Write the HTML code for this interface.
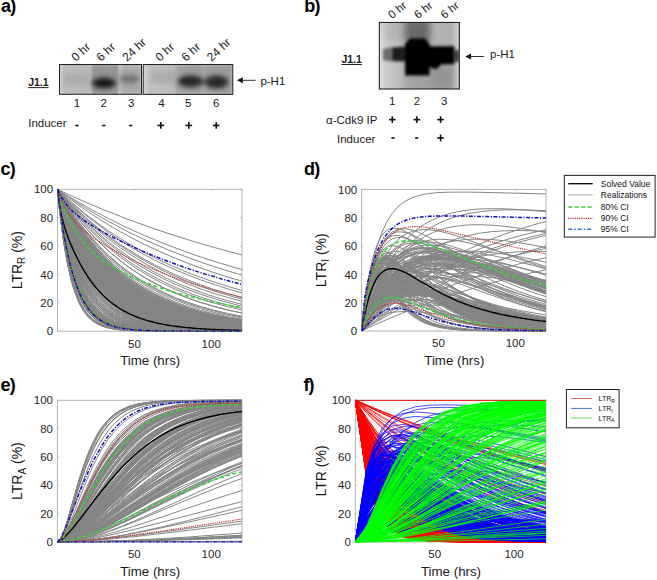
<!DOCTYPE html>
<html><head><meta charset="utf-8"><style>*{margin:0;padding:0}
html,body{width:657px;height:580px;overflow:hidden;background:#fff}
svg{display:block;font-family:"Liberation Sans",sans-serif}
.pl{font-size:18px;font-weight:bold;fill:#000;letter-spacing:-.8px}
.cal{font-size:11.5px;fill:#1a1a1a}
.rot{font-size:12px;fill:#1a1a1a}
.j11{font-size:10.5px;font-weight:bold;fill:#1a1a1a}
.tk{font-size:11.5px;fill:#262626}
.al{font-size:13.3px;fill:#1a1a1a}
.yl{font-size:14px;fill:#1a1a1a}
.lg{font-size:8.5px;fill:#111}
.lg2{font-size:7px;fill:#111}
.fr{stroke:#f00}
.fb{stroke:#00f}
.fg{stroke:#0f0}
.gr{fill:none;stroke:#858585;stroke-width:1}
.bk{fill:none;stroke:#000;stroke-width:1.4}
.cg{fill:none;stroke:#33d633;stroke-width:1.6;stroke-dasharray:4 2.5}
.cr{fill:none;stroke:#c02828;stroke-width:1.1;stroke-dasharray:1.2 1}
.cb{fill:none;stroke:#1010c0;stroke-width:1.5;stroke-dasharray:4 1.5 1.2 1.5}
</style></head><body>
<svg width="657" height="580" viewBox="0 0 657 580">
<defs>
<linearGradient id="ga1" x1="0" x2="1" y1="0" y2="0">
<stop offset="0" stop-color="#cfcfcf"/><stop offset=".06" stop-color="#bdbdbd"/><stop offset=".34" stop-color="#b8b8b8"/><stop offset=".38" stop-color="#c8c8c8"/><stop offset=".42" stop-color="#a5a5a5"/><stop offset=".7" stop-color="#a8a8a8"/><stop offset=".73" stop-color="#cdcdcd"/><stop offset=".78" stop-color="#b3b3b3"/><stop offset=".97" stop-color="#b0b0b0"/><stop offset="1" stop-color="#c8c8c8"/>
</linearGradient>
<linearGradient id="ga2" x1="0" x2="1" y1="0" y2="0">
<stop offset="0" stop-color="#d4d4d4"/><stop offset=".08" stop-color="#c0c0c0"/><stop offset=".35" stop-color="#b9b9b9"/><stop offset=".62" stop-color="#a9a9a9"/><stop offset=".66" stop-color="#b8b8b8"/><stop offset=".97" stop-color="#a8a8a8"/><stop offset="1" stop-color="#c6c6c6"/>
</linearGradient>
<linearGradient id="gb1" x1="0" x2="1" y1="0" y2="0">
<stop offset="0" stop-color="#dedede"/><stop offset=".1" stop-color="#cacaca"/><stop offset=".3" stop-color="#b8b8b8"/><stop offset=".5" stop-color="#a6a6a6"/><stop offset=".7" stop-color="#b4b4b4"/><stop offset=".9" stop-color="#b0b0b0"/><stop offset=".95" stop-color="#c4c4c4"/><stop offset="1" stop-color="#cfcfcf"/>
</linearGradient>
<filter id="bl2" x="-20%" y="-20%" width="140%" height="140%"><feGaussianBlur stdDeviation="2"/></filter>
<filter id="bl3" x="-20%" y="-20%" width="140%" height="140%"><feGaussianBlur stdDeviation="3.5"/></filter>
<filter id="bl15" x="-20%" y="-20%" width="140%" height="140%"><feGaussianBlur stdDeviation="1.6"/></filter>
<clipPath id="cb1"><rect x="59.5" y="64.5" width="82" height="29.8"/></clipPath>
<clipPath id="cb2"><rect x="143.2" y="64.5" width="89.6" height="29.9"/></clipPath>
<clipPath id="cb3"><rect x="379.3" y="22.4" width="80" height="66.6"/></clipPath>
<clipPath id="clipc"><rect x="57.5" y="188.3" width="185.1" height="143.5"/></clipPath>
<clipPath id="clipd"><rect x="361.6" y="188.4" width="185.0" height="143.2"/></clipPath>
<clipPath id="clipe"><rect x="57.4" y="399.3" width="185.2" height="143.3"/></clipPath>
<clipPath id="clipf"><rect x="355.3" y="399.2" width="191.1" height="143.3"/></clipPath>
</defs>
<text x="1" y="12.3" class="pl">a)</text>
<text x="304.2" y="12.3" class="pl">b)</text>
<text x="0.6" y="175.2" class="pl">c)</text>
<text x="304" y="175.2" class="pl">d)</text>
<text x="0.6" y="391.4" class="pl">e)</text>
<text x="303.4" y="391.4" class="pl">f)</text>
<g>
<rect x="59.5" y="64.5" width="82" height="29.8" fill="url(#ga1)"/>
<g clip-path="url(#cb1)" filter="url(#bl2)">
<rect x="64" y="74" width="24" height="11" fill="#9a9a9a" opacity=".45"/>
<rect x="91" y="66" width="27" height="27" fill="#8a8a8a" opacity=".7"/>
<ellipse cx="104" cy="83.2" rx="10.5" ry="4.4" fill="#000"/>
<ellipse cx="104" cy="83" rx="13" ry="7" fill="#222" opacity=".6"/>
<rect x="119" y="70" width="21" height="20" fill="#999" opacity=".5"/>
<ellipse cx="129.5" cy="79" rx="10" ry="4.5" fill="#6a6a6a" opacity=".8"/>
</g>
<rect x="59.5" y="64.5" width="82" height="29.8" fill="none" stroke="#222" stroke-width="1"/>
<rect x="143.2" y="64.5" width="89.6" height="29.9" fill="url(#ga2)"/>
<g clip-path="url(#cb2)" filter="url(#bl2)">
<rect x="151" y="72" width="24" height="11" fill="#999" opacity=".45"/>
<rect x="176" y="66" width="29" height="27" fill="#909090" opacity=".55"/>
<ellipse cx="190.5" cy="81" rx="11.5" ry="5" fill="#111"/>
<ellipse cx="190.5" cy="81.5" rx="14" ry="7.5" fill="#333" opacity=".6"/>
<rect x="205" y="66" width="26" height="27" fill="#8c8c8c" opacity=".55"/>
<ellipse cx="216.5" cy="82" rx="10.5" ry="5.5" fill="#1a1a1a"/>
<ellipse cx="216.5" cy="82" rx="13" ry="8" fill="#333" opacity=".6"/>
</g>
<rect x="143.2" y="64.5" width="89.6" height="29.9" fill="none" stroke="#222" stroke-width="1"/>
</g>
<rect x="379.3" y="22.4" width="80" height="66.6" fill="url(#gb1)"/>
<g clip-path="url(#cb3)">
<g filter="url(#bl3)">
<rect x="404" y="20" width="26" height="22" fill="#5e5e5e" opacity=".85"/>
<rect x="430" y="66" width="24" height="24" fill="#7a7a7a" opacity=".55"/>
<rect x="404" y="74" width="26" height="16" fill="#9a9a9a" opacity=".5"/>
<rect x="384" y="20" width="20" height="20" fill="#a8a8a8" opacity=".5"/>
</g>
<g filter="url(#bl15)">
<path d="M383 49L391 47.5L393 47L405 47V61L393 61.5L383 60Z" fill="#6a6a6a"/>
<path d="M392 47.5L405 46.5V61.5L392 61Z" fill="#1e1e1e"/>
<path d="M410 38.2H425L429.6 44V75.6H405V44Z" fill="#000"/>
<path d="M429 46.2H454.4V64.2L441 64.5L437 69L432 68.5L429 66Z" fill="#040404"/>
<rect x="455" y="50" width="4" height="12" fill="#333"/>
</g>
</g>
<rect x="379.3" y="22.4" width="80" height="66.6" fill="none" stroke="#111" stroke-width="1"/>
<text x="76" y="62" transform="rotate(-43 76 62)" class="rot" style="font-size:12px">0 hr</text>
<text x="101" y="62" transform="rotate(-43 101 62)" class="rot" style="font-size:12px">6 hr</text>
<text x="127" y="62" transform="rotate(-43 127 62)" class="rot" style="font-size:12px">24 hr</text>
<text x="160" y="62" transform="rotate(-43 160 62)" class="rot" style="font-size:12px">0 hr</text>
<text x="186" y="62" transform="rotate(-43 186 62)" class="rot" style="font-size:12px">6 hr</text>
<text x="211.5" y="62" transform="rotate(-43 211.5 62)" class="rot" style="font-size:12px">24 hr</text>
<text x="392" y="19.3" transform="rotate(-39 392 19.3)" class="rot" style="font-size:11.5px">0 hr</text>
<text x="418" y="19.3" transform="rotate(-39 418 19.3)" class="rot" style="font-size:11.5px">6 hr</text>
<text x="444.5" y="19.3" transform="rotate(-39 444.5 19.3)" class="rot" style="font-size:11.5px">6 hr</text>
<text x="28.2" y="85.7" class="j11">J1.1</text><rect x="28.2" y="87.1" width="20.4" height="1" fill="#222"/>
<text x="341.4" y="63.1" class="j11">J1.1</text><rect x="341.4" y="64" width="20.5" height="1" fill="#222"/>
<text x="77" y="107.1" class="cal" text-anchor="middle">1</text>
<text x="103.8" y="107.1" class="cal" text-anchor="middle">2</text>
<text x="131.2" y="107.1" class="cal" text-anchor="middle">3</text>
<text x="161.4" y="107.1" class="cal" text-anchor="middle">4</text>
<text x="188.2" y="107.1" class="cal" text-anchor="middle">5</text>
<text x="216.2" y="107.1" class="cal" text-anchor="middle">6</text>
<text x="392.3" y="104.5" class="cal" text-anchor="middle">1</text>
<text x="416.9" y="104.5" class="cal" text-anchor="middle">2</text>
<text x="444.2" y="104.5" class="cal" text-anchor="middle">3</text>
<text x="28.2" y="127.1" class="cal">Inducer</text>
<text x="337" y="142.8" class="cal">Inducer</text>
<text x="326" y="124" class="cal">α-Cdk9 IP</text>
<rect x="75.4" y="124.7" width="3.2" height="1.6" fill="#111"/>
<rect x="102.2" y="124.7" width="3.2" height="1.6" fill="#111"/>
<rect x="129.1" y="124.7" width="3.2" height="1.6" fill="#111"/>
<rect x="157.5" y="124.65" width="6.6" height="1.6" fill="#111"/><rect x="160.0" y="122.10000000000001" width="1.6" height="6.6" fill="#111"/>
<rect x="185.5" y="124.65" width="6.6" height="1.6" fill="#111"/><rect x="188.0" y="122.10000000000001" width="1.6" height="6.6" fill="#111"/>
<rect x="212.89999999999998" y="124.65" width="6.6" height="1.6" fill="#111"/><rect x="215.39999999999998" y="122.10000000000001" width="1.6" height="6.6" fill="#111"/>
<rect x="389.0" y="118.85" width="6.6" height="1.6" fill="#111"/><rect x="391.5" y="116.3" width="1.6" height="6.6" fill="#111"/>
<rect x="413.59999999999997" y="118.85" width="6.6" height="1.6" fill="#111"/><rect x="416.09999999999997" y="116.3" width="1.6" height="6.6" fill="#111"/>
<rect x="437.3" y="118.85" width="6.6" height="1.6" fill="#111"/><rect x="439.8" y="116.3" width="1.6" height="6.6" fill="#111"/>
<rect x="391.4" y="137.20000000000002" width="3.2" height="1.6" fill="#111"/>
<rect x="415.09999999999997" y="137.20000000000002" width="3.2" height="1.6" fill="#111"/>
<rect x="437.3" y="137.15" width="6.6" height="1.6" fill="#111"/><rect x="439.8" y="134.6" width="1.6" height="6.6" fill="#111"/>
<path d="M236.9 80.3l6 -3v6z" fill="#111"/><rect x="241.9" y="79.8" width="13.699999999999989" height="1" fill="#333"/>
<path d="M465.1 56.5l6 -3v6z" fill="#111"/><rect x="470.1" y="56.0" width="13.699999999999989" height="1" fill="#333"/>
<text x="260.4" y="84.7" class="cal">p-H1</text>
<text x="490" y="57.9" class="cal">p-H1</text>
<rect x="57.5" y="189.3" width="184.5" height="141.9" fill="none" stroke="#b4b4b4" stroke-width="1"/>
<path d="M57.5 331.2h1.8M242.0 331.2h-1.8M57.5 302.8h1.8M242.0 302.8h-1.8M57.5 274.4h1.8M242.0 274.4h-1.8M57.5 246.1h1.8M242.0 246.1h-1.8M57.5 217.7h1.8M242.0 217.7h-1.8M57.5 189.3h1.8M242.0 189.3h-1.8M134.4 331.2v-1.8M134.4 189.3v1.8M211.2 331.2v-1.8M211.2 189.3v1.8" stroke="#b4b4b4" stroke-width=".8" fill="none"/>
<text x="53.1" y="335.3" class="tk" text-anchor="end">0</text>
<text x="53.1" y="306.9" class="tk" text-anchor="end">20</text>
<text x="53.1" y="278.5" class="tk" text-anchor="end">40</text>
<text x="53.1" y="250.2" class="tk" text-anchor="end">60</text>
<text x="53.1" y="221.8" class="tk" text-anchor="end">80</text>
<text x="53.1" y="193.4" class="tk" text-anchor="end">100</text>
<text x="134.4" y="347.6" class="tk" text-anchor="middle">50</text>
<text x="211.2" y="347.6" class="tk" text-anchor="middle">100</text>
<text x="150.2" y="365.2" class="al" text-anchor="middle">Time (hrs)</text>
<text transform="translate(21.8 260.2) rotate(-90)" class="yl" text-anchor="middle">LTR<tspan font-size="10" dy="3.5">R</tspan><tspan dy="-3.5"> (%)</tspan></text>
<g clip-path="url(#clipc)">
<path d="M57.5 189.3l1.5 4.4 1.6 4.2 1.5 4.1 1.5 4 1.6 3.9 1.5 3.7 1.6 3.7 1.5 3.5 1.5 3.4 1.6 3.3 3.1 6.3 3 5.9 3.1 5.6 3.1 5.2 3 4.9 4.7 6.8 4.6 6.2 4.6 5.6 6.1 6.8 6.2 5.9 6.1 5.2 7.7 5.7 7.7 4.9 9.2 4.9 9.3 4.1 10.7 3.9 10.8 3.1 12.3 2.8 12.3 2.2 13.8 1.9 13.9 1.4 13.8 1.1M57.5 189.3l1.5 4 1.6 4 1.5 3.8 1.5 3.7 1.6 3.6 1.5 3.5 1.6 3.4 1.5 3.3 1.5 3.2 1.6 3.1 3.1 6 3 5.6 3.1 5.4 3.1 5 3 4.7 4.7 6.6 4.6 6.1 4.6 5.6 6.1 6.7 6.2 5.9 6.1 5.3 7.7 5.9 7.7 5 9.2 5.2 9.3 4.4 10.7 4.2 10.8 3.4 12.3 3.2 12.3 2.5 13.8 2.2 13.9 1.7 13.8 1.3M57.5 189.3l1.5 3.8 1.6 3.7 1.5 3.6 1.5 3.5 1.6 3.4 1.5 3.3 1.6 3.2 1.5 3.2 1.5 3 1.6 3 3.1 5.7 3 5.4 3.1 5.2 3.1 4.8 3 4.6 4.7 6.5 4.6 5.9 4.6 5.5 6.1 6.6 6.2 6 6.1 5.3 7.7 6 7.7 5.1 9.2 5.4 9.3 4.5 10.7 4.5 10.8 3.6 12.3 3.5 12.3 2.7 13.8 2.5 13.9 1.9 13.8 1.5M57.5 189.3l1.5 6.4 1.6 6 1.5 5.8 1.5 5.6 1.6 5.3 1.5 5 1.6 4.9 1.5 4.6 1.5 4.4 1.6 4.2 3.1 7.9 3 7.1 3.1 6.6 3.1 5.9 3 5.5 4.7 7.3 4.6 6.3 4.6 5.6 6.1 6.3 6.2 5.2 6.1 4.3 7.7 4.5 7.7 3.5 9.2 3.3 9.3 2.5 10.7 2.2 10.8 1.5 12.3 1.3 12.3.9 13.8.7 13.9.4 13.8.3M57.5 189.3l1.5 5.2 1.6 5.1 1.5 4.8 1.5 4.7 1.6 4.5 1.5 4.3 1.6 4.2 1.5 4 1.5 3.9 1.6 3.7 3.1 7.1 3 6.5 3.1 6.1 3.1 5.6 3 5.2 4.7 7.2 4.6 6.3 4.6 5.7 6.1 6.7 6.2 5.7 6.1 5 7.7 5.2 7.7 4.3 9.2 4.2 9.3 3.4 10.7 3.1 10.8 2.3 12.3 2.1 12.3 1.5 13.8 1.2 13.9.9 13.8.6M57.5 189.3l1.5 10.3 1.6 9.5 1.5 8.9 1.5 8.2 1.6 7.6 1.5 7.1 1.6 6.5 1.5 6.1 1.5 5.7 1.6 5.2 3.1 9.3 3 8.1 3.1 6.9 3.1 5.9 3 5.1 4.7 6.4 4.6 5.1 4.6 4 6.1 4.2 6.2 3.1 6.1 2.2 7.7 2.1 7.7 1.4 9.2 1.1 9.3.7 10.7.5 10.8.3 12.3.2 12.3.1 13.8 0 13.9.1 13.8 0M57.5 189.3l1.5 4.1 1.6 3.9 1.5 3.9 1.5 3.7 1.6 3.6 1.5 3.5 1.6 3.5 1.5 3.3 1.5 3.2 1.6 3.1 3.1 6 3 5.7 3.1 5.3 3.1 5.1 3 4.7 4.7 6.7 4.6 6 4.6 5.6 6.1 6.7 6.2 6 6.1 5.3 7.7 5.8 7.7 5 9.2 5.2 9.3 4.3 10.7 4.2 10.8 3.4 12.3 3.2 12.3 2.4 13.8 2.2 13.9 1.7 13.8 1.3M57.5 189.3l1.5 4.1 1.6 4 1.5 3.9 1.5 3.7 1.6 3.7 1.5 3.5 1.6 3.5 1.5 3.3 1.5 3.3 1.6 3.1 3.1 6.1 3 5.7 3.1 5.3 3.1 5.1 3 4.8 4.7 6.6 4.6 6.1 4.6 5.6 6.1 6.7 6.2 6 6.1 5.3 7.7 5.8 7.7 5 9.2 5.1 9.3 4.3 10.7 4.2 10.8 3.3 12.3 3.1 12.3 2.5 13.8 2.1 13.9 1.7 13.8 1.2M57.5 189.3l1.5 9.9 1.6 9.1 1.5 8.6 1.5 7.9 1.6 7.4 1.5 6.9 1.6 6.4 1.5 5.9 1.5 5.6 1.6 5.1 3.1 9.3 3 8 3.1 6.9 3.1 6 3 5.3 4.7 6.5 4.6 5.3 4.6 4.2 6.1 4.4 6.2 3.3 6.1 2.5 7.7 2.2 7.7 1.6 9.2 1.3 9.3.8 10.7.6 10.8.3 12.3.3 12.3.1 13.8.1 13.9.1 13.8 0M57.5 189.3l1.5 3.1 1.6 3 1.5 2.9 1.5 2.9 1.6 2.8 1.5 2.7 1.6 2.7 1.5 2.7 1.5 2.5 1.6 2.5 3.1 4.9 3 4.7 3.1 4.5 3.1 4.2 3 4.1 4.7 5.8 4.6 5.5 4.6 5.1 6.1 6.3 6.2 5.8 6.1 5.3 7.7 6 7.7 5.3 9.2 5.8 9.3 5 10.7 5.1 10.8 4.3 12.3 4.2 12.3 3.6 13.8 3.3 13.9 2.7 13.8 2.3M57.5 189.3l1.5 4.1 1.6 4 1.5 3.8 1.5 3.8 1.6 3.6 1.5 3.5 1.6 3.5 1.5 3.3 1.5 3.2 1.6 3.2 3.1 6 3 5.7 3.1 5.3 3.1 5.1 3 4.7 4.7 6.7 4.6 6.1 4.6 5.5 6.1 6.7 6.2 6 6.1 5.3 7.7 5.8 7.7 5.1 9.2 5.1 9.3 4.3 10.7 4.2 10.8 3.4 12.3 3.1 12.3 2.5 13.8 2.1 13.9 1.7 13.8 1.3M57.5 189.3l1.5 3.9 1.6 3.7 1.5 3.7 1.5 3.6 1.6 3.4 1.5 3.4 1.6 3.3 1.5 3.2 1.5 3.1 1.6 3 3.1 5.8 3 5.5 3.1 5.2 3.1 4.9 3 4.6 4.7 6.5 4.6 6 4.6 5.5 6.1 6.7 6.2 5.9 6.1 5.4 7.7 5.9 7.7 5.1 9.2 5.3 9.3 4.5 10.7 4.3 10.8 3.6 12.3 3.4 12.3 2.7 13.8 2.4 13.9 1.8 13.8 1.5M57.5 189.3l1.5 11.8 1.6 10.8 1.5 9.9 1.5 9.1 1.6 8.4 1.5 7.6 1.6 7 1.5 6.4 1.5 5.9 1.6 5.4 3.1 9.5 3 8 3.1 6.7 3.1 5.7 3 4.7 4.7 5.7 4.6 4.4 4.6 3.5 6.1 3.3 6.2 2.4 6.1 1.7 7.7 1.4 7.7.9 9.2.7 9.3.4 10.7.3 10.8.1 12.3.1 12.3.1 13.8 0 13.9 0 13.8 0M57.5 189.3l1.5 11.9 1.6 10.9 1.5 10 1.5 9.1 1.6 8.4 1.5 7.7 1.6 7 1.5 6.4 1.5 5.9 1.6 5.4 3.1 9.5 3 8 3.1 6.7 3.1 5.6 3 4.7 4.7 5.7 4.6 4.4 4.6 3.4 6.1 3.3 6.2 2.3 6.1 1.7 7.7 1.4 7.7.9 9.2.6 9.3.4 10.7.3 10.8.1 12.3.1 12.3.1 13.8 0 13.9 0 13.8 0M57.5 189.3l1.5 3.3 1.6 3.3 1.5 3.1 1.5 3.1 1.6 3 1.5 3 1.6 2.8 1.5 2.9 1.5 2.7 1.6 2.7 3.1 5.2 3 4.9 3.1 4.7 3.1 4.5 3 4.3 4.7 6 4.6 5.7 4.6 5.2 6.1 6.5 6.2 5.8 6.1 5.4 7.7 6 7.7 5.3 9.2 5.6 9.3 4.9 10.7 4.9 10.8 4.1 12.3 4 12.3 3.3 13.8 3 13.9 2.4 13.8 2M57.5 189.3l1.5 10 1.6 9.2 1.5 8.6 1.5 8 1.6 7.4 1.5 7 1.6 6.4 1.5 6 1.5 5.5 1.6 5.2 3.1 9.3 3 8 3.1 7 3.1 6 3 5.2 4.7 6.4 4.6 5.3 4.6 4.2 6.1 4.3 6.2 3.3 6.1 2.4 7.7 2.2 7.7 1.5 9.2 1.3 9.3.7 10.7.6 10.8.4 12.3.2 12.3.1 13.8.1 13.9.1 13.8 0M57.5 189.3l1.5 4.1 1.6 4 1.5 3.9 1.5 3.8 1.6 3.7 1.5 3.6 1.6 3.4 1.5 3.4 1.5 3.3 1.6 3.1 3.1 6.1 3 5.7 3.1 5.4 3.1 5.1 3 4.8 4.7 6.6 4.6 6.1 4.6 5.6 6.1 6.7 6.2 6 6.1 5.3 7.7 5.8 7.7 5 9.2 5.1 9.3 4.3 10.7 4.1 10.8 3.3 12.3 3.1 12.3 2.4 13.8 2.1 13.9 1.7 13.8 1.2M57.5 189.3l1.5 8.8 1.6 8.3 1.5 7.8 1.5 7.3 1.6 6.8 1.5 6.5 1.6 6 1.5 5.6 1.5 5.3 1.6 4.9 3.1 9 3 8 3.1 6.9 3.1 6.1 3 5.4 4.7 6.9 4.6 5.7 4.6 4.6 6.1 5 6.2 3.9 6.1 3 7.7 2.7 7.7 2.1 9.2 1.7 9.3 1.1 10.7.9 10.8.6 12.3.4 12.3.2 13.8.2 13.9.1 13.8 0M57.5 189.3l1.5 12.2 1.6 11.1 1.5 10.2 1.5 9.3 1.6 8.5 1.5 7.8 1.6 7.1 1.5 6.5 1.5 5.9 1.6 5.5 3.1 9.5 3 7.9 3.1 6.6 3.1 5.6 3 4.6 4.7 5.6 4.6 4.2 4.6 3.3 6.1 3.2 6.2 2.2 6.1 1.5 7.7 1.3 7.7.8 9.2.6 9.3.4 10.7.2 10.8.2 12.3 0 12.3.1 13.8 0 13.9 0 13.8 0M57.5 189.3l1.5 3 1.6 2.9 1.5 2.8 1.5 2.8 1.6 2.8 1.5 2.6 1.6 2.7 1.5 2.5 1.5 2.5 1.6 2.5 3.1 4.8 3 4.5 3.1 4.4 3.1 4.2 3 4 4.7 5.7 4.6 5.4 4.6 5 6.1 6.3 6.2 5.7 6.1 5.3 7.7 5.9 7.7 5.4 9.2 5.8 9.3 5 10.7 5.2 10.8 4.4 12.3 4.4 12.3 3.6 13.8 3.4 13.9 2.9 13.8 2.3M57.5 189.3l1.5 4.3 1.6 4.3 1.5 4.1 1.5 3.9 1.6 3.9 1.5 3.7 1.6 3.6 1.5 3.5 1.5 3.4 1.6 3.3 3.1 6.2 3 5.9 3.1 5.6 3.1 5.2 3 4.9 4.7 6.8 4.6 6.1 4.6 5.7 6.1 6.7 6.2 6 6.1 5.2 7.7 5.7 7.7 4.9 9.2 4.9 9.3 4.1 10.7 3.9 10.8 3.2 12.3 2.8 12.3 2.3 13.8 1.9 13.9 1.4 13.8 1.1M57.5 189.3l1.5 11.2 1.6 10.3 1.5 9.5 1.5 8.8 1.6 8 1.5 7.4 1.6 6.9 1.5 6.3 1.5 5.8 1.6 5.3 3.1 9.5 3 8 3.1 6.8 3.1 5.8 3 4.9 4.7 6 4.6 4.6 4.6 3.7 6.1 3.7 6.2 2.6 6.1 1.9 7.7 1.7 7.7 1.1 9.2.8 9.3.5 10.7.3 10.8.2 12.3.2 12.3 0 13.8.1 13.9 0 13.8 0M57.5 189.3l1.5 3.1 1.6 3.1 1.5 2.9 1.5 3 1.6 2.8 1.5 2.8 1.6 2.7 1.5 2.7 1.5 2.6 1.6 2.6 3.1 4.9 3 4.7 3.1 4.5 3.1 4.3 3 4.2 4.7 5.8 4.6 5.5 4.6 5.2 6.1 6.3 6.2 5.8 6.1 5.3 7.7 6 7.7 5.4 9.2 5.7 9.3 5 10.7 5 10.8 4.3 12.3 4.2 12.3 3.5 13.8 3.3 13.9 2.6 13.8 2.2M57.5 189.3l1.5 5.1 1.6 4.9 1.5 4.8 1.5 4.5 1.6 4.5 1.5 4.2 1.6 4.1 1.5 4 1.5 3.8 1.6 3.6 3.1 7 3 6.5 3.1 6 3.1 5.5 3 5.2 4.7 7.1 4.6 6.4 4.6 5.7 6.1 6.7 6.2 5.7 6.1 5 7.7 5.3 7.7 4.4 9.2 4.3 9.3 3.5 10.7 3.2 10.8 2.5 12.3 2.1 12.3 1.6 13.8 1.3 13.9 1 13.8.7M57.5 189.3l1.5 11.6 1.6 10.7 1.5 9.7 1.5 9 1.6 8.3 1.5 7.5 1.6 7 1.5 6.4 1.5 5.9 1.6 5.3 3.1 9.5 3 8 3.1 6.8 3.1 5.6 3 4.8 4.7 5.9 4.6 4.5 4.6 3.4 6.1 3.5 6.2 2.5 6.1 1.7 7.7 1.5 7.7 1 9.2.7 9.3.4 10.7.3 10.8.2 12.3.1 12.3 0 13.8.1 13.9 0 13.8 0M57.5 189.3l1.5 4.6 1.6 4.5 1.5 4.4 1.5 4.1 1.6 4.1 1.5 3.9 1.6 3.8 1.5 3.7 1.5 3.6 1.6 3.4 3.1 6.5 3 6.2 3.1 5.7 3.1 5.3 3 5.1 4.7 6.9 4.6 6.3 4.6 5.6 6.1 6.8 6.2 5.9 6.1 5.1 7.7 5.6 7.7 4.7 9.2 4.7 9.3 3.9 10.7 3.6 10.8 2.9 12.3 2.6 12.3 1.9 13.8 1.7 13.9 1.2 13.8 1M57.5 189.3l1.5 3 1.6 3 1.5 2.9 1.5 2.9 1.6 2.8 1.5 2.7 1.6 2.7 1.5 2.6 1.5 2.6 1.6 2.5 3.1 4.8 3 4.7 3.1 4.4 3.1 4.3 3 4.1 4.7 5.8 4.6 5.4 4.6 5.1 6.1 6.3 6.2 5.7 6.1 5.3 7.7 6 7.7 5.4 9.2 5.7 9.3 5.1 10.7 5.1 10.8 4.3 12.3 4.3 12.3 3.6 13.8 3.3 13.9 2.7 13.8 2.3M57.5 189.3l1.5 7 1.6 6.7 1.5 6.3 1.5 6.1 1.6 5.7 1.5 5.5 1.6 5.1 1.5 5 1.5 4.6 1.6 4.5 3.1 8.2 3 7.5 3.1 6.7 3.1 6.1 3 5.5 4.7 7.2 4.6 6.3 4.6 5.3 6.1 6 6.2 4.9 6.1 4 7.7 4 7.7 3 9.2 2.8 9.3 2.1 10.7 1.7 10.8 1.3 12.3.9 12.3.6 13.8.5 13.9.3 13.8.2M57.5 189.3l1.5 7.3 1.6 6.9 1.5 6.5 1.5 6.2 1.6 5.9 1.5 5.6 1.6 5.3 1.5 5 1.5 4.8 1.6 4.5 3.1 8.4 3 7.5 3.1 6.8 3.1 6.1 3 5.5 4.7 7.2 4.6 6.2 4.6 5.3 6.1 5.9 6.2 4.7 6.1 3.9 7.7 3.8 7.7 2.9 9.2 2.6 9.3 1.9 10.7 1.6 10.8 1.1 12.3.9 12.3.5 13.8.4 13.9.3 13.8.1M57.5 189.3l1.5 5.7 1.6 5.4 1.5 5.2 1.5 5 1.6 4.9 1.5 4.6 1.6 4.4 1.5 4.3 1.5 4.1 1.6 3.9 3.1 7.4 3 6.8 3.1 6.3 3.1 5.8 3 5.3 4.7 7.2 4.6 6.4 4.6 5.7 6.1 6.5 6.2 5.6 6.1 4.7 7.7 4.9 7.7 4.1 9.2 3.8 9.3 3 10.7 2.7 10.8 2 12.3 1.8 12.3 1.2 13.8 1 13.9.7 13.8.4M57.5 189.3l1.5 9.7 1.6 9 1.5 8.4 1.5 7.8 1.6 7.3 1.5 6.8 1.6 6.3 1.5 5.9 1.5 5.5 1.6 5.1 3.1 9.2 3 8 3.1 7 3.1 6 3 5.3 4.7 6.6 4.6 5.3 4.6 4.3 6.1 4.6 6.2 3.4 6.1 2.5 7.7 2.4 7.7 1.6 9.2 1.4 9.3.8 10.7.7 10.8.4 12.3.2 12.3.2 13.8.1 13.9 0 13.8.1M57.5 189.3l1.5 5.2 1.6 5 1.5 4.8 1.5 4.7 1.6 4.5 1.5 4.3 1.6 4.2 1.5 4 1.5 3.8 1.6 3.7 3.1 7.1 3 6.5 3.1 6.1 3.1 5.6 3 5.2 4.7 7.1 4.6 6.4 4.6 5.7 6.1 6.7 6.2 5.7 6.1 4.9 7.7 5.3 7.7 4.3 9.2 4.2 9.3 3.4 10.7 3.1 10.8 2.4 12.3 2.1 12.3 1.5 13.8 1.3 13.9.9 13.8.6M57.5 189.3l1.5 3.6 1.6 3.5 1.5 3.4 1.5 3.4 1.6 3.2 1.5 3.2 1.6 3.1 1.5 3 1.5 2.9 1.6 2.9 3.1 5.5 3 5.2 3.1 5 3.1 4.7 3 4.5 4.7 6.3 4.6 5.8 4.6 5.4 6.1 6.6 6.2 5.9 6.1 5.4 7.7 5.9 7.7 5.3 9.2 5.4 9.3 4.7 10.7 4.7 10.8 3.8 12.3 3.7 12.3 2.9 13.8 2.7 13.9 2.1 13.8 1.7M57.5 189.3l1.5 11.3 1.6 10.5 1.5 9.6 1.5 8.8 1.6 8.1 1.5 7.5 1.6 6.9 1.5 6.3 1.5 5.8 1.6 5.4 3.1 9.5 3 8 3.1 6.8 3.1 5.7 3 4.9 4.7 5.9 4.6 4.6 4.6 3.6 6.1 3.6 6.2 2.6 6.1 1.8 7.7 1.6 7.7 1.1 9.2.8 9.3.5 10.7.3 10.8.2 12.3.1 12.3 0 13.8.1 13.9 0 13.8 0M57.5 189.3l1.5 7.3 1.6 7 1.5 6.6 1.5 6.3 1.6 5.9 1.5 5.6 1.6 5.4 1.5 5 1.5 4.8 1.6 4.6 3.1 8.4 3 7.5 3.1 6.8 3.1 6.1 3 5.5 4.7 7.3 4.6 6.1 4.6 5.3 6.1 5.8 6.2 4.7 6.1 3.8 7.7 3.8 7.7 2.8 9.2 2.6 9.3 1.9 10.7 1.6 10.8 1 12.3.8 12.3.6 13.8.4 13.9.2 13.8.2M57.5 189.3l1.5 4.2 1.6 4.1 1.5 4 1.5 3.9 1.6 3.7 1.5 3.7 1.6 3.5 1.5 3.4 1.5 3.4 1.6 3.2 3.1 6.1 3 5.8 3.1 5.5 3.1 5.1 3 4.9 4.7 6.7 4.6 6.1 4.6 5.7 6.1 6.7 6.2 5.9 6.1 5.3 7.7 5.8 7.7 4.9 9.2 5.1 9.3 4.2 10.7 4 10.8 3.2 12.3 3 12.3 2.3 13.8 2 13.9 1.6 13.8 1.2M57.5 189.3l1.5 6.1 1.6 5.8 1.5 5.6 1.5 5.3 1.6 5.1 1.5 4.9 1.6 4.6 1.5 4.5 1.5 4.3 1.6 4.1 3.1 7.7 3 7 3.1 6.4 3.1 5.9 3 5.5 4.7 7.2 4.6 6.4 4.6 5.6 6.1 6.4 6.2 5.4 6.1 4.5 7.7 4.6 7.7 3.8 9.2 3.5 9.3 2.7 10.7 2.4 10.8 1.7 12.3 1.5 12.3 1 13.8.8 13.9.5 13.8.4M57.5 189.3l1.5 3.3 1.6 3.2 1.5 3.1 1.5 3.1 1.6 2.9 1.5 2.9 1.6 2.9 1.5 2.8 1.5 2.7 1.6 2.6 3.1 5.2 3 4.9 3.1 4.6 3.1 4.5 3 4.2 4.7 6.1 4.6 5.6 4.6 5.2 6.1 6.4 6.2 5.9 6.1 5.3 7.7 6 7.7 5.4 9.2 5.6 9.3 4.9 10.7 4.9 10.8 4.2 12.3 4 12.3 3.3 13.8 3.1 13.9 2.5 13.8 2M57.5 189.3l1.5 12.6 1.6 11.6 1.5 10.4 1.5 9.6 1.6 8.7 1.5 7.9 1.6 7.2 1.5 6.6 1.5 6 1.6 5.5 3.1 9.5 3 7.9 3.1 6.5 3.1 5.4 3 4.5 4.7 5.4 4.6 4.1 4.6 3 6.1 3 6.2 2 6.1 1.4 7.7 1.2 7.7.7 9.2.5 9.3.3 10.7.2 10.8.1 12.3 0 12.3.1 13.8 0 13.9 0 13.8 0M57.5 189.3l1.5 1.8 1.6 1.8 1.5 1.8 1.5 1.8 1.6 1.7 1.5 1.7 1.6 1.7 1.5 1.7 1.5 1.7 1.6 1.6 3.1 3.2 3 3.1 3.1 3 3.1 3 3 2.9 4.7 4.1 4.6 4.1 4.6 3.8 6.1 5 6.2 4.6 6.1 4.5 7.7 5.2 7.7 4.9 9.2 5.5 9.3 5.1 10.7 5.4 10.8 5 12.3 5.1 12.3 4.7 13.8 4.7 13.9 4.1 13.8 3.7M57.5 189.3l1.5 1 1.6 1 1.5.9 1.5 1 1.6 1 1.5.9 1.6.9 1.5 1 1.5.9 1.6.9 3.1 1.9 3 1.8 3.1 1.7 3.1 1.8 3 1.7 4.7 2.6 4.6 2.5 4.6 2.4 6.1 3.2 6.2 3.1 6.1 3 7.7 3.7 7.7 3.5 9.2 4 9.3 3.9 10.7 4.4 10.8 4.1 12.3 4.5 12.3 4.3 13.8 4.5 13.9 4.2 13.8 4M57.5 189.3l1.5 3.5 1.6 3.4 1.5 3.4 1.5 3.2 1.6 3.2 1.5 3.1 1.6 3 1.5 2.9 1.5 2.9 1.6 2.8 3.1 5.4 3 5.1 3.1 4.9 3.1 4.6 3 4.4 4.7 6.3 4.6 5.7 4.6 5.4 6.1 6.5 6.2 5.9 6.1 5.4 7.7 6 7.7 5.3 9.2 5.5 9.3 4.7 10.7 4.8 10.8 3.9 12.3 3.8 12.3 3 13.8 2.8 13.9 2.3 13.8 1.7M57.5 189.3l1.5 4.8 1.6 4.7 1.5 4.5 1.5 4.4 1.6 4.2 1.5 4.1 1.6 3.9 1.5 3.8 1.5 3.7 1.6 3.5 3.1 6.7 3 6.3 3.1 5.9 3.1 5.4 3 5.1 4.7 7 4.6 6.3 4.6 5.7 6.1 6.7 6.2 5.9 6.1 5.1 7.7 5.4 7.7 4.6 9.2 4.6 9.3 3.7 10.7 3.4 10.8 2.7 12.3 2.4 12.3 1.8 13.8 1.5 13.9 1.1 13.8.8M57.5 189.3l1.5 6.5 1.6 6.1 1.5 5.9 1.5 5.6 1.6 5.4 1.5 5.1 1.6 4.9 1.5 4.7 1.5 4.4 1.6 4.3 3.1 7.9 3 7.2 3.1 6.6 3.1 6 3 5.4 4.7 7.3 4.6 6.4 4.6 5.5 6.1 6.2 6.2 5.2 6.1 4.3 7.7 4.4 7.7 3.4 9.2 3.2 9.3 2.5 10.7 2.1 10.8 1.5 12.3 1.2 12.3.8 13.8.7 13.9.4 13.8.3M57.5 189.3l1.5 5.2 1.6 5 1.5 4.8 1.5 4.6 1.6 4.5 1.5 4.3 1.6 4.1 1.5 4 1.5 3.8 1.6 3.7 3.1 7 3 6.6 3.1 6 3.1 5.6 3 5.2 4.7 7.1 4.6 6.4 4.6 5.7 6.1 6.7 6.2 5.7 6.1 5 7.7 5.2 7.7 4.4 9.2 4.2 9.3 3.4 10.7 3.2 10.8 2.4 12.3 2.1 12.3 1.5 13.8 1.3 13.9.9 13.8.7M57.5 189.3l1.5 4.3 1.6 4.2 1.5 4.1 1.5 3.9 1.6 3.9 1.5 3.7 1.6 3.6 1.5 3.4 1.5 3.4 1.6 3.3 3.1 6.3 3 5.8 3.1 5.6 3.1 5.2 3 4.8 4.7 6.8 4.6 6.2 4.6 5.6 6.1 6.8 6.2 5.9 6.1 5.3 7.7 5.7 7.7 4.9 9.2 4.9 9.3 4.1 10.7 4 10.8 3.1 12.3 2.9 12.3 2.2 13.8 2 13.9 1.4 13.8 1.2M57.5 189.3l1.5 3.6 1.6 3.5 1.5 3.3 1.5 3.4 1.6 3.2 1.5 3.1 1.6 3.1 1.5 3 1.5 2.9 1.6 2.8 3.1 5.5 3 5.2 3.1 4.9 3.1 4.7 3 4.5 4.7 6.3 4.6 5.8 4.6 5.4 6.1 6.5 6.2 6 6.1 5.3 7.7 6 7.7 5.2 9.2 5.5 9.3 4.7 10.7 4.7 10.8 3.9 12.3 3.7 12.3 2.9 13.8 2.8 13.9 2.1 13.8 1.7M57.5 189.3l1.5 5.9 1.6 5.6 1.5 5.4 1.5 5.2 1.6 4.9 1.5 4.8 1.6 4.5 1.5 4.4 1.5 4.2 1.6 4 3.1 7.5 3 6.9 3.1 6.4 3.1 5.8 3 5.4 4.7 7.3 4.6 6.4 4.6 5.6 6.1 6.5 6.2 5.4 6.1 4.7 7.7 4.8 7.7 3.8 9.2 3.7 9.3 2.9 10.7 2.5 10.8 1.9 12.3 1.6 12.3 1.1 13.8.9 13.9.6 13.8.4M57.5 189.3l1.5 3.6 1.6 3.6 1.5 3.4 1.5 3.4 1.6 3.3 1.5 3.1 1.6 3.2 1.5 3 1.5 2.9 1.6 2.9 3.1 5.5 3 5.3 3.1 5 3.1 4.7 3 4.5 4.7 6.3 4.6 5.9 4.6 5.4 6.1 6.6 6.2 5.9 6.1 5.4 7.7 5.9 7.7 5.3 9.2 5.4 9.3 4.7 10.7 4.6 10.8 3.8 12.3 3.6 12.3 3 13.8 2.6 13.9 2.1 13.8 1.7M57.5 189.3l1.5 8.1 1.6 7.6 1.5 7.1 1.5 6.8 1.6 6.4 1.5 6 1.6 5.6 1.5 5.4 1.5 5 1.6 4.8 3.1 8.7 3 7.8 3.1 6.9 3.1 6.1 3 5.5 4.7 7.1 4.6 6 4.6 4.9 6.1 5.5 6.2 4.3 6.1 3.4 7.7 3.3 7.7 2.4 9.2 2.1 9.3 1.5 10.7 1.2 10.8.8 12.3.6 12.3.4 13.8.2 13.9.2 13.8.1M57.5 189.3l1.5 3.8 1.6 3.8 1.5 3.6 1.5 3.5 1.6 3.5 1.5 3.3 1.6 3.3 1.5 3.1 1.5 3.1 1.6 3 3.1 5.7 3 5.5 3.1 5.1 3.1 4.9 3 4.6 4.7 6.5 4.6 6 4.6 5.5 6.1 6.6 6.2 6 6.1 5.3 7.7 5.9 7.7 5.2 9.2 5.3 9.3 4.5 10.7 4.4 10.8 3.7 12.3 3.4 12.3 2.7 13.8 2.4 13.9 1.9 13.8 1.5M57.5 189.3l1.5 5.5 1.6 5.2 1.5 5.1 1.5 4.8 1.6 4.7 1.5 4.5 1.6 4.3 1.5 4.1 1.5 4 1.6 3.9 3.1 7.2 3 6.7 3.1 6.2 3.1 5.7 3 5.3 4.7 7.2 4.6 6.3 4.6 5.7 6.1 6.6 6.2 5.7 6.1 4.8 7.7 5.1 7.7 4.1 9.2 4 9.3 3.2 10.7 2.9 10.8 2.2 12.3 1.8 12.3 1.4 13.8 1.1 13.9.8 13.8.5M57.5 189.3l1.5 5.3 1.6 5 1.5 4.9 1.5 4.7 1.6 4.5 1.5 4.4 1.6 4.2 1.5 4 1.5 3.9 1.6 3.8 3.1 7 3 6.6 3.1 6.1 3.1 5.6 3 5.3 4.7 7.1 4.6 6.4 4.6 5.7 6.1 6.6 6.2 5.8 6.1 4.9 7.7 5.2 7.7 4.3 9.2 4.1 9.3 3.4 10.7 3 10.8 2.4 12.3 2 12.3 1.5 13.8 1.2 13.9.9 13.8.6M57.5 189.3l1.5 4.7 1.6 4.6 1.5 4.4 1.5 4.3 1.6 4.1 1.5 4 1.6 3.8 1.5 3.7 1.5 3.6 1.6 3.5 3.1 6.6 3 6.2 3.1 5.8 3.1 5.4 3 5.1 4.7 6.9 4.6 6.3 4.6 5.7 6.1 6.7 6.2 5.9 6.1 5.1 7.7 5.6 7.7 4.6 9.2 4.7 9.3 3.8 10.7 3.5 10.8 2.8 12.3 2.5 12.3 1.9 13.8 1.6 13.9 1.2 13.8.9M57.5 189.3l1.5 4.8 1.6 4.6 1.5 4.5 1.5 4.3 1.6 4.2 1.5 4.1 1.6 3.9 1.5 3.7 1.5 3.7 1.6 3.5 3.1 6.7 3 6.2 3.1 5.8 3.1 5.5 3 5.1 4.7 7 4.6 6.3 4.6 5.6 6.1 6.8 6.2 5.8 6.1 5.1 7.7 5.5 7.7 4.6 9.2 4.6 9.3 3.7 10.7 3.5 10.8 2.7 12.3 2.5 12.3 1.8 13.8 1.5 13.9 1.2 13.8.8M57.5 189.3l1.5 3.5 1.6 3.3 1.5 3.3 1.5 3.2 1.6 3.1 1.5 3.1 1.6 3 1.5 2.9 1.5 2.8 1.6 2.8 3.1 5.3 3 5.1 3.1 4.8 3.1 4.6 3 4.4 4.7 6.2 4.6 5.7 4.6 5.3 6.1 6.6 6.2 5.9 6.1 5.3 7.7 6 7.7 5.3 9.2 5.5 9.3 4.8 10.7 4.8 10.8 4 12.3 3.8 12.3 3.1 13.8 2.9 13.9 2.3 13.8 1.8M57.5 189.3l1.5 5.5 1.6 5.2 1.5 5.1 1.5 4.9 1.6 4.7 1.5 4.5 1.6 4.3 1.5 4.1 1.5 4 1.6 3.9 3.1 7.2 3 6.7 3.1 6.2 3.1 5.7 3 5.3 4.7 7.2 4.6 6.4 4.6 5.7 6.1 6.6 6.2 5.6 6.1 4.9 7.7 5 7.7 4.1 9.2 4.1 9.3 3.1 10.7 2.9 10.8 2.2 12.3 1.8 12.3 1.4 13.8 1 13.9.8 13.8.5M57.5 189.3l1.5 2 1.6 1.9 1.5 1.9 1.5 1.9 1.6 1.8 1.5 1.8 1.6 1.8 1.5 1.8 1.5 1.8 1.6 1.7 3.1 3.4 3 3.3 3.1 3.2 3.1 3.1 3 3 4.7 4.4 4.6 4.2 4.6 4 6.1 5.2 6.2 4.8 6.1 4.6 7.7 5.4 7.7 5 9.2 5.6 9.3 5.1 10.7 5.5 10.8 5 12.3 5.1 12.3 4.6 13.8 4.6 13.9 4 13.8 3.6M57.5 189.3l1.5 3.7 1.6 3.6 1.5 3.6 1.5 3.4 1.6 3.3 1.5 3.3 1.6 3.2 1.5 3 1.5 3.1 1.6 2.9 3.1 5.6 3 5.3 3.1 5.1 3.1 4.8 3 4.5 4.7 6.4 4.6 5.9 4.6 5.5 6.1 6.6 6.2 5.9 6.1 5.4 7.7 5.9 7.7 5.2 9.2 5.4 9.3 4.6 10.7 4.6 10.8 3.7 12.3 3.5 12.3 2.9 13.8 2.5 13.9 2 13.8 1.6M57.5 189.3l1.5 3.3 1.6 3.2 1.5 3.1 1.5 3.1 1.6 3 1.5 2.9 1.6 2.9 1.5 2.7 1.5 2.8 1.6 2.6 3.1 5.2 3 4.9 3.1 4.7 3.1 4.4 3 4.3 4.7 6 4.6 5.6 4.6 5.3 6.1 6.4 6.2 5.9 6.1 5.3 7.7 6 7.7 5.3 9.2 5.7 9.3 4.9 10.7 4.9 10.8 4.1 12.3 4 12.3 3.3 13.8 3.1 13.9 2.5 13.8 2M57.5 189.3l1.5 12.1 1.6 11.1 1.5 10.1 1.5 9.3 1.6 8.5 1.5 7.7 1.6 7.1 1.5 6.5 1.5 5.9 1.6 5.5 3.1 9.5 3 7.9 3.1 6.7 3.1 5.5 3 4.7 4.7 5.6 4.6 4.2 4.6 3.3 6.1 3.2 6.2 2.3 6.1 1.5 7.7 1.4 7.7.8 9.2.6 9.3.4 10.7.2 10.8.2 12.3 0 12.3.1 13.8 0 13.9 0 13.8 0M57.5 189.3l1.5 3.7 1.6 3.5 1.5 3.5 1.5 3.4 1.6 3.3 1.5 3.2 1.6 3.1 1.5 3 1.5 3 1.6 2.9 3.1 5.6 3 5.2 3.1 5 3.1 4.8 3 4.5 4.7 6.3 4.6 5.9 4.6 5.4 6.1 6.6 6.2 6 6.1 5.3 7.7 6 7.7 5.2 9.2 5.4 9.3 4.7 10.7 4.6 10.8 3.8 12.3 3.6 12.3 2.9 13.8 2.6 13.9 2.1 13.8 1.6M57.5 189.3l1.5 5.1 1.6 4.9 1.5 4.7 1.5 4.6 1.6 4.3 1.5 4.3 1.6 4.1 1.5 3.9 1.5 3.8 1.6 3.7 3.1 6.9 3 6.4 3.1 6 3.1 5.6 3 5.2 4.7 7 4.6 6.4 4.6 5.7 6.1 6.7 6.2 5.8 6.1 5 7.7 5.3 7.7 4.4 9.2 4.3 9.3 3.5 10.7 3.2 10.8 2.5 12.3 2.2 12.3 1.6 13.8 1.4 13.9.9 13.8.7M57.5 189.3l1.5 4.3 1.6 4.2 1.5 4 1.5 3.9 1.6 3.8 1.5 3.7 1.6 3.6 1.5 3.5 1.5 3.3 1.6 3.3 3.1 6.2 3 5.9 3.1 5.5 3.1 5.2 3 4.8 4.7 6.8 4.6 6.2 4.6 5.6 6.1 6.7 6.2 6 6.1 5.2 7.7 5.8 7.7 4.9 9.2 4.9 9.3 4.2 10.7 3.9 10.8 3.2 12.3 2.9 12.3 2.3 13.8 2 13.9 1.4 13.8 1.2M57.5 189.3l1.5 5 1.6 4.8 1.5 4.6 1.5 4.5 1.6 4.4 1.5 4.1 1.6 4 1.5 3.9 1.5 3.8 1.6 3.6 3.1 6.8 3 6.4 3.1 6 3.1 5.5 3 5.1 4.7 7.1 4.6 6.3 4.6 5.7 6.1 6.7 6.2 5.9 6.1 5 7.7 5.4 7.7 4.4 9.2 4.5 9.3 3.5 10.7 3.3 10.8 2.6 12.3 2.2 12.3 1.7 13.8 1.4 13.9 1 13.8.8M57.5 189.3l1.5 3.4 1.6 3.3 1.5 3.2 1.5 3.2 1.6 3 1.5 3 1.6 3 1.5 2.8 1.5 2.8 1.6 2.7 3.1 5.3 3 5 3.1 4.8 3.1 4.5 3 4.3 4.7 6.2 4.6 5.6 4.6 5.3 6.1 6.5 6.2 5.9 6.1 5.4 7.7 5.9 7.7 5.4 9.2 5.5 9.3 4.9 10.7 4.8 10.8 4.1 12.3 3.9 12.3 3.2 13.8 2.9 13.9 2.4 13.8 1.9M57.5 189.3l1.5 3.2 1.6 3.2 1.5 3.1 1.5 3 1.6 3 1.5 2.8 1.6 2.9 1.5 2.7 1.5 2.7 1.6 2.6 3.1 5.1 3 4.9 3.1 4.6 3.1 4.4 3 4.3 4.7 5.9 4.6 5.6 4.6 5.2 6.1 6.4 6.2 5.9 6.1 5.3 7.7 6 7.7 5.4 9.2 5.6 9.3 4.9 10.7 5 10.8 4.2 12.3 4 12.3 3.4 13.8 3.1 13.9 2.5 13.8 2.1M57.5 189.3l1.5 4.9 1.6 4.7 1.5 4.5 1.5 4.4 1.6 4.3 1.5 4.1 1.6 3.9 1.5 3.9 1.5 3.7 1.6 3.5 3.1 6.8 3 6.3 3.1 5.9 3.1 5.4 3 5.2 4.7 7 4.6 6.3 4.6 5.7 6.1 6.7 6.2 5.9 6.1 5 7.7 5.5 7.7 4.5 9.2 4.5 9.3 3.7 10.7 3.4 10.8 2.6 12.3 2.4 12.3 1.7 13.8 1.5 13.9 1.1 13.8.8M57.5 189.3l1.5 4 1.6 3.9 1.5 3.8 1.5 3.7 1.6 3.6 1.5 3.5 1.6 3.4 1.5 3.3 1.5 3.2 1.6 3.1 3.1 6 3 5.6 3.1 5.3 3.1 5 3 4.7 4.7 6.6 4.6 6.1 4.6 5.5 6.1 6.7 6.2 6 6.1 5.3 7.7 5.9 7.7 5 9.2 5.2 9.3 4.4 10.7 4.2 10.8 3.4 12.3 3.2 12.3 2.5 13.8 2.3 13.9 1.7 13.8 1.3M57.5 189.3l1.5 3.8 1.6 3.8 1.5 3.6 1.5 3.6 1.6 3.4 1.5 3.4 1.6 3.3 1.5 3.1 1.5 3.1 1.6 3 3.1 5.8 3 5.5 3.1 5.1 3.1 4.9 3 4.6 4.7 6.5 4.6 6 4.6 5.5 6.1 6.6 6.2 6 6.1 5.4 7.7 5.9 7.7 5.1 9.2 5.3 9.3 4.5 10.7 4.4 10.8 3.6 12.3 3.4 12.3 2.7 13.8 2.4 13.9 1.9 13.8 1.5M57.5 189.3l1.5 5.9 1.6 5.7 1.5 5.4 1.5 5.2 1.6 5 1.5 4.7 1.6 4.6 1.5 4.4 1.5 4.2 1.6 4 3.1 7.6 3 6.9 3.1 6.4 3.1 5.9 3 5.3 4.7 7.3 4.6 6.4 4.6 5.6 6.1 6.5 6.2 5.4 6.1 4.6 7.7 4.8 7.7 3.8 9.2 3.7 9.3 2.8 10.7 2.5 10.8 1.9 12.3 1.6 12.3 1.1 13.8.8 13.9.6 13.8.4M57.5 189.3l1.5 12 1.6 11 1.5 10.1 1.5 9.2 1.6 8.4 1.5 7.7 1.6 7.1 1.5 6.5 1.5 5.9 1.6 5.4 3.1 9.5 3 8 3.1 6.6 3.1 5.6 3 4.7 4.7 5.6 4.6 4.4 4.6 3.3 6.1 3.2 6.2 2.3 6.1 1.6 7.7 1.4 7.7.8 9.2.7 9.3.4 10.7.2 10.8.1 12.3.1 12.3.1 13.8 0 13.9 0 13.8 0M57.5 189.3l1.5 3.9 1.6 3.9 1.5 3.7 1.5 3.6 1.6 3.6 1.5 3.4 1.6 3.3 1.5 3.3 1.5 3.1 1.6 3.1 3.1 5.8 3 5.6 3.1 5.2 3.1 5 3 4.7 4.7 6.5 4.6 6.1 4.6 5.5 6.1 6.7 6.2 5.9 6.1 5.4 7.7 5.8 7.7 5.1 9.2 5.3 9.3 4.4 10.7 4.3 10.8 3.5 12.3 3.3 12.3 2.6 13.8 2.3 13.9 1.8 13.8 1.4M57.5 189.3l1.5 11.5 1.6 10.6 1.5 9.7 1.5 9 1.6 8.2 1.5 7.5 1.6 7 1.5 6.4 1.5 5.8 1.6 5.4 3.1 9.5 3 8 3.1 6.7 3.1 5.7 3 4.8 4.7 5.9 4.6 4.5 4.6 3.5 6.1 3.5 6.2 2.5 6.1 1.8 7.7 1.5 7.7 1 9.2.8 9.3.4 10.7.3 10.8.2 12.3.1 12.3 0 13.8.1 13.9 0 13.8 0M57.5 189.3l1.5 5.1 1.6 5 1.5 4.8 1.5 4.6 1.6 4.4 1.5 4.3 1.6 4.1 1.5 4 1.5 3.8 1.6 3.7 3.1 7 3 6.5 3.1 6 3.1 5.6 3 5.2 4.7 7.1 4.6 6.4 4.6 5.7 6.1 6.6 6.2 5.8 6.1 5 7.7 5.2 7.7 4.4 9.2 4.3 9.3 3.4 10.7 3.2 10.8 2.4 12.3 2.1 12.3 1.6 13.8 1.3 13.9.9 13.8.7M57.5 189.3l1.5 10.9 1.6 10.1 1.5 9.3 1.5 8.5 1.6 8 1.5 7.3 1.6 6.7 1.5 6.2 1.5 5.8 1.6 5.3 3.1 9.4 3 8.1 3.1 6.8 3.1 5.8 3 5 4.7 6.1 4.6 4.8 4.6 3.8 6.1 3.9 6.2 2.7 6.1 2 7.7 1.8 7.7 1.2 9.2.9 9.3.6 10.7.4 10.8.2 12.3.1 12.3.1 13.8.1 13.9 0 13.8 0M57.5 189.3l1.5 5.7 1.6 5.5 1.5 5.2 1.5 5.1 1.6 4.8 1.5 4.7 1.6 4.4 1.5 4.3 1.5 4.1 1.6 4 3.1 7.4 3 6.8 3.1 6.3 3.1 5.8 3 5.3 4.7 7.3 4.6 6.4 4.6 5.6 6.1 6.6 6.2 5.5 6.1 4.7 7.7 4.9 7.7 4 9.2 3.8 9.3 3 10.7 2.7 10.8 2 12.3 1.7 12.3 1.2 13.8.9 13.9.7 13.8.5M57.5 189.3l1.5 4.7 1.6 4.5 1.5 4.4 1.5 4.3 1.6 4.1 1.5 4 1.6 3.8 1.5 3.7 1.5 3.6 1.6 3.5 3.1 6.6 3 6.1 3.1 5.8 3.1 5.4 3 5 4.7 7 4.6 6.3 4.6 5.7 6.1 6.7 6.2 5.9 6.1 5.1 7.7 5.5 7.7 4.7 9.2 4.7 9.3 3.8 10.7 3.6 10.8 2.8 12.3 2.5 12.3 1.9 13.8 1.6 13.9 1.2 13.8.9M57.5 189.3l1.5 7.8 1.6 7.4 1.5 7 1.5 6.6 1.6 6.3 1.5 5.9 1.6 5.6 1.5 5.2 1.5 5 1.6 4.7 3.1 8.6 3 7.7 3.1 6.9 3.1 6.2 3 5.4 4.7 7.2 4.6 6 4.6 5.1 6.1 5.5 6.2 4.5 6.1 3.5 7.7 3.4 7.7 2.6 9.2 2.2 9.3 1.6 10.7 1.3 10.8.9 12.3.7 12.3.4 13.8.3 13.9.1 13.8.1M57.5 189.3l1.5 4.9 1.6 4.8 1.5 4.6 1.5 4.5 1.6 4.3 1.5 4.1 1.6 4 1.5 3.9 1.5 3.7 1.6 3.6 3.1 6.8 3 6.4 3.1 5.9 3.1 5.5 3 5.1 4.7 7.1 4.6 6.3 4.6 5.7 6.1 6.7 6.2 5.8 6.1 5.1 7.7 5.4 7.7 4.5 9.2 4.4 9.3 3.6 10.7 3.4 10.8 2.6 12.3 2.3 12.3 1.7 13.8 1.4 13.9 1 13.8.8M57.5 189.3l1.5 10.7 1.6 9.9 1.5 9.2 1.5 8.5 1.6 7.8 1.5 7.3 1.6 6.7 1.5 6.1 1.5 5.8 1.6 5.2 3.1 9.5 3 8 3.1 6.9 3.1 5.8 3 5 4.7 6.2 4.6 4.9 4.6 3.9 6.1 3.9 6.2 2.9 6.1 2 7.7 1.9 7.7 1.2 9.2 1 9.3.6 10.7.4 10.8.3 12.3.1 12.3.1 13.8.1 13.9 0 13.8 0M57.5 189.3l1.5 6.2 1.6 5.9 1.5 5.7 1.5 5.4 1.6 5.2 1.5 4.9 1.6 4.8 1.5 4.5 1.5 4.4 1.6 4.1 3.1 7.8 3 7 3.1 6.5 3.1 6 3 5.4 4.7 7.3 4.6 6.3 4.6 5.6 6.1 6.4 6.2 5.3 6.1 4.4 7.7 4.6 7.7 3.6 9.2 3.5 9.3 2.6 10.7 2.3 10.8 1.6 12.3 1.4 12.3 1 13.8.7 13.9.5 13.8.3M57.5 189.3l1.5 6 1.6 5.7 1.5 5.4 1.5 5.3 1.6 5 1.5 4.8 1.6 4.6 1.5 4.4 1.5 4.2 1.6 4.1 3.1 7.6 3 7 3.1 6.4 3.1 5.8 3 5.4 4.7 7.3 4.6 6.4 4.6 5.6 6.1 6.4 6.2 5.5 6.1 4.5 7.7 4.8 7.7 3.8 9.2 3.6 9.3 2.8 10.7 2.4 10.8 1.9 12.3 1.5 12.3 1.1 13.8.8 13.9.6 13.8.4M57.5 189.3l1.5 5 1.6 4.8 1.5 4.6 1.5 4.5 1.6 4.3 1.5 4.2 1.6 4 1.5 3.9 1.5 3.7 1.6 3.6 3.1 6.9 3 6.4 3.1 5.9 3.1 5.5 3 5.2 4.7 7 4.6 6.4 4.6 5.7 6.1 6.7 6.2 5.8 6.1 5 7.7 5.4 7.7 4.5 9.2 4.4 9.3 3.6 10.7 3.3 10.8 2.5 12.3 2.3 12.3 1.7 13.8 1.4 13.9 1 13.8.8M57.5 189.3l1.5 2.6 1.6 2.6 1.5 2.6 1.5 2.5 1.6 2.4 1.5 2.4 1.6 2.4 1.5 2.3 1.5 2.3 1.6 2.2 3.1 4.3 3 4.2 3.1 4 3.1 3.9 3 3.7 4.7 5.4 4.6 5 4.6 4.8 6.1 5.9 6.2 5.6 6.1 5.1 7.7 5.9 7.7 5.3 9.2 5.8 9.3 5.2 10.7 5.4 10.8 4.7 12.3 4.6 12.3 4 13.8 3.9 13.9 3.2 13.8 2.8M57.5 189.3l1.5 4.7 1.6 4.5 1.5 4.4 1.5 4.2 1.6 4.1 1.5 3.9 1.6 3.8 1.5 3.7 1.5 3.6 1.6 3.5 3.1 6.5 3 6.2 3.1 5.7 3.1 5.4 3 5 4.7 7 4.6 6.3 4.6 5.6 6.1 6.8 6.2 5.9 6.1 5.1 7.7 5.6 7.7 4.7 9.2 4.6 9.3 3.9 10.7 3.6 10.8 2.8 12.3 2.6 12.3 1.9 13.8 1.6 13.9 1.2 13.8.9M57.5 189.3l1.5 6.1 1.6 5.9 1.5 5.6 1.5 5.3 1.6 5.1 1.5 4.9 1.6 4.7 1.5 4.5 1.5 4.3 1.6 4.1 3.1 7.7 3 7.1 3.1 6.4 3.1 6 3 5.4 4.7 7.2 4.6 6.4 4.6 5.6 6.1 6.4 6.2 5.4 6.1 4.5 7.7 4.6 7.7 3.7 9.2 3.5 9.3 2.6 10.7 2.4 10.8 1.7 12.3 1.4 12.3 1 13.8.8 13.9.5 13.8.4M57.5 189.3l1.5 4 1.6 3.9 1.5 3.7 1.5 3.7 1.6 3.5 1.5 3.5 1.6 3.4 1.5 3.2 1.5 3.2 1.6 3.1 3.1 5.9 3 5.6 3.1 5.2 3.1 5 3 4.7 4.7 6.6 4.6 6 4.6 5.6 6.1 6.7 6.2 5.9 6.1 5.4 7.7 5.8 7.7 5.1 9.2 5.2 9.3 4.4 10.7 4.3 10.8 3.5 12.3 3.2 12.3 2.6 13.8 2.2 13.9 1.8 13.8 1.4M57.5 189.3l1.5 9.3 1.6 8.7 1.5 8.1 1.5 7.6 1.6 7.1 1.5 6.6 1.6 6.2 1.5 5.8 1.5 5.4 1.6 5.1 3.1 9.1 3 8 3.1 6.9 3.1 6.1 3 5.3 4.7 6.8 4.6 5.5 4.6 4.4 6.1 4.8 6.2 3.6 6.1 2.7 7.7 2.5 7.7 1.8 9.2 1.5 9.3 1 10.7.8 10.8.4 12.3.4 12.3.1 13.8.2 13.9 0 13.8.1M57.5 189.3l1.5 4.2 1.6 4.1 1.5 3.9 1.5 3.9 1.6 3.7 1.5 3.6 1.6 3.5 1.5 3.4 1.5 3.3 1.6 3.2 3.1 6.2 3 5.8 3.1 5.4 3.1 5.1 3 4.8 4.7 6.7 4.6 6.2 4.6 5.6 6.1 6.7 6.2 6 6.1 5.2 7.7 5.8 7.7 5 9.2 5 9.3 4.3 10.7 4 10.8 3.3 12.3 3 12.3 2.3 13.8 2.1 13.9 1.6 13.8 1.2M57.5 189.3l1.5 3.5 1.6 3.5 1.5 3.3 1.5 3.3 1.6 3.2 1.5 3.1 1.6 3 1.5 3 1.5 2.9 1.6 2.8 3.1 5.4 3 5.2 3.1 4.9 3.1 4.6 3 4.4 4.7 6.3 4.6 5.8 4.6 5.3 6.1 6.6 6.2 5.9 6.1 5.4 7.7 5.9 7.7 5.3 9.2 5.5 9.3 4.8 10.7 4.7 10.8 3.9 12.3 3.7 12.3 3.1 13.8 2.7 13.9 2.2 13.8 1.8M57.5 189.3l1.5 3.3 1.6 3.3 1.5 3.1 1.5 3.1 1.6 3.1 1.5 2.9 1.6 2.9 1.5 2.8 1.5 2.8 1.6 2.6 3.1 5.2 3 5 3.1 4.7 3.1 4.5 3 4.3 4.7 6 4.6 5.7 4.6 5.2 6.1 6.5 6.2 5.9 6.1 5.3 7.7 6 7.7 5.3 9.2 5.7 9.3 4.8 10.7 4.9 10.8 4.1 12.3 4 12.3 3.3 13.8 3 13.9 2.4 13.8 1.9M57.5 189.3l1.5 3.4 1.6 3.4 1.5 3.2 1.5 3.2 1.6 3.1 1.5 3 1.6 3 1.5 2.9 1.5 2.8 1.6 2.7 3.1 5.3 3 5 3.1 4.8 3.1 4.6 3 4.4 4.7 6.1 4.6 5.7 4.6 5.3 6.1 6.5 6.2 5.9 6.1 5.4 7.7 6 7.7 5.3 9.2 5.6 9.3 4.8 10.7 4.8 10.8 4 12.3 3.8 12.3 3.2 13.8 2.9 13.9 2.3 13.8 1.9M57.5 189.3l1.5 1.1 1.6 1.1 1.5 1.1 1.5 1 1.6 1.1 1.5 1 1.6 1.1 1.5 1 1.5 1 1.6 1.1 3.1 2 3 2 3.1 1.9 3.1 1.9 3 1.9 4.7 2.8 4.6 2.7 4.6 2.7 6.1 3.4 6.2 3.4 6.1 3.2 7.7 4 7.7 3.7 9.2 4.4 9.3 4.1 10.7 4.6 10.8 4.3 12.3 4.7 12.3 4.5 13.8 4.6 13.9 4.3 13.8 4.1M57.5 189.3l1.5 13.5 1.6 12.2 1.5 11.1 1.5 10 1.6 9 1.5 8.2 1.6 7.4 1.5 6.7 1.5 6.1 1.6 5.5 3.1 9.4 3 7.8 3.1 6.3 3.1 5.2 3 4.3 4.7 5 4.6 3.6 4.6 2.8 6.1 2.6 6.2 1.7 6.1 1.1 7.7 1 7.7.5 9.2.4 9.3.2 10.7.2 10.8 0 12.3.1 12.3 0 13.8 0 13.9 0 13.8 0M57.5 189.3l1.5 4.9 1.6 4.7 1.5 4.6 1.5 4.4 1.6 4.3 1.5 4.1 1.6 4 1.5 3.8 1.5 3.7 1.6 3.6 3.1 6.8 3 6.3 3.1 5.9 3.1 5.5 3 5.1 4.7 7.1 4.6 6.3 4.6 5.7 6.1 6.7 6.2 5.8 6.1 5.1 7.7 5.4 7.7 4.5 9.2 4.5 9.3 3.7 10.7 3.3 10.8 2.7 12.3 2.3 12.3 1.7 13.8 1.5 13.9 1.1 13.8.7M57.5 189.3l1.5 6 1.6 5.7 1.5 5.5 1.5 5.3 1.6 5 1.5 4.8 1.6 4.6 1.5 4.5 1.5 4.2 1.6 4 3.1 7.7 3 6.9 3.1 6.5 3.1 5.8 3 5.4 4.7 7.3 4.6 6.4 4.6 5.6 6.1 6.4 6.2 5.5 6.1 4.5 7.7 4.7 7.7 3.8 9.2 3.6 9.3 2.8 10.7 2.4 10.8 1.8 12.3 1.5 12.3 1.1 13.8.8 13.9.6 13.8.4M57.5 189.3l1.5 3.3 1.6 3.3 1.5 3.2 1.5 3.1 1.6 3.1 1.5 2.9 1.6 2.9 1.5 2.9 1.5 2.7 1.6 2.7 3.1 5.3 3 4.9 3.1 4.8 3.1 4.5 3 4.3 4.7 6.1 4.6 5.6 4.6 5.3 6.1 6.5 6.2 5.8 6.1 5.4 7.7 6 7.7 5.3 9.2 5.6 9.3 4.9 10.7 4.8 10.8 4.1 12.3 4 12.3 3.2 13.8 3 13.9 2.4 13.8 1.9M57.5 189.3l1.5 2.9 1.6 2.8 1.5 2.8 1.5 2.7 1.6 2.7 1.5 2.6 1.6 2.6 1.5 2.5 1.5 2.4 1.6 2.4 3.1 4.7 3 4.5 3.1 4.2 3.1 4.2 3 3.9 4.7 5.6 4.6 5.3 4.6 5 6.1 6.2 6.2 5.7 6.1 5.2 7.7 6 7.7 5.4 9.2 5.7 9.3 5.1 10.7 5.2 10.8 4.6 12.3 4.4 12.3 3.7 13.8 3.5 13.9 3 13.8 2.4M57.5 189.3l1.5 5.3 1.6 5.1 1.5 4.9 1.5 4.8 1.6 4.5 1.5 4.4 1.6 4.3 1.5 4 1.5 3.9 1.6 3.8 3.1 7.1 3 6.6 3.1 6.1 3.1 5.7 3 5.2 4.7 7.2 4.6 6.4 4.6 5.7 6.1 6.6 6.2 5.7 6.1 4.9 7.7 5.2 7.7 4.2 9.2 4.2 9.3 3.3 10.7 3 10.8 2.3 12.3 2 12.3 1.4 13.8 1.2 13.9.8 13.8.6M57.5 189.3l1.5 2.4 1.6 2.4 1.5 2.3 1.5 2.3 1.6 2.3 1.5 2.2 1.6 2.2 1.5 2.1 1.5 2.1 1.6 2.1 3.1 4 3 3.9 3.1 3.8 3.1 3.6 3 3.6 4.7 5 4.6 4.8 4.6 4.6 6.1 5.7 6.2 5.3 6.1 5 7.7 5.8 7.7 5.3 9.2 5.8 9.3 5.2 10.7 5.5 10.8 4.8 12.3 4.8 12.3 4.3 13.8 4.1 13.9 3.5 13.8 3M57.5 189.3l1.5 4.5 1.6 4.3 1.5 4.2 1.5 4 1.6 4 1.5 3.8 1.6 3.6 1.5 3.6 1.5 3.5 1.6 3.3 3.1 6.4 3 6 3.1 5.6 3.1 5.3 3 4.9 4.7 6.9 4.6 6.2 4.6 5.6 6.1 6.8 6.2 5.9 6.1 5.2 7.7 5.7 7.7 4.8 9.2 4.8 9.3 4.1 10.7 3.8 10.8 3 12.3 2.7 12.3 2.1 13.8 1.9 13.9 1.3 13.8 1M57.5 189.3l1.5 11.2 1.6 10.3 1.5 9.4 1.5 8.8 1.6 8 1.5 7.4 1.6 6.9 1.5 6.3 1.5 5.8 1.6 5.3 3.1 9.5 3 8 3.1 6.8 3.1 5.8 3 4.9 4.7 6 4.6 4.7 4.6 3.6 6.1 3.7 6.2 2.7 6.1 1.9 7.7 1.6 7.7 1.1 9.2.9 9.3.5 10.7.3 10.8.2 12.3.2 12.3 0 13.8.1 13.9 0 13.8 0M57.5 189.3l1.5 6.9 1.6 6.5 1.5 6.2 1.5 5.9 1.6 5.7 1.5 5.3 1.6 5.1 1.5 4.9 1.5 4.6 1.6 4.4 3.1 8.2 3 7.4 3.1 6.7 3.1 6 3 5.5 4.7 7.3 4.6 6.3 4.6 5.4 6.1 6 6.2 5 6.1 4.1 7.7 4 7.7 3.2 9.2 2.9 9.3 2.2 10.7 1.8 10.8 1.3 12.3 1 12.3.7 13.8.5 13.9.3 13.8.2M57.5 189.3l1.5 2 1.6 2 1.5 2 1.5 2 1.6 1.9 1.5 1.9 1.6 1.9 1.5 1.8 1.5 1.8 1.6 1.8 3.1 3.5 3 3.4 3.1 3.3 3.1 3.2 3 3.1 4.7 4.5 4.6 4.3 4.6 4.2 6.1 5.2 6.2 5 6.1 4.6 7.7 5.5 7.7 5.1 9.2 5.6 9.3 5.2 10.7 5.5 10.8 5 12.3 5.1 12.3 4.5 13.8 4.5 13.9 4 13.8 3.5M57.5 189.3l1.5 10.2 1.6 9.5 1.5 8.8 1.5 8.2 1.6 7.6 1.5 7 1.6 6.6 1.5 6 1.5 5.6 1.6 5.3 3.1 9.3 3 8 3.1 6.9 3.1 6 3 5.1 4.7 6.4 4.6 5.1 4.6 4.1 6.1 4.2 6.2 3.1 6.1 2.3 7.7 2.1 7.7 1.4 9.2 1.1 9.3.7 10.7.5 10.8.4 12.3.2 12.3.1 13.8 0 13.9.1 13.8 0M57.5 189.3l1.5 3.5 1.6 3.4 1.5 3.3 1.5 3.2 1.6 3.2 1.5 3.1 1.6 3 1.5 2.9 1.5 2.8 1.6 2.8 3.1 5.4 3 5.1 3.1 4.9 3.1 4.6 3 4.4 4.7 6.2 4.6 5.7 4.6 5.4 6.1 6.5 6.2 5.9 6.1 5.4 7.7 6 7.7 5.3 9.2 5.5 9.3 4.8 10.7 4.7 10.8 4 12.3 3.7 12.3 3.1 13.8 2.9 13.9 2.2 13.8 1.8M57.5 189.3l1.5 4.5 1.6 4.3 1.5 4.2 1.5 4.1 1.6 4 1.5 3.8 1.6 3.7 1.5 3.6 1.5 3.4 1.6 3.4 3.1 6.4 3 6 3.1 5.6 3.1 5.3 3 5 4.7 6.8 4.6 6.2 4.6 5.7 6.1 6.7 6.2 6 6.1 5.2 7.7 5.6 7.7 4.8 9.2 4.9 9.3 3.9 10.7 3.8 10.8 3 12.3 2.7 12.3 2.1 13.8 1.8 13.9 1.4 13.8 1M57.5 189.3l1.5 2.7 1.6 2.6 1.5 2.6 1.5 2.6 1.6 2.5 1.5 2.4 1.6 2.4 1.5 2.4 1.5 2.3 1.6 2.3 3.1 4.4 3 4.2 3.1 4.1 3.1 3.9 3 3.8 4.7 5.4 4.6 5.1 4.6 4.8 6.1 6 6.2 5.6 6.1 5.2 7.7 5.9 7.7 5.3 9.2 5.8 9.3 5.2 10.7 5.3 10.8 4.7 12.3 4.6 12.3 3.9 13.8 3.8 13.9 3.2 13.8 2.7M57.5 189.3l1.5 4 1.6 3.9 1.5 3.8 1.5 3.7 1.6 3.6 1.5 3.5 1.6 3.4 1.5 3.2 1.5 3.2 1.6 3.1 3.1 6 3 5.6 3.1 5.3 3.1 5 3 4.7 4.7 6.6 4.6 6.1 4.6 5.5 6.1 6.7 6.2 6 6.1 5.3 7.7 5.9 7.7 5 9.2 5.2 9.3 4.4 10.7 4.2 10.8 3.5 12.3 3.2 12.3 2.5 13.8 2.2 13.9 1.8 13.8 1.3M57.5 189.3l1.5 4.4 1.6 4.2 1.5 4.2 1.5 4 1.6 3.8 1.5 3.8 1.6 3.6 1.5 3.6 1.5 3.4 1.6 3.3 3.1 6.3 3 5.9 3.1 5.6 3.1 5.2 3 4.9 4.7 6.8 4.6 6.2 4.6 5.7 6.1 6.7 6.2 6 6.1 5.2 7.7 5.7 7.7 4.9 9.2 4.9 9.3 4 10.7 3.9 10.8 3.1 12.3 2.8 12.3 2.2 13.8 1.9 13.9 1.4 13.8 1M57.5 189.3l1.5 11.7 1.6 10.8 1.5 9.9 1.5 9.1 1.6 8.3 1.5 7.6 1.6 7 1.5 6.4 1.5 5.9 1.6 5.4 3.1 9.5 3 8 3.1 6.7 3.1 5.6 3 4.8 4.7 5.7 4.6 4.5 4.6 3.4 6.1 3.4 6.2 2.4 6.1 1.7 7.7 1.4 7.7 1 9.2.7 9.3.4 10.7.3 10.8.1 12.3.1 12.3.1 13.8 0 13.9 0 13.8 0M57.5 189.3l1.5 10.5 1.6 9.8 1.5 9 1.5 8.4 1.6 7.7 1.5 7.2 1.6 6.6 1.5 6.2 1.5 5.6 1.6 5.3 3.1 9.4 3 8 3.1 6.9 3.1 5.9 3 5.1 4.7 6.2 4.6 5 4.6 4 6.1 4 6.2 2.9 6.1 2.2 7.7 1.9 7.7 1.3 9.2 1.1 9.3.6 10.7.5 10.8.2 12.3.2 12.3.1 13.8 0 13.9.1 13.8 0M57.5 189.3l1.5 3.1 1.6 3.1 1.5 3 1.5 3 1.6 2.8 1.5 2.8 1.6 2.8 1.5 2.7 1.5 2.6 1.6 2.6 3.1 4.9 3 4.8 3.1 4.5 3.1 4.4 3 4.1 4.7 5.9 4.6 5.5 4.6 5.2 6.1 6.3 6.2 5.8 6.1 5.3 7.7 6 7.7 5.4 9.2 5.7 9.3 5 10.7 5 10.8 4.3 12.3 4.1 12.3 3.5 13.8 3.2 13.9 2.7 13.8 2.1M57.5 189.3l1.5 5.4 1.6 5.2 1.5 5 1.5 4.8 1.6 4.6 1.5 4.5 1.6 4.2 1.5 4.1 1.5 4 1.6 3.8 3.1 7.2 3 6.6 3.1 6.2 3.1 5.7 3 5.3 4.7 7.1 4.6 6.4 4.6 5.7 6.1 6.6 6.2 5.7 6.1 4.9 7.7 5.1 7.7 4.2 9.2 4 9.3 3.3 10.7 2.9 10.8 2.2 12.3 1.9 12.3 1.4 13.8 1.2 13.9.8 13.8.5M57.5 189.3l1.5 12.3 1.6 11.3 1.5 10.3 1.5 9.4 1.6 8.6 1.5 7.8 1.6 7.1 1.5 6.6 1.5 5.9 1.6 5.5 3.1 9.5 3 7.9 3.1 6.6 3.1 5.5 3 4.6 4.7 5.5 4.6 4.2 4.6 3.2 6.1 3 6.2 2.2 6.1 1.5 7.7 1.2 7.7.8 9.2.6 9.3.3 10.7.3 10.8.1 12.3 0 12.3.1 13.8 0 13.9 0 13.8 0M57.5 189.3l1.5 4.4 1.6 4.3 1.5 4.2 1.5 4 1.6 3.9 1.5 3.8 1.6 3.7 1.5 3.5 1.5 3.5 1.6 3.3 3.1 6.4 3 5.9 3.1 5.6 3.1 5.3 3 4.9 4.7 6.9 4.6 6.2 4.6 5.6 6.1 6.7 6.2 6 6.1 5.2 7.7 5.7 7.7 4.8 9.2 4.9 9.3 4 10.7 3.8 10.8 3.1 12.3 2.8 12.3 2.1 13.8 1.8 13.9 1.4 13.8 1.1M57.5 189.3l1.5 3 1.6 2.9 1.5 2.9 1.5 2.8 1.6 2.7 1.5 2.7 1.6 2.6 1.5 2.6 1.5 2.5 1.6 2.5 3.1 4.8 3 4.6 3.1 4.4 3.1 4.2 3 4 4.7 5.7 4.6 5.4 4.6 5.1 6.1 6.2 6.2 5.8 6.1 5.2 7.7 6 7.7 5.4 9.2 5.7 9.3 5.1 10.7 5.1 10.8 4.5 12.3 4.3 12.3 3.6 13.8 3.4 13.9 2.8 13.8 2.4M57.5 189.3l1.5 4.2 1.6 4 1.5 3.9 1.5 3.8 1.6 3.7 1.5 3.6 1.6 3.5 1.5 3.3 1.5 3.3 1.6 3.2 3.1 6.1 3 5.7 3.1 5.4 3.1 5.1 3 4.8 4.7 6.7 4.6 6.1 4.6 5.6 6.1 6.7 6.2 6 6.1 5.3 7.7 5.8 7.7 5 9.2 5.1 9.3 4.2 10.7 4.1 10.8 3.3 12.3 3.1 12.3 2.4 13.8 2.1 13.9 1.6 13.8 1.2M57.5 189.3l1.5 5.6 1.6 5.4 1.5 5.1 1.5 5 1.6 4.8 1.5 4.5 1.6 4.4 1.5 4.3 1.5 4 1.6 3.9 3.1 7.3 3 6.8 3.1 6.3 3.1 5.7 3 5.3 4.7 7.3 4.6 6.4 4.6 5.6 6.1 6.6 6.2 5.6 6.1 4.7 7.7 5 7.7 4.1 9.2 3.9 9.3 3.1 10.7 2.7 10.8 2.1 12.3 1.8 12.3 1.2 13.8 1.1 13.9.7 13.8.5M57.5 189.3l1.5 3.7 1.6 3.6 1.5 3.5 1.5 3.4 1.6 3.3 1.5 3.2 1.6 3.2 1.5 3.1 1.5 3 1.6 2.9 3.1 5.6 3 5.3 3.1 5 3.1 4.8 3 4.5 4.7 6.4 4.6 5.9 4.6 5.4 6.1 6.6 6.2 6 6.1 5.3 7.7 6 7.7 5.2 9.2 5.4 9.3 4.6 10.7 4.6 10.8 3.7 12.3 3.6 12.3 2.9 13.8 2.5 13.9 2.1 13.8 1.6M57.5 189.3l1.5 1.7 1.6 1.8 1.5 1.7 1.5 1.7 1.6 1.6 1.5 1.7 1.6 1.6 1.5 1.6 1.5 1.6 1.6 1.5 3.1 3.1 3 3 3.1 2.9 3.1 2.8 3 2.8 4.7 4.1 4.6 3.9 4.6 3.7 6.1 4.8 6.2 4.6 6.1 4.3 7.7 5.1 7.7 4.8 9.2 5.4 9.3 5.1 10.7 5.4 10.8 4.9 12.3 5.2 12.3 4.6 13.8 4.8 13.9 4.2 13.8 3.8M57.5 189.3l1.5 3.7 1.6 3.6 1.5 3.5 1.5 3.4 1.6 3.3 1.5 3.2 1.6 3.1 1.5 3.1 1.5 3 1.6 2.9 3.1 5.6 3 5.3 3.1 5 3.1 4.8 3 4.5 4.7 6.4 4.6 5.8 4.6 5.5 6.1 6.6 6.2 5.9 6.1 5.4 7.7 5.9 7.7 5.3 9.2 5.4 9.3 4.6 10.7 4.6 10.8 3.7 12.3 3.6 12.3 2.9 13.8 2.6 13.9 2 13.8 1.6M57.5 189.3l1.5 1.7 1.6 1.7 1.5 1.6 1.5 1.7 1.6 1.6 1.5 1.6 1.6 1.6 1.5 1.5 1.5 1.5 1.6 1.6 3.1 3 3 2.9 3.1 2.8 3.1 2.8 3 2.7 4.7 4 4.6 3.8 4.6 3.7 6.1 4.7 6.2 4.4 6.1 4.3 7.7 5.1 7.7 4.7 9.2 5.4 9.3 5 10.7 5.3 10.8 5 12.3 5.1 12.3 4.7 13.8 4.8 13.9 4.2 13.8 3.9M57.5 189.3l1.5 8.2 1.6 7.7 1.5 7.2 1.5 6.9 1.6 6.4 1.5 6.1 1.6 5.7 1.5 5.4 1.5 5.1 1.6 4.8 3.1 8.8 3 7.7 3.1 7 3.1 6.1 3 5.5 4.7 7 4.6 5.9 4.6 5 6.1 5.4 6.2 4.2 6.1 3.3 7.7 3.2 7.7 2.4 9.2 2.1 9.3 1.4 10.7 1.2 10.8.7 12.3.6 12.3.3 13.8.3 13.9.1 13.8.1M57.5 189.3l1.5 3.2 1.6 3.1 1.5 3 1.5 3 1.6 2.9 1.5 2.8 1.6 2.8 1.5 2.7 1.5 2.6 1.6 2.6 3.1 5 3 4.8 3.1 4.6 3.1 4.3 3 4.2 4.7 5.9 4.6 5.5 4.6 5.2 6.1 6.4 6.2 5.8 6.1 5.3 7.7 6 7.7 5.4 9.2 5.7 9.3 4.9 10.7 5 10.8 4.3 12.3 4.1 12.3 3.5 13.8 3.1 13.9 2.6 13.8 2.2M57.5 189.3l1.5 3.7 1.6 3.7 1.5 3.5 1.5 3.5 1.6 3.3 1.5 3.3 1.6 3.2 1.5 3.1 1.5 3 1.6 2.9 3.1 5.7 3 5.3 3.1 5.1 3.1 4.8 3 4.6 4.7 6.4 4.6 5.9 4.6 5.5 6.1 6.6 6.2 5.9 6.1 5.4 7.7 5.9 7.7 5.2 9.2 5.4 9.3 4.6 10.7 4.5 10.8 3.7 12.3 3.5 12.3 2.8 13.8 2.6 13.9 2 13.8 1.5M57.5 189.3l1.5 12.2 1.6 11.2 1.5 10.3 1.5 9.3 1.6 8.5 1.5 7.8 1.6 7.2 1.5 6.5 1.5 5.9 1.6 5.4 3.1 9.6 3 7.9 3.1 6.6 3.1 5.5 3 4.7 4.7 5.5 4.6 4.2 4.6 3.2 6.1 3.2 6.2 2.2 6.1 1.5 7.7 1.3 7.7.8 9.2.6 9.3.3 10.7.2 10.8.2 12.3 0 12.3.1 13.8 0 13.9 0 13.8 0M57.5 189.3l1.5 11.8 1.6 10.9 1.5 9.9 1.5 9.2 1.6 8.3 1.5 7.7 1.6 7 1.5 6.4 1.5 5.9 1.6 5.4 3.1 9.5 3 8 3.1 6.7 3.1 5.6 3 4.8 4.7 5.7 4.6 4.4 4.6 3.4 6.1 3.3 6.2 2.3 6.1 1.7 7.7 1.4 7.7.9 9.2.7 9.3.4 10.7.3 10.8.1 12.3.1 12.3.1 13.8 0 13.9 0 13.8 0M57.5 189.3l1.5 12.4 1.6 11.3 1.5 10.3 1.5 9.4 1.6 8.6 1.5 7.9 1.6 7.2 1.5 6.5 1.5 6 1.6 5.4 3.1 9.5 3 7.9 3.1 6.6 3.1 5.5 3 4.6 4.7 5.5 4.6 4.1 4.6 3.2 6.1 3 6.2 2.2 6.1 1.5 7.7 1.2 7.7.8 9.2.5 9.3.4 10.7.2 10.8.1 12.3 0 12.3.1 13.8 0 13.9 0 13.8 0M57.5 189.3l1.5 12 1.6 10.9 1.5 10.1 1.5 9.2 1.6 8.4 1.5 7.7 1.6 7 1.5 6.5 1.5 5.9 1.6 5.4 3.1 9.5 3 8 3.1 6.7 3.1 5.6 3 4.7 4.7 5.6 4.6 4.4 4.6 3.3 6.1 3.3 6.2 2.3 6.1 1.6 7.7 1.3 7.7.9 9.2.7 9.3.4 10.7.2 10.8.1 12.3.1 12.3.1 13.8 0 13.9 0 13.8 0M57.5 189.3l1.5 3.2 1.6 3.1 1.5 3 1.5 3 1.6 2.9 1.5 2.9 1.6 2.8 1.5 2.7 1.5 2.6 1.6 2.6 3.1 5.1 3 4.8 3.1 4.5 3.1 4.4 3 4.2 4.7 5.9 4.6 5.6 4.6 5.2 6.1 6.3 6.2 5.9 6.1 5.3 7.7 6 7.7 5.3 9.2 5.7 9.3 5 10.7 5 10.8 4.2 12.3 4.1 12.3 3.4 13.8 3.2 13.9 2.6 13.8 2.1M57.5 189.3l1.5 3.5 1.6 3.4 1.5 3.4 1.5 3.2 1.6 3.2 1.5 3.1 1.6 3 1.5 2.9 1.5 2.9 1.6 2.8 3.1 5.4 3 5.1 3.1 4.9 3.1 4.7 3 4.4 4.7 6.2 4.6 5.8 4.6 5.3 6.1 6.6 6.2 5.9 6.1 5.3 7.7 6 7.7 5.3 9.2 5.5 9.3 4.8 10.7 4.7 10.8 3.9 12.3 3.8 12.3 3.1 13.8 2.7 13.9 2.3 13.8 1.8M57.5 189.3l1.5 7.1 1.6 6.7 1.5 6.4 1.5 6.1 1.6 5.7 1.5 5.5 1.6 5.2 1.5 5 1.5 4.7 1.6 4.4 3.1 8.3 3 7.5 3.1 6.7 3.1 6.1 3 5.5 4.7 7.3 4.6 6.2 4.6 5.3 6.1 6 6.2 4.8 6.1 4 7.7 3.9 7.7 3.1 9.2 2.7 9.3 2.1 10.7 1.7 10.8 1.1 12.3 1 12.3.6 13.8.4 13.9.3 13.8.2M57.5 189.3l1.5 13.1 1.6 11.9 1.5 10.8 1.5 9.8 1.6 8.9 1.5 8 1.6 7.4 1.5 6.6 1.5 6 1.6 5.5 3.1 9.5 3 7.8 3.1 6.5 3.1 5.3 3 4.3 4.7 5.2 4.6 3.9 4.6 2.8 6.1 2.8 6.2 1.9 6.1 1.2 7.7 1 7.7.7 9.2.4 9.3.3 10.7.1 10.8.1 12.3.1 12.3 0 13.8 0 13.9 0 13.8 0M57.5 189.3l1.5.7 1.6.8 1.5.7 1.5.7 1.6.7 1.5.7 1.6.7 1.5.8 1.5.7 1.6.7 3.1 1.3 3 1.4 3.1 1.4 3.1 1.3 3 1.4 4.7 1.9 4.6 2 4.6 1.9 6.1 2.5 6.2 2.4 6.1 2.4 7.7 3 7.7 2.8 9.2 3.3 9.3 3.3 10.7 3.6 10.8 3.5 12.3 3.9 12.3 3.7 13.8 4 13.9 3.8 13.8 3.6M57.5 189.3l1.5 3.6 1.6 3.5 1.5 3.4 1.5 3.3 1.6 3.2 1.5 3.2 1.6 3 1.5 3 1.5 3 1.6 2.8 3.1 5.5 3 5.2 3.1 4.9 3.1 4.7 3 4.5 4.7 6.3 4.6 5.8 4.6 5.4 6.1 6.6 6.2 5.9 6.1 5.3 7.7 6 7.7 5.3 9.2 5.4 9.3 4.7 10.7 4.7 10.8 3.9 12.3 3.6 12.3 3 13.8 2.7 13.9 2.2 13.8 1.7M57.5 189.3l1.5 4.3 1.6 4.1 1.5 4 1.5 3.9 1.6 3.8 1.5 3.6 1.6 3.6 1.5 3.4 1.5 3.4 1.6 3.2 3.1 6.2 3 5.8 3.1 5.5 3.1 5.2 3 4.8 4.7 6.7 4.6 6.2 4.6 5.6 6.1 6.7 6.2 6 6.1 5.3 7.7 5.7 7.7 4.9 9.2 5.1 9.3 4.1 10.7 4 10.8 3.2 12.3 3 12.3 2.3 13.8 2 13.9 1.5 13.8 1.1M57.5 189.3l1.5 11.4 1.6 10.6 1.5 9.6 1.5 8.9 1.6 8.2 1.5 7.5 1.6 6.9 1.5 6.4 1.5 5.8 1.6 5.4 3.1 9.5 3 8 3.1 6.7 3.1 5.8 3 4.8 4.7 5.9 4.6 4.6 4.6 3.5 6.1 3.5 6.2 2.6 6.1 1.8 7.7 1.5 7.7 1.1 9.2.7 9.3.5 10.7.3 10.8.2 12.3.1 12.3 0 13.8.1 13.9 0 13.8 0M57.5 189.3l1.5 3.4 1.6 3.4 1.5 3.2 1.5 3.2 1.6 3.2 1.5 3 1.6 3 1.5 2.8 1.5 2.9 1.6 2.7 3.1 5.3 3 5.1 3.1 4.8 3.1 4.6 3 4.3 4.7 6.2 4.6 5.7 4.6 5.3 6.1 6.5 6.2 6 6.1 5.3 7.7 6 7.7 5.3 9.2 5.6 9.3 4.8 10.7 4.7 10.8 4.1 12.3 3.8 12.3 3.1 13.8 2.9 13.9 2.3 13.8 1.9M57.5 189.3l1.5 5.4 1.6 5.2 1.5 5.1 1.5 4.8 1.6 4.6 1.5 4.5 1.6 4.3 1.5 4.1 1.5 4 1.6 3.8 3.1 7.2 3 6.7 3.1 6.1 3.1 5.7 3 5.3 4.7 7.2 4.6 6.4 4.6 5.7 6.1 6.6 6.2 5.6 6.1 4.9 7.7 5.1 7.7 4.2 9.2 4 9.3 3.2 10.7 2.9 10.8 2.2 12.3 1.9 12.3 1.4 13.8 1.1 13.9.8 13.8.6M57.5 189.3l1.5 4.6 1.6 4.4 1.5 4.3 1.5 4.2 1.6 4 1.5 3.9 1.6 3.8 1.5 3.6 1.5 3.6 1.6 3.4 3.1 6.5 3 6.1 3.1 5.7 3.1 5.3 3 5 4.7 6.9 4.6 6.3 4.6 5.7 6.1 6.7 6.2 5.9 6.1 5.2 7.7 5.6 7.7 4.7 9.2 4.8 9.3 3.9 10.7 3.6 10.8 2.9 12.3 2.6 12.3 2.1 13.8 1.7 13.9 1.2 13.8 1M57.5 189.3l1.5 4 1.6 3.8 1.5 3.7 1.5 3.7 1.6 3.5 1.5 3.4 1.6 3.4 1.5 3.2 1.5 3.2 1.6 3 3.1 5.9 3 5.6 3.1 5.2 3.1 5 3 4.7 4.7 6.5 4.6 6.1 4.6 5.5 6.1 6.7 6.2 5.9 6.1 5.4 7.7 5.8 7.7 5.1 9.2 5.3 9.3 4.4 10.7 4.3 10.8 3.5 12.3 3.3 12.3 2.6 13.8 2.3 13.9 1.7 13.8 1.4M57.5 189.3l1.5 4.6 1.6 4.4 1.5 4.2 1.5 4.2 1.6 4 1.5 3.9 1.6 3.7 1.5 3.6 1.5 3.6 1.6 3.4 3.1 6.4 3 6.1 3.1 5.7 3.1 5.3 3 5 4.7 6.9 4.6 6.2 4.6 5.7 6.1 6.7 6.2 5.9 6.1 5.2 7.7 5.6 7.7 4.8 9.2 4.8 9.3 3.9 10.7 3.7 10.8 2.9 12.3 2.7 12.3 2 13.8 1.7 13.9 1.3 13.8 1M57.5 189.3l1.5 4.2 1.6 4 1.5 4 1.5 3.8 1.6 3.7 1.5 3.6 1.6 3.5 1.5 3.4 1.5 3.3 1.6 3.2 3.1 6.1 3 5.8 3.1 5.4 3.1 5.1 3 4.8 4.7 6.7 4.6 6.1 4.6 5.6 6.1 6.8 6.2 5.9 6.1 5.3 7.7 5.8 7.7 5 9.2 5 9.3 4.3 10.7 4 10.8 3.3 12.3 3.1 12.3 2.3 13.8 2.1 13.9 1.6 13.8 1.2M57.5 189.3l1.5 4.5 1.6 4.4 1.5 4.3 1.5 4.1 1.6 4 1.5 3.8 1.6 3.8 1.5 3.6 1.5 3.5 1.6 3.4 3.1 6.4 3 6.1 3.1 5.6 3.1 5.4 3 4.9 4.7 6.9 4.6 6.3 4.6 5.6 6.1 6.8 6.2 5.9 6.1 5.2 7.7 5.6 7.7 4.8 9.2 4.8 9.3 3.9 10.7 3.7 10.8 3 12.3 2.6 12.3 2.1 13.8 1.7 13.9 1.4 13.8.9M57.5 189.3l1.5 1.5 1.6 1.4 1.5 1.5 1.5 1.4 1.6 1.4 1.5 1.4 1.6 1.4 1.5 1.3 1.5 1.4 1.6 1.3 3.1 2.7 3 2.5 3.1 2.6 3.1 2.5 3 2.4 4.7 3.5 4.6 3.5 4.6 3.3 6.1 4.3 6.2 4.1 6.1 3.9 7.7 4.7 7.7 4.5 9.2 5 9.3 4.8 10.7 5.1 10.8 4.8 12.3 5.1 12.3 4.7 13.8 4.8 13.9 4.4 13.8 4M57.5 189.3l1.5 11 1.6 10.2 1.5 9.4 1.5 8.6 1.6 8 1.5 7.3 1.6 6.8 1.5 6.3 1.5 5.7 1.6 5.4 3.1 9.4 3 8 3.1 6.9 3.1 5.8 3 4.9 4.7 6.1 4.6 4.7 4.6 3.8 6.1 3.7 6.2 2.8 6.1 1.9 7.7 1.8 7.7 1.1 9.2.9 9.3.5 10.7.4 10.8.2 12.3.2 12.3 0 13.8.1 13.9 0 13.8 0M57.5 189.3l1.5 6.3 1.6 5.9 1.5 5.8 1.5 5.4 1.6 5.2 1.5 5 1.6 4.8 1.5 4.6 1.5 4.3 1.6 4.2 3.1 7.8 3 7.1 3.1 6.5 3.1 6 3 5.4 4.7 7.3 4.6 6.4 4.6 5.5 6.1 6.3 6.2 5.3 6.1 4.5 7.7 4.5 7.7 3.6 9.2 3.3 9.3 2.6 10.7 2.3 10.8 1.6 12.3 1.3 12.3 1 13.8.7 13.9.4 13.8.4M57.5 189.3l1.5 3.2 1.6 3.2 1.5 3 1.5 3 1.6 3 1.5 2.9 1.6 2.8 1.5 2.7 1.5 2.7 1.6 2.6 3.1 5.1 3 4.8 3.1 4.6 3.1 4.4 3 4.2 4.7 6 4.6 5.6 4.6 5.2 6.1 6.4 6.2 5.8 6.1 5.3 7.7 6 7.7 5.4 9.2 5.6 9.3 5 10.7 4.9 10.8 4.3 12.3 4 12.3 3.4 13.8 3.1 13.9 2.6 13.8 2.1M57.5 189.3l1.5 5.3 1.6 5.2 1.5 4.9 1.5 4.8 1.6 4.6 1.5 4.4 1.6 4.3 1.5 4 1.5 4 1.6 3.8 3.1 7.1 3 6.6 3.1 6.2 3.1 5.6 3 5.3 4.7 7.2 4.6 6.3 4.6 5.7 6.1 6.7 6.2 5.6 6.1 4.9 7.7 5.2 7.7 4.2 9.2 4.1 9.3 3.3 10.7 3 10.8 2.2 12.3 2 12.3 1.4 13.8 1.2 13.9.8 13.8.6M57.5 189.3l1.5 5.8 1.6 5.6 1.5 5.3 1.5 5.1 1.6 4.9 1.5 4.7 1.6 4.5 1.5 4.3 1.5 4.2 1.6 4 3.1 7.5 3 6.8 3.1 6.4 3.1 5.8 3 5.4 4.7 7.2 4.6 6.4 4.6 5.6 6.1 6.6 6.2 5.5 6.1 4.6 7.7 4.9 7.7 3.9 9.2 3.7 9.3 2.9 10.7 2.6 10.8 2 12.3 1.6 12.3 1.2 13.8.9 13.9.6 13.8.4M57.5 189.3l1.5 9 1.6 8.4 1.5 7.8 1.5 7.4 1.6 6.9 1.5 6.5 1.6 6.1 1.5 5.6 1.5 5.4 1.6 5 3.1 9 3 7.9 3.1 7 3.1 6.1 3 5.4 4.7 6.8 4.6 5.6 4.6 4.6 6.1 5 6.2 3.7 6.1 2.9 7.7 2.8 7.7 1.9 9.2 1.7 9.3 1.1 10.7.8 10.8.6 12.3.3 12.3.3 13.8.1 13.9.1 13.8 0M57.5 189.3l1.5 4.8 1.6 4.6 1.5 4.4 1.5 4.3 1.6 4.2 1.5 4 1.6 3.9 1.5 3.7 1.5 3.6 1.6 3.5 3.1 6.7 3 6.2 3.1 5.8 3.1 5.5 3 5 4.7 7 4.6 6.3 4.6 5.7 6.1 6.7 6.2 5.9 6.1 5.1 7.7 5.5 7.7 4.6 9.2 4.6 9.3 3.8 10.7 3.5 10.8 2.8 12.3 2.4 12.3 1.9 13.8 1.5 13.9 1.2 13.8.8M57.5 189.3l1.5 7.7 1.6 7.4 1.5 6.9 1.5 6.5 1.6 6.2 1.5 5.9 1.6 5.5 1.5 5.2 1.5 4.9 1.6 4.7 3.1 8.6 3 7.7 3.1 6.9 3.1 6.1 3 5.5 4.7 7.1 4.6 6.1 4.6 5.1 6.1 5.6 6.2 4.5 6.1 3.6 7.7 3.4 7.7 2.7 9.2 2.3 9.3 1.7 10.7 1.3 10.8.9 12.3.7 12.3.4 13.8.3 13.9.2 13.8.1M57.5 189.3l1.5 3.9 1.6 3.8 1.5 3.7 1.5 3.6 1.6 3.4 1.5 3.4 1.6 3.3 1.5 3.2 1.5 3.2 1.6 3 3.1 5.8 3 5.5 3.1 5.2 3.1 4.9 3 4.7 4.7 6.5 4.6 6 4.6 5.5 6.1 6.7 6.2 6 6.1 5.3 7.7 5.9 7.7 5.1 9.2 5.3 9.3 4.4 10.7 4.4 10.8 3.6 12.3 3.3 12.3 2.7 13.8 2.3 13.9 1.8 13.8 1.5M57.5 189.3l1.5 5 1.6 4.9 1.5 4.7 1.5 4.5 1.6 4.3 1.5 4.2 1.6 4.1 1.5 3.9 1.5 3.7 1.6 3.7 3.1 6.9 3 6.4 3.1 5.9 3.1 5.6 3 5.1 4.7 7.1 4.6 6.3 4.6 5.7 6.1 6.7 6.2 5.8 6.1 5.1 7.7 5.3 7.7 4.5 9.2 4.3 9.3 3.6 10.7 3.2 10.8 2.6 12.3 2.2 12.3 1.6 13.8 1.4 13.9 1 13.8.7M57.5 189.3l1.5 3.5 1.6 3.5 1.5 3.4 1.5 3.2 1.6 3.2 1.5 3.2 1.6 3 1.5 3 1.5 2.8 1.6 2.9 3.1 5.4 3 5.2 3.1 4.9 3.1 4.6 3 4.5 4.7 6.2 4.6 5.8 4.6 5.4 6.1 6.5 6.2 6 6.1 5.3 7.7 6 7.7 5.3 9.2 5.5 9.3 4.7 10.7 4.7 10.8 3.9 12.3 3.7 12.3 3 13.8 2.8 13.9 2.2 13.8 1.7M57.5 189.3l1.5 3.4 1.6 3.3 1.5 3.2 1.5 3.1 1.6 3.1 1.5 3 1.6 2.9 1.5 2.8 1.5 2.8 1.6 2.7 3.1 5.2 3 5 3.1 4.8 3.1 4.5 3 4.3 4.7 6.1 4.6 5.7 4.6 5.3 6.1 6.5 6.2 5.9 6.1 5.3 7.7 6 7.7 5.3 9.2 5.6 9.3 4.9 10.7 4.8 10.8 4.1 12.3 3.9 12.3 3.2 13.8 3 13.9 2.3 13.8 2M57.5 189.3l1.5 6.8 1.6 6.5 1.5 6.2 1.5 5.9 1.6 5.6 1.5 5.3 1.6 5.1 1.5 4.8 1.5 4.6 1.6 4.4 3.1 8.1 3 7.4 3.1 6.6 3.1 6.1 3 5.5 4.7 7.3 4.6 6.2 4.6 5.4 6.1 6.1 6.2 5 6.1 4.1 7.7 4.2 7.7 3.2 9.2 2.9 9.3 2.2 10.7 1.9 10.8 1.3 12.3 1 12.3.7 13.8.6 13.9.3 13.8.2M57.5 189.3l1.5 3.8 1.6 3.6 1.5 3.6 1.5 3.5 1.6 3.4 1.5 3.3 1.6 3.2 1.5 3.1 1.5 3.1 1.6 2.9 3.1 5.7 3 5.4 3.1 5.1 3.1 4.9 3 4.5 4.7 6.5 4.6 5.9 4.6 5.5 6.1 6.6 6.2 6 6.1 5.3 7.7 5.9 7.7 5.2 9.2 5.4 9.3 4.5 10.7 4.5 10.8 3.7 12.3 3.4 12.3 2.8 13.8 2.5 13.9 2 13.8 1.5M57.5 189.3l1.5 11.9 1.6 10.9 1.5 10 1.5 9.1 1.6 8.4 1.5 7.7 1.6 7 1.5 6.5 1.5 5.9 1.6 5.4 3.1 9.5 3 8 3.1 6.6 3.1 5.7 3 4.7 4.7 5.7 4.6 4.3 4.6 3.4 6.1 3.3 6.2 2.3 6.1 1.7 7.7 1.4 7.7.9 9.2.6 9.3.4 10.7.3 10.8.1 12.3.1 12.3.1 13.8 0 13.9 0 13.8 0M57.5 189.3l1.5 5.5 1.6 5.4 1.5 5.1 1.5 4.9 1.6 4.7 1.5 4.6 1.6 4.4 1.5 4.1 1.5 4.1 1.6 3.9 3.1 7.3 3 6.7 3.1 6.2 3.1 5.8 3 5.3 4.7 7.2 4.6 6.4 4.6 5.6 6.1 6.6 6.2 5.6 6.1 4.8 7.7 5 7.7 4.1 9.2 4 9.3 3.1 10.7 2.8 10.8 2.1 12.3 1.8 12.3 1.3 13.8 1.1 13.9.7 13.8.5M57.5 189.3l1.5 15.5 1.6 13.8 1.5 12.2 1.5 11 1.6 9.7 1.5 8.7 1.6 7.7 1.5 6.9 1.5 6.2 1.6 5.5 3.1 9.2 3 7.3 3.1 5.8 3.1 4.6 3 3.7 4.7 4.1 4.6 2.9 4.6 2.1 6.1 1.9 6.2 1.1 6.1.8 7.7.5 7.7.3 9.2.2 9.3.1 10.7.1 10.8 0 12.3 0 12.3 0 13.8 0 13.9 0 13.8 0M57.5 189.3l1.5 3.5 1.6 3.5 1.5 3.4 1.5 3.3 1.6 3.2 1.5 3.1 1.6 3 1.5 3 1.5 2.9 1.6 2.8 3.1 5.5 3 5.2 3.1 4.9 3.1 4.6 3 4.5 4.7 6.2 4.6 5.8 4.6 5.4 6.1 6.6 6.2 5.9 6.1 5.4 7.7 5.9 7.7 5.3 9.2 5.5 9.3 4.7 10.7 4.7 10.8 3.9 12.3 3.7 12.3 3 13.8 2.8 13.9 2.2 13.8 1.7M57.5 189.3l1.5 4.5 1.6 4.4 1.5 4.2 1.5 4.1 1.6 3.9 1.5 3.9 1.6 3.7 1.5 3.6 1.5 3.5 1.6 3.3 3.1 6.5 3 6 3.1 5.6 3.1 5.3 3 5 4.7 6.8 4.6 6.3 4.6 5.6 6.1 6.8 6.2 5.9 6.1 5.2 7.7 5.6 7.7 4.8 9.2 4.8 9.3 4 10.7 3.8 10.8 3 12.3 2.7 12.3 2 13.8 1.8 13.9 1.3 13.8 1M57.5 189.3l1.5 6.6 1.6 6.2 1.5 6 1.5 5.7 1.6 5.4 1.5 5.2 1.6 4.9 1.5 4.7 1.5 4.5 1.6 4.3 3.1 8 3 7.2 3.1 6.6 3.1 6.1 3 5.4 4.7 7.3 4.6 6.3 4.6 5.5 6.1 6.2 6.2 5.2 6.1 4.2 7.7 4.3 7.7 3.4 9.2 3.1 9.3 2.4 10.7 2 10.8 1.5 12.3 1.2 12.3.8 13.8.6 13.9.4 13.8.2M57.5 189.3l1.5 6.4 1.6 6.1 1.5 5.8 1.5 5.6 1.6 5.3 1.5 5.1 1.6 4.8 1.5 4.7 1.5 4.4 1.6 4.2 3.1 7.9 3 7.2 3.1 6.5 3.1 6 3 5.4 4.7 7.3 4.6 6.4 4.6 5.5 6.1 6.3 6.2 5.2 6.1 4.4 7.7 4.4 7.7 3.5 9.2 3.2 9.3 2.5 10.7 2.2 10.8 1.5 12.3 1.3 12.3.8 13.8.7 13.9.4 13.8.3M57.5 189.3l1.5 6.3 1.6 6 1.5 5.8 1.5 5.5 1.6 5.3 1.5 5 1.6 4.8 1.5 4.6 1.5 4.4 1.6 4.2 3.1 7.8 3 7.2 3.1 6.5 3.1 5.9 3 5.5 4.7 7.3 4.6 6.3 4.6 5.6 6.1 6.3 6.2 5.2 6.1 4.4 7.7 4.5 7.7 3.6 9.2 3.3 9.3 2.5 10.7 2.2 10.8 1.6 12.3 1.3 12.3.9 13.8.7 13.9.5 13.8.3M57.5 189.3l1.5 1.5 1.6 1.6 1.5 1.5 1.5 1.5 1.6 1.4 1.5 1.5 1.6 1.4 1.5 1.5 1.5 1.4 1.6 1.4 3.1 2.7 3 2.7 3.1 2.7 3.1 2.5 3 2.5 4.7 3.7 4.6 3.6 4.6 3.4 6.1 4.4 6.2 4.3 6.1 4 7.7 4.8 7.7 4.6 9.2 5.2 9.3 4.8 10.7 5.2 10.8 4.9 12.3 5.1 12.3 4.7 13.8 4.8 13.9 4.4 13.8 3.9M57.5 189.3l1.5 2.4 1.6 2.4 1.5 2.3 1.5 2.3 1.6 2.2 1.5 2.2 1.6 2.2 1.5 2.1 1.5 2.1 1.6 2.1 3.1 4 3 3.9 3.1 3.8 3.1 3.6 3 3.5 4.7 5.1 4.6 4.7 4.6 4.6 6.1 5.7 6.2 5.3 6.1 5 7.7 5.8 7.7 5.3 9.2 5.8 9.3 5.2 10.7 5.5 10.8 4.8 12.3 4.9 12.3 4.2 13.8 4.1 13.9 3.6 13.8 3M57.5 189.3l1.5 2.2 1.6 2.2 1.5 2.2 1.5 2.1 1.6 2.1 1.5 2.1 1.6 2 1.5 2 1.5 2 1.6 1.9 3.1 3.8 3 3.7 3.1 3.6 3.1 3.4 3 3.3 4.7 4.8 4.6 4.6 4.6 4.4 6.1 5.5 6.2 5.2 6.1 4.8 7.7 5.7 7.7 5.2 9.2 5.7 9.3 5.3 10.7 5.4 10.8 5 12.3 4.9 12.3 4.4 13.8 4.3 13.9 3.8 13.8 3.2M57.5 189.3l1.5 12.2 1.6 11.2 1.5 10.2 1.5 9.3 1.6 8.5 1.5 7.8 1.6 7.1 1.5 6.5 1.5 6 1.6 5.4 3.1 9.5 3 7.9 3.1 6.7 3.1 5.5 3 4.6 4.7 5.6 4.6 4.2 4.6 3.3 6.1 3.1 6.2 2.2 6.1 1.6 7.7 1.2 7.7.9 9.2.6 9.3.3 10.7.2 10.8.2 12.3 0 12.3.1 13.8 0 13.9 0 13.8 0M57.5 189.3l1.5 12.1 1.6 11 1.5 10.1 1.5 9.2 1.6 8.5 1.5 7.7 1.6 7.1 1.5 6.5 1.5 5.9 1.6 5.4 3.1 9.5 3 8 3.1 6.6 3.1 5.6 3 4.7 4.7 5.6 4.6 4.3 4.6 3.3 6.1 3.2 6.2 2.3 6.1 1.6 7.7 1.3 7.7.9 9.2.6 9.3.4 10.7.2 10.8.1 12.3.1 12.3.1 13.8 0 13.9 0 13.8 0M57.5 189.3l1.5 8.3 1.6 7.9 1.5 7.4 1.5 6.9 1.6 6.5 1.5 6.2 1.6 5.8 1.5 5.5 1.5 5.1 1.6 4.8 3.1 8.9 3 7.8 3.1 6.9 3.1 6.2 3 5.4 4.7 7 4.6 5.9 4.6 4.9 6.1 5.2 6.2 4.2 6.1 3.2 7.7 3.1 7.7 2.3 9.2 2 9.3 1.4 10.7 1 10.8.8 12.3.5 12.3.3 13.8.2 13.9.1 13.8.1M57.5 189.3l1.5 8.5 1.6 8 1.5 7.5 1.5 7 1.6 6.7 1.5 6.2 1.6 5.9 1.5 5.5 1.5 5.2 1.6 4.8 3.1 8.9 3 7.9 3.1 6.9 3.1 6.2 3 5.4 4.7 7 4.6 5.8 4.6 4.8 6.1 5.2 6.2 4 6.1 3.2 7.7 3 7.7 2.2 9.2 1.9 9.3 1.3 10.7 1 10.8.7 12.3.5 12.3.2 13.8.2 13.9.1 13.8.1M57.5 189.3l1.5 2.2 1.6 2.1 1.5 2.1 1.5 2 1.6 2 1.5 2 1.6 2 1.5 1.9 1.5 1.9 1.6 1.9 3.1 3.7 3 3.5 3.1 3.5 3.1 3.3 3 3.3 4.7 4.7 4.6 4.4 4.6 4.3 6.1 5.4 6.2 5.1 6.1 4.8 7.7 5.6 7.7 5.1 9.2 5.7 9.3 5.2 10.7 5.5 10.8 5 12.3 5 12.3 4.5 13.8 4.4 13.9 3.8 13.8 3.3M57.5 189.3l1.5 11.8 1.6 10.7 1.5 9.9 1.5 9.1 1.6 8.3 1.5 7.6 1.6 7 1.5 6.4 1.5 5.9 1.6 5.4 3.1 9.5 3 8 3.1 6.7 3.1 5.7 3 4.7 4.7 5.8 4.6 4.4 4.6 3.4 6.1 3.4 6.2 2.4 6.1 1.7 7.7 1.4 7.7 1 9.2.7 9.3.4 10.7.3 10.8.1 12.3.1 12.3.1 13.8 0 13.9 0 13.8 0M57.5 189.3l1.5 10.6 1.6 9.7 1.5 9.1 1.5 8.4 1.6 7.7 1.5 7.2 1.6 6.6 1.5 6.2 1.5 5.7 1.6 5.2 3.1 9.4 3 8.1 3.1 6.9 3.1 5.9 3 5 4.7 6.3 4.6 4.9 4.6 4 6.1 4 6.2 2.9 6.1 2.2 7.7 1.9 7.7 1.3 9.2 1 9.3.6 10.7.5 10.8.2 12.3.2 12.3.1 13.8 0 13.9.1 13.8 0M57.5 189.3l1.5 6.6 1.6 6.4 1.5 6 1.5 5.7 1.6 5.5 1.5 5.2 1.6 5 1.5 4.7 1.5 4.6 1.6 4.3 3.1 8 3 7.3 3.1 6.6 3.1 6 3 5.5 4.7 7.3 4.6 6.3 4.6 5.5 6.1 6.2 6.2 5.1 6.1 4.2 7.7 4.2 7.7 3.3 9.2 3.1 9.3 2.3 10.7 2 10.8 1.4 12.3 1.2 12.3.7 13.8.6 13.9.4 13.8.2M57.5 189.3l1.5 1.2 1.6 1.2 1.5 1.2 1.5 1.2 1.6 1.2 1.5 1.2 1.6 1.2 1.5 1.1 1.5 1.2 1.6 1.1 3.1 2.2 3 2.2 3.1 2.2 3.1 2.1 3 2.1 4.7 3.1 4.6 3 4.6 2.9 6.1 3.7 6.2 3.7 6.1 3.5 7.7 4.2 7.7 4.1 9.2 4.6 9.3 4.4 10.7 4.8 10.8 4.6 12.3 4.9 12.3 4.5 13.8 4.8 13.9 4.4 13.8 4M57.5 189.3l1.5 4.6 1.6 4.5 1.5 4.3 1.5 4.2 1.6 4 1.5 3.9 1.6 3.8 1.5 3.7 1.5 3.5 1.6 3.4 3.1 6.5 3 6.2 3.1 5.7 3.1 5.3 3 5 4.7 6.9 4.6 6.3 4.6 5.7 6.1 6.7 6.2 5.9 6.1 5.2 7.7 5.6 7.7 4.7 9.2 4.7 9.3 3.9 10.7 3.7 10.8 2.9 12.3 2.5 12.3 2 13.8 1.7 13.9 1.3 13.8.9M57.5 189.3l1.5 4.3 1.6 4.1 1.5 4 1.5 3.9 1.6 3.8 1.5 3.7 1.6 3.5 1.5 3.5 1.5 3.3 1.6 3.2 3.1 6.2 3 5.9 3.1 5.4 3.1 5.2 3 4.8 4.7 6.8 4.6 6.1 4.6 5.7 6.1 6.7 6.2 5.9 6.1 5.3 7.7 5.8 7.7 4.9 9.2 5 9.3 4.2 10.7 4 10.8 3.2 12.3 2.9 12.3 2.3 13.8 2 13.9 1.5 13.8 1.2M57.5 189.3l1.5 3.8 1.6 3.7 1.5 3.7 1.5 3.5 1.6 3.4 1.5 3.4 1.6 3.2 1.5 3.2 1.5 3 1.6 3 3.1 5.8 3 5.4 3.1 5.1 3.1 4.9 3 4.6 4.7 6.5 4.6 6 4.6 5.4 6.1 6.7 6.2 6 6.1 5.3 7.7 5.9 7.7 5.2 9.2 5.3 9.3 4.5 10.7 4.4 10.8 3.7 12.3 3.4 12.3 2.7 13.8 2.5 13.9 1.9 13.8 1.4M57.5 189.3l1.5 7.5 1.6 7.1 1.5 6.7 1.5 6.4 1.6 6.1 1.5 5.7 1.6 5.4 1.5 5.1 1.5 4.9 1.6 4.6 3.1 8.5 3 7.6 3.1 6.8 3.1 6.1 3 5.5 4.7 7.2 4.6 6.2 4.6 5.2 6.1 5.7 6.2 4.6 6.1 3.7 7.7 3.6 7.7 2.8 9.2 2.5 9.3 1.8 10.7 1.4 10.8 1 12.3.8 12.3.5 13.8.3 13.9.3 13.8.1M57.5 189.3l1.5 3.6 1.6 3.5 1.5 3.5 1.5 3.3 1.6 3.3 1.5 3.2 1.6 3.1 1.5 3 1.5 2.9 1.6 2.9 3.1 5.5 3 5.2 3.1 5 3.1 4.7 3 4.5 4.7 6.3 4.6 5.9 4.6 5.4 6.1 6.6 6.2 5.9 6.1 5.3 7.7 6 7.7 5.2 9.2 5.5 9.3 4.7 10.7 4.6 10.8 3.8 12.3 3.7 12.3 2.9 13.8 2.7 13.9 2.1 13.8 1.7M57.5 189.3l1.5 14.6 1.6 13 1.5 11.8 1.5 10.5 1.6 9.5 1.5 8.4 1.6 7.6 1.5 6.9 1.5 6.1 1.6 5.5 3.1 9.3 3 7.6 3.1 6 3.1 4.9 3 4 4.7 4.5 4.6 3.2 4.6 2.4 6.1 2.1 6.2 1.4 6.1.9 7.7.7 7.7.4 9.2.3 9.3.1 10.7.1 10.8.1 12.3 0 12.3 0 13.8 0 13.9 0 13.8 0M57.5 189.3l1.5 2.8 1.6 2.7 1.5 2.7 1.5 2.6 1.6 2.6 1.5 2.5 1.6 2.5 1.5 2.4 1.5 2.4 1.6 2.3 3.1 4.5 3 4.3 3.1 4.2 3.1 4 3 3.9 4.7 5.5 4.6 5.2 4.6 4.9 6.1 6.1 6.2 5.6 6.1 5.2 7.7 5.9 7.7 5.4 9.2 5.8 9.3 5.1 10.7 5.3 10.8 4.6 12.3 4.5 12.3 3.9 13.8 3.7 13.9 3 13.8 2.6M57.5 189.3l1.5 5.8 1.6 5.5 1.5 5.3 1.5 5.1 1.6 4.9 1.5 4.7 1.6 4.5 1.5 4.4 1.5 4.1 1.6 4 3.1 7.5 3 6.8 3.1 6.4 3.1 5.8 3 5.3 4.7 7.3 4.6 6.4 4.6 5.6 6.1 6.5 6.2 5.5 6.1 4.7 7.7 4.9 7.7 3.9 9.2 3.7 9.3 3 10.7 2.6 10.8 1.9 12.3 1.7 12.3 1.1 13.8 1 13.9.6 13.8.4M57.5 189.3l1.5 3.6 1.6 3.6 1.5 3.4 1.5 3.4 1.6 3.3 1.5 3.2 1.6 3.1 1.5 3.1 1.5 2.9 1.6 2.9 3.1 5.5 3 5.3 3.1 5 3.1 4.7 3 4.5 4.7 6.4 4.6 5.8 4.6 5.5 6.1 6.5 6.2 6 6.1 5.3 7.7 6 7.7 5.2 9.2 5.5 9.3 4.6 10.7 4.6 10.8 3.8 12.3 3.6 12.3 3 13.8 2.6 13.9 2.1 13.8 1.6M57.5 189.3l1.5 3.7 1.6 3.7 1.5 3.5 1.5 3.5 1.6 3.4 1.5 3.2 1.6 3.2 1.5 3.1 1.5 3.1 1.6 2.9 3.1 5.7 3 5.3 3.1 5.1 3.1 4.8 3 4.6 4.7 6.4 4.6 5.9 4.6 5.5 6.1 6.6 6.2 6 6.1 5.3 7.7 5.9 7.7 5.2 9.2 5.4 9.3 4.6 10.7 4.5 10.8 3.7 12.3 3.5 12.3 2.8 13.8 2.5 13.9 2 13.8 1.6M57.5 189.3l1.5 3.9 1.6 3.8 1.5 3.7 1.5 3.6 1.6 3.5 1.5 3.4 1.6 3.3 1.5 3.2 1.5 3.2 1.6 3 3.1 5.8 3 5.6 3.1 5.2 3.1 4.9 3 4.7 4.7 6.5 4.6 6 4.6 5.5 6.1 6.7 6.2 6 6.1 5.3 7.7 5.9 7.7 5.1 9.2 5.3 9.3 4.4 10.7 4.3 10.8 3.6 12.3 3.3 12.3 2.7 13.8 2.3 13.9 1.8 13.8 1.4M57.5 189.3l1.5 9.2 1.6 8.7 1.5 8 1.5 7.6 1.6 7 1.5 6.6 1.6 6.2 1.5 5.8 1.5 5.4 1.6 5 3.1 9.1 3 8 3.1 7 3.1 6 3 5.4 4.7 6.7 4.6 5.5 4.6 4.5 6.1 4.8 6.2 3.6 6.1 2.8 7.7 2.6 7.7 1.8 9.2 1.5 9.3 1.1 10.7.7 10.8.5 12.3.3 12.3.2 13.8.2 13.9 0 13.8.1M57.5 189.3l1.5 3.5 1.6 3.4 1.5 3.3 1.5 3.2 1.6 3.1 1.5 3.1 1.6 3 1.5 2.9 1.5 2.8 1.6 2.8 3.1 5.4 3 5.1 3.1 4.8 3.1 4.6 3 4.4 4.7 6.2 4.6 5.7 4.6 5.4 6.1 6.5 6.2 5.9 6.1 5.4 7.7 6 7.7 5.2 9.2 5.6 9.3 4.8 10.7 4.7 10.8 4 12.3 3.8 12.3 3.1 13.8 2.8 13.9 2.3 13.8 1.8M57.5 189.3l1.5 4.8 1.6 4.7 1.5 4.5 1.5 4.3 1.6 4.2 1.5 4 1.6 3.9 1.5 3.8 1.5 3.7 1.6 3.5 3.1 6.7 3 6.3 3.1 5.8 3.1 5.4 3 5.1 4.7 7 4.6 6.3 4.6 5.7 6.1 6.8 6.2 5.8 6.1 5.1 7.7 5.5 7.7 4.6 9.2 4.5 9.3 3.8 10.7 3.4 10.8 2.7 12.3 2.4 12.3 1.9 13.8 1.5 13.9 1.1 13.8.8M57.5 189.3l1.5 5.6 1.6 5.4 1.5 5.2 1.5 5 1.6 4.8 1.5 4.6 1.6 4.4 1.5 4.3 1.5 4 1.6 3.9 3.1 7.4 3 6.8 3.1 6.2 3.1 5.8 3 5.3 4.7 7.3 4.6 6.4 4.6 5.6 6.1 6.6 6.2 5.6 6.1 4.7 7.7 5 7.7 4 9.2 3.9 9.3 3 10.7 2.8 10.8 2 12.3 1.8 12.3 1.2 13.8 1 13.9.7 13.8.5M57.5 189.3l1.5 11.9 1.6 11 1.5 10 1.5 9.1 1.6 8.4 1.5 7.7 1.6 7.1 1.5 6.4 1.5 5.9 1.6 5.4 3.1 9.5 3 8 3.1 6.7 3.1 5.6 3 4.7 4.7 5.7 4.6 4.3 4.6 3.4 6.1 3.3 6.2 2.3 6.1 1.6 7.7 1.4 7.7.9 9.2.6 9.3.4 10.7.3 10.8.1 12.3.1 12.3.1 13.8 0 13.9 0 13.8 0M57.5 189.3l1.5 8.6 1.6 8.2 1.5 7.6 1.5 7.2 1.6 6.7 1.5 6.3 1.6 5.9 1.5 5.6 1.5 5.2 1.6 4.9 3.1 9 3 7.9 3.1 6.9 3.1 6.1 3 5.4 4.7 7 4.6 5.7 4.6 4.8 6.1 5.1 6.2 3.9 6.1 3.1 7.7 2.9 7.7 2.2 9.2 1.8 9.3 1.2 10.7 1 10.8.6 12.3.4 12.3.3 13.8.2 13.9.1 13.8 0M57.5 189.3l1.5 11.7 1.6 10.7 1.5 9.8 1.5 9 1.6 8.3 1.5 7.6 1.6 6.9 1.5 6.4 1.5 5.9 1.6 5.4 3.1 9.5 3 8 3.1 6.7 3.1 5.7 3 4.8 4.7 5.7 4.6 4.5 4.6 3.5 6.1 3.4 6.2 2.5 6.1 1.7 7.7 1.5 7.7.9 9.2.7 9.3.5 10.7.2 10.8.2 12.3.1 12.3.1 13.8 0 13.9 0 13.8 0M57.5 189.3l1.5 3.4 1.6 3.3 1.5 3.3 1.5 3.1 1.6 3.1 1.5 3 1.6 3 1.5 2.8 1.5 2.8 1.6 2.8 3.1 5.3 3 5 3.1 4.8 3.1 4.5 3 4.4 4.7 6.1 4.6 5.7 4.6 5.3 6.1 6.5 6.2 5.9 6.1 5.3 7.7 6 7.7 5.4 9.2 5.5 9.3 4.9 10.7 4.8 10.8 4 12.3 3.9 12.3 3.2 13.8 2.9 13.9 2.3 13.8 1.9M57.5 189.3l1.5 14.5 1.6 13 1.5 11.6 1.5 10.5 1.6 9.4 1.5 8.5 1.6 7.5 1.5 6.9 1.5 6.1 1.6 5.5 3.1 9.3 3 7.6 3.1 6.1 3.1 4.9 3 4 4.7 4.5 4.6 3.3 4.6 2.4 6.1 2.2 6.2 1.4 6.1 1 7.7.7 7.7.4 9.2.3 9.3.1 10.7.1 10.8.1 12.3 0 12.3 0 13.8 0 13.9 0 13.8 0M57.5 189.3l1.5 15.2 1.6 13.5 1.5 12.1 1.5 10.8 1.6 9.6 1.5 8.6 1.6 7.7 1.5 6.9 1.5 6.2 1.6 5.4 3.1 9.3 3 7.4 3.1 5.9 3.1 4.7 3 3.8 4.7 4.2 4.6 3.1 4.6 2.1 6.1 2 6.2 1.2 6.1.8 7.7.6 7.7.4 9.2.2 9.3.1 10.7 0 10.8.1 12.3 0 12.3 0 13.8 0 13.9 0 13.8 0M57.5 189.3l1.5 14.8 1.6 13.3 1.5 11.9 1.5 10.7 1.6 9.5 1.5 8.6 1.6 7.6 1.5 6.9 1.5 6.1 1.6 5.5 3.1 9.3 3 7.5 3.1 6 3.1 4.8 3 3.8 4.7 4.4 4.6 3.2 4.6 2.2 6.1 2.1 6.2 1.3 6.1.9 7.7.6 7.7.4 9.2.2 9.3.2 10.7 0 10.8.1 12.3 0 12.3 0 13.8 0 13.9 0 13.8 0M57.5 189.3l1.5 13.4 1.6 12.2 1.5 11 1.5 10 1.6 9 1.5 8.2 1.6 7.4 1.5 6.7 1.5 6 1.6 5.5 3.1 9.5 3 7.8 3.1 6.3 3.1 5.2 3 4.3 4.7 5 4.6 3.7 4.6 2.8 6.1 2.6 6.2 1.7 6.1 1.2 7.7.9 7.7.6 9.2.4 9.3.2 10.7.2 10.8 0 12.3.1 12.3 0 13.8 0 13.9 0 13.8 0M57.5 189.3l1.5 13.6 1.6 12.4 1.5 11.1 1.5 10.1 1.6 9.1 1.5 8.2 1.6 7.4 1.5 6.7 1.5 6.1 1.6 5.5 3.1 9.5 3 7.7 3.1 6.3 3.1 5.2 3 4.2 4.7 4.9 4.6 3.6 4.6 2.7 6.1 2.5 6.2 1.7 6.1 1.1 7.7.9 7.7.6 9.2.4 9.3.2 10.7.1 10.8 0 12.3.1 12.3 0 13.8 0 13.9 0 13.8 0M57.5 189.3l1.5 15.1 1.6 13.5 1.5 12 1.5 10.8 1.6 9.6 1.5 8.6 1.6 7.7 1.5 6.9 1.5 6.1 1.6 5.5 3.1 9.3 3 7.4 3.1 5.9 3.1 4.8 3 3.7 4.7 4.3 4.6 3.1 4.6 2.2 6.1 1.9 6.2 1.3 6.1.8 7.7.6 7.7.3 9.2.3 9.3.1 10.7 0 10.8.1 12.3 0 12.3 0 13.8 0 13.9 0 13.8 0M57.5 189.3l1.5 12.9 1.6 11.7 1.5 10.6 1.5 9.7 1.6 8.8 1.5 8 1.6 7.3 1.5 6.6 1.5 6 1.6 5.5 3.1 9.5 3 7.8 3.1 6.5 3.1 5.4 3 4.4 4.7 5.3 4.6 3.9 4.6 3 6.1 2.8 6.2 2 6.1 1.3 7.7 1.1 7.7.7 9.2.5 9.3.2 10.7.2 10.8.1 12.3.1 12.3 0 13.8 0 13.9 0 13.8 0M57.5 189.3l1.5 15 1.6 13.3 1.5 12 1.5 10.7 1.6 9.6 1.5 8.6 1.6 7.7 1.5 6.8 1.5 6.1 1.6 5.5 3.1 9.3 3 7.5 3.1 5.9 3.1 4.8 3 3.8 4.7 4.4 4.6 3.1 4.6 2.2 6.1 2 6.2 1.3 6.1.8 7.7.7 7.7.3 9.2.3 9.3.1 10.7 0 10.8.1 12.3 0 12.3 0 13.8 0 13.9 0 13.8 0" class="gr"/>
<path d="M57.5 189.3l2.3 17.7 2.3 11.2 2.3 8.3 2.3 7 2.3 6.2 2.3 5.7 2.3 5.3 2.4 4.9 2.3 4.7 2.3 4.3 2.3 4.1 2.3 3.8 2.3 3.6 2.3 3.4 2.3 3.2 2.3 3 2.3 2.7 2.3 2.7 2.3 2.4 2.3 2.3 2.3 2.2 2.3 2 2.3 2 2.3 1.7 2.4 1.7 2.3 1.6 2.3 1.5 2.3 1.4 2.3 1.3 2.3 1.2 2.3 1.2 2.3 1.1 2.3 1 2.3.9 2.3.9 2.3.9 2.3.7 2.3.8 2.3.7 2.4.6 2.3.6 2.3.6 2.3.5 2.3.6 2.3.4 2.3.5 2.3.4 2.3.4 2.3.4 2.3.3 2.3.3 2.3.3 2.3.3 2.3.3 2.3.2 2.3.3 2.4.2 2.3.2 2.3.2 2.3.2 2.3.2 2.3.1 2.3.2 2.3.1 2.3.1 2.3.2 2.3.1 2.3.1 2.3.1 2.3.1 2.3.1 2.4.1 2.3.1 2.3 0 2.3.1 2.3.1 2.3 0 2.3.1 2.3.1 2.3 0" class="bk"/>
<path d="M57.5 189.3l3.1 9.5 3 8.3 3.1 7.3 3.1 6.5 3.1 5.8 3.1 5.2 3 4.6 3.1 4.2 3.1 3.7 3 3.5 3.1 3.1 3.1 2.9 3.1 2.6 3.1 2.5 3 2.3 3.1 2.1 3.1 2 3 1.9 3.1 1.8 3.1 1.7 3.1 1.6 3.1 1.5 3 1.5 3.1 1.4 3.1 1.4 3 1.3 3.1 1.2 3.1 1.2 3.1 1.2 3.1 1.2 3 1.1 3.1 1 3.1 1.1 3 1 3.1 1 3.1 1 3.1.9 3.1.9 3 .9 3.1.9 3.1.8 3 .8 3.1.8 3.1.8 3.1.8 3.1.7 3 .8 3.1.7 3.1.7 3 .7 3.1.6 3.1.7 3.1.6 3.1.6 3 .6 3.1.6 3.1.6 3 .6 3.1.5 3.1.6" class="cg"/>
<path d="M57.5 189.3l3.1 22.9 3 19.2 3.1 16.1 3.1 13.5 3.1 11.3 3.1 9.5 3 8 3.1 6.7 3.1 5.6 3 4.7 3.1 3.9 3.1 3.3 3.1 2.8 3.1 2.3 3 2 3.1 1.6 3.1 1.4 3 1.1 3.1 1 3.1.8 3.1.7 3.1.5 3 .5 3.1.4 3.1.4 3 .2 3.1.3 3.1.2 3.1.1 3.1.2 3 .1 3.1.1 3.1.1 3 0 3.1.1 3.1 0 3.1.1 3.1 0 3 .1 3.1 0 3.1 0 3 0 3.1 0 3.1 0 3.1 0 3.1.1 3 0 3.1 0 3.1 0 3 0 3.1 0 3.1 0 3.1 0 3.1 0 3 0 3.1 0 3.1 0 3 0 3.1 0 3.1 0" class="cg"/>
<path d="M57.5 189.3l3.1 8.8 3 7 3.1 5.7 3.1 4.8 3.1 4 3.1 3.5 3 3.1 3.1 2.8 3.1 2.6 3 2.4 3.1 2.3 3.1 2.1 3.1 2 3.1 2 3 1.9 3.1 1.8 3.1 1.8 3 1.8 3.1 1.7 3.1 1.6 3.1 1.6 3.1 1.6 3 1.6 3.1 1.5 3.1 1.5 3 1.4 3.1 1.4 3.1 1.4 3.1 1.4 3.1 1.3 3 1.3 3.1 1.3 3.1 1.3 3 1.2 3.1 1.2 3.1 1.2 3.1 1.1 3.1 1.2 3 1.1 3.1 1 3.1 1.1 3 1 3.1 1.1 3.1 1 3.1.9 3.1 1 3 .9 3.1.9 3.1.9 3 .9 3.1.9 3.1.8 3.1.9 3.1.8 3 .8 3.1.7 3.1.8 3 .7 3.1.8 3.1.7" class="cr"/>
<path d="M57.5 189.3l3.1 23.4 3 19.5 3.1 16.3 3.1 13.6 3.1 11.4 3.1 9.5 3 7.9 3.1 6.7 3.1 5.5 3 4.6 3.1 3.9 3.1 3.2 3.1 2.7 3.1 2.3 3 1.9 3.1 1.5 3.1 1.3 3 1.1 3.1 1 3.1.7 3.1.7 3.1.5 3 .4 3.1.4 3.1.3 3 .3 3.1.2 3.1.2 3.1.1 3.1.2 3 .1 3.1.1 3.1 0 3 .1 3.1 0 3.1.1 3.1 0 3.1 0 3 .1 3.1 0 3.1 0 3 0 3.1 0 3.1 0 3.1.1 3.1 0 3 0 3.1 0 3.1 0 3 0 3.1 0 3.1 0 3.1 0 3.1 0 3 0 3.1 0 3.1 0 3 0 3.1 0 3.1 0" class="cr"/>
<path d="M57.5 189.3l3.1 6.2 3 5.1 3.1 4.2 3.1 3.6 3.1 3.1 3.1 2.7 3 2.5 3.1 2.3 3.1 2.2 3 2 3.1 1.9 3.1 1.9 3.1 1.8 3.1 1.8 3 1.7 3.1 1.6 3.1 1.6 3 1.6 3.1 1.6 3.1 1.5 3.1 1.5 3.1 1.5 3 1.5 3.1 1.4 3.1 1.4 3 1.4 3.1 1.3 3.1 1.4 3.1 1.3 3.1 1.3 3 1.2 3.1 1.3 3.1 1.2 3 1.2 3.1 1.2 3.1 1.2 3.1 1.1 3.1 1.1 3 1.2 3.1 1 3.1 1.1 3 1.1 3.1 1 3.1 1 3.1 1 3.1 1 3 1 3.1 1 3.1.9 3 .9 3.1.9 3.1.9 3.1.9 3.1.9 3 .8 3.1.9 3.1.8 3 .8 3.1.8 3.1.8" class="cb"/>
<path d="M57.5 189.3l3.1 23.8 3 19.9 3.1 16.5 3.1 13.7 3.1 11.5 3.1 9.5 3 7.9 3.1 6.5 3.1 5.5 3 4.6 3.1 3.8 3.1 3.1 3.1 2.6 3.1 2.2 3 1.8 3.1 1.5 3.1 1.3 3 1 3.1.9 3.1.7 3.1.6 3.1.5 3 .4 3.1.4 3.1.3 3 .2 3.1.2 3.1.2 3.1.1 3.1.1 3 .1 3.1.1 3.1.1 3 0 3.1.1 3.1 0 3.1 0 3.1.1 3 0 3.1 0 3.1 0 3 0 3.1 0 3.1.1 3.1 0 3.1 0 3 0 3.1 0 3.1 0 3 0 3.1 0 3.1 0 3.1 0 3.1 0 3 0 3.1 0 3.1 0 3 0 3.1 0 3.1 0" class="cb"/>
</g>
<rect x="361.6" y="189.4" width="184.4" height="141.6" fill="none" stroke="#b4b4b4" stroke-width="1"/>
<path d="M361.6 331.0h1.8M546.0 331.0h-1.8M361.6 302.7h1.8M546.0 302.7h-1.8M361.6 274.4h1.8M546.0 274.4h-1.8M361.6 246.0h1.8M546.0 246.0h-1.8M361.6 217.7h1.8M546.0 217.7h-1.8M361.6 189.4h1.8M546.0 189.4h-1.8M438.4 331.0v-1.8M438.4 189.4v1.8M515.3 331.0v-1.8M515.3 189.4v1.8" stroke="#b4b4b4" stroke-width=".8" fill="none"/>
<text x="357.2" y="335.1" class="tk" text-anchor="end">0</text>
<text x="357.2" y="306.8" class="tk" text-anchor="end">20</text>
<text x="357.2" y="278.5" class="tk" text-anchor="end">40</text>
<text x="357.2" y="250.1" class="tk" text-anchor="end">60</text>
<text x="357.2" y="221.8" class="tk" text-anchor="end">80</text>
<text x="357.2" y="193.5" class="tk" text-anchor="end">100</text>
<text x="438.4" y="347.4" class="tk" text-anchor="middle">50</text>
<text x="515.3" y="347.4" class="tk" text-anchor="middle">100</text>
<text x="454.3" y="365.0" class="al" text-anchor="middle">Time (hrs)</text>
<text transform="translate(325.7 260.2) rotate(-90)" class="yl" text-anchor="middle">LTR<tspan font-size="10" dy="3.5">I</tspan><tspan dy="-3.5"> (%)</tspan></text>
<g clip-path="url(#clipd)">
<path d="M361.6 331l1.5-4.3 1.6-4.2 1.5-4 1.5-3.7 1.6-3.7 1.5-3.4 1.6-3.3 1.5-3.2 1.5-2.9 1.6-2.9 3-5.3 3.1-4.8 3.1-4.3 3.1-3.8 3-3.4 4.6-4.5 4.7-3.7 4.6-3 6.1-3 6.2-2.2 6.1-1.3 7.7-.8 7.7.1 9.2 1 9.2 1.7 10.8 2.7 10.7 3.2 12.3 4 12.3 4.2 13.8 4.7 13.9 4.7 13.8 4.5M361.6 331l1.5-4 1.6-3.8 1.5-3.5 1.5-3.4 1.6-3.2 1.5-3 1.6-2.9 1.5-2.6 1.5-2.5 1.6-2.4 3-4.3 3.1-3.8 3.1-3.2 3.1-2.9 3-2.4 4.6-2.9 4.7-2.2 4.6-1.5 6.1-1.2 6.2-.4 6.1.3 7.7 1 7.7 1.7 9.2 2.5 9.2 3 10.8 3.8 10.7 3.8 12.3 4.4 12.3 4.1 13.8 4.4 13.9 3.9 13.8 3.5M361.6 331l1.5-3.7 1.6-3.5 1.5-3.2 1.5-3 1.6-2.8 1.5-2.6 1.6-2.3 1.5-2.3 1.5-2 1.6-1.9 3-3.2 3.1-2.8 3.1-2.2 3.1-1.8 3-1.4 4.6-1.5 4.7-.9 4.6-.3 6.1.3 6.2.8 6.1 1.3 7.7 2 7.7 2.3 9.2 3 9.2 3 10.8 3.4 10.7 3.3 12.3 3.3 12.3 3 13.8 2.9 13.9 2.4 13.8 2M361.6 331l1.5-6.2 1.6-5.7 1.5-5.2 1.5-4.7 1.6-4.3 1.5-3.9 1.6-3.5 1.5-3.1 1.5-2.8 1.6-2.5 3-4.2 3.1-3.2 3.1-2.3 3.1-1.6 3-1 4.6-.5 4.7.5 4.6 1.1 6.1 2.4 6.2 3 6.1 3.3 7.7 4.3 7.7 4.4 9.2 5 9.2 4.5 10.8 4.8 10.7 4 12.3 3.9 12.3 3.1 13.8 2.7 13.9 2 13.8 1.5M361.6 331l1.5-5.1 1.6-4.8 1.5-4.4 1.5-4.1 1.6-3.7 1.5-3.5 1.6-3.2 1.5-2.9 1.5-2.7 1.6-2.5 3-4.2 3.1-3.5 3.1-2.8 3.1-2.1 3-1.7 4.6-1.5 4.7-.7 4.6 0 6.1.9 6.2 1.7 6.1 2.1 7.7 3.2 7.7 3.5 9.2 4.3 9.2 4.3 10.8 4.6 10.7 4.3 12.3 4.3 12.3 3.7 13.8 3.5 13.9 2.8 13.8 2.3M361.6 331l1.5-10.1 1.6-8.9 1.5-7.9 1.5-6.9 1.6-6.1 1.5-5.2 1.6-4.6 1.5-3.9 1.5-3.3 1.6-2.8 3-4.2 3.1-2.6 3.1-1.3 3.1-.3 3 .5 4.6 2 4.7 2.9 4.6 3.6 6.1 5.2 6.2 5.5 6.1 5.3 7.7 6.3 7.7 5.6 9.2 5.9 9.2 5 10.8 4.7 10.7 3.7 12.3 3.2 12.3 2.4 13.8 1.9 13.9 1.3 13.8 1M361.6 331l1.5-4 1.6-3.9 1.5-3.7 1.5-3.6 1.6-3.4 1.5-3.2 1.6-3.1 1.5-3 1.5-2.8 1.6-2.7 3-5.1 3.1-4.6 3.1-4.1 3.1-3.8 3-3.4 4.6-4.4 4.7-3.7 4.6-3.1 6.1-3.2 6.2-2.3 6.1-1.6 7.7-1 7.7-.3 9.2.6 9.2 1.4 10.8 2.2 10.7 2.8 12.3 3.7 12.3 3.8 13.8 4.5 13.9 4.5 13.8 4.3M361.6 331l1.5-4.1 1.6-3.9 1.5-3.7 1.5-3.6 1.6-3.4 1.5-3.2 1.6-3.2 1.5-2.9 1.5-2.9 1.6-2.7 3-5 3.1-4.6 3.1-4.1 3.1-3.7 3-3.3 4.6-4.3 4.7-3.5 4.6-3 6.1-3 6.2-2.1 6.1-1.4 7.7-.8 7.7 0 9.2.9 9.2 1.5 10.8 2.6 10.7 3 12.3 3.8 12.3 4 13.8 4.6 13.9 4.6 13.8 4.3M361.6 331l1.5-9.6 1.6-8.6 1.5-7.6 1.5-6.7 1.6-5.9 1.5-5.2 1.6-4.5 1.5-3.8 1.5-3.3 1.6-2.8 3-4.3 3.1-2.7 3.1-1.5 3.1-.5 3 .4 4.6 1.6 4.7 2.7 4.6 3.3 6.1 5 6.2 5.2 6.1 5.2 7.7 6.1 7.7 5.6 9.2 5.9 9.2 5 10.8 4.8 10.7 3.7 12.3 3.3 12.3 2.5 13.8 2 13.9 1.4 13.8 1M361.6 331l1.5-3 1.6-2.8 1.5-2.6 1.5-2.5 1.6-2.3 1.5-2.1 1.6-2 1.5-1.9 1.5-1.7 1.6-1.6 3-2.9 3.1-2.4 3.1-2 3.1-1.7 3-1.4 4.6-1.6 4.7-1 4.6-.6 6.1-.2 6.2.3 6.1.7 7.7 1.3 7.7 1.6 9.2 2.2 9.2 2.3 10.8 2.7 10.7 2.7 12.3 2.8 12.3 2.6 13.8 2.7 13.9 2.2 13.8 2M361.6 331l1.5-4 1.6-3.7 1.5-3.5 1.5-3.2 1.6-3 1.5-2.7 1.6-2.6 1.5-2.3 1.5-2.2 1.6-2 3-3.4 3.1-2.9 3.1-2.3 3.1-1.9 3-1.4 4.6-1.5 4.7-.7 4.6-.2 6.1.4 6.2 1.1 6.1 1.5 7.7 2.2 7.7 2.6 9.2 3.3 9.2 3.3 10.8 3.7 10.7 3.4 12.3 3.5 12.3 3.1 13.8 3 13.9 2.4 13.8 2.1M361.6 331l1.5-3.8 1.6-3.5 1.5-3.3 1.5-3.1 1.6-2.8 1.5-2.6 1.6-2.4 1.5-2.3 1.5-2.1 1.6-1.9 3-3.3 3.1-2.8 3.1-2.2 3.1-1.9 3-1.4 4.6-1.5 4.7-.8 4.6-.3 6.1.3 6.2.9 6.1 1.3 7.7 2.1 7.7 2.4 9.2 3 9.2 3.1 10.8 3.5 10.7 3.3 12.3 3.4 12.3 3 13.8 2.9 13.9 2.5 13.8 2M361.6 331l1.5-11.4 1.6-9.6 1.5-8.2 1.5-6.7 1.6-5.7 1.5-4.5 1.6-3.7 1.5-2.8 1.5-2.1 1.6-1.5 3-1.5 3.1.1 3.1 1.3 3.1 2.1 3 2.6 4.6 4.6 4.7 5 4.6 4.9 6.1 6.1 6.2 5.5 6.1 4.8 7.7 4.9 7.7 3.9 9.2 3.5 9.2 2.6 10.8 2 10.7 1.4 12.3.9 12.3.6 13.8.4 13.9.2 13.8.2M361.6 331l1.5-11.6 1.6-10.2 1.5-8.8 1.5-7.7 1.6-6.6 1.5-5.7 1.6-4.8 1.5-4 1.5-3.4 1.6-2.7 3-3.8 3.1-2.1 3.1-.6 3.1.4 3 1.2 4.6 3 4.7 3.8 4.6 4.4 6.1 6.1 6.2 6 6.1 5.8 7.7 6.5 7.7 5.8 9.2 5.8 9.2 4.8 10.8 4.5 10.7 3.4 12.3 2.9 12.3 2.1 13.8 1.7 13.9 1.2 13.8.8M361.6 331l1.5-3.2 1.6-3.1 1.5-2.8 1.5-2.7 1.6-2.4 1.5-2.3 1.6-2.2 1.5-2 1.5-1.8 1.6-1.7 3-3 3.1-2.6 3.1-2.1 3.1-1.8 3-1.4 4.6-1.6 4.7-1 4.6-.5 6.1-.1 6.2.5 6.1.8 7.7 1.5 7.7 1.9 9.2 2.4 9.2 2.6 10.8 3 10.7 2.9 12.3 3 12.3 2.8 13.8 2.8 13.9 2.4 13.8 2M361.6 331l1.5-9.8 1.6-8.9 1.5-8 1.5-7.2 1.6-6.4 1.5-5.8 1.6-5.1 1.5-4.6 1.5-4.1 1.6-3.5 3-5.8 3.1-4.3 3.1-3 3.1-2 3-1.1 4.6-.2 4.7 1 4.6 1.8 6.1 3.5 6.2 4.2 6.1 4.6 7.7 5.8 7.7 5.8 9.2 6.5 9.2 6 10.8 6.2 10.7 5.4 12.3 5.3 12.3 4.3 13.8 4 13.9 3.2 13.8 2.5M361.6 331l1.5-4.1 1.6-3.9 1.5-3.8 1.5-3.6 1.6-3.4 1.5-3.3 1.6-3.1 1.5-3 1.5-2.9 1.6-2.7 3-5.1 3.1-4.5 3.1-4.2 3.1-3.7 3-3.4 4.6-4.3 4.7-3.6 4.6-3 6.1-3.1 6.2-2.1 6.1-1.4 7.7-.9 7.7-.1 9.2.9 9.2 1.5 10.8 2.5 10.7 3 12.3 3.8 12.3 4 13.8 4.6 13.9 4.5 13.8 4.4M361.6 331l1.5-8.7 1.6-7.8 1.5-7.1 1.5-6.4 1.6-5.7 1.5-5 1.6-4.6 1.5-4 1.5-3.5 1.6-3.1 3-5 3.1-3.6 3.1-2.5 3.1-1.4 3-.7 4.6.2 4.7 1.4 4.6 2.1 6.1 3.7 6.2 4.3 6.1 4.6 7.7 5.7 7.7 5.6 9.2 6.1 9.2 5.5 10.8 5.6 10.7 4.7 12.3 4.3 12.3 3.5 13.8 3 13.9 2.2 13.8 1.7M361.6 331l1.5-12 1.6-10.9 1.5-9.6 1.5-8.7 1.6-7.7 1.5-6.8 1.6-6.1 1.5-5.4 1.5-4.7 1.6-4.2 3-6.7 3.1-5 3.1-3.5 3.1-2.3 3-1.4 4.6-.6 4.7.7 4.6 1.6 6.1 3.2 6.2 3.9 6.1 4.3 7.7 5.5 7.7 5.5 9.2 6.4 9.2 6 10.8 6.5 10.7 5.8 12.3 5.9 12.3 5.2 13.8 5 13.9 4.3 13.8 3.7M361.6 331l1.5-2.9 1.6-2.7 1.5-2.6 1.5-2.4 1.6-2.2 1.5-2.1 1.6-2 1.5-1.8 1.5-1.7 1.6-1.6 3-2.8 3.1-2.4 3.1-2 3.1-1.7 3-1.3 4.6-1.6 4.7-1.1 4.6-.6 6.1-.3 6.2.2 6.1.7 7.7 1.1 7.7 1.5 9.2 2.1 9.2 2.2 10.8 2.6 10.7 2.6 12.3 2.8 12.3 2.6 13.8 2.6 13.9 2.3 13.8 1.9M361.6 331l1.5-4.3 1.6-3.9 1.5-3.7 1.5-3.3 1.6-3.2 1.5-2.9 1.6-2.6 1.5-2.5 1.5-2.2 1.6-2.1 3-3.5 3.1-2.9 3.1-2.4 3.1-1.8 3-1.4 4.6-1.3 4.7-.7 4.6 0 6.1.7 6.2 1.3 6.1 1.7 7.7 2.6 7.7 2.8 9.2 3.5 9.2 3.5 10.8 3.9 10.7 3.5 12.3 3.6 12.3 3.1 13.8 3 13.9 2.4 13.8 1.9M361.6 331l1.5-10.9 1.6-9.4 1.5-8.2 1.5-7 1.6-5.9 1.5-5.1 1.6-4.2 1.5-3.4 1.5-2.8 1.6-2.2 3-2.9 3.1-1.3 3.1.1 3.1 1 3 1.7 4.6 3.5 4.7 4.2 4.6 4.5 6.1 6.1 6.2 5.8 6.1 5.4 7.7 5.9 7.7 5 9.2 4.8 9.2 3.8 10.8 3.3 10.7 2.4 12.3 2 12.3 1.3 13.8.9 13.9.6 13.8.4M361.6 331l1.5-3 1.6-2.9 1.5-2.7 1.5-2.5 1.6-2.3 1.5-2.2 1.6-2.1 1.5-1.9 1.5-1.8 1.6-1.6 3-2.9 3.1-2.5 3.1-2.2 3.1-1.7 3-1.5 4.6-1.6 4.7-1.1 4.6-.6 6.1-.3 6.2.3 6.1.6 7.7 1.3 7.7 1.6 9.2 2.2 9.2 2.4 10.8 2.8 10.7 2.7 12.3 3 12.3 2.7 13.8 2.7 13.9 2.4 13.8 2.1M361.6 331l1.5-5.1 1.6-4.8 1.5-4.5 1.5-4.4 1.6-4.1 1.5-3.9 1.6-3.7 1.5-3.5 1.5-3.4 1.6-3.1 3-5.8 3.1-5.1 3.1-4.6 3.1-4 3-3.6 4.6-4.4 4.7-3.6 4.6-2.7 6.1-2.7 6.2-1.6 6.1-.8 7.7.1 7.7.8 9.2 1.9 9.2 2.6 10.8 3.5 10.7 3.9 12.3 4.7 12.3 4.8 13.8 5.2 13.9 5 13.8 4.6M361.6 331l1.5-11.3 1.6-10 1.5-8.7 1.5-7.6 1.6-6.5 1.5-5.6 1.6-4.8 1.5-4 1.5-3.4 1.6-2.7 3-4 3.1-2.2 3.1-.8 3.1.2 3 1.1 4.6 2.8 4.7 3.6 4.6 4.2 6.1 6 6.2 5.9 6.1 5.7 7.7 6.5 7.7 5.8 9.2 5.9 9.2 4.9 10.8 4.5 10.7 3.5 12.3 3 12.3 2.2 13.8 1.8 13.9 1.2 13.8.9M361.6 331l1.5-4.5 1.6-4.2 1.5-3.9 1.5-3.6 1.6-3.3 1.5-3 1.6-2.8 1.5-2.5 1.5-2.3 1.6-2.1 3-3.6 3.1-3 3.1-2.3 3.1-1.8 3-1.3 4.6-1.2 4.7-.4 4.6.2 6.1.9 6.2 1.6 6.1 2 7.7 2.9 7.7 3.1 9.2 3.8 9.2 3.6 10.8 4 10.7 3.6 12.3 3.7 12.3 3.1 13.8 2.8 13.9 2.3 13.8 1.9M361.6 331l1.5-3 1.6-3 1.5-2.9 1.5-2.8 1.6-2.7 1.5-2.7 1.6-2.6 1.5-2.6 1.5-2.4 1.6-2.5 3-4.6 3.1-4.4 3.1-4.2 3.1-3.9 3-3.8 4.6-5.3 4.7-4.8 4.6-4.5 6.1-5.4 6.2-4.8 6.1-4.2 7.7-4.7 7.7-3.9 9.2-4 9.2-3.1 10.8-2.9 10.7-2.1 12.3-1.6 12.3-.8 13.8-.3 13.9.3 13.8.8M361.6 331l1.5-6.9 1.6-6.2 1.5-5.7 1.5-5.1 1.6-4.7 1.5-4.1 1.6-3.8 1.5-3.3 1.5-3 1.6-2.6 3-4.3 3.1-3.2 3.1-2.2 3.1-1.5 3-.8 4.6-.1 4.7.8 4.6 1.6 6.1 2.9 6.2 3.5 6.1 3.7 7.7 4.8 7.7 4.8 9.2 5.3 9.2 4.8 10.8 4.8 10.7 4.1 12.3 3.8 12.3 3 13.8 2.6 13.9 1.9 13.8 1.5M361.6 331l1.5-7.2 1.6-6.7 1.5-6.3 1.5-5.9 1.6-5.5 1.5-5.1 1.6-4.8 1.5-4.4 1.5-4.1 1.6-3.8 3-6.8 3.1-5.8 3.1-4.9 3.1-4.1 3-3.4 4.6-3.9 4.7-2.7 4.6-1.8 6.1-1 6.2 0 6.1 1 7.7 2 7.7 2.8 9.2 4 9.2 4.3 10.8 5.2 10.7 5.2 12.3 5.8 12.3 5.4 13.8 5.7 13.9 5.2 13.8 4.6M361.6 331l1.5-5.6 1.6-5.1 1.5-4.7 1.5-4.3 1.6-4 1.5-3.7 1.6-3.3 1.5-3.1 1.5-2.7 1.6-2.5 3-4.3 3.1-3.4 3.1-2.7 3.1-2 3-1.4 4.6-1.2 4.7-.3 4.6.5 6.1 1.4 6.2 2.2 6.1 2.6 7.7 3.7 7.7 3.8 9.2 4.7 9.2 4.4 10.8 4.8 10.7 4.3 12.3 4.2 12.3 3.5 13.8 3.3 13.9 2.5 13.8 2M361.6 331l1.5-9.4 1.6-8.5 1.5-7.4 1.5-6.7 1.6-5.8 1.5-5.1 1.6-4.5 1.5-3.8 1.5-3.3 1.6-2.8 3-4.3 3.1-2.8 3.1-1.6 3.1-.5 3 .2 4.6 1.5 4.7 2.6 4.6 3.1 6.1 4.9 6.2 5.1 6.1 5.1 7.7 6.1 7.7 5.6 9.2 5.9 9.2 5 10.8 4.8 10.7 3.8 12.3 3.4 12.3 2.5 13.8 2.1 13.9 1.4 13.8 1M361.6 331l1.5-5.2 1.6-4.9 1.5-4.7 1.5-4.5 1.6-4.3 1.5-4.1 1.6-3.9 1.5-3.7 1.5-3.6 1.6-3.3 3-6.3 3.1-5.6 3.1-5.1 3.1-4.6 3-4.1 4.6-5.3 4.7-4.4 4.6-3.7 6.1-3.9 6.2-2.8 6.1-1.9 7.7-1.4 7.7-.5 9.2.5 9.2 1.2 10.8 2.1 10.7 2.8 12.3 3.5 12.3 3.9 13.8 4.5 13.9 4.5 13.8 4.4M361.6 331l1.5-3.6 1.6-3.4 1.5-3.2 1.5-3.1 1.6-3 1.5-2.8 1.6-2.7 1.5-2.5 1.5-2.4 1.6-2.3 3-4.3 3.1-3.8 3.1-3.4 3.1-3.1 3-2.7 4.6-3.4 4.7-2.8 4.6-2.3 6.1-2.1 6.2-1.4 6.1-.7 7.7-.2 7.7.6 9.2 1.4 9.2 2 10.8 2.8 10.7 3.1 12.3 3.9 12.3 3.9 13.8 4.3 13.9 4.1 13.8 3.8M361.6 331l1.5-11.2 1.6-10.3 1.5-9.2 1.5-8.4 1.6-7.6 1.5-6.9 1.6-6.2 1.5-5.5 1.5-5 1.6-4.5 3-7.6 3.1-6 3.1-4.6 3.1-3.4 3-2.6 4.6-2.3 4.7-1 4.6.1 6.1 1.3 6.2 2.2 6.1 2.8 7.7 4 7.7 4.3 9.2 5.3 9.2 5.2 10.8 5.8 10.7 5.6 12.3 5.8 12.3 5.4 13.8 5.5 13.9 5 13.8 4.5M361.6 331l1.5-7.3 1.6-6.8 1.5-6.4 1.5-5.9 1.6-5.6 1.5-5.1 1.6-4.9 1.5-4.5 1.5-4.1 1.6-3.9 3-6.9 3.1-5.9 3.1-5.1 3.1-4.2 3-3.5 4.6-4.1 4.7-2.9 4.6-1.9 6.1-1.3 6.2-.1 6.1.7 7.7 1.9 7.7 2.6 9.2 3.7 9.2 4.2 10.8 5 10.7 5.1 12.3 5.7 12.3 5.4 13.8 5.7 13.9 5.1 13.8 4.8M361.6 331l1.5-4.2 1.6-4 1.5-3.8 1.5-3.7 1.6-3.5 1.5-3.3 1.6-3.2 1.5-3 1.5-2.9 1.6-2.7 3-5.1 3.1-4.6 3.1-4.1 3.1-3.7 3-3.2 4.6-4.2 4.7-3.5 4.6-2.8 6.1-2.8 6.2-1.9 6.1-1.2 7.7-.5 7.7.2 9.2 1.2 9.2 1.9 10.8 2.8 10.7 3.3 12.3 4.1 12.3 4.2 13.8 4.8 13.9 4.6 13.8 4.4M361.6 331l1.5-6 1.6-5.7 1.5-5.4 1.5-5.1 1.6-4.8 1.5-4.6 1.6-4.3 1.5-4 1.5-3.8 1.6-3.6 3-6.6 3.1-5.8 3.1-5 3.1-4.4 3-3.9 4.6-4.8 4.7-3.7 4.6-2.8 6.1-2.7 6.2-1.5 6.1-.6 7.7.3 7.7 1.1 9.2 2.2 9.2 2.9 10.8 3.8 10.7 4.1 12.3 4.9 12.3 4.9 13.8 5.4 13.9 5.1 13.8 4.8M361.6 331l1.5-3.2 1.6-3.2 1.5-3 1.5-2.9 1.6-2.7 1.5-2.7 1.6-2.6 1.5-2.4 1.5-2.4 1.6-2.3 3-4.2 3.1-3.9 3.1-3.6 3.1-3.3 3-2.9 4.6-4 4.7-3.4 4.6-2.8 6.1-3.1 6.2-2.4 6.1-1.7 7.7-1.4 7.7-.7 9.2 0 9.2.8 10.8 1.5 10.7 2.1 12.3 2.8 12.3 3.2 13.8 3.8 13.9 3.9 13.8 3.8M361.6 331l1.5-12.4 1.6-10.7 1.5-9.3 1.5-8 1.6-6.9 1.5-5.8 1.6-4.9 1.5-4.1 1.5-3.3 1.6-2.7 3-3.7 3.1-1.8 3.1-.4 3.1.7 3 1.5 4.6 3.4 4.7 4.2 4.6 4.6 6.1 6.4 6.2 6.3 6.1 5.9 7.7 6.6 7.7 5.8 9.2 5.9 9.2 4.7 10.8 4.4 10.7 3.3 12.3 2.9 12.3 2 13.8 1.7 13.9 1.1 13.8.8M361.6 331l1.5-1.8 1.6-1.7 1.5-1.6 1.5-1.5 1.6-1.4 1.5-1.4 1.6-1.3 1.5-1.2 1.5-1.1 1.6-1.1 3-1.9 3.1-1.7 3.1-1.5 3.1-1.3 3-1.1 4.6-1.4 4.7-1.1 4.6-.8 6.1-.7 6.2-.4 6.1-.1 7.7.2 7.7.4 9.2.8 9.2 1 10.8 1.2 10.7 1.4 12.3 1.6 12.3 1.6 13.8 1.7 13.9 1.6 13.8 1.5M361.6 331l1.5-1 1.6-1 1.5-.9 1.5-1 1.6-.9 1.5-1 1.6-.9 1.5-.9 1.5-.9 1.6-1 3-1.7 3.1-1.8 3.1-1.8 3.1-1.7 3-1.6 4.6-2.5 4.7-2.4 4.6-2.4 6.1-3 6.2-2.9 6.1-2.9 7.7-3.4 7.7-3.2 9.2-3.8 9.2-3.5 10.8-3.9 10.7-3.6 12.3-3.9 12.3-3.6 13.8-3.8 13.9-3.4 13.8-3.1M361.6 331l1.5-3.4 1.6-3.2 1.5-3 1.5-2.8 1.6-2.6 1.5-2.4 1.6-2.3 1.5-2 1.5-2 1.6-1.8 3-3.1 3.1-2.6 3.1-2.2 3.1-1.8 3-1.5 4.6-1.5 4.7-1 4.6-.5 6.1.1 6.2.6 6.1 1 7.7 1.7 7.7 2 9.2 2.6 9.2 2.8 10.8 3.2 10.7 3 12.3 3.2 12.3 2.9 13.8 2.8 13.9 2.5 13.8 2M361.6 331l1.5-4.8 1.6-4.6 1.5-4.3 1.5-4.1 1.6-3.9 1.5-3.7 1.6-3.5 1.5-3.4 1.5-3.1 1.6-3 3-5.5 3.1-4.8 3.1-4.3 3.1-3.8 3-3.4 4.6-4.2 4.7-3.3 4.6-2.6 6.1-2.4 6.2-1.4 6.1-.6 7.7.2 7.7.9 9.2 2.1 9.2 2.6 10.8 3.6 10.7 4 12.3 4.7 12.3 4.7 13.8 5.2 13.9 4.8 13.8 4.6M361.6 331l1.5-6.3 1.6-5.8 1.5-5.3 1.5-4.7 1.6-4.4 1.5-3.9 1.6-3.6 1.5-3.1 1.5-2.9 1.6-2.5 3-4.2 3.1-3.2 3.1-2.3 3.1-1.6 3-1 4.6-.4 4.7.5 4.6 1.2 6.1 2.5 6.2 3 6.1 3.4 7.7 4.4 7.7 4.4 9.2 5.1 9.2 4.6 10.8 4.8 10.7 4 12.3 3.9 12.3 3.1 13.8 2.6 13.9 2.1 13.8 1.5M361.6 331l1.5-5.1 1.6-4.6 1.5-4.3 1.5-4 1.6-3.6 1.5-3.4 1.6-3 1.5-2.8 1.5-2.5 1.6-2.3 3-3.9 3.1-3.1 3.1-2.4 3.1-1.8 3-1.3 4.6-1.1 4.7-.2 4.6.4 6.1 1.3 6.2 2 6.1 2.4 7.7 3.3 7.7 3.6 9.2 4.2 9.2 4 10.8 4.4 10.7 3.9 12.3 3.8 12.3 3.2 13.8 3 13.9 2.3 13.8 1.8M361.6 331l1.5-4.2 1.6-4 1.5-3.6 1.5-3.4 1.6-3.1 1.5-2.9 1.6-2.7 1.5-2.4 1.5-2.3 1.6-2.1 3-3.5 3.1-3 3.1-2.4 3.1-1.8 3-1.5 4.6-1.4 4.7-.7 4.6-.1 6.1.6 6.2 1.2 6.1 1.7 7.7 2.5 7.7 2.8 9.2 3.5 9.2 3.5 10.8 3.9 10.7 3.6 12.3 3.6 12.3 3.2 13.8 3 13.9 2.5 13.8 2M361.6 331l1.5-3.6 1.6-3.4 1.5-3.3 1.5-3.3 1.6-3.1 1.5-3 1.6-3 1.5-2.8 1.5-2.8 1.6-2.6 3-5.1 3.1-4.8 3.1-4.4 3.1-4.1 3-3.9 4.6-5.3 4.7-4.8 4.6-4.2 6.1-5 6.2-4.2 6.1-3.5 7.7-3.6 7.7-2.9 9.2-2.4 9.2-1.6 10.8-1 10.7-.2 12.3.5 12.3 1.1 13.8 1.9 13.9 2.3 13.8 2.7M361.6 331l1.5-5.8 1.6-5.5 1.5-5.2 1.5-4.9 1.6-4.6 1.5-4.3 1.6-4.1 1.5-3.9 1.5-3.6 1.6-3.4 3-6.2 3.1-5.4 3.1-4.7 3.1-4 3-3.5 4.6-4.3 4.7-3.2 4.6-2.4 6.1-2 6.2-.9 6.1-.1 7.7.9 7.7 1.8 9.2 2.8 9.2 3.4 10.8 4.4 10.7 4.6 12.3 5.2 12.3 5.2 13.8 5.5 13.9 5.1 13.8 4.7M361.6 331l1.5-3.5 1.6-3.4 1.5-3.1 1.5-2.8 1.6-2.7 1.5-2.5 1.6-2.3 1.5-2.1 1.5-2 1.6-1.8 3-3.2 3.1-2.7 3.1-2.3 3.1-1.8 3-1.4 4.6-1.5 4.7-.9 4.6-.4 6.1.1 6.2.7 6.1 1.1 7.7 1.9 7.7 2.1 9.2 2.8 9.2 2.9 10.8 3.3 10.7 3.1 12.3 3.3 12.3 2.9 13.8 2.8 13.9 2.5 13.8 2M361.6 331l1.5-7.9 1.6-7.1 1.5-6.4 1.5-5.7 1.6-5.2 1.5-4.5 1.6-4.1 1.5-3.6 1.5-3.1 1.6-2.7 3-4.4 3.1-3.1 3.1-2 3.1-1.2 3-.4 4.6.5 4.7 1.5 4.6 2.3 6.1 3.7 6.2 4.1 6.1 4.4 7.7 5.4 7.7 5.2 9.2 5.6 9.2 5 10.8 4.9 10.7 4 12.3 3.7 12.3 2.8 13.8 2.4 13.9 1.7 13.8 1.2M361.6 331l1.5-3.7 1.6-3.5 1.5-3.3 1.5-3 1.6-2.8 1.5-2.6 1.6-2.5 1.5-2.2 1.5-2 1.6-1.9 3-3.4 3.1-2.7 3.1-2.3 3.1-1.8 3-1.5 4.6-1.5 4.7-.8 4.6-.3 6.1.2 6.2.9 6.1 1.3 7.7 2 7.7 2.4 9.2 3 9.2 3 10.8 3.5 10.7 3.3 12.3 3.4 12.3 3 13.8 2.9 13.9 2.4 13.8 2M361.6 331l1.5-5.3 1.6-4.9 1.5-4.6 1.5-4.1 1.6-3.8 1.5-3.5 1.6-3.1 1.5-2.9 1.5-2.5 1.6-2.4 3-3.9 3.1-3.1 3.1-2.4 3.1-1.8 3-1.2 4.6-.9 4.7 0 4.6.6 6.1 1.6 6.2 2.2 6.1 2.7 7.7 3.6 7.7 3.7 9.2 4.5 9.2 4.1 10.8 4.5 10.7 3.9 12.3 3.8 12.3 3.2 13.8 2.9 13.9 2.2 13.8 1.7M361.6 331l1.5-5.2 1.6-5.1 1.5-4.8 1.5-4.7 1.6-4.5 1.5-4.3 1.6-4.1 1.5-4 1.5-3.8 1.6-3.7 3-6.9 3.1-6.3 3.1-5.9 3.1-5.4 3-5 4.6-6.7 4.7-6 4.6-5.2 6.1-6 6.2-5 6.1-4.2 7.7-4.3 7.7-3.3 9.2-3 9.2-2.1 10.8-1.6 10.7-.9 12.3-.3 12.3.1 13.8.7 13.9 1 13.8 1.2M361.6 331l1.5-4.6 1.6-4.3 1.5-3.9 1.5-3.7 1.6-3.4 1.5-3 1.6-2.9 1.5-2.6 1.5-2.4 1.6-2.1 3-3.8 3.1-3 3.1-2.4 3.1-1.8 3-1.4 4.6-1.2 4.7-.5 4.6.1 6.1.9 6.2 1.6 6.1 2.1 7.7 2.9 7.7 3.1 9.2 3.9 9.2 3.7 10.8 4.2 10.7 3.7 12.3 3.7 12.3 3.2 13.8 3 13.9 2.4 13.8 1.9M361.6 331l1.5-4.7 1.6-4.3 1.5-4 1.5-3.7 1.6-3.5 1.5-3.1 1.6-2.9 1.5-2.6 1.5-2.4 1.6-2.2 3-3.7 3.1-3.1 3.1-2.4 3.1-1.8 3-1.3 4.6-1.3 4.7-.4 4.6.2 6.1 1 6.2 1.6 6.1 2.1 7.7 3 7.7 3.2 9.2 3.9 9.2 3.9 10.8 4.1 10.7 3.8 12.3 3.7 12.3 3.2 13.8 3 13.9 2.4 13.8 1.9M361.6 331l1.5-3.4 1.6-3.3 1.5-3.1 1.5-2.9 1.6-2.8 1.5-2.7 1.6-2.5 1.5-2.4 1.5-2.3 1.6-2.2 3-4 3.1-3.5 3.1-3.2 3.1-2.8 3-2.5 4.6-3.1 4.7-2.5 4.6-1.9 6.1-1.8 6.2-1.1 6.1-.5 7.7.2 7.7.7 9.2 1.6 9.2 2.1 10.8 2.9 10.7 3.1 12.3 3.8 12.3 3.7 13.8 4.1 13.9 3.9 13.8 3.5M361.6 331l1.5-5.3 1.6-4.9 1.5-4.5 1.5-4.1 1.6-3.7 1.5-3.4 1.6-3 1.5-2.7 1.5-2.5 1.6-2.2 3-3.7 3.1-2.8 3.1-2.1 3.1-1.5 3-.9 4.6-.5 4.7.3 4.6.9 6.1 1.9 6.2 2.4 6.1 2.8 7.7 3.7 7.7 3.8 9.2 4.3 9.2 4 10.8 4.2 10.7 3.6 12.3 3.4 12.3 2.8 13.8 2.4 13.9 1.9 13.8 1.4M361.6 331l1.5-1.9 1.6-2 1.5-1.8 1.5-1.9 1.6-1.8 1.5-1.7 1.6-1.8 1.5-1.7 1.5-1.7 1.6-1.6 3-3.2 3.1-3 3.1-3 3.1-2.8 3-2.7 4.6-3.9 4.7-3.6 4.6-3.4 6.1-4.2 6.2-3.8 6.1-3.5 7.7-4 7.7-3.5 9.2-3.6 9.2-3.1 10.8-3 10.7-2.4 12.3-2.1 12.3-1.4 13.8-1.1 13.9-.4 13.8 0M361.6 331l1.5-3.7 1.6-3.4 1.5-3.2 1.5-3.1 1.6-2.8 1.5-2.7 1.6-2.6 1.5-2.3 1.5-2.2 1.6-2.1 3-3.7 3.1-3.2 3.1-2.7 3.1-2.3 3-2 4.6-2.2 4.7-1.6 4.6-1 6.1-.6 6.2 0 6.1.7 7.7 1.4 7.7 1.8 9.2 2.7 9.2 2.9 10.8 3.5 10.7 3.5 12.3 3.9 12.3 3.5 13.8 3.7 13.9 3.2 13.8 2.7M361.6 331l1.5-3.3 1.6-3.1 1.5-3 1.5-2.9 1.6-2.7 1.5-2.7 1.6-2.5 1.5-2.5 1.5-2.3 1.6-2.3 3-4.2 3.1-3.8 3.1-3.5 3.1-3.2 3-2.9 4.6-3.8 4.7-3.2 4.6-2.7 6.1-2.9 6.2-2.2 6.1-1.5 7.7-1.1 7.7-.4 9.2.3 9.2.9 10.8 1.8 10.7 2.3 12.3 3.1 12.3 3.3 13.8 3.9 13.9 3.9 13.8 3.9M361.6 331l1.5-11.8 1.6-10.4 1.5-9 1.5-7.8 1.6-6.7 1.5-5.7 1.6-4.9 1.5-4 1.5-3.4 1.6-2.7 3-3.8 3.1-2.1 3.1-.6 3.1.5 3 1.3 4.6 3 4.7 4 4.6 4.4 6.1 6.1 6.2 6.1 6.1 5.8 7.7 6.6 7.7 5.8 9.2 5.9 9.2 4.8 10.8 4.5 10.7 3.4 12.3 3 12.3 2.1 13.8 1.7 13.9 1.2 13.8.9M361.6 331l1.5-3.6 1.6-3.5 1.5-3.3 1.5-3.2 1.6-3.1 1.5-2.9 1.6-2.8 1.5-2.7 1.5-2.5 1.6-2.5 3-4.5 3.1-4.1 3.1-3.8 3.1-3.4 3-3 4.6-4 4.7-3.4 4.6-2.7 6.1-2.9 6.2-2.1 6.1-1.3 7.7-.9 7.7-.2 9.2.7 9.2 1.3 10.8 2.3 10.7 2.7 12.3 3.5 12.3 3.7 13.8 4.3 13.9 4.2 13.8 4.1M361.6 331l1.5-4.8 1.6-4.3 1.5-3.6 1.5-3.2 1.6-2.7 1.5-2.4 1.6-2 1.5-1.6 1.5-1.4 1.6-1.1 3-1.6 3.1-.9 3.1-.3 3.1.1 3 .5 4.6 1.1 4.7 1.5 4.6 1.7 6.1 2.4 6.2 2.4 6.1 2.2 7.7 2.6 7.7 2.4 9.2 2.4 9.2 2 10.8 1.9 10.7 1.4 12.3 1.4 12.3.9 13.8.9 13.9.6 13.8.4M361.6 331l1.5-4.3 1.6-4 1.5-3.9 1.5-3.8 1.6-3.5 1.5-3.4 1.6-3.2 1.5-3.1 1.5-2.9 1.6-2.8 3-5.2 3.1-4.7 3.1-4.2 3.1-3.8 3-3.3 4.6-4.4 4.7-3.5 4.6-3 6.1-2.9 6.2-2 6.1-1.3 7.7-.7 7.7.2 9.2 1.1 9.2 1.8 10.8 2.7 10.7 3.2 12.3 4 12.3 4.2 13.8 4.8 13.9 4.6 13.8 4.5M361.6 331l1.5-4.9 1.6-4.5 1.5-4.1 1.5-3.9 1.6-3.5 1.5-3.2 1.6-3 1.5-2.6 1.5-2.5 1.6-2.2 3-3.8 3.1-3.1 3.1-2.3 3.1-1.8 3-1.3 4.6-1.1 4.7-.4 4.6.4 6.1 1.2 6.2 1.8 6.1 2.3 7.7 3.2 7.7 3.3 9.2 4.1 9.2 3.9 10.8 4.3 10.7 3.8 12.3 3.7 12.3 3.2 13.8 2.9 13.9 2.3 13.8 1.9M361.6 331l1.5-3.3 1.6-3.1 1.5-2.9 1.5-2.7 1.6-2.5 1.5-2.3 1.6-2.2 1.5-2 1.5-1.9 1.6-1.7 3-3.1 3.1-2.6 3.1-2.1 3.1-1.8 3-1.4 4.6-1.6 4.7-.9 4.6-.5 6.1 0 6.2.5 6.1.9 7.7 1.6 7.7 1.9 9.2 2.5 9.2 2.7 10.8 3 10.7 2.9 12.3 3.2 12.3 2.8 13.8 2.7 13.9 2.4 13.8 2M361.6 331l1.5-3.2 1.6-3.1 1.5-3 1.5-2.8 1.6-2.8 1.5-2.7 1.6-2.5 1.5-2.5 1.5-2.3 1.6-2.3 3-4.3 3.1-3.9 3.1-3.6 3.1-3.3 3-3.1 4.6-4 4.7-3.5 4.6-3 6.1-3.2 6.2-2.6 6.1-1.9 7.7-1.6 7.7-.9 9.2-.2 9.2.5 10.8 1.2 10.7 1.9 12.3 2.6 12.3 3 13.8 3.7 13.9 3.7 13.8 3.8M361.6 331l1.5-4.8 1.6-4.4 1.5-4.1 1.5-3.7 1.6-3.5 1.5-3.2 1.6-2.9 1.5-2.6 1.5-2.5 1.6-2.2 3-3.8 3.1-3 3.1-2.4 3.1-1.9 3-1.3 4.6-1.2 4.7-.4 4.6.2 6.1 1.1 6.2 1.7 6.1 2.2 7.7 3.1 7.7 3.3 9.2 4 9.2 3.8 10.8 4.2 10.7 3.8 12.3 3.8 12.3 3.2 13.8 3 13.9 2.3 13.8 1.9M361.6 331l1.5-3.9 1.6-3.7 1.5-3.4 1.5-3.2 1.6-2.9 1.5-2.7 1.6-2.5 1.5-2.3 1.5-2.2 1.6-1.9 3-3.4 3.1-2.8 3.1-2.3 3.1-1.9 3-1.4 4.6-1.4 4.7-.8 4.6-.2 6.1.4 6.2 1 6.1 1.5 7.7 2.2 7.7 2.6 9.2 3.2 9.2 3.2 10.8 3.6 10.7 3.4 12.3 3.5 12.3 3 13.8 3 13.9 2.4 13.8 2M361.6 331l1.5-3.8 1.6-3.5 1.5-3.2 1.5-3.1 1.6-2.8 1.5-2.6 1.6-2.4 1.5-2.3 1.5-2 1.6-1.9 3-3.4 3.1-2.7 3.1-2.3 3.1-1.8 3-1.5 4.6-1.5 4.7-.8 4.6-.3 6.1.3 6.2.8 6.1 1.3 7.7 2.1 7.7 2.4 9.2 3 9.2 3 10.8 3.5 10.7 3.3 12.3 3.4 12.3 3 13.8 2.9 13.9 2.5 13.8 2M361.6 331l1.5-5.8 1.6-5.3 1.5-4.8 1.5-4.4 1.6-4.1 1.5-3.6 1.6-3.4 1.5-3 1.5-2.7 1.6-2.4 3-4.1 3.1-3.1 3.1-2.4 3.1-1.7 3-1.1 4.6-.7 4.7.2 4.6.9 6.1 2 6.2 2.6 6.1 2.9 7.7 4 7.7 4.1 9.2 4.7 9.2 4.4 10.8 4.6 10.7 4 12.3 3.9 12.3 3.1 13.8 2.8 13.9 2.1 13.8 1.7M361.6 331l1.5-11.7 1.6-10.3 1.5-9 1.5-7.7 1.6-6.7 1.5-5.7 1.6-4.8 1.5-4.1 1.5-3.4 1.6-2.7 3-3.9 3.1-2 3.1-.7 3.1.4 3 1.2 4.6 3 4.7 3.9 4.6 4.3 6.1 6.2 6.2 6 6.1 5.8 7.7 6.6 7.7 5.8 9.2 5.9 9.2 4.8 10.8 4.5 10.7 3.5 12.3 3 12.3 2.1 13.8 1.8 13.9 1.2 13.8.8M361.6 331l1.5-3.9 1.6-3.6 1.5-3.3 1.5-3.1 1.6-2.9 1.5-2.6 1.6-2.5 1.5-2.3 1.5-2.1 1.6-1.9 3-3.4 3.1-2.8 3.1-2.2 3.1-1.8 3-1.5 4.6-1.4 4.7-.8 4.6-.3 6.1.4 6.2 1 6.1 1.4 7.7 2.1 7.7 2.5 9.2 3.1 9.2 3.2 10.8 3.5 10.7 3.3 12.3 3.5 12.3 3 13.8 2.9 13.9 2.4 13.8 2M361.6 331l1.5-11.3 1.6-9.9 1.5-8.6 1.5-7.6 1.6-6.5 1.5-5.6 1.6-4.8 1.5-4 1.5-3.4 1.6-2.8 3-3.9 3.1-2.3 3.1-.9 3.1.2 3 1 4.6 2.7 4.7 3.6 4.6 4.2 6.1 5.8 6.2 6 6.1 5.6 7.7 6.6 7.7 5.7 9.2 6 9.2 4.9 10.8 4.5 10.7 3.6 12.3 3 12.3 2.3 13.8 1.8 13.9 1.3 13.8.8M361.6 331l1.5-5.1 1.6-4.8 1.5-4.6 1.5-4.4 1.6-4.1 1.5-3.9 1.6-3.7 1.5-3.5 1.5-3.4 1.6-3.1 3-5.7 3.1-5.1 3.1-4.5 3.1-3.9 3-3.5 4.6-4.3 4.7-3.4 4.6-2.6 6.1-2.4 6.2-1.4 6.1-.6 7.7.3 7.7 1.1 9.2 2.1 9.2 2.8 10.8 3.8 10.7 4.1 12.3 4.8 12.3 4.9 13.8 5.3 13.9 4.9 13.8 4.7M361.6 331l1.5-10.6 1.6-9.1 1.5-7.9 1.5-6.8 1.6-5.8 1.5-4.8 1.6-4.1 1.5-3.3 1.5-2.6 1.6-2.1 3-2.7 3.1-1.1 3.1.2 3.1 1.1 3 1.7 4.6 3.6 4.7 4.2 4.6 4.4 6.1 6 6.2 5.7 6.1 5.2 7.7 5.6 7.7 4.8 9.2 4.6 9.2 3.5 10.8 3.1 10.7 2.2 12.3 1.7 12.3 1.2 13.8.8 13.9.5 13.8.3M361.6 331l1.5-5.6 1.6-5.4 1.5-5 1.5-4.8 1.6-4.4 1.5-4.3 1.6-3.9 1.5-3.8 1.5-3.5 1.6-3.3 3-5.9 3.1-5.2 3.1-4.5 3.1-3.9 3-3.4 4.6-4 4.7-3.1 4.6-2.2 6.1-1.7 6.2-.8 6.1.2 7.7 1.1 7.7 1.8 9.2 3 9.2 3.6 10.8 4.5 10.7 4.7 12.3 5.3 12.3 5.1 13.8 5.5 13.9 5 13.8 4.6M361.6 331l1.5-4.6 1.6-4.2 1.5-4 1.5-3.6 1.6-3.4 1.5-3 1.6-2.9 1.5-2.5 1.5-2.4 1.6-2.2 3-3.7 3.1-3 3.1-2.3 3.1-1.9 3-1.3 4.6-1.3 4.7-.5 4.6.2 6.1.9 6.2 1.6 6.1 2 7.7 2.9 7.7 3.2 9.2 3.8 9.2 3.7 10.8 4.1 10.7 3.7 12.3 3.8 12.3 3.1 13.8 3 13.9 2.4 13.8 1.9M361.6 331l1.5-7.5 1.6-6.4 1.5-5.5 1.5-4.7 1.6-3.9 1.5-3.3 1.6-2.7 1.5-2.2 1.5-1.7 1.6-1.3 3-1.6 3.1-.5 3.1.4 3.1 1 3 1.4 4.6 2.7 4.7 3 4.6 3.1 6.1 4.2 6.2 3.8 6.1 3.5 7.7 3.7 7.7 3.1 9.2 2.9 9.2 2.3 10.8 1.9 10.7 1.3 12.3 1.1 12.3.7 13.8.4 13.9.3 13.8.2M361.6 331l1.5-4.8 1.6-4.5 1.5-4.2 1.5-3.8 1.6-3.5 1.5-3.2 1.6-3 1.5-2.7 1.5-2.4 1.6-2.3 3-3.8 3.1-3.1 3.1-2.5 3.1-1.8 3-1.4 4.6-1.2 4.7-.5 4.6.3 6.1 1.1 6.2 1.7 6.1 2.2 7.7 3.1 7.7 3.3 9.2 4.1 9.2 3.9 10.8 4.3 10.7 3.9 12.3 3.8 12.3 3.3 13.8 3 13.9 2.4 13.8 1.9M361.6 331l1.5-10.5 1.6-9.2 1.5-8.2 1.5-7.1 1.6-6.3 1.5-5.4 1.6-4.6 1.5-4 1.5-3.3 1.6-2.8 3-4.1 3.1-2.5 3.1-1.1 3.1-.1 3 .7 4.6 2.2 4.7 3.2 4.6 3.8 6.1 5.5 6.2 5.6 6.1 5.4 7.7 6.4 7.7 5.7 9.2 5.9 9.2 5 10.8 4.6 10.7 3.6 12.3 3.2 12.3 2.3 13.8 1.8 13.9 1.4 13.8.9M361.6 331l1.5-6.1 1.6-5.5 1.5-5.1 1.5-4.6 1.6-4.2 1.5-3.8 1.6-3.5 1.5-3.1 1.5-2.8 1.6-2.5 3-4.1 3.1-3.2 3.1-2.4 3.1-1.7 3-1 4.6-.6 4.7.3 4.6 1.1 6.1 2.2 6.2 2.8 6.1 3.2 7.7 4.2 7.7 4.2 9.2 4.9 9.2 4.6 10.8 4.7 10.7 4.1 12.3 3.9 12.3 3.1 13.8 2.8 13.9 2.1 13.8 1.6M361.6 331l1.5-5.9 1.6-5.4 1.5-5 1.5-4.7 1.6-4.3 1.5-4 1.6-3.7 1.5-3.4 1.5-3.1 1.6-2.8 3-5 3.1-4 3.1-3.3 3.1-2.5 3-2 4.6-1.9 4.7-.9 4.6-.1 6.1.8 6.2 1.7 6.1 2.3 7.7 3.5 7.7 3.8 9.2 4.8 9.2 4.8 10.8 5.3 10.7 4.9 12.3 5 12.3 4.3 13.8 4.1 13.9 3.4 13.8 2.8M361.6 331l1.5-4.9 1.6-4.5 1.5-4.1 1.5-3.8 1.6-3.6 1.5-3.2 1.6-2.9 1.5-2.7 1.5-2.5 1.6-2.2 3-3.8 3.1-3.1 3.1-2.3 3.1-1.9 3-1.3 4.6-1.1 4.7-.3 4.6.3 6.1 1.2 6.2 1.8 6.1 2.2 7.7 3.2 7.7 3.4 9.2 4.1 9.2 3.9 10.8 4.2 10.7 3.8 12.3 3.8 12.3 3.2 13.8 2.9 13.9 2.4 13.8 1.8M361.6 331l1.5-2.6 1.6-2.6 1.5-2.4 1.5-2.4 1.6-2.3 1.5-2.2 1.6-2.1 1.5-2.1 1.5-2 1.6-2 3-3.6 3.1-3.5 3.1-3.2 3.1-2.9 3-2.8 4.6-3.7 4.7-3.3 4.6-2.9 6.1-3.3 6.2-2.7 6.1-2.2 7.7-2 7.7-1.5 9.2-1 9.2-.3 10.8.3 10.7.9 12.3 1.7 12.3 2 13.8 2.7 13.9 3 13.8 3.1M361.6 331l1.5-4.6 1.6-4.4 1.5-4.1 1.5-3.9 1.6-3.7 1.5-3.4 1.6-3.3 1.5-3 1.5-2.9 1.6-2.7 3-4.9 3.1-4.3 3.1-3.7 3.1-3.2 3-2.7 4.6-3.3 4.7-2.4 4.6-1.7 6.1-1.3 6.2-.3 6.1.3 7.7 1.3 7.7 1.9 9.2 3 9.2 3.4 10.8 4.2 10.7 4.3 12.3 4.9 12.3 4.7 13.8 4.8 13.9 4.4 13.8 3.9M361.6 331l1.5-6.1 1.6-5.7 1.5-5.3 1.5-5.1 1.6-4.8 1.5-4.5 1.6-4.2 1.5-3.9 1.5-3.8 1.6-3.4 3-6.3 3.1-5.5 3.1-4.7 3.1-4.1 3-3.5 4.6-4.2 4.7-3.2 4.6-2.2 6.1-1.9 6.2-.7 6.1.1 7.7 1.2 7.7 1.9 9.2 3.1 9.2 3.6 10.8 4.6 10.7 4.7 12.3 5.4 12.3 5.2 13.8 5.6 13.9 5.1 13.8 4.7M361.6 331l1.5-4 1.6-3.7 1.5-3.7 1.5-3.5 1.6-3.3 1.5-3.2 1.6-3.1 1.5-3 1.5-2.8 1.6-2.7 3-5 3.1-4.6 3.1-4.2 3.1-3.8 3-3.5 4.6-4.5 4.7-3.9 4.6-3.2 6.1-3.5 6.2-2.6 6.1-1.8 7.7-1.4 7.7-.6 9.2.2 9.2 1 10.8 1.9 10.7 2.5 12.3 3.3 12.3 3.6 13.8 4.3 13.9 4.4 13.8 4.2M361.6 331l1.5-9.1 1.6-8.1 1.5-7.2 1.5-6.4 1.6-5.7 1.5-4.9 1.6-4.3 1.5-3.8 1.5-3.2 1.6-2.7 3-4.3 3.1-2.7 3.1-1.6 3.1-.6 3 .2 4.6 1.4 4.7 2.5 4.6 3 6.1 4.7 6.2 5 6.1 5 7.7 5.9 7.7 5.5 9.2 5.7 9.2 5 10.8 4.7 10.7 3.7 12.3 3.3 12.3 2.4 13.8 2 13.9 1.4 13.8 1M361.6 331l1.5-4 1.6-3.7 1.5-3.2 1.5-2.9 1.6-2.6 1.5-2.3 1.6-2.1 1.5-1.7 1.5-1.6 1.6-1.3 3-2.2 3.1-1.5 3.1-1 3.1-.6 3-.2 4.6.2 4.7.7 4.6 1 6.1 1.7 6.2 1.9 6.1 2 7.7 2.5 7.7 2.4 9.2 2.6 9.2 2.4 10.8 2.3 10.7 2 12.3 1.9 12.3 1.5 13.8 1.4 13.9 1 13.8.8M361.6 331l1.5-3.5 1.6-3.4 1.5-3.2 1.5-3.1 1.6-3 1.5-2.8 1.6-2.8 1.5-2.6 1.5-2.5 1.6-2.4 3-4.6 3.1-4.1 3.1-3.8 3.1-3.4 3-3.1 4.6-4.2 4.7-3.5 4.6-2.9 6.1-3.2 6.2-2.4 6.1-1.7 7.7-1.3 7.7-.6 9.2.2 9.2.9 10.8 1.8 10.7 2.3 12.3 3.1 12.3 3.4 13.8 4 13.9 4.1 13.8 4.1M361.6 331l1.5-3.3 1.6-3 1.5-2.9 1.5-2.7 1.6-2.5 1.5-2.3 1.6-2.2 1.5-2.1 1.5-1.9 1.6-1.7 3-3.2 3.1-2.7 3.1-2.3 3.1-1.9 3-1.5 4.6-1.8 4.7-1.2 4.6-.7 6.1-.3 6.2.3 6.1.7 7.7 1.4 7.7 1.8 9.2 2.4 9.2 2.6 10.8 3 10.7 3 12.3 3.2 12.3 3 13.8 3 13.9 2.5 13.8 2.3M361.6 331l1.5-3.3 1.6-3.2 1.5-2.9 1.5-2.7 1.6-2.6 1.5-2.3 1.6-2.2 1.5-2.1 1.5-1.9 1.6-1.7 3-3.1 3.1-2.6 3.1-2.2 3.1-1.8 3-1.4 4.6-1.6 4.7-1 4.6-.5 6.1 0 6.2.5 6.1.9 7.7 1.7 7.7 1.9 9.2 2.5 9.2 2.7 10.8 3.1 10.7 3 12.3 3.1 12.3 2.9 13.8 2.8 13.9 2.4 13.8 2M361.6 331l1.5-1.1 1.6-1.1 1.5-1 1.5-1.1 1.6-1.1 1.5-1 1.6-1.1 1.5-1 1.5-1 1.6-1 3-2 3.1-2 3.1-2 3.1-1.9 3-1.9 4.6-2.7 4.7-2.7 4.6-2.7 6.1-3.4 6.2-3.3 6.1-3.3 7.7-3.8 7.7-3.8 9.2-4.3 9.2-4 10.8-4.6 10.7-4.3 12.3-4.6 12.3-4.3 13.8-4.5 13.9-4.3 13.8-3.9M361.6 331l1.5-13.2 1.6-11.4 1.5-9.8 1.5-8.4 1.6-7.1 1.5-6 1.6-5 1.5-4.1 1.5-3.3 1.6-2.6 3-3.4 3.1-1.6 3.1 0 3.1 1 3 1.8 4.6 3.9 4.7 4.6 4.6 4.9 6.1 6.7 6.2 6.5 6.1 6 7.7 6.7 7.7 5.8 9.2 5.8 9.2 4.7 10.8 4.2 10.7 3.3 12.3 2.8 12.3 2 13.8 1.6 13.9 1.1 13.8.8M361.6 331l1.5-4.8 1.6-4.4 1.5-4.1 1.5-3.8 1.6-3.5 1.5-3.2 1.6-2.9 1.5-2.7 1.5-2.4 1.6-2.2 3-3.8 3.1-3 3.1-2.4 3.1-1.8 3-1.4 4.6-1.1 4.7-.4 4.6.3 6.1 1.1 6.2 1.7 6.1 2.2 7.7 3.1 7.7 3.3 9.2 4.1 9.2 3.8 10.8 4.3 10.7 3.7 12.3 3.8 12.3 3.2 13.8 2.9 13.9 2.4 13.8 1.8M361.6 331l1.5-5.9 1.6-5.6 1.5-5.3 1.5-5 1.6-4.7 1.5-4.4 1.6-4.2 1.5-3.9 1.5-3.7 1.6-3.4 3-6.3 3.1-5.4 3.1-4.8 3.1-4.1 3-3.5 4.6-4.3 4.7-3.3 4.6-2.4 6.1-2 6.2-.9 6.1 0 7.7.9 7.7 1.8 9.2 2.8 9.2 3.4 10.8 4.4 10.7 4.7 12.3 5.3 12.3 5.1 13.8 5.5 13.9 5.2 13.8 4.7M361.6 331l1.5-3.3 1.6-3.1 1.5-2.9 1.5-2.7 1.6-2.6 1.5-2.4 1.6-2.3 1.5-2.1 1.5-2 1.6-1.8 3-3.3 3.1-2.9 3.1-2.5 3.1-2 3-1.8 4.6-2 4.7-1.4 4.6-.9 6.1-.6 6.2.1 6.1.6 7.7 1.2 7.7 1.6 9.2 2.4 9.2 2.5 10.8 3.1 10.7 3.1 12.3 3.4 12.3 3.2 13.8 3.2 13.9 2.9 13.8 2.4M361.6 331l1.5-2.8 1.6-2.7 1.5-2.5 1.5-2.3 1.6-2.2 1.5-2.1 1.6-1.9 1.5-1.8 1.5-1.7 1.6-1.6 3-2.8 3.1-2.4 3.1-2 3.1-1.7 3-1.4 4.6-1.7 4.7-1.2 4.6-.7 6.1-.4 6.2.1 6.1.5 7.7 1.1 7.7 1.3 9.2 2 9.2 2.1 10.8 2.6 10.7 2.5 12.3 2.8 12.3 2.6 13.8 2.6 13.9 2.3 13.8 2.1M361.6 331l1.5-5.2 1.6-4.8 1.5-4.4 1.5-4 1.6-3.7 1.5-3.4 1.6-3.1 1.5-2.8 1.5-2.5 1.6-2.3 3-3.9 3.1-3.1 3.1-2.3 3.1-1.8 3-1.2 4.6-.9 4.7-.2 4.6.6 6.1 1.5 6.2 2.1 6.1 2.5 7.7 3.5 7.7 3.7 9.2 4.3 9.2 4.1 10.8 4.4 10.7 3.8 12.3 3.8 12.3 3.1 13.8 2.9 13.9 2.2 13.8 1.8M361.6 331l1.5-2.4 1.6-2.2 1.5-2.2 1.5-2 1.6-1.9 1.5-1.8 1.6-1.8 1.5-1.6 1.5-1.5 1.6-1.5 3-2.6 3.1-2.4 3.1-2.1 3.1-1.8 3-1.6 4.6-1.9 4.7-1.6 4.6-1.1 6.1-1.1 6.2-.5 6.1-.2 7.7.3 7.7.6 9.2 1.2 9.2 1.5 10.8 1.9 10.7 2.1 12.3 2.5 12.3 2.4 13.8 2.5 13.9 2.5 13.8 2.2M361.6 331l1.5-4.5 1.6-4.3 1.5-4.1 1.5-4 1.6-3.9 1.5-3.8 1.6-3.6 1.5-3.5 1.5-3.4 1.6-3.3 3-6.3 3.1-5.8 3.1-5.4 3.1-5.1 3-4.7 4.6-6.5 4.7-5.9 4.6-5.3 6.1-6.1 6.2-5.4 6.1-4.6 7.7-4.8 7.7-4 9.2-3.8 9.2-3 10.8-2.5 10.7-1.7 12.3-1.2 12.3-.6 13.8-.1 13.9.3 13.8.7M361.6 331l1.5-10.9 1.6-9.6 1.5-8.5 1.5-7.3 1.6-6.4 1.5-5.5 1.6-4.7 1.5-4 1.5-3.3 1.6-2.8 3-4 3.1-2.3 3.1-1 3.1.1 3 .9 4.6 2.5 4.7 3.5 4.6 4 6.1 5.7 6.2 5.8 6.1 5.6 7.7 6.4 7.7 5.8 9.2 5.9 9.2 4.9 10.8 4.5 10.7 3.6 12.3 3 12.3 2.2 13.8 1.8 13.9 1.3 13.8.9M361.6 331l1.5-6.7 1.6-6.1 1.5-5.6 1.5-5 1.6-4.6 1.5-4.1 1.6-3.7 1.5-3.3 1.5-2.9 1.6-2.6 3-4.2 3.1-3.2 3.1-2.3 3.1-1.5 3-.8 4.6-.2 4.7.8 4.6 1.5 6.1 2.8 6.2 3.3 6.1 3.7 7.7 4.7 7.7 4.6 9.2 5.3 9.2 4.7 10.8 4.9 10.7 4 12.3 3.8 12.3 3 13.8 2.6 13.9 2 13.8 1.4M361.6 331l1.5-2 1.6-1.8 1.5-1.6 1.5-1.5 1.6-1.4 1.5-1.3 1.6-1.1 1.5-1.1 1.5-1 1.6-.8 3-1.5 3.1-1.2 3.1-1 3.1-.7 3-.6 4.6-.5 4.7-.3 4.6-.1 6.1.2 6.2.4 6.1.5 7.7.8 7.7.9 9.2 1.1 9.2 1.1 10.8 1.3 10.7 1.2 12.3 1.2 12.3 1.2 13.8 1.1 13.9 1 13.8 1M361.6 331l1.5-10 1.6-8.9 1.5-7.8 1.5-6.9 1.6-6 1.5-5.3 1.6-4.6 1.5-3.9 1.5-3.3 1.6-2.8 3-4.1 3.1-2.7 3.1-1.3 3.1-.3 3 .5 4.6 2 4.7 2.9 4.6 3.5 6.1 5.2 6.2 5.4 6.1 5.3 7.7 6.3 7.7 5.6 9.2 5.9 9.2 5 10.8 4.7 10.7 3.7 12.3 3.2 12.3 2.4 13.8 1.9 13.9 1.3 13.8 1M361.6 331l1.5-3.4 1.6-3.1 1.5-2.9 1.5-2.7 1.6-2.4 1.5-2.3 1.6-2.1 1.5-1.9 1.5-1.7 1.6-1.6 3-2.7 3.1-2.2 3.1-1.7 3.1-1.4 3-1 4.6-1 4.7-.4 4.6 0 6.1.6 6.2 1 6.1 1.4 7.7 1.9 7.7 2.1 9.2 2.6 9.2 2.6 10.8 2.8 10.7 2.6 12.3 2.7 12.3 2.3 13.8 2.2 13.9 1.8 13.8 1.5M361.6 331l1.5-4.5 1.6-4.3 1.5-4.1 1.5-4 1.6-3.9 1.5-3.7 1.6-3.6 1.5-3.5 1.5-3.3 1.6-3.2 3-6.1 3.1-5.6 3.1-5.3 3.1-4.8 3-4.5 4.6-6 4.7-5.4 4.6-4.8 6.1-5.4 6.2-4.6 6.1-3.8 7.7-3.8 7.7-2.9 9.2-2.5 9.2-1.6 10.8-.9 10.7-.2 12.3.5 12.3 1.1 13.8 1.8 13.9 2.2 13.8 2.4M361.6 331l1.5-2.7 1.6-2.6 1.5-2.5 1.5-2.4 1.6-2.3 1.5-2.3 1.6-2.2 1.5-2.2 1.5-2 1.6-2 3-3.8 3.1-3.5 3.1-3.3 3.1-3 3-2.9 4.6-3.8 4.7-3.4 4.6-3.1 6.1-3.4 6.2-2.8 6.1-2.4 7.7-2.2 7.7-1.5 9.2-1.2 9.2-.4 10.8.2 10.7.8 12.3 1.5 12.3 2 13.8 2.7 13.9 2.9 13.8 3.2M361.6 331l1.5-3.9 1.6-3.7 1.5-3.4 1.5-3.2 1.6-3 1.5-2.8 1.6-2.5 1.5-2.4 1.5-2.2 1.6-2 3-3.6 3.1-2.9 3.1-2.5 3.1-2 3-1.6 4.6-1.6 4.7-1 4.6-.4 6.1.2 6.2.8 6.1 1.3 7.7 2.1 7.7 2.4 9.2 3.2 9.2 3.3 10.8 3.7 10.7 3.5 12.3 3.7 12.3 3.2 13.8 3.2 13.9 2.7 13.8 2.2M361.6 331l1.5-4.3 1.6-4.1 1.5-3.9 1.5-3.7 1.6-3.4 1.5-3.3 1.6-3 1.5-2.9 1.5-2.7 1.6-2.6 3-4.6 3.1-4 3.1-3.5 3.1-3.1 3-2.5 4.6-3.1 4.7-2.3 4.6-1.6 6.1-1.2 6.2-.4 6.1.3 7.7 1.2 7.7 1.9 9.2 2.8 9.2 3.2 10.8 4.1 10.7 4.1 12.3 4.7 12.3 4.4 13.8 4.7 13.9 4.1 13.8 3.7M361.6 331l1.5-11.5 1.6-10 1.5-8.8 1.5-7.7 1.6-6.6 1.5-5.6 1.6-4.9 1.5-4 1.5-3.4 1.6-2.8 3-3.9 3.1-2.2 3.1-.8 3.1.2 3 1.2 4.6 2.8 4.7 3.7 4.6 4.2 6.1 6 6.2 6 6.1 5.7 7.7 6.5 7.7 5.8 9.2 6 9.2 4.9 10.8 4.5 10.7 3.6 12.3 3 12.3 2.2 13.8 1.8 13.9 1.3 13.8.8M361.6 331l1.5-10.3 1.6-9.3 1.5-8.2 1.5-7.3 1.6-6.5 1.5-5.7 1.6-5 1.5-4.3 1.5-3.8 1.6-3.2 3-5 3.1-3.4 3.1-2.1 3.1-1 3-.1 4.6 1.1 4.7 2.2 4.6 3 6.1 4.7 6.2 5.1 6.1 5.2 7.7 6.4 7.7 6 9.2 6.5 9.2 5.6 10.8 5.6 10.7 4.7 12.3 4.2 12.3 3.4 13.8 2.9 13.9 2.2 13.8 1.6M361.6 331l1.5-3.1 1.6-2.8 1.5-2.7 1.5-2.6 1.6-2.3 1.5-2.2 1.6-2.1 1.5-1.9 1.5-1.7 1.6-1.7 3-2.9 3.1-2.5 3.1-2.1 3.1-1.7 3-1.4 4.6-1.6 4.7-1.1 4.6-.6 6.1-.2 6.2.3 6.1.8 7.7 1.3 7.7 1.7 9.2 2.2 9.2 2.4 10.8 2.8 10.7 2.7 12.3 3 12.3 2.7 13.8 2.7 13.9 2.3 13.8 2M361.6 331l1.5-5.3 1.6-4.8 1.5-4.5 1.5-4.1 1.6-3.7 1.5-3.5 1.6-3.1 1.5-2.8 1.5-2.6 1.6-2.3 3-3.9 3.1-3.1 3.1-2.4 3.1-1.8 3-1.2 4.6-.9 4.7-.1 4.6.6 6.1 1.5 6.2 2.2 6.1 2.6 7.7 3.6 7.7 3.7 9.2 4.4 9.2 4.1 10.8 4.4 10.7 3.9 12.3 3.9 12.3 3.1 13.8 2.9 13.9 2.2 13.8 1.7M361.6 331l1.5-11.8 1.6-9.8 1.5-8.1 1.5-6.5 1.6-5.3 1.5-4.1 1.6-3.1 1.5-2.2 1.5-1.6 1.6-.9 3-.3 3.1 1.1 3.1 2.2 3.1 2.9 3 3.2 4.6 5.2 4.7 5.1 4.6 4.9 6.1 5.8 6.2 4.9 6.1 4.1 7.7 4 7.7 2.9 9.2 2.5 9.2 1.7 10.8 1.3 10.7.8 12.3.5 12.3.3 13.8.1 13.9.1 13.8.1M361.6 331l1.5-4.4 1.6-4.2 1.5-4 1.5-3.8 1.6-3.7 1.5-3.4 1.6-3.4 1.5-3.1 1.5-3 1.6-2.8 3-5.3 3.1-4.8 3.1-4.2 3.1-3.8 3-3.4 4.6-4.3 4.7-3.6 4.6-2.8 6.1-2.9 6.2-1.9 6.1-1.2 7.7-.5 7.7.4 9.2 1.2 9.2 2 10.8 2.9 10.7 3.4 12.3 4.2 12.3 4.3 13.8 4.9 13.9 4.7 13.8 4.5M361.6 331l1.5-2.9 1.6-2.7 1.5-2.5 1.5-2.3 1.6-2.2 1.5-1.9 1.6-1.9 1.5-1.6 1.5-1.6 1.6-1.4 3-2.5 3.1-2 3.1-1.6 3.1-1.3 3-1.1 4.6-1 4.7-.6 4.6-.2 6.1.3 6.2.6 6.1 1 7.7 1.4 7.7 1.7 9.2 2.1 9.2 2.2 10.8 2.4 10.7 2.3 12.3 2.4 12.3 2.1 13.8 2.1 13.9 1.7 13.8 1.5M361.6 331l1.5-4.1 1.6-3.8 1.5-3.6 1.5-3.4 1.6-3.2 1.5-2.9 1.6-2.8 1.5-2.5 1.5-2.4 1.6-2.3 3-3.9 3.1-3.4 3.1-2.9 3.1-2.4 3-1.9 4.6-2.2 4.7-1.5 4.6-.8 6.1-.3 6.2.4 6.1 1 7.7 1.9 7.7 2.3 9.2 3.2 9.2 3.3 10.8 4 10.7 3.9 12.3 4.1 12.3 3.8 13.8 3.8 13.9 3.2 13.8 2.8M361.6 331l1.5-5.5 1.6-5.3 1.5-5 1.5-4.7 1.6-4.4 1.5-4.2 1.6-3.9 1.5-3.7 1.5-3.5 1.6-3.3 3-6 3.1-5.3 3.1-4.6 3.1-4 3-3.5 4.6-4.3 4.7-3.2 4.6-2.5 6.1-2.1 6.2-1.1 6.1-.2 7.7.7 7.7 1.6 9.2 2.6 9.2 3.2 10.8 4.2 10.7 4.4 12.3 5.2 12.3 5 13.8 5.5 13.9 5 13.8 4.7M361.6 331l1.5-3.6 1.6-3.4 1.5-3.1 1.5-2.9 1.6-2.8 1.5-2.5 1.6-2.3 1.5-2.2 1.5-2 1.6-1.8 3-3.3 3.1-2.7 3.1-2.3 3.1-1.8 3-1.4 4.6-1.6 4.7-.9 4.6-.4 6.1.2 6.2.7 6.1 1.2 7.7 1.9 7.7 2.2 9.2 2.8 9.2 3 10.8 3.3 10.7 3.2 12.3 3.3 12.3 3 13.8 2.9 13.9 2.4 13.8 2M361.6 331l1.5-1.7 1.6-1.8 1.5-1.7 1.5-1.6 1.6-1.7 1.5-1.6 1.6-1.7 1.5-1.6 1.5-1.5 1.6-1.6 3-3 3.1-3 3.1-2.9 3.1-2.9 3-2.8 4.6-4 4.7-3.9 4.6-3.7 6.1-4.8 6.2-4.5 6.1-4.4 7.7-5.1 7.7-4.8 9.2-5.4 9.2-5 10.8-5.4 10.7-4.9 12.3-5.2 12.3-4.6 13.8-4.7 13.9-4.3 13.8-3.7M361.6 331l1.5-3.7 1.6-3.5 1.5-3.3 1.5-3.3 1.6-3.1 1.5-3 1.6-2.9 1.5-2.7 1.5-2.7 1.6-2.5 3-4.8 3.1-4.3 3.1-4 3.1-3.7 3-3.3 4.6-4.4 4.7-3.8 4.6-3.2 6.1-3.4 6.2-2.7 6.1-1.9 7.7-1.6 7.7-.8 9.2 0 9.2.7 10.8 1.5 10.7 2.2 12.3 3 12.3 3.3 13.8 4 13.9 4.1 13.8 4.1M361.6 331l1.5-1.7 1.6-1.7 1.5-1.6 1.5-1.6 1.6-1.6 1.5-1.6 1.6-1.6 1.5-1.5 1.5-1.6 1.6-1.5 3-2.9 3.1-2.9 3.1-2.8 3.1-2.7 3-2.7 4.6-3.8 4.7-3.7 4.6-3.6 6.1-4.5 6.2-4.3 6.1-4.1 7.7-4.8 7.7-4.5 9.2-5 9.2-4.6 10.8-4.9 10.7-4.4 12.3-4.5 12.3-4.1 13.8-4 13.9-3.5 13.8-3M361.6 331l1.5-8 1.6-7.2 1.5-6.5 1.5-5.8 1.6-5.2 1.5-4.6 1.6-4.1 1.5-3.6 1.5-3.1 1.6-2.8 3-4.4 3.1-3.1 3.1-2 3.1-1.1 3-.4 4.6.6 4.7 1.6 4.6 2.3 6.1 3.8 6.2 4.2 6.1 4.5 7.7 5.4 7.7 5.2 9.2 5.7 9.2 5 10.8 4.9 10.7 4 12.3 3.7 12.3 2.8 13.8 2.3 13.9 1.7 13.8 1.3M361.6 331l1.5-3.1 1.6-2.9 1.5-2.7 1.5-2.6 1.6-2.3 1.5-2.2 1.6-2.1 1.5-1.9 1.5-1.8 1.6-1.7 3-2.9 3.1-2.5 3.1-2.1 3.1-1.7 3-1.4 4.6-1.6 4.7-1 4.6-.6 6.1-.2 6.2.4 6.1.7 7.7 1.4 7.7 1.7 9.2 2.3 9.2 2.4 10.8 2.9 10.7 2.7 12.3 3 12.3 2.7 13.8 2.7 13.9 2.3 13.8 2M361.6 331l1.5-3.7 1.6-3.6 1.5-3.4 1.5-3.3 1.6-3.2 1.5-3.1 1.6-2.9 1.5-2.8 1.5-2.8 1.6-2.6 3-4.9 3.1-4.5 3.1-4.1 3.1-3.8 3-3.5 4.6-4.6 4.7-4 4.6-3.5 6.1-3.7 6.2-3 6.1-2.2 7.7-2 7.7-1.1 9.2-.4 9.2.3 10.8 1.3 10.7 1.8 12.3 2.7 12.3 3.1 13.8 3.8 13.9 4 13.8 4M361.6 331l1.5-12 1.6-10.4 1.5-9.1 1.5-7.8 1.6-6.7 1.5-5.8 1.6-4.8 1.5-4.1 1.5-3.3 1.6-2.7 3-3.7 3.1-2 3.1-.5 3.1.5 3 1.4 4.6 3.2 4.7 4 4.6 4.5 6.1 6.3 6.2 6.1 6.1 5.8 7.7 6.6 7.7 5.8 9.2 5.8 9.2 4.8 10.8 4.4 10.7 3.4 12.3 2.8 12.3 2.1 13.8 1.7 13.9 1.2 13.8.7M361.6 331l1.5-11.7 1.6-10.4 1.5-9.2 1.5-8.2 1.6-7.3 1.5-6.3 1.6-5.6 1.5-4.9 1.5-4.2 1.6-3.7 3-5.7 3.1-3.9 3.1-2.6 3.1-1.3 3-.4 4.6.7 4.7 2 4.6 2.7 6.1 4.5 6.2 5.1 6.1 5.1 7.7 6.5 7.7 6.1 9.2 6.8 9.2 6 10.8 6.3 10.7 5.3 12.3 5.1 12.3 4.2 13.8 3.8 13.9 3.1 13.8 2.4M361.6 331l1.5-12.2 1.6-10.6 1.5-9.4 1.5-8.1 1.6-7.1 1.5-6.1 1.6-5.2 1.5-4.4 1.5-3.7 1.6-3.1 3-4.5 3.1-2.6 3.1-1.2 3.1-.1 3 .8 4.6 2.5 4.7 3.4 4.6 4.1 6.1 5.9 6.2 6 6.1 5.8 7.7 6.8 7.7 6.1 9.2 6.4 9.2 5.4 10.8 5.2 10.7 4.2 12.3 3.7 12.3 2.9 13.8 2.4 13.9 1.8 13.8 1.3M361.6 331l1.5-11.7 1.6-10.2 1.5-8.9 1.5-7.8 1.6-6.6 1.5-5.7 1.6-4.8 1.5-4 1.5-3.4 1.6-2.7 3-3.8 3.1-2 3.1-.7 3.1.5 3 1.2 4.6 3.1 4.7 3.9 4.6 4.3 6.1 6.2 6.2 6 6.1 5.8 7.7 6.6 7.7 5.7 9.2 5.9 9.2 4.8 10.8 4.4 10.7 3.4 12.3 2.9 12.3 2.1 13.8 1.7 13.9 1.2 13.8.8M361.6 331l1.5-3.2 1.6-3 1.5-3 1.5-2.9 1.6-2.8 1.5-2.7 1.6-2.6 1.5-2.6 1.5-2.4 1.6-2.4 3-4.5 3.1-4.2 3.1-4 3.1-3.7 3-3.4 4.6-4.7 4.7-4.2 4.6-3.8 6.1-4.3 6.2-3.7 6.1-3 7.7-3.1 7.7-2.2 9.2-1.9 9.2-1.1 10.8-.5 10.7.3 12.3 1.1 12.3 1.6 13.8 2.4 13.9 2.8 13.8 3M361.6 331l1.5-3.4 1.6-3.3 1.5-3 1.5-2.9 1.6-2.6 1.5-2.6 1.6-2.3 1.5-2.2 1.5-2 1.6-2 3-3.4 3.1-2.9 3.1-2.5 3.1-2.1 3-1.7 4.6-2 4.7-1.4 4.6-.9 6.1-.4 6.2.2 6.1.7 7.7 1.4 7.7 1.8 9.2 2.5 9.2 2.8 10.8 3.3 10.7 3.2 12.3 3.5 12.3 3.3 13.8 3.3 13.9 2.8 13.8 2.5M361.6 331l1.5-6.9 1.6-6.3 1.5-5.7 1.5-5.2 1.6-4.6 1.5-4.2 1.6-3.8 1.5-3.3 1.5-3 1.6-2.6 3-4.3 3.1-3.2 3.1-2.2 3.1-1.4 3-.8 4.6-.1 4.7.9 4.6 1.7 6.1 2.9 6.2 3.5 6.1 3.8 7.7 4.9 7.7 4.7 9.2 5.4 9.2 4.7 10.8 4.9 10.7 4.1 12.3 3.7 12.3 3 13.8 2.6 13.9 1.9 13.8 1.4M361.6 331l1.5-12.8 1.6-11.1 1.5-9.5 1.5-8.2 1.6-7 1.5-5.9 1.6-4.9 1.5-4.1 1.5-3.3 1.6-2.6 3-3.5 3.1-1.6 3.1-.2 3.1 1 3 1.7 4.6 3.7 4.7 4.5 4.6 4.8 6.1 6.6 6.2 6.4 6.1 5.9 7.7 6.7 7.7 5.7 9.2 5.8 9.2 4.6 10.8 4.3 10.7 3.2 12.3 2.8 12.3 2 13.8 1.5 13.9 1.1 13.8.8M361.6 331l1.5-.7 1.6-.8 1.5-.7 1.5-.7 1.6-.7 1.5-.7 1.6-.7 1.5-.7 1.5-.7 1.6-.7 3-1.4 3.1-1.3 3.1-1.4 3.1-1.3 3-1.3 4.6-1.9 4.7-1.9 4.6-1.8 6.1-2.5 6.2-2.3 6.1-2.3 7.7-2.8 7.7-2.7 9.2-3.1 9.2-3 10.8-3.4 10.7-3.2 12.3-3.5 12.3-3.3 13.8-3.5 13.9-3.3 13.8-3M361.6 331l1.5-3.6 1.6-3.4 1.5-3.3 1.5-3.1 1.6-3.1 1.5-2.9 1.6-2.8 1.5-2.7 1.5-2.6 1.6-2.4 3-4.7 3.1-4.3 3.1-3.9 3.1-3.5 3-3.3 4.6-4.3 4.7-3.7 4.6-3.2 6.1-3.4 6.2-2.6 6.1-1.9 7.7-1.6 7.7-.8 9.2-.1 9.2.6 10.8 1.6 10.7 2.1 12.3 2.9 12.3 3.3 13.8 3.9 13.9 4.1 13.8 4M361.6 331l1.5-4.2 1.6-3.8 1.5-3.6 1.5-3.4 1.6-3.1 1.5-2.8 1.6-2.6 1.5-2.4 1.5-2.3 1.6-2 3-3.5 3.1-2.9 3.1-2.4 3.1-1.8 3-1.5 4.6-1.4 4.7-.7 4.6-.1 6.1.6 6.2 1.2 6.1 1.7 7.7 2.4 7.7 2.8 9.2 3.4 9.2 3.4 10.8 3.8 10.7 3.6 12.3 3.6 12.3 3.1 13.8 3 13.9 2.4 13.8 2M361.6 331l1.5-11.2 1.6-9.8 1.5-8.6 1.5-7.5 1.6-6.5 1.5-5.5 1.6-4.8 1.5-4 1.5-3.3 1.6-2.8 3-3.9 3.1-2.3 3.1-.8 3.1.2 3 1 4.6 2.7 4.7 3.6 4.6 4.1 6.1 5.9 6.2 5.9 6.1 5.6 7.7 6.5 7.7 5.8 9.2 5.9 9.2 4.8 10.8 4.6 10.7 3.5 12.3 3 12.3 2.2 13.8 1.7 13.9 1.3 13.8.8M361.6 331l1.5-3.4 1.6-3.1 1.5-2.9 1.5-2.8 1.6-2.5 1.5-2.4 1.6-2.2 1.5-2 1.5-1.9 1.6-1.8 3-3.1 3.1-2.6 3.1-2.2 3.1-1.7 3-1.5 4.6-1.5 4.7-1 4.6-.5 6.1 0 6.2.5 6.1 1 7.7 1.6 7.7 2 9.2 2.5 9.2 2.7 10.8 3.1 10.7 3 12.3 3.1 12.3 2.9 13.8 2.8 13.9 2.4 13.8 2M361.6 331l1.5-5.4 1.6-5.1 1.5-4.8 1.5-4.6 1.6-4.4 1.5-4.1 1.6-3.9 1.5-3.7 1.5-3.5 1.6-3.3 3-6.1 3.1-5.4 3.1-4.8 3.1-4.2 3-3.6 4.6-4.6 4.7-3.7 4.6-2.9 6.1-2.7 6.2-1.6 6.1-.8 7.7 0 7.7.9 9.2 1.9 9.2 2.7 10.8 3.6 10.7 3.9 12.3 4.8 12.3 4.8 13.8 5.3 13.9 5 13.8 4.7M361.6 331l1.5-4.5 1.6-4.2 1.5-3.8 1.5-3.6 1.6-3.3 1.5-3 1.6-2.8 1.5-2.5 1.5-2.4 1.6-2.1 3-3.7 3.1-3 3.1-2.3 3.1-1.9 3-1.4 4.6-1.3 4.7-.5 4.6.1 6.1.8 6.2 1.5 6.1 1.9 7.7 2.8 7.7 3 9.2 3.8 9.2 3.7 10.8 4 10.7 3.7 12.3 3.7 12.3 3.2 13.8 2.9 13.9 2.4 13.8 2M361.6 331l1.5-3.9 1.6-3.6 1.5-3.3 1.5-3.2 1.6-2.8 1.5-2.7 1.6-2.5 1.5-2.3 1.5-2.1 1.6-2 3-3.4 3.1-2.8 3.1-2.4 3.1-1.8 3-1.5 4.6-1.5 4.7-.9 4.6-.3 6.1.3 6.2.9 6.1 1.4 7.7 2.1 7.7 2.5 9.2 3.1 9.2 3.2 10.8 3.6 10.7 3.3 12.3 3.5 12.3 3.1 13.8 3 13.9 2.5 13.8 2.1M361.6 331l1.5-4.5 1.6-4.2 1.5-3.9 1.5-3.6 1.6-3.4 1.5-3.1 1.6-2.9 1.5-2.7 1.5-2.5 1.6-2.3 3-4 3.1-3.4 3.1-2.8 3.1-2.2 3-1.8 4.6-1.9 4.7-1.1 4.6-.4 6.1.2 6.2 1 6.1 1.5 7.7 2.5 7.7 2.8 9.2 3.7 9.2 3.7 10.8 4.3 10.7 4 12.3 4.2 12.3 3.8 13.8 3.6 13.9 3 13.8 2.5M361.6 331l1.5-4.1 1.6-4 1.5-3.8 1.5-3.7 1.6-3.4 1.5-3.3 1.6-3.2 1.5-3 1.5-2.9 1.6-2.8 3-5.1 3.1-4.6 3.1-4.2 3.1-3.8 3-3.4 4.6-4.3 4.7-3.7 4.6-3 6.1-3.1 6.2-2.2 6.1-1.4 7.7-.9 7.7 0 9.2.8 9.2 1.6 10.8 2.5 10.7 3 12.3 3.8 12.3 4 13.8 4.7 13.9 4.5 13.8 4.4M361.6 331l1.5-4.4 1.6-3.9 1.5-3.6 1.5-3.2 1.6-2.8 1.5-2.6 1.6-2.2 1.5-2 1.5-1.8 1.6-1.5 3-2.5 3.1-1.8 3.1-1.2 3.1-.7 3-.3 4.6.2 4.7.6 4.6 1.1 6.1 1.9 6.2 2.1 6.1 2.3 7.7 2.8 7.7 2.7 9.2 3.1 9.2 2.7 10.8 2.7 10.7 2.3 12.3 2.2 12.3 1.7 13.8 1.5 13.9 1.1 13.8.9M361.6 331l1.5-1.5 1.6-1.4 1.5-1.4 1.5-1.5 1.6-1.4 1.5-1.4 1.6-1.3 1.5-1.4 1.5-1.3 1.6-1.3 3-2.7 3.1-2.5 3.1-2.5 3.1-2.4 3-2.4 4.6-3.5 4.7-3.3 4.6-3.3 6.1-4.1 6.2-4 6.1-3.8 7.7-4.5 7.7-4.2 9.2-4.8 9.2-4.5 10.8-4.8 10.7-4.4 12.3-4.6 12.3-4.2 13.8-4.2 13.9-3.7 13.8-3.4M361.6 331l1.5-10.9 1.6-9.9 1.5-8.9 1.5-8.1 1.6-7.2 1.5-6.5 1.6-5.9 1.5-5.2 1.5-4.7 1.6-4.1 3-6.9 3.1-5.3 3.1-3.9 3.1-2.8 3-1.9 4.6-1.3 4.7-.1 4.6 1 6.1 2.4 6.2 3.3 6.1 3.8 7.7 5 7.7 5.3 9.2 6.1 9.2 5.9 10.8 6.4 10.7 5.9 12.3 6 12.3 5.3 13.8 5.2 13.9 4.5 13.8 3.8M361.6 331l1.5-6.2 1.6-5.8 1.5-5.4 1.5-5.1 1.6-4.7 1.5-4.4 1.6-4.1 1.5-3.9 1.5-3.5 1.6-3.3 3-5.9 3.1-5 3.1-4.2 3.1-3.5 3-2.9 4.6-3.3 4.7-2.2 4.6-1.3 6.1-.5 6.2.4 6.1 1.3 7.7 2.4 7.7 3.1 9.2 4.2 9.2 4.5 10.8 5.4 10.7 5.2 12.3 5.7 12.3 5.2 13.8 5.4 13.9 4.7 13.8 4.1M361.6 331l1.5-3.2 1.6-3.1 1.5-3 1.5-2.9 1.6-2.7 1.5-2.7 1.6-2.6 1.5-2.5 1.5-2.5 1.6-2.3 3-4.4 3.1-4.1 3.1-3.8 3.1-3.5 3-3.3 4.6-4.4 4.7-3.8 4.6-3.4 6.1-3.9 6.2-3.1 6.1-2.5 7.7-2.3 7.7-1.6 9.2-1 9.2-.3 10.8.5 10.7 1.1 12.3 1.9 12.3 2.5 13.8 3.1 13.9 3.4 13.8 3.5M361.6 331l1.5-5.2 1.6-4.7 1.5-4.3 1.5-3.9 1.6-3.5 1.5-3.1 1.6-2.8 1.5-2.5 1.5-2.2 1.6-2 3-3.2 3.1-2.3 3.1-1.7 3.1-1.1 3-.5 4.6-.1 4.7.7 4.6 1.2 6.1 2.2 6.2 2.6 6.1 2.8 7.7 3.6 7.7 3.5 9.2 3.9 9.2 3.6 10.8 3.6 10.7 3 12.3 2.9 12.3 2.2 13.8 1.9 13.9 1.5 13.8 1.1M361.6 331l1.5-5.7 1.6-5.4 1.5-5 1.5-4.7 1.6-4.4 1.5-4.1 1.6-3.8 1.5-3.5 1.5-3.3 1.6-3.1 3-5.4 3.1-4.6 3.1-3.9 3.1-3.2 3-2.7 4.6-2.9 4.7-2 4.6-1.1 6.1-.4 6.2.6 6.1 1.4 7.7 2.5 7.7 3.1 9.2 4.1 9.2 4.5 10.8 5.2 10.7 5.1 12.3 5.4 12.3 5 13.8 5 13.9 4.4 13.8 3.7M361.6 331l1.5-8.7 1.6-7.6 1.5-6.6 1.5-5.7 1.6-4.9 1.5-4.1 1.6-3.6 1.5-2.9 1.5-2.4 1.6-2 3-2.6 3.1-1.3 3.1-.2 3.1.6 3 1.2 4.6 2.7 4.7 3.3 4.6 3.7 6.1 4.9 6.2 4.9 6.1 4.5 7.7 5 7.7 4.3 9.2 4.3 9.2 3.3 10.8 2.9 10.7 2.1 12.3 1.7 12.3 1.1 13.8.8 13.9.5 13.8.3M361.6 331l1.5-4.7 1.6-4.3 1.5-4 1.5-3.6 1.6-3.4 1.5-3.1 1.6-2.9 1.5-2.6 1.5-2.4 1.6-2.2 3-3.7 3.1-3.1 3.1-2.4 3.1-1.8 3-1.4 4.6-1.2 4.7-.5 4.6.2 6.1 1 6.2 1.6 6.1 2 7.7 3 7.7 3.2 9.2 3.9 9.2 3.8 10.8 4.1 10.7 3.8 12.3 3.7 12.3 3.2 13.8 3 13.9 2.4 13.8 1.9M361.6 331l1.5-7.6 1.6-6.8 1.5-6.2 1.5-5.5 1.6-5 1.5-4.4 1.6-4 1.5-3.5 1.5-3.1 1.6-2.6 3-4.3 3.1-3.1 3.1-2.1 3.1-1.2 3-.5 4.6.3 4.7 1.4 4.6 2.1 6.1 3.5 6.2 4 6.1 4.2 7.7 5.2 7.7 5 9.2 5.6 9.2 4.9 10.8 4.8 10.7 4 12.3 3.7 12.3 2.8 13.8 2.4 13.9 1.7 13.8 1.3M361.6 331l1.5-3.8 1.6-3.6 1.5-3.3 1.5-3 1.6-2.9 1.5-2.6 1.6-2.5 1.5-2.2 1.5-2.1 1.6-1.9 3-3.3 3.1-2.8 3.1-2.3 3.1-1.8 3-1.4 4.6-1.5 4.7-.8 4.6-.3 6.1.3 6.2.9 6.1 1.4 7.7 2.1 7.7 2.4 9.2 3.1 9.2 3.1 10.8 3.5 10.7 3.3 12.3 3.4 12.3 3 13.8 2.9 13.9 2.5 13.8 2M361.6 331l1.5-4.9 1.6-4.6 1.5-4.1 1.5-3.9 1.6-3.6 1.5-3.2 1.6-3 1.5-2.7 1.5-2.5 1.6-2.2 3-3.9 3.1-3.1 3.1-2.4 3.1-1.8 3-1.4 4.6-1.1 4.7-.4 4.6.3 6.1 1.2 6.2 1.9 6.1 2.2 7.7 3.2 7.7 3.4 9.2 4.2 9.2 3.9 10.8 4.3 10.7 3.9 12.3 3.8 12.3 3.2 13.8 3 13.9 2.4 13.8 1.8M361.6 331l1.5-3.5 1.6-3.2 1.5-3 1.5-2.8 1.6-2.6 1.5-2.5 1.6-2.2 1.5-2.1 1.5-2 1.6-1.8 3-3.1 3.1-2.7 3.1-2.2 3.1-1.8 3-1.5 4.6-1.5 4.7-1 4.6-.4 6.1 0 6.2.6 6.1 1.1 7.7 1.7 7.7 2.1 9.2 2.7 9.2 2.7 10.8 3.2 10.7 3.1 12.3 3.2 12.3 2.9 13.8 2.9 13.9 2.4 13.8 2.1M361.6 331l1.5-3.3 1.6-3.1 1.5-2.9 1.5-2.6 1.6-2.6 1.5-2.3 1.6-2.2 1.5-2 1.5-1.8 1.6-1.8 3-3 3.1-2.6 3.1-2.2 3.1-1.8 3-1.4 4.6-1.6 4.7-1 4.6-.5 6.1 0 6.2.5 6.1.9 7.7 1.5 7.7 1.9 9.2 2.5 9.2 2.6 10.8 3.1 10.7 2.9 12.3 3.1 12.3 2.8 13.8 2.8 13.9 2.4 13.8 2.1M361.6 331l1.5-6.6 1.6-5.7 1.5-5.1 1.5-4.5 1.6-3.8 1.5-3.4 1.6-2.8 1.5-2.4 1.5-2.1 1.6-1.6 3-2.4 3.1-1.4 3.1-.6 3.1.1 3 .6 4.6 1.6 4.7 2.3 4.6 2.5 6.1 3.6 6.2 3.7 6.1 3.5 7.7 4 7.7 3.6 9.2 3.6 9.2 2.9 10.8 2.7 10.7 2 12.3 1.8 12.3 1.2 13.8.9 13.9.6 13.8.4M361.6 331l1.5-3.7 1.6-3.6 1.5-3.5 1.5-3.3 1.6-3.2 1.5-3 1.6-2.9 1.5-2.8 1.5-2.7 1.6-2.5 3-4.8 3.1-4.4 3.1-4 3.1-3.6 3-3.2 4.6-4.3 4.7-3.6 4.6-3.1 6.1-3.2 6.2-2.4 6.1-1.7 7.7-1.3 7.7-.4 9.2.3 9.2 1 10.8 2 10.7 2.5 12.3 3.3 12.3 3.6 13.8 4.3 13.9 4.2 13.8 4.2M361.6 331l1.5-11.6 1.6-10.2 1.5-8.9 1.5-7.7 1.6-6.6 1.5-5.7 1.6-4.8 1.5-4 1.5-3.4 1.6-2.7 3-3.9 3.1-2.1 3.1-.7 3.1.4 3 1.2 4.6 3 4.7 3.8 4.6 4.3 6.1 6.1 6.2 6.1 6.1 5.7 7.7 6.6 7.7 5.8 9.2 5.8 9.2 4.9 10.8 4.4 10.7 3.5 12.3 2.9 12.3 2.2 13.8 1.7 13.9 1.2 13.8.9M361.6 331l1.5-5.5 1.6-5.2 1.5-5 1.5-4.7 1.6-4.5 1.5-4.2 1.6-4 1.5-3.8 1.5-3.6 1.6-3.4 3-6.2 3.1-5.5 3.1-4.9 3.1-4.3 3-3.8 4.6-4.8 4.7-3.8 4.6-3 6.1-2.9 6.2-1.8 6.1-.9 7.7-.1 7.7.7 9.2 1.8 9.2 2.5 10.8 3.4 10.7 3.9 12.3 4.6 12.3 4.8 13.8 5.2 13.9 5 13.8 4.7M361.6 331l1.5-15.1 1.6-12.9 1.5-10.8 1.5-9.2 1.6-7.6 1.5-6.2 1.6-5.1 1.5-4 1.5-3.2 1.6-2.3 3-2.8 3.1-.7 3.1.7 3.1 1.9 3 2.6 4.6 4.8 4.7 5.4 4.6 5.6 6.1 7.2 6.2 6.8 6.1 6.2 7.7 6.7 7.7 5.7 9.2 5.6 9.2 4.4 10.8 4.1 10.7 3 12.3 2.6 12.3 1.8 13.8 1.5 13.9 1 13.8.7M361.6 331l1.5-3.5 1.6-3.4 1.5-3.2 1.5-3.2 1.6-3 1.5-2.9 1.6-2.7 1.5-2.7 1.5-2.5 1.6-2.5 3-4.5 3.1-4.2 3.1-3.9 3.1-3.4 3-3.2 4.6-4.2 4.7-3.6 4.6-3 6.1-3.3 6.2-2.5 6.1-1.8 7.7-1.4 7.7-.6 9.2.1 9.2.8 10.8 1.6 10.7 2.3 12.3 3 12.3 3.4 13.8 4 13.9 4.1 13.8 4M361.6 331l1.5-4.4 1.6-4.1 1.5-3.7 1.5-3.5 1.6-3.2 1.5-3 1.6-2.7 1.5-2.4 1.5-2.3 1.6-2.1 3-3.5 3.1-2.9 3.1-2.3 3.1-1.7 3-1.3 4.6-1.2 4.7-.5 4.6.2 6.1.9 6.2 1.5 6.1 1.9 7.7 2.8 7.7 2.9 9.2 3.7 9.2 3.5 10.8 3.9 10.7 3.6 12.3 3.5 12.3 3.1 13.8 2.8 13.9 2.3 13.8 1.8M361.6 331l1.5-6.4 1.6-5.9 1.5-5.3 1.5-4.9 1.6-4.4 1.5-3.9 1.6-3.6 1.5-3.2 1.5-2.9 1.6-2.6 3-4.2 3.1-3.2 3.1-2.3 3.1-1.6 3-.9 4.6-.4 4.7.5 4.6 1.3 6.1 2.5 6.2 3.1 6.1 3.4 7.7 4.5 7.7 4.5 9.2 5.1 9.2 4.7 10.8 4.8 10.7 4.1 12.3 3.8 12.3 3.1 13.8 2.7 13.9 2 13.8 1.5M361.6 331l1.5-6.2 1.6-5.8 1.5-5.2 1.5-4.7 1.6-4.3 1.5-3.9 1.6-3.5 1.5-3.2 1.5-2.8 1.6-2.6 3-4.2 3.1-3.2 3.1-2.3 3.1-1.6 3-1 4.6-.5 4.7.5 4.6 1.1 6.1 2.4 6.2 3 6.1 3.3 7.7 4.4 7.7 4.4 9.2 5 9.2 4.6 10.8 4.7 10.7 4.1 12.3 3.9 12.3 3.1 13.8 2.7 13.9 2.1 13.8 1.5M361.6 331l1.5-6.1 1.6-5.5 1.5-4.8 1.5-4.3 1.6-3.8 1.5-3.4 1.6-2.9 1.5-2.5 1.5-2.2 1.6-1.9 3-2.8 3.1-1.9 3.1-1.1 3.1-.4 3 .1 4.6 1 4.7 1.6 4.6 2.1 6.1 3.2 6.2 3.4 6.1 3.4 7.7 4.1 7.7 3.7 9.2 3.9 9.2 3.4 10.8 3.2 10.7 2.5 12.3 2.2 12.3 1.6 13.8 1.3 13.9.9 13.8.7M361.6 331l1.5-1.5 1.6-1.6 1.5-1.5 1.5-1.4 1.6-1.5 1.5-1.5 1.6-1.4 1.5-1.4 1.5-1.4 1.6-1.4 3-2.7 3.1-2.7 3.1-2.6 3.1-2.5 3-2.5 4.6-3.6 4.7-3.4 4.6-3.4 6.1-4.3 6.2-4 6.1-3.9 7.7-4.6 7.7-4.3 9.2-4.9 9.2-4.5 10.8-4.8 10.7-4.5 12.3-4.6 12.3-4.1 13.8-4.2 13.9-3.6 13.8-3.3M361.6 331l1.5-2.4 1.6-2.2 1.5-2.1 1.5-1.9 1.6-1.9 1.5-1.7 1.6-1.6 1.5-1.6 1.5-1.4 1.6-1.3 3-2.5 3.1-2 3.1-1.9 3.1-1.5 3-1.3 4.6-1.5 4.7-1.2 4.6-.8 6.1-.5 6.2-.2 6.1.2 7.7.7 7.7.9 9.2 1.4 9.2 1.6 10.8 2 10.7 2 12.3 2.3 12.3 2.1 13.8 2.3 13.9 2 13.8 1.8M361.6 331l1.5-2.2 1.6-2.2 1.5-2.1 1.5-2 1.6-1.9 1.5-1.9 1.6-1.9 1.5-1.8 1.5-1.7 1.6-1.7 3-3.1 3.1-3 3.1-2.8 3.1-2.6 3-2.4 4.6-3.3 4.7-2.9 4.6-2.7 6.1-3 6.2-2.5 6.1-2 7.7-2.1 7.7-1.4 9.2-1.1 9.2-.6 10.8 0 10.7.6 12.3 1.1 12.3 1.6 13.8 2.2 13.9 2.5 13.8 2.6M361.6 331l1.5-12.2 1.6-11.1 1.5-10.2 1.5-9.3 1.6-8.5 1.5-7.7 1.6-7.1 1.5-6.5 1.5-5.9 1.6-5.4 3-9.4 3.1-7.9 3.1-6.5 3.1-5.5 3-4.5 4.6-5.5 4.7-4.1 4.6-3.1 6.1-3 6.2-2 6.1-1.4 7.7-1.1 7.7-.6 9.2-.3 9.2-.1 10.8 0 10.7.2 12.3.3 12.3.3 13.8.3 13.9.4 13.8.4M361.6 331l1.5-11.7 1.6-10.2 1.5-8.8 1.5-7.6 1.6-6.4 1.5-5.4 1.6-4.5 1.5-3.8 1.5-3 1.6-2.4 3-3.1 3.1-1.4 3.1 0 3.1 1 3 1.7 4.6 3.7 4.7 4.3 4.6 4.8 6.1 6.3 6.2 6.2 6.1 5.6 7.7 6.3 7.7 5.3 9.2 5.3 9.2 4.2 10.8 3.7 10.7 2.7 12.3 2.3 12.3 1.5 13.8 1.2 13.9.8 13.8.5M361.6 331l1.5-8.1 1.6-7.4 1.5-6.6 1.5-5.9 1.6-5.3 1.5-4.7 1.6-4.1 1.5-3.7 1.5-3.2 1.6-2.7 3-4.4 3.1-3.1 3.1-2 3.1-1.1 3-.3 4.6.6 4.7 1.6 4.6 2.4 6.1 3.9 6.2 4.3 6.1 4.6 7.7 5.5 7.7 5.3 9.2 5.7 9.2 5 10.8 5 10.7 4 12.3 3.7 12.3 2.8 13.8 2.3 13.9 1.7 13.8 1.3M361.6 331l1.5-8.3 1.6-7.5 1.5-6.7 1.5-6 1.6-5.3 1.5-4.7 1.6-4.2 1.5-3.7 1.5-3.2 1.6-2.7 3-4.4 3.1-3 3.1-1.9 3.1-1 3-.3 4.6.8 4.7 1.8 4.6 2.5 6.1 4 6.2 4.5 6.1 4.6 7.7 5.6 7.7 5.3 9.2 5.7 9.2 5.1 10.8 4.9 10.7 3.9 12.3 3.6 12.3 2.7 13.8 2.3 13.9 1.7 13.8 1.1M361.6 331l1.5-2.1 1.6-2.1 1.5-2 1.5-2 1.6-1.9 1.5-1.9 1.6-1.8 1.5-1.7 1.5-1.7 1.6-1.7 3-3.1 3.1-3 3.1-2.8 3.1-2.7 3-2.4 4.6-3.4 4.7-3.1 4.6-2.8 6.1-3.3 6.2-2.8 6.1-2.4 7.7-2.4 7.7-1.9 9.2-1.6 9.2-1 10.8-.6 10.7 0 12.3.6 12.3 1.1 13.8 1.7 13.9 2 13.8 2.3M361.6 331l1.5-11.6 1.6-10.6 1.5-9.4 1.5-8.6 1.6-7.6 1.5-6.9 1.6-6.2 1.5-5.5 1.5-4.9 1.6-4.3 3-7.2 3.1-5.5 3.1-4.2 3.1-2.9 3-2 4.6-1.6 4.7-.1 4.6.8 6.1 2.1 6.2 3.1 6.1 3.5 7.7 4.8 7.7 4.9 9.2 5.9 9.2 5.6 10.8 6.3 10.7 5.7 12.3 6 12.3 5.4 13.8 5.4 13.9 4.8 13.8 4.1M361.6 331l1.5-10.3 1.6-9.2 1.5-8 1.5-7.1 1.6-6.2 1.5-5.3 1.6-4.7 1.5-3.9 1.5-3.4 1.6-2.8 3-4.1 3.1-2.6 3.1-1.2 3.1-.2 3 .7 4.6 2.1 4.7 3 4.6 3.7 6.1 5.4 6.2 5.5 6.1 5.5 7.7 6.3 7.7 5.7 9.2 5.9 9.2 5 10.8 4.7 10.7 3.7 12.3 3.1 12.3 2.4 13.8 1.9 13.9 1.4 13.8.9M361.6 331l1.5-6.5 1.6-6 1.5-5.5 1.5-5.1 1.6-4.7 1.5-4.2 1.6-3.9 1.5-3.5 1.5-3.2 1.6-2.9 3-5 3.1-3.9 3.1-3 3.1-2.3 3-1.6 4.6-1.3 4.7-.3 4.6.6 6.1 1.7 6.2 2.5 6.1 3.1 7.7 4.2 7.7 4.4 9.2 5.3 9.2 5.1 10.8 5.5 10.7 4.8 12.3 4.8 12.3 4.1 13.8 3.7 13.9 2.9 13.8 2.4M361.6 331l1.5-1.2 1.6-1.2 1.5-1.2 1.5-1.2 1.6-1.2 1.5-1.2 1.6-1.1 1.5-1.1 1.5-1.2 1.6-1.1 3-2.2 3.1-2.1 3.1-2.1 3.1-2.1 3-2 4.6-3 4.7-2.8 4.6-2.8 6.1-3.6 6.2-3.4 6.1-3.3 7.7-3.9 7.7-3.6 9.2-4.2 9.2-3.9 10.8-4.2 10.7-3.9 12.3-4.1 12.3-3.7 13.8-3.7 13.9-3.3 13.8-3M361.6 331l1.5-4.6 1.6-4.3 1.5-4.1 1.5-3.9 1.6-3.7 1.5-3.5 1.6-3.2 1.5-3.2 1.5-2.9 1.6-2.8 3-5 3.1-4.5 3.1-3.9 3.1-3.5 3-2.9 4.6-3.7 4.7-2.8 4.6-2.1 6.1-1.9 6.2-.9 6.1-.1 7.7.7 7.7 1.4 9.2 2.5 9.2 2.9 10.8 3.9 10.7 4.2 12.3 4.8 12.3 4.7 13.8 4.9 13.9 4.7 13.8 4.2M361.6 331l1.5-4.2 1.6-4 1.5-3.8 1.5-3.6 1.6-3.4 1.5-3.2 1.6-3.1 1.5-2.9 1.5-2.7 1.6-2.6 3-4.6 3.1-4.2 3.1-3.6 3.1-3.2 3-2.7 4.6-3.4 4.7-2.6 4.6-1.9 6.1-1.7 6.2-.8 6.1-.1 7.7.7 7.7 1.4 9.2 2.4 9.2 2.9 10.8 3.7 10.7 4 12.3 4.6 12.3 4.4 13.8 4.7 13.9 4.4 13.8 3.9M361.6 331l1.5-3.8 1.6-3.6 1.5-3.5 1.5-3.4 1.6-3.2 1.5-3.1 1.6-3 1.5-2.8 1.5-2.7 1.6-2.6 3-4.9 3.1-4.4 3.1-4.1 3.1-3.7 3-3.3 4.6-4.4 4.7-3.8 4.6-3.1 6.1-3.4 6.2-2.5 6.1-1.8 7.7-1.4 7.7-.6 9.2.2 9.2.9 10.8 1.9 10.7 2.4 12.3 3.2 12.3 3.6 13.8 4.2 13.9 4.2 13.8 4.2M361.6 331l1.5-7.5 1.6-7 1.5-6.5 1.5-6.2 1.6-5.8 1.5-5.4 1.6-5.1 1.5-4.7 1.5-4.5 1.6-4.1 3-7.5 3.1-6.5 3.1-5.6 3.1-4.9 3-4.1 4.6-5 4.7-3.9 4.6-2.9 6.1-2.5 6.2-1.3 6.1-.5 7.7.5 7.7 1.3 9.2 2.3 9.2 2.9 10.8 3.8 10.7 4 12.3 4.7 12.3 4.7 13.8 5.1 13.9 4.8 13.8 4.6M361.6 331l1.5-3.6 1.6-3.4 1.5-3.2 1.5-3.1 1.6-2.9 1.5-2.7 1.6-2.7 1.5-2.4 1.5-2.4 1.6-2.2 3-4.1 3.1-3.6 3.1-3.2 3.1-2.8 3-2.5 4.6-3.1 4.7-2.4 4.6-1.8 6.1-1.7 6.2-.9 6.1-.2 7.7.4 7.7 1 9.2 1.9 9.2 2.3 10.8 3.1 10.7 3.4 12.3 4 12.3 3.8 13.8 4.2 13.9 3.9 13.8 3.6M361.6 331l1.5-14.4 1.6-12.8 1.5-11.2 1.5-9.8 1.6-8.6 1.5-7.6 1.6-6.6 1.5-5.6 1.5-5 1.6-4.2 3-6.6 3.1-4.6 3.1-3.1 3.1-1.8 3-.8 4.6.1 4.7 1.4 4.6 2.2 6.1 3.8 6.2 4.2 6.1 4.5 7.7 5.6 7.7 5.5 9.2 6.3 9.2 5.9 10.8 6.3 10.7 5.7 12.3 5.8 12.3 5.2 13.8 5.1 13.9 4.5 13.8 3.9M361.6 331l1.5-2.7 1.6-2.6 1.5-2.4 1.5-2.3 1.6-2.1 1.5-2 1.6-1.9 1.5-1.7 1.5-1.7 1.6-1.5 3-2.7 3.1-2.4 3.1-2.1 3.1-1.7 3-1.4 4.6-1.7 4.7-1.2 4.6-.8 6.1-.6 6.2 0 6.1.4 7.7.9 7.7 1.2 9.2 1.8 9.2 2 10.8 2.5 10.7 2.4 12.3 2.7 12.3 2.5 13.8 2.7 13.9 2.3 13.8 2M361.6 331l1.5-5.6 1.6-5.2 1.5-4.8 1.5-4.3 1.6-4 1.5-3.6 1.6-3.3 1.5-2.9 1.5-2.7 1.6-2.4 3-4 3.1-3.1 3.1-2.4 3.1-1.6 3-1.1 4.6-.8 4.7.2 4.6.8 6.1 1.9 6.2 2.5 6.1 2.9 7.7 3.9 7.7 4 9.2 4.6 9.2 4.4 10.8 4.5 10.7 4 12.3 3.8 12.3 3.1 13.8 2.8 13.9 2.1 13.8 1.6M361.6 331l1.5-3.6 1.6-3.5 1.5-3.4 1.5-3.2 1.6-3.2 1.5-3 1.6-2.9 1.5-2.8 1.5-2.7 1.6-2.6 3-4.9 3.1-4.5 3.1-4.2 3.1-3.9 3-3.5 4.6-4.8 4.7-4.2 4.6-3.6 6.1-4.1 6.2-3.3 6.1-2.6 7.7-2.4 7.7-1.6 9.2-.9 9.2-.2 10.8.6 10.7 1.4 12.3 2.1 12.3 2.7 13.8 3.4 13.9 3.6 13.8 3.8M361.6 331l1.5-3.7 1.6-3.6 1.5-3.4 1.5-3.2 1.6-3.2 1.5-3 1.6-2.8 1.5-2.7 1.5-2.7 1.6-2.4 3-4.7 3.1-4.2 3.1-3.8 3.1-3.5 3-3.1 4.6-4 4.7-3.4 4.6-2.8 6.1-2.9 6.2-2 6.1-1.4 7.7-.9 7.7-.1 9.2.7 9.2 1.4 10.8 2.3 10.7 2.8 12.3 3.6 12.3 3.8 13.8 4.4 13.9 4.3 13.8 4.1M361.6 331l1.5-3.8 1.6-3.6 1.5-3.3 1.5-3.1 1.6-2.9 1.5-2.6 1.6-2.5 1.5-2.2 1.5-2.1 1.6-1.9 3-3.4 3.1-2.8 3.1-2.3 3.1-1.8 3-1.5 4.6-1.5 4.7-.8 4.6-.3 6.1.3 6.2 1 6.1 1.3 7.7 2.1 7.7 2.4 9.2 3.1 9.2 3.2 10.8 3.5 10.7 3.3 12.3 3.5 12.3 3 13.8 2.9 13.9 2.5 13.8 2M361.6 331l1.5-9 1.6-8.1 1.5-7.2 1.5-6.4 1.6-5.6 1.5-5 1.6-4.3 1.5-3.8 1.5-3.2 1.6-2.8 3-4.3 3.1-2.8 3.1-1.7 3.1-.6 3 .1 4.6 1.3 4.7 2.3 4.6 3 6.1 4.6 6.2 4.9 6.1 4.9 7.7 5.9 7.7 5.5 9.2 5.8 9.2 5 10.8 4.8 10.7 3.8 12.3 3.4 12.3 2.5 13.8 2.1 13.9 1.5 13.8 1M361.6 331l1.5-3.4 1.6-3.2 1.5-2.9 1.5-2.8 1.6-2.6 1.5-2.4 1.6-2.2 1.5-2.1 1.5-1.9 1.6-1.8 3-3.1 3.1-2.7 3.1-2.2 3.1-1.8 3-1.5 4.6-1.6 4.7-1 4.6-.5 6.1 0 6.2.5 6.1 1 7.7 1.6 7.7 2 9.2 2.6 9.2 2.7 10.8 3.2 10.7 3 12.3 3.2 12.3 2.9 13.8 2.9 13.9 2.4 13.8 2.1M361.6 331l1.5-4.8 1.6-4.5 1.5-4.4 1.5-4.1 1.6-3.9 1.5-3.8 1.6-3.6 1.5-3.4 1.5-3.2 1.6-3.1 3-5.6 3.1-5.1 3.1-4.6 3.1-4.1 3-3.6 4.6-4.6 4.7-3.8 4.6-3.1 6.1-3 6.2-2.1 6.1-1.3 7.7-.5 7.7.2 9.2 1.3 9.2 2 10.8 2.9 10.7 3.4 12.3 4.3 12.3 4.4 13.8 5 13.9 4.8 13.8 4.6M361.6 331l1.5-5.5 1.6-5.2 1.5-4.8 1.5-4.4 1.6-4.1 1.5-3.8 1.6-3.5 1.5-3.2 1.5-3 1.6-2.7 3-4.8 3.1-3.9 3.1-3.2 3.1-2.5 3-1.9 4.6-2 4.7-1 4.6-.2 6.1.7 6.2 1.5 6.1 2.1 7.7 3.3 7.7 3.6 9.2 4.5 9.2 4.6 10.8 5.1 10.7 4.7 12.3 4.9 12.3 4.2 13.8 4 13.9 3.4 13.8 2.7M361.6 331l1.5-11.7 1.6-10.1 1.5-8.9 1.5-7.7 1.6-6.6 1.5-5.7 1.6-4.8 1.5-4 1.5-3.4 1.6-2.7 3-3.8 3.1-2 3.1-.7 3.1.5 3 1.2 4.6 3 4.7 3.9 4.6 4.4 6.1 6.1 6.2 6.1 6.1 5.7 7.7 6.6 7.7 5.7 9.2 5.9 9.2 4.8 10.8 4.4 10.7 3.4 12.3 2.9 12.3 2.1 13.8 1.7 13.9 1.1 13.8.8M361.6 331l1.5-8.5 1.6-7.5 1.5-6.8 1.5-6.1 1.6-5.4 1.5-4.8 1.6-4.2 1.5-3.7 1.5-3.2 1.6-2.7 3-4.4 3.1-3 3.1-1.8 3.1-.9 3-.2 4.6.9 4.7 1.9 4.6 2.6 6.1 4.2 6.2 4.6 6.1 4.6 7.7 5.7 7.7 5.4 9.2 5.7 9.2 5 10.8 4.9 10.7 3.9 12.3 3.5 12.3 2.7 13.8 2.2 13.9 1.6 13.8 1.2M361.6 331l1.5-11.4 1.6-10.1 1.5-8.9 1.5-7.7 1.6-6.8 1.5-5.9 1.6-5 1.5-4.3 1.5-3.7 1.6-3 3-4.5 3.1-2.8 3.1-1.4 3.1-.2 3 .6 4.6 2.2 4.7 3.2 4.6 3.8 6.1 5.6 6.2 5.8 6.1 5.7 7.7 6.6 7.7 6.1 9.2 6.3 9.2 5.4 10.8 5.1 10.7 4.2 12.3 3.6 12.3 2.9 13.8 2.3 13.9 1.7 13.8 1.3M361.6 331l1.5-3.3 1.6-3.2 1.5-2.9 1.5-2.8 1.6-2.5 1.5-2.4 1.6-2.3 1.5-2.1 1.5-2 1.6-1.8 3-3.2 3.1-2.8 3.1-2.3 3.1-2 3-1.6 4.6-1.8 4.7-1.3 4.6-.7 6.1-.3 6.2.3 6.1.7 7.7 1.4 7.7 1.8 9.2 2.5 9.2 2.7 10.8 3.1 10.7 3.1 12.3 3.3 12.3 3.1 13.8 3 13.9 2.7 13.8 2.3M361.6 331l1.5-13.7 1.6-10.9 1.5-8.6 1.5-6.6 1.6-5 1.5-3.5 1.6-2.4 1.5-1.4 1.5-.6 1.6.1 3 1.5 3.1 2.9 3.1 3.7 3.1 4 3 4.1 4.6 6 4.7 5.4 4.6 4.7 6.1 5.2 6.2 4 6.1 3.1 7.7 2.7 7.7 1.9 9.2 1.4 9.2.8 10.8.6 10.7.3 12.3.1 12.3.1 13.8.1 13.9 0 13.8 0M361.6 331l1.5-14.4 1.6-11.5 1.5-9.1 1.5-7.1 1.6-5.3 1.5-3.8 1.6-2.6 1.5-1.6 1.5-.7 1.6 0 3 1.5 3.1 2.9 3.1 3.7 3.1 4.2 3 4.3 4.6 6.3 4.7 5.8 4.6 5 6.1 5.6 6.2 4.4 6.1 3.3 7.7 3 7.7 2.1 9.2 1.6 9.2 1 10.8.6 10.7.4 12.3.2 12.3.1 13.8.1 13.9 0 13.8 0M361.6 331l1.5-14.1 1.6-11.4 1.5-9.1 1.5-7.1 1.6-5.4 1.5-4 1.6-2.7 1.5-1.8 1.5-.9 1.6-.3 3 1.2 3.1 2.6 3.1 3.5 3.1 4 3 4.2 4.6 6.2 4.7 5.8 4.6 5.2 6.1 5.7 6.2 4.6 6.1 3.6 7.7 3.3 7.7 2.2 9.2 1.8 9.2 1.2 10.8.7 10.7.5 12.3.2 12.3.2 13.8 0 13.9.1 13.8 0M361.6 331l1.5-12.8 1.6-10.5 1.5-8.4 1.5-6.7 1.6-5.3 1.5-3.9 1.6-2.9 1.5-1.9 1.5-1.2 1.6-.5 3 .5 3.1 1.9 3.1 2.9 3.1 3.5 3 3.7 4.6 5.7 4.7 5.4 4.6 5 6.1 5.7 6.2 4.7 6.1 3.7 7.7 3.4 7.7 2.5 9.2 2 9.2 1.3 10.8 1 10.7.5 12.3.3 12.3.2 13.8.1 13.9.1 13.8 0M361.6 331l1.5-13 1.6-10.6 1.5-8.6 1.5-6.7 1.6-5.3 1.5-4 1.6-2.9 1.5-1.9 1.5-1.2 1.6-.5 3 .6 3.1 2 3.1 2.9 3.1 3.6 3 3.8 4.6 5.7 4.7 5.5 4.6 5 6.1 5.8 6.2 4.7 6.1 3.7 7.7 3.5 7.7 2.4 9.2 2.1 9.2 1.3 10.8.9 10.7.5 12.3.3 12.3.2 13.8.1 13.9.1 13.8 0M361.6 331l1.5-14.3 1.6-11.6 1.5-9 1.5-7.1 1.6-5.3 1.5-3.8 1.6-2.6 1.5-1.7 1.5-.7 1.6-.1 3 1.4 3.1 2.9 3.1 3.7 3.1 4.2 3 4.3 4.6 6.2 4.7 5.8 4.6 5.1 6.1 5.6 6.2 4.4 6.1 3.4 7.7 3 7.7 2.1 9.2 1.6 9.2 1 10.8.7 10.7.4 12.3.2 12.3.1 13.8.1 13.9 0 13.8 0M361.6 331l1.5-12.2 1.6-10 1.5-8.1 1.5-6.3 1.6-5 1.5-3.7 1.6-2.7 1.5-1.8 1.5-1.1 1.6-.5 3 .6 3.1 1.9 3.1 2.8 3.1 3.3 3 3.6 4.6 5.4 4.7 5.2 4.6 4.7 6.1 5.4 6.2 4.4 6.1 3.5 7.7 3.2 7.7 2.4 9.2 1.8 9.2 1.2 10.8.9 10.7.5 12.3.3 12.3.1 13.8.1 13.9.1 13.8 0M361.6 331l1.5-14.2 1.6-11.4 1.5-8.9 1.5-6.9 1.6-5.2 1.5-3.8 1.6-2.5 1.5-1.6 1.5-.7 1.6 0 3 1.5 3.1 2.9 3.1 3.8 3.1 4.1 3 4.3 4.6 6.2 4.7 5.6 4.6 5 6.1 5.5 6.2 4.3 6.1 3.2 7.7 3 7.7 2 9.2 1.5 9.2.9 10.8.7 10.7.3 12.3.2 12.3.1 13.8.1 13.9 0 13.8 0" class="gr"/>
<path d="M361.6 331l2.3-12.8 2.3-10.6 2.3-8.9 2.3-7.3 2.3-5.9 2.3-4.8 2.3-3.7 2.3-2.9 2.3-2.2 2.4-1.6 2.3-1 2.3-.5 2.3-.2 2.3.2 2.3.4 2.3.6 2.3.8 2.3 1 2.3 1.1 2.3 1.2 2.3 1.2 2.3 1.3 2.3 1.4 2.3 1.4 2.3 1.4 2.3 1.3 2.3 1.4 2.3 1.4 2.3 1.4 2.4 1.3 2.3 1.4 2.3 1.2 2.3 1.3 2.3 1.2 2.3 1.3 2.3 1.1 2.3 1.2 2.3 1.1 2.3 1 2.3 1.1 2.3 1 2.3 1 2.3.9 2.3.9 2.3.9 2.3.8 2.3.9 2.3.8 2.3.7 2.3.8 2.4.7 2.3.7 2.3.6 2.3.7 2.3.6 2.3.6 2.3.6 2.3.5 2.3.5 2.3.6 2.3.5 2.3.4 2.3.5 2.3.5 2.3.4 2.3.4 2.3.4 2.3.4 2.3.4 2.4.4 2.3.3 2.3.4 2.3.3 2.3.3 2.3.4 2.3.3 2.3.3 2.3.2 2.3.3 2.3.3" class="bk"/>
<path d="M361.6 331l3.1-21.9 3-16.5 3.1-12.5 3.1-9.7 3.1-7.4 3-5.8 3.1-4.6 3.1-3.5 3.1-2.7 3-2 3.1-1.5 3.1-1 3.1-.7 3-.3 3.1-.1 3.1.2 3 .4 3.1.5 3.1.6 3.1.8 3 .9 3.1.9 3.1 1 3.1 1.1 3 1.1 3.1 1.1 3.1 1.2 3.1 1.2 3 1.2 3.1 1.2 3.1 1.2 3 1.3 3.1 1.2 3.1 1.2 3.1 1.2 3 1.2 3.1 1.2 3.1 1.2 3.1 1.1 3 1.2 3.1 1.1 3.1 1.1 3.1 1.1 3 1.1 3.1 1.1 3.1 1.1 3 1 3.1 1 3.1 1 3.1 1 3 1 3.1 1 3.1.9 3.1.9 3 1 3.1.9 3.1.8 3.1.9 3 .9 3.1.8" class="cg"/>
<path d="M361.6 331l3.1-7.2 3-6.5 3.1-5.5 3.1-4.5 3.1-3.6 3-2.7 3.1-1.9 3.1-1.2 3.1-.6 3-.1 3.1.2 3.1.6 3.1.8 3 1 3.1 1.1 3.1 1.2 3 1.3 3.1 1.3 3.1 1.3 3.1 1.4 3 1.2 3.1 1.3 3.1 1.2 3.1 1.2 3 1.1 3.1 1.1 3.1 1 3.1 1 3 .9 3.1.9 3.1.8 3 .7 3.1.8 3.1.6 3.1.7 3 .6 3.1.5 3.1.6 3.1.4 3 .5 3.1.4 3.1.4 3.1.4 3 .4 3.1.3 3.1.3 3 .3 3.1.3 3.1.2 3.1.2 3 .3 3.1.2 3.1.1 3.1.2 3 .2 3.1.1 3.1.2 3.1.1 3 .1 3.1.2" class="cg"/>
<path d="M361.6 331l3.1-26.2 3-15.6 3.1-12.8 3.1-10.5 3.1-8.5 3-7 3.1-5.6 3.1-4.6 3.1-3.6 3-2.8 3.1-2.2 3.1-1.7 3.1-1.3 3-.9 3.1-.6 3.1-.4 3-.1 3.1 0 3.1.2 3.1.2 3 .4 3.1.5 3.1.5 3.1.5 3 .6 3.1.7 3.1.6 3.1.7 3 .7 3.1.7 3.1.8 3 .7 3.1.7 3.1.8 3.1.7 3 .7 3.1.8 3.1.7 3.1.8 3 .7 3.1.7 3.1.7 3.1.8 3 .7 3.1.7 3.1.7 3 .7 3.1.7 3.1.7 3.1.7 3 .6 3.1.7 3.1.7 3.1.6 3 .7 3.1.7 3.1.6 3.1.7 3 .6 3.1.6" class="cr"/>
<path d="M361.6 331l3.1-5.3 3-4.8 3.1-4.3 3.1-3.6 3.1-2.9 3-2.4 3.1-1.8 3.1-1.3 3.1-.8 3-.4 3.1-.1 3.1.2 3.1.4 3 .6 3.1.8 3.1.8 3 1 3.1 1 3.1 1.1 3.1 1.1 3 1 3.1 1.1 3.1 1 3.1 1.1 3 1 3.1.9 3.1.9 3.1.9 3 .9 3.1.7 3.1.8 3 .7 3.1.7 3.1.6 3.1.6 3 .5 3.1.5 3.1.5 3.1.5 3 .4 3.1.4 3.1.4 3.1.3 3 .3 3.1.3 3.1.3 3 .2 3.1.3 3.1.2 3.1.2 3 .2 3.1.1 3.1.2 3.1.2 3 .1 3.1.1 3.1.1 3.1.1 3 .1 3.1.1" class="cr"/>
<path d="M361.6 331l3.1-33.9 3-14.9 3.1-12.3 3.1-10 3.1-8.3 3-6.7 3.1-5.5 3.1-4.5 3.1-3.7 3-3 3.1-2.5 3.1-2 3.1-1.6 3-1.3 3.1-1.1 3.1-.9 3-.7 3.1-.5 3.1-.4 3.1-.4 3-.3 3.1-.2 3.1-.1 3.1-.1 3-.1 3.1-.1 3.1 0 3.1 0 3 0 3.1 0 3.1.1 3 0 3.1.1 3.1 0 3.1.1 3 0 3.1.1 3.1.1 3.1 0 3 .1 3.1.1 3.1.1 3.1 0 3 .1 3.1.1 3.1.1 3 0 3.1.1 3.1.1 3.1.1 3 .1 3.1 0 3.1.1 3.1.1 3 .1 3.1.1 3.1 0 3.1.1 3 .1 3.1.1" class="cb"/>
<path d="M361.6 331l3.1-3.2 3-3.4 3.1-3.4 3.1-3.1 3.1-2.7 3-2.3 3.1-1.8 3.1-1.3 3.1-.9 3-.4 3.1-.2 3.1.2 3.1.4 3 .6 3.1.8 3.1.9 3 .9 3.1 1.1 3.1 1 3.1 1.1 3 1.1 3.1 1 3.1 1.1 3.1.9 3 1 3.1.9 3.1.8 3.1.8 3 .7 3.1.7 3.1.6 3 .6 3.1.6 3.1.4 3.1.5 3 .4 3.1.4 3.1.3 3.1.3 3 .3 3.1.2 3.1.3 3.1.2 3 .1 3.1.2 3.1.2 3 .1 3.1.1 3.1.1 3.1.1 3 .1 3.1 0 3.1.1 3.1.1 3 0 3.1.1 3.1 0 3.1 0 3 .1 3.1 0" class="cb"/>
</g>
<rect x="57.4" y="400.3" width="184.6" height="141.7" fill="none" stroke="#b4b4b4" stroke-width="1"/>
<path d="M57.4 542.0h1.8M242.0 542.0h-1.8M57.4 513.7h1.8M242.0 513.7h-1.8M57.4 485.3h1.8M242.0 485.3h-1.8M57.4 457.0h1.8M242.0 457.0h-1.8M57.4 428.6h1.8M242.0 428.6h-1.8M57.4 400.3h1.8M242.0 400.3h-1.8M134.3 542.0v-1.8M134.3 400.3v1.8M211.2 542.0v-1.8M211.2 400.3v1.8" stroke="#b4b4b4" stroke-width=".8" fill="none"/>
<text x="53.0" y="546.1" class="tk" text-anchor="end">0</text>
<text x="53.0" y="517.8" class="tk" text-anchor="end">20</text>
<text x="53.0" y="489.4" class="tk" text-anchor="end">40</text>
<text x="53.0" y="461.1" class="tk" text-anchor="end">60</text>
<text x="53.0" y="432.7" class="tk" text-anchor="end">80</text>
<text x="53.0" y="404.4" class="tk" text-anchor="end">100</text>
<text x="134.3" y="558.4" class="tk" text-anchor="middle">50</text>
<text x="211.2" y="558.4" class="tk" text-anchor="middle">100</text>
<text x="150.2" y="576.0" class="al" text-anchor="middle">Time (hrs)</text>
<text transform="translate(22.1 471.1) rotate(-90)" class="yl" text-anchor="middle">LTR<tspan font-size="10" dy="3.5">A</tspan><tspan dy="-3.5"> (%)</tspan></text>
<g clip-path="url(#clipe)">
<path d="M57.4 542l1.5 0 1.6-.1 1.5-.2 1.6-.1 1.5-.3 1.5-.3 1.6-.3 1.5-.4 1.5-.4 1.6-.4 3.1-1 3-1.1 3.1-1.3 3.1-1.4 3.1-1.4 4.6-2.3 4.6-2.5 4.6-2.7 6.2-3.6 6.1-3.8 6.2-3.9 7.7-5 7.7-4.9 9.2-5.9 9.2-5.8 10.8-6.6 10.8-6.2 12.3-6.9 12.3-6.3 13.8-6.7 13.9-6.1 13.8-5.5M57.4 542l1.5 0 1.6-.2 1.5-.2 1.6-.4 1.5-.4 1.5-.4 1.6-.6 1.5-.6 1.5-.7 1.6-.8 3.1-1.6 3-1.9 3.1-2 3.1-2.2 3.1-2.3 4.6-3.7 4.6-3.9 4.6-4 6.2-5.5 6.1-5.6 6.2-5.5 7.7-6.9 7.7-6.7 9.2-7.8 9.2-7.3 10.8-7.9 10.8-7.3 12.3-7.5 12.3-6.7 13.8-6.5 13.9-5.7 13.8-4.8M57.4 542l1.5-.1 1.6-.2 1.5-.4 1.6-.5 1.5-.6 1.5-.7 1.6-.8 1.5-1 1.5-1 1.6-1.1 3.1-2.4 3-2.7 3.1-2.8 3.1-3.1 3.1-3.2 4.6-4.9 4.6-5.1 4.6-5.2 6.2-6.9 6.1-6.8 6.2-6.6 7.7-7.9 7.7-7.5 9.2-8.3 9.2-7.5 10.8-7.9 10.8-6.9 12.3-6.8 12.3-5.7 13.8-5.4 13.9-4.3 13.8-3.5M57.4 542l1.5-.1 1.6-.4 1.5-.6 1.6-.8 1.5-1 1.5-1.2 1.6-1.3 1.5-1.5 1.5-1.5 1.6-1.7 3.1-3.7 3-4 3.1-4.2 3.1-4.4 3.1-4.4 4.6-6.8 4.6-6.8 4.6-6.7 6.2-8.7 6.1-8.1 6.2-7.7 7.7-8.8 7.7-7.9 9.2-8.3 9.2-7 10.8-7 10.8-5.6 12.3-5.1 12.3-4 13.8-3.3 13.9-2.5 13.8-1.9M57.4 542l1.5-.1 1.6-.3 1.5-.4 1.6-.6 1.5-.7 1.5-.9 1.6-.9 1.5-1.1 1.5-1.2 1.6-1.3 3.1-2.7 3-3.1 3.1-3.3 3.1-3.4 3.1-3.6 4.6-5.6 4.6-5.7 4.6-5.7 6.2-7.5 6.1-7.4 6.2-7.1 7.7-8.4 7.7-7.8 9.2-8.5 9.2-7.6 10.8-7.8 10.8-6.6 12.3-6.4 12.3-5.2 13.8-4.7 13.9-3.7 13.8-2.9M57.4 542l1.5-.2 1.6-.6 1.5-1 1.6-1.2 1.5-1.6 1.5-1.7 1.6-2 1.5-2.2 1.5-2.3 1.6-2.4 3.1-5.1 3-5.5 3.1-5.6 3.1-5.6 3.1-5.7 4.6-8.3 4.6-8 4.6-7.6 6.2-9.4 6.1-8.5 6.2-7.6 7.7-8.3 7.7-7.1 9.2-7 9.2-5.6 10.8-5.2 10.8-4 12.3-3.4 12.3-2.5 13.8-2 13.9-1.4 13.8-1M57.4 542l1.5 0 1.6-.1 1.5-.1 1.6-.2 1.5-.2 1.5-.3 1.6-.3 1.5-.3 1.5-.4 1.6-.4 3.1-1 3-1 3.1-1.2 3.1-1.3 3.1-1.3 4.6-2.2 4.6-2.4 4.6-2.5 6.2-3.5 6.1-3.6 6.2-3.7 7.7-4.8 7.7-4.8 9.2-5.7 9.2-5.7 10.8-6.4 10.8-6.2 12.3-6.8 12.3-6.3 13.8-6.7 13.9-6.2 13.8-5.6M57.4 542l1.5 0 1.6-.1 1.5-.1 1.6-.2 1.5-.3 1.5-.3 1.6-.3 1.5-.3 1.5-.5 1.6-.4 3.1-1 3-1.1 3.1-1.3 3.1-1.3 3.1-1.5 4.6-2.3 4.6-2.5 4.6-2.7 6.2-3.7 6.1-3.8 6.2-3.9 7.7-5 7.7-5 9.2-6 9.2-5.9 10.8-6.6 10.8-6.4 12.3-6.9 12.3-6.5 13.8-6.7 13.9-6.2 13.8-5.7M57.4 542l1.5-.2 1.6-.6 1.5-.9 1.6-1.2 1.5-1.5 1.5-1.7 1.6-1.9 1.5-2.1 1.5-2.2 1.6-2.3 3.1-5 3-5.3 3.1-5.4 3.1-5.6 3.1-5.5 4.6-8.2 4.6-7.9 4.6-7.6 6.2-9.3 6.1-8.6 6.2-7.6 7.7-8.4 7.7-7.2 9.2-7.1 9.2-5.9 10.8-5.3 10.8-4.2 12.3-3.5 12.3-2.6 13.8-2.1 13.9-1.5 13.8-1M57.4 542l1.5-.1 1.6-.1 1.5-.3 1.6-.5 1.5-.5 1.5-.6 1.6-.6 1.5-.8 1.5-.9 1.6-.9 3.1-2 3-2.2 3.1-2.4 3.1-2.6 3.1-2.7 4.6-4.3 4.6-4.4 4.6-4.5 6.2-6.1 6.1-6.1 6.2-5.9 7.7-7.3 7.7-7 9.2-7.9 9.2-7.3 10.8-7.8 10.8-7 12.3-7.1 12.3-6.1 13.8-6 13.9-5 13.8-4.2M57.4 542l1.5-.1 1.6-.2 1.5-.4 1.6-.5 1.5-.7 1.5-.8 1.6-.8 1.5-1 1.5-1.1 1.6-1.2 3.1-2.5 3-2.8 3.1-3 3.1-3.2 3.1-3.3 4.6-5.2 4.6-5.3 4.6-5.4 6.2-7.1 6.1-7 6.2-6.8 7.7-8.1 7.7-7.6 9.2-8.4 9.2-7.6 10.8-7.9 10.8-6.8 12.3-6.6 12.3-5.6 13.8-5.1 13.9-4.1 13.8-3.3M57.4 542l1.5-.1 1.6-.2 1.5-.4 1.6-.5 1.5-.6 1.5-.7 1.6-.9 1.5-.9 1.5-1.1 1.6-1.1 3.1-2.4 3-2.7 3.1-2.9 3.1-3.1 3.1-3.2 4.6-5 4.6-5.1 4.6-5.3 6.2-6.9 6.1-6.9 6.2-6.6 7.7-8 7.7-7.5 9.2-8.3 9.2-7.6 10.8-7.9 10.8-6.9 12.3-6.7 12.3-5.7 13.8-5.3 13.9-4.3 13.8-3.5M57.4 542l1.5-.4 1.6-1.1 1.5-1.8 1.6-2.3 1.5-2.7 1.5-3.1 1.6-3.3 1.5-3.6 1.5-3.8 1.6-3.8 3.1-8 3-8.1 3.1-8 3.1-7.7 3.1-7.4 4.6-10.4 4.6-9.3 4.6-8.3 6.2-9.5 6.1-7.9 6.2-6.4 7.7-6.4 7.7-4.8 9.2-4.2 9.2-3 10.8-2.3 10.8-1.5 12.3-1 12.3-.7 13.8-.4 13.9-.2 13.8-.2M57.4 542l1.5-.2 1.6-.8 1.5-1.1 1.6-1.4 1.5-1.7 1.5-2 1.6-2.3 1.5-2.4 1.5-2.5 1.6-2.7 3.1-5.7 3-5.9 3.1-6 3.1-6 3.1-5.9 4.6-8.7 4.6-8.2 4.6-7.7 6.2-9.4 6.1-8.4 6.2-7.4 7.7-8 7.7-6.6 9.2-6.6 9.2-5.1 10.8-4.7 10.8-3.6 12.3-3 12.3-2.2 13.8-1.7 13.9-1.2 13.8-.8M57.4 542l1.5-.1 1.6-.2 1.5-.3 1.6-.4 1.5-.6 1.5-.6 1.6-.7 1.5-.8 1.5-.9 1.6-1 3.1-2.1 3-2.4 3.1-2.6 3.1-2.7 3.1-2.9 4.6-4.4 4.6-4.7 4.6-4.7 6.2-6.3 6.1-6.4 6.2-6.2 7.7-7.5 7.7-7.1 9.2-8.1 9.2-7.4 10.8-7.9 10.8-7 12.3-7 12.3-6.1 13.8-5.8 13.9-4.8 13.8-4M57.4 542l1.5-.1 1.6-.4 1.5-.6 1.6-.8 1.5-.9 1.5-1.2 1.6-1.2 1.5-1.4 1.5-1.5 1.6-1.6 3.1-3.5 3-3.7 3.1-3.9 3.1-4.1 3.1-4.1 4.6-6.2 4.6-6.2 4.6-6.1 6.2-7.8 6.1-7.4 6.2-7 7.7-8.1 7.7-7.2 9.2-7.8 9.2-6.8 10.8-6.8 10.8-5.8 12.3-5.5 12.3-4.4 13.8-4.1 13.9-3.2 13.8-2.6M57.4 542l1.5 0 1.6-.1 1.5-.1 1.6-.2 1.5-.3 1.5-.2 1.6-.4 1.5-.3 1.5-.4 1.6-.5 3.1-.9 3-1.2 3.1-1.2 3.1-1.3 3.1-1.5 4.6-2.3 4.6-2.4 4.6-2.7 6.2-3.6 6.1-3.8 6.2-3.8 7.7-5 7.7-4.9 9.2-5.9 9.2-5.9 10.8-6.6 10.8-6.3 12.3-6.9 12.3-6.4 13.8-6.7 13.9-6.2 13.8-5.6M57.4 542l1.5-.2 1.6-.4 1.5-.7 1.6-.9 1.5-1.1 1.5-1.3 1.6-1.5 1.5-1.6 1.5-1.8 1.6-1.8 3.1-4 3-4.3 3.1-4.5 3.1-4.6 3.1-4.7 4.6-7.1 4.6-7 4.6-6.8 6.2-8.7 6.1-8.2 6.2-7.5 7.7-8.5 7.7-7.6 9.2-7.9 9.2-6.7 10.8-6.4 10.8-5.3 12.3-4.7 12.3-3.7 13.8-3.2 13.9-2.3 13.8-1.8M57.4 542l1.5-.1 1.6-.3 1.5-.5 1.6-.6 1.5-.8 1.5-.9 1.6-1 1.5-1.1 1.5-1.2 1.6-1.3 3.1-2.8 3-2.9 3.1-3.1 3.1-3.2 3.1-3.3 4.6-4.9 4.6-5 4.6-4.9 6.2-6.3 6.1-6.1 6.2-5.8 7.7-6.9 7.7-6.3 9.2-7 9.2-6.4 10.8-6.7 10.8-5.9 12.3-6 12.3-5.2 13.8-5.1 13.9-4.3 13.8-3.7M57.4 542l1.5-.1 1.6-.1 1.5-.3 1.6-.4 1.5-.5 1.5-.6 1.6-.6 1.5-.8 1.5-.8 1.6-.9 3.1-1.9 3-2.2 3.1-2.3 3.1-2.5 3.1-2.7 4.6-4.1 4.6-4.3 4.6-4.4 6.2-5.9 6.1-6 6.2-5.9 7.7-7.1 7.7-6.9 9.2-7.8 9.2-7.3 10.8-7.8 10.8-7 12.3-7.1 12.3-6.2 13.8-6 13.9-5.2 13.8-4.3M57.4 542l1.5-.1 1.6-.2 1.5-.5 1.6-.5 1.5-.7 1.5-.9 1.6-.9 1.5-1.1 1.5-1.1 1.6-1.2 3.1-2.7 3-3 3.1-3.2 3.1-3.4 3.1-3.5 4.6-5.4 4.6-5.5 4.6-5.6 6.2-7.4 6.1-7.3 6.2-6.9 7.7-8.3 7.7-7.7 9.2-8.5 9.2-7.6 10.8-7.7 10.8-6.7 12.3-6.4 12.3-5.4 13.8-4.8 13.9-3.9 13.8-3M57.4 542l1.5-.3 1.6-.8 1.5-1.4 1.6-1.7 1.5-2.1 1.5-2.3 1.6-2.7 1.5-2.8 1.5-3 1.6-3.1 3.1-6.6 3-6.7 3.1-6.9 3.1-6.7 3.1-6.7 4.6-9.5 4.6-8.8 4.6-8.2 6.2-9.8 6.1-8.4 6.2-7.3 7.7-7.5 7.7-6.1 9.2-5.7 9.2-4.3 10.8-3.7 10.8-2.6 12.3-2 12.3-1.4 13.8-1 13.9-.6 13.8-.4M57.4 542l1.5-.1 1.6-.1 1.5-.3 1.6-.4 1.5-.5 1.5-.6 1.6-.7 1.5-.8 1.5-.8 1.6-.9 3.1-2 3-2.2 3.1-2.4 3.1-2.5 3.1-2.7 4.6-4.2 4.6-4.4 4.6-4.5 6.2-6.1 6.1-6 6.2-6 7.7-7.3 7.7-6.9 9.2-7.9 9.2-7.4 10.8-7.8 10.8-7.1 12.3-7.1 12.3-6.2 13.8-6 13.9-5.1 13.8-4.2M57.4 542l1.5 0 1.6-.1 1.5-.2 1.6-.2 1.5-.3 1.5-.3 1.6-.4 1.5-.4 1.5-.5 1.6-.5 3.1-1.2 3-1.3 3.1-1.4 3.1-1.6 3.1-1.6 4.6-2.7 4.6-2.7 4.6-3 6.2-4 6.1-4.1 6.2-4.3 7.7-5.2 7.7-5.3 9.2-6.2 9.2-6 10.8-6.8 10.8-6.4 12.3-6.8 12.3-6.4 13.8-6.5 13.9-5.9 13.8-5.4M57.4 542l1.5-.2 1.6-.7 1.5-1.1 1.6-1.4 1.5-1.7 1.5-1.9 1.6-2.2 1.5-2.3 1.5-2.5 1.6-2.6 3.1-5.6 3-5.7 3.1-5.9 3.1-6 3.1-5.8 4.6-8.6 4.6-8.2 4.6-7.6 6.2-9.4 6.1-8.4 6.2-7.5 7.7-8 7.7-6.8 9.2-6.6 9.2-5.3 10.8-4.8 10.8-3.7 12.3-3.1 12.3-2.3 13.8-1.8 13.9-1.2 13.8-.9M57.4 542l1.5-.1 1.6-.3 1.5-.4 1.6-.6 1.5-.8 1.5-.9 1.6-1 1.5-1.1 1.5-1.3 1.6-1.3 3.1-2.9 3-3.2 3.1-3.4 3.1-3.6 3.1-3.7 4.6-5.7 4.6-5.8 4.6-5.8 6.2-7.7 6.1-7.5 6.2-7.2 7.7-8.4 7.7-7.8 9.2-8.5 9.2-7.5 10.8-7.6 10.8-6.5 12.3-6.2 12.3-5.1 13.8-4.5 13.9-3.6 13.8-2.7M57.4 542l1.5 0 1.6 0 1.5 0 1.6-.1 1.5 0 1.5-.1 1.6 0 1.5-.1 1.5-.1 1.6-.1 3.1-.2 3-.2 3.1-.3 3.1-.3 3.1-.3 4.6-.5 4.6-.5 4.6-.7 6.2-.8 6.1-1 6.2-1 7.7-1.4 7.7-1.4 9.2-1.7 9.2-1.9 10.8-2.2 10.8-2.3 12.3-2.7 12.3-2.7 13.8-3 13.9-3.1 13.8-3M57.4 542l1.5-.1 1.6-.5 1.5-.6 1.6-.9 1.5-1.1 1.5-1.3 1.6-1.4 1.5-1.6 1.5-1.7 1.6-1.8 3.1-3.9 3-4.3 3.1-4.4 3.1-4.6 3.1-4.7 4.6-7.2 4.6-7 4.6-7 6.2-8.8 6.1-8.4 6.2-7.7 7.7-8.8 7.7-7.8 9.2-8.1 9.2-6.8 10.8-6.6 10.8-5.4 12.3-4.7 12.3-3.7 13.8-3 13.9-2.2 13.8-1.6M57.4 542l1.5 0 1.6-.2 1.5-.2 1.6-.3 1.5-.4 1.5-.5 1.6-.5 1.5-.6 1.5-.7 1.6-.7 3.1-1.5 3-1.8 3.1-1.9 3.1-2 3.1-2.1 4.6-3.3 4.6-3.4 4.6-3.5 6.2-4.8 6.1-4.8 6.2-4.8 7.7-5.9 7.7-5.7 9.2-6.5 9.2-6.3 10.8-6.8 10.8-6.3 12.3-6.6 12.3-6 13.8-6.1 13.9-5.4 13.8-4.8M57.4 542l1.5-.1 1.6-.3 1.5-.5 1.6-.7 1.5-.8 1.5-.9 1.6-1.1 1.5-1.2 1.5-1.4 1.6-1.4 3.1-3.1 3-3.4 3.1-3.6 3.1-3.8 3.1-3.9 4.6-6 4.6-6.1 4.6-6.1 6.2-8 6.1-7.7 6.2-7.3 7.7-8.6 7.7-7.9 9.2-8.5 9.2-7.5 10.8-7.5 10.8-6.3 12.3-5.9 12.3-4.7 13.8-4.3 13.9-3.2 13.8-2.5M57.4 542l1.5-.2 1.6-.6 1.5-.9 1.6-1.1 1.5-1.5 1.5-1.6 1.6-1.9 1.5-2 1.5-2.2 1.6-2.3 3.1-4.9 3-5.2 3.1-5.4 3.1-5.5 3.1-5.5 4.6-8.1 4.6-7.9 4.6-7.5 6.2-9.3 6.1-8.5 6.2-7.7 7.7-8.4 7.7-7.3 9.2-7.2 9.2-5.9 10.8-5.5 10.8-4.2 12.3-3.6 12.3-2.7 13.8-2.1 13.9-1.6 13.8-1M57.4 542l1.5 0 1.6-.1 1.5-.1 1.6-.1 1.5-.2 1.5-.2 1.6-.3 1.5-.3 1.5-.3 1.6-.3 3.1-.8 3-.9 3.1-.9 3.1-1.1 3.1-1.1 4.6-1.8 4.6-1.9 4.6-2 6.2-2.8 6.1-2.9 6.2-3 7.7-3.8 7.7-3.9 9.2-4.7 9.2-4.5 10.8-5.3 10.8-5.1 12.3-5.7 12.3-5.4 13.8-5.7 13.9-5.4 13.8-5M57.4 542l1.5 0 1.6-.1 1.5-.2 1.6-.2 1.5-.3 1.5-.4 1.6-.4 1.5-.4 1.5-.5 1.6-.6 3.1-1.2 3-1.4 3.1-1.5 3.1-1.7 3.1-1.8 4.6-2.8 4.6-3 4.6-3.2 6.2-4.4 6.1-4.6 6.2-4.6 7.7-5.8 7.7-5.8 9.2-6.9 9.2-6.6 10.8-7.4 10.8-7 12.3-7.5 12.3-6.9 13.8-6.9 13.9-6.3 13.8-5.5M57.4 542l1.5-.1 1.6-.2 1.5-.3 1.6-.4 1.5-.5 1.5-.6 1.6-.7 1.5-.7 1.5-.8 1.6-.9 3.1-1.9 3-2 3.1-2.2 3.1-2.3 3.1-2.3 4.6-3.6 4.6-3.6 4.6-3.7 6.2-4.8 6.1-4.8 6.2-4.6 7.7-5.6 7.7-5.4 9.2-6.1 9.2-5.7 10.8-6.2 10.8-5.7 12.3-6 12.3-5.4 13.8-5.6 13.9-5 13.8-4.4M57.4 542l1.5 0 1.6-.2 1.5-.2 1.6-.3 1.5-.4 1.5-.4 1.6-.5 1.5-.6 1.5-.6 1.6-.6 3.1-1.5 3-1.6 3.1-1.8 3.1-1.9 3.1-2 4.6-3.1 4.6-3.2 4.6-3.4 6.2-4.5 6.1-4.6 6.2-4.5 7.7-5.6 7.7-5.5 9.2-6.3 9.2-6 10.8-6.6 10.8-6.2 12.3-6.5 12.3-5.9 13.8-6.1 13.9-5.4 13.8-4.9M57.4 542l1.5 0 1.6-.1 1.5-.2 1.6-.2 1.5-.2 1.5-.3 1.6-.4 1.5-.4 1.5-.4 1.6-.5 3.1-1.1 3-1.2 3.1-1.3 3.1-1.5 3.1-1.5 4.6-2.5 4.6-2.7 4.6-2.8 6.2-3.9 6.1-4 6.2-4.1 7.7-5.2 7.7-5.3 9.2-6.2 9.2-6 10.8-6.9 10.8-6.5 12.3-7.1 12.3-6.5 13.8-6.8 13.9-6.1 13.8-5.6M57.4 542l1.5 0 1.6-.1 1.5-.2 1.6-.2 1.5-.3 1.5-.3 1.6-.4 1.5-.4 1.5-.4 1.6-.5 3.1-1.2 3-1.2 3.1-1.4 3.1-1.5 3.1-1.5 4.6-2.5 4.6-2.6 4.6-2.8 6.2-3.7 6.1-3.9 6.2-3.9 7.7-4.9 7.7-4.8 9.2-5.8 9.2-5.5 10.8-6.2 10.8-5.9 12.3-6.4 12.3-5.9 13.8-6.1 13.9-5.7 13.8-5.1M57.4 542l1.5 0 1.6-.1 1.5-.1 1.6-.2 1.5-.2 1.5-.2 1.6-.3 1.5-.3 1.5-.3 1.6-.4 3.1-.9 3-.9 3.1-1.1 3.1-1.2 3.1-1.3 4.6-2.1 4.6-2.2 4.6-2.3 6.2-3.3 6.1-3.5 6.2-3.6 7.7-4.6 7.7-4.7 9.2-5.6 9.2-5.7 10.8-6.4 10.8-6.2 12.3-6.9 12.3-6.5 13.8-6.9 13.9-6.3 13.8-5.9M57.4 542l1.5-.3 1.6-.7 1.5-1.2 1.6-1.5 1.5-1.8 1.5-2.1 1.6-2.3 1.5-2.5 1.5-2.6 1.6-2.8 3.1-5.8 3-6.1 3.1-6.1 3.1-6.1 3.1-6 4.6-8.8 4.6-8.2 4.6-7.7 6.2-9.4 6.1-8.3 6.2-7.3 7.7-7.8 7.7-6.5 9.2-6.3 9.2-5.1 10.8-4.6 10.8-3.4 12.3-2.9 12.3-2.1 13.8-1.7 13.9-1.1 13.8-.8M57.4 542l1.5 0 1.6-.1 1.5-.2 1.6-.3 1.5-.3 1.5-.3 1.6-.5 1.5-.4 1.5-.5 1.6-.6 3.1-1.2 3-1.4 3.1-1.6 3.1-1.6 3.1-1.8 4.6-2.8 4.6-2.9 4.6-3 6.2-4.2 6.1-4.3 6.2-4.4 7.7-5.4 7.7-5.3 9.2-6.3 9.2-6 10.8-6.7 10.8-6.4 12.3-6.7 12.3-6.2 13.8-6.4 13.9-5.7 13.8-5.2M57.4 542l1.5 0 1.6 0 1.5 0 1.6 0 1.5 0 1.5 0 1.6 0 1.5 0 1.5-.1 1.6 0 3.1 0 3 0 3.1-.1 3.1 0 3.1 0 4.6-.1 4.6-.1 4.6-.1 6.2-.1 6.1-.2 6.2-.2 7.7-.2 7.7-.3 9.2-.3 9.2-.3 10.8-.5 10.8-.5 12.3-.6 12.3-.6 13.8-.8 13.9-.8 13.8-.8M57.4 542l1.5-.1 1.6-.2 1.5-.3 1.6-.5 1.5-.5 1.5-.7 1.6-.8 1.5-.8 1.5-1 1.6-1 3.1-2.2 3-2.5 3.1-2.7 3.1-2.8 3.1-3 4.6-4.6 4.6-4.8 4.6-4.9 6.2-6.6 6.1-6.5 6.2-6.3 7.7-7.7 7.7-7.3 9.2-8.2 9.2-7.5 10.8-7.8 10.8-7 12.3-7 12.3-5.9 13.8-5.7 13.9-4.6 13.8-3.8M57.4 542l1.5 0 1.6-.1 1.5-.2 1.6-.3 1.5-.2 1.5-.4 1.6-.4 1.5-.5 1.5-.5 1.6-.5 3.1-1.3 3-1.4 3.1-1.5 3.1-1.6 3.1-1.8 4.6-2.8 4.6-3 4.6-3.1 6.2-4.3 6.1-4.4 6.2-4.5 7.7-5.6 7.7-5.6 9.2-6.5 9.2-6.3 10.8-7.1 10.8-6.6 12.3-7.1 12.3-6.5 13.8-6.7 13.9-6 13.8-5.3M57.4 542l1.5-.1 1.6-.4 1.5-.6 1.6-.8 1.5-1.1 1.5-1.1 1.6-1.4 1.5-1.4 1.5-1.6 1.6-1.8 3.1-3.7 3-4 3.1-4.2 3.1-4.4 3.1-4.5 4.6-6.9 4.6-6.8 4.6-6.7 6.2-8.7 6.1-8.2 6.2-7.7 7.7-8.8 7.7-7.8 9.2-8.3 9.2-7.1 10.8-6.8 10.8-5.6 12.3-5.1 12.3-3.9 13.8-3.3 13.9-2.5 13.8-1.8M57.4 542l1.5-.1 1.6-.3 1.5-.5 1.6-.7 1.5-.8 1.5-.9 1.6-1.1 1.5-1.2 1.5-1.4 1.6-1.4 3.1-3.1 3-3.4 3.1-3.6 3.1-3.8 3.1-3.9 4.6-6 4.6-6.1 4.6-6.1 6.2-8 6.1-7.7 6.2-7.4 7.7-8.6 7.7-7.8 9.2-8.5 9.2-7.5 10.8-7.5 10.8-6.3 12.3-5.9 12.3-4.7 13.8-4.3 13.9-3.2 13.8-2.5M57.4 542l1.5-.1 1.6-.2 1.5-.5 1.6-.5 1.5-.7 1.5-.8 1.6-.9 1.5-1 1.5-1.2 1.6-1.2 3.1-2.6 3-2.9 3.1-3.2 3.1-3.3 3.1-3.4 4.6-5.4 4.6-5.5 4.6-5.5 6.2-7.3 6.1-7.2 6.2-6.9 7.7-8.2 7.7-7.7 9.2-8.5 9.2-7.6 10.8-7.8 10.8-6.7 12.3-6.5 12.3-5.4 13.8-5 13.9-3.9 13.8-3.1M57.4 542l1.5 0 1.6 0 1.5-.1 1.6-.1 1.5 0 1.5-.1 1.6-.2 1.5-.1 1.5-.2 1.6-.1 3.1-.4 3-.5 3.1-.4 3.1-.6 3.1-.6 4.6-.9 4.6-1.1 4.6-1.1 6.2-1.6 6.1-1.7 6.2-1.8 7.7-2.3 7.7-2.5 9.2-3 9.2-3.1 10.8-3.6 10.8-3.7 12.3-4.2 12.3-4.1 13.8-4.6 13.9-4.5 13.8-4.4M57.4 542l1.5 0 1.6-.2 1.5-.2 1.6-.2 1.5-.3 1.5-.4 1.6-.5 1.5-.5 1.5-.6 1.6-.6 3.1-1.3 3-1.5 3.1-1.7 3.1-1.8 3.1-1.8 4.6-3 4.6-3.2 4.6-3.2 6.2-4.5 6.1-4.5 6.2-4.6 7.7-5.7 7.7-5.6 9.2-6.5 9.2-6.2 10.8-7 10.8-6.4 12.3-6.9 12.3-6.3 13.8-6.3 13.9-5.8 13.8-5.1M57.4 542l1.5-.1 1.6-.2 1.5-.3 1.6-.5 1.5-.6 1.5-.7 1.6-.8 1.5-.9 1.5-1 1.6-1 3.1-2.3 3-2.6 3.1-2.7 3.1-3 3.1-3 4.6-4.8 4.6-4.9 4.6-5 6.2-6.7 6.1-6.7 6.2-6.5 7.7-7.8 7.7-7.3 9.2-8.3 9.2-7.5 10.8-7.9 10.8-6.9 12.3-6.9 12.3-5.9 13.8-5.5 13.9-4.5 13.8-3.7M57.4 542l1.5-.2 1.6-.4 1.5-.8 1.6-1 1.5-1.2 1.5-1.4 1.6-1.7 1.5-1.7 1.5-1.9 1.6-2 3.1-4.4 3-4.6 3.1-4.9 3.1-5 3.1-5 4.6-7.6 4.6-7.5 4.6-7.2 6.2-9.1 6.1-8.5 6.2-7.8 7.7-8.7 7.7-7.6 9.2-7.8 9.2-6.4 10.8-6.1 10.8-4.9 12.3-4.2 12.3-3.2 13.8-2.6 13.9-1.9 13.8-1.3M57.4 542l1.5-.1 1.6-.2 1.5-.4 1.6-.5 1.5-.6 1.5-.7 1.6-.9 1.5-.9 1.5-1 1.6-1.1 3.1-2.4 3-2.7 3.1-2.9 3.1-3 3.1-3.2 4.6-4.9 4.6-5.1 4.6-5.2 6.2-6.9 6.1-6.8 6.2-6.6 7.7-8 7.7-7.5 9.2-8.3 9.2-7.6 10.8-7.8 10.8-6.9 12.3-6.8 12.3-5.7 13.8-5.4 13.9-4.3 13.8-3.5M57.4 542l1.5-.1 1.6-.3 1.5-.6 1.6-.7 1.5-.8 1.5-1.1 1.6-1.1 1.5-1.3 1.5-1.4 1.6-1.5 3.1-3.3 3-3.5 3.1-3.8 3.1-4 3.1-4.1 4.6-6.2 4.6-6.3 4.6-6.3 6.2-8.2 6.1-7.9 6.2-7.5 7.7-8.6 7.7-7.9 9.2-8.5 9.2-7.4 10.8-7.3 10.8-6.1 12.3-5.7 12.3-4.5 13.8-4 13.9-3 13.8-2.2M57.4 542l1.5 0 1.6 0 1.5 0 1.6-.1 1.5 0 1.5-.1 1.6 0 1.5-.1 1.5 0 1.6-.1 3.1-.2 3-.1 3.1-.3 3.1-.2 3.1-.2 4.6-.4 4.6-.4 4.6-.5 6.2-.6 6.1-.7 6.2-.7 7.7-1 7.7-.9 9.2-1.2 9.2-1.2 10.8-1.5 10.8-1.4 12.3-1.7 12.3-1.6 13.8-1.9 13.9-1.9 13.8-1.8M57.4 542l1.5-.1 1.6-.3 1.5-.4 1.6-.6 1.5-.8 1.5-.9 1.6-1 1.5-1.1 1.5-1.2 1.6-1.3 3.1-2.9 3-3.1 3.1-3.4 3.1-3.6 3.1-3.6 4.6-5.7 4.6-5.8 4.6-5.8 6.2-7.7 6.1-7.5 6.2-7.1 7.7-8.5 7.7-7.8 9.2-8.5 9.2-7.5 10.8-7.7 10.8-6.5 12.3-6.2 12.3-5.1 13.8-4.6 13.9-3.6 13.8-2.8M57.4 542l1.5-.1 1.6-.3 1.5-.4 1.6-.7 1.5-.7 1.5-.9 1.6-1 1.5-1.2 1.5-1.2 1.6-1.3 3.1-3 3-3.2 3.1-3.4 3.1-3.6 3.1-3.7 4.6-5.7 4.6-5.9 4.6-5.9 6.2-7.7 6.1-7.5 6.2-7.2 7.7-8.4 7.7-7.9 9.2-8.5 9.2-7.5 10.8-7.6 10.8-6.5 12.3-6.2 12.3-5 13.8-4.5 13.9-3.6 13.8-2.7M57.4 542l1.5 0 1.6-.2 1.5-.1 1.6-.3 1.5-.3 1.5-.4 1.6-.4 1.5-.5 1.5-.6 1.6-.6 3.1-1.3 3-1.5 3.1-1.6 3.1-1.8 3.1-1.9 4.6-3.1 4.6-3.2 4.6-3.4 6.2-4.7 6.1-4.8 6.2-4.9 7.7-6.1 7.7-6.1 9.2-7.1 9.2-6.8 10.8-7.7 10.8-7.1 12.3-7.6 12.3-6.9 13.8-6.9 13.9-6.1 13.8-5.4M57.4 542l1.5-.1 1.6-.4 1.5-.6 1.6-.8 1.5-.9 1.5-1.1 1.6-1.3 1.5-1.4 1.5-1.6 1.6-1.6 3.1-3.5 3-3.9 3.1-4.1 3.1-4.2 3.1-4.4 4.6-6.7 4.6-6.6 4.6-6.6 6.2-8.5 6.1-8.1 6.2-7.6 7.7-8.8 7.7-7.8 9.2-8.4 9.2-7.1 10.8-7.1 10.8-5.7 12.3-5.3 12.3-4.1 13.8-3.6 13.9-2.6 13.8-1.9M57.4 542l1.5 0 1.6 0 1.5 0 1.6-.1 1.5 0 1.5-.1 1.6 0 1.5-.1 1.5-.1 1.6-.1 3.1-.2 3-.2 3.1-.2 3.1-.3 3.1-.3 4.6-.6 4.6-.5 4.6-.7 6.2-.9 6.1-1 6.2-1 7.7-1.5 7.7-1.5 9.2-1.9 9.2-2.1 10.8-2.4 10.8-2.6 12.3-3.1 12.3-3.1 13.8-3.5 13.9-3.6 13.8-3.6M57.4 542l1.5-.1 1.6-.1 1.5-.3 1.6-.4 1.5-.5 1.5-.5 1.6-.7 1.5-.7 1.5-.8 1.6-.8 3.1-1.9 3-2.2 3.1-2.3 3.1-2.4 3.1-2.7 4.6-4.1 4.6-4.3 4.6-4.4 6.2-6 6.1-6 6.2-6 7.7-7.3 7.7-7.1 9.2-8 9.2-7.6 10.8-8 10.8-7.3 12.3-7.3 12.3-6.4 13.8-6.2 13.9-5.2 13.8-4.4M57.4 542l1.5 0 1.6-.1 1.5-.1 1.6-.2 1.5-.2 1.5-.3 1.6-.3 1.5-.3 1.5-.4 1.6-.4 3.1-.9 3-1.1 3.1-1.1 3.1-1.3 3.1-1.4 4.6-2.2 4.6-2.4 4.6-2.5 6.2-3.5 6.1-3.7 6.2-3.8 7.7-4.9 7.7-4.9 9.2-5.9 9.2-5.9 10.8-6.7 10.8-6.4 12.3-7.1 12.3-6.6 13.8-7 13.9-6.4 13.8-5.8M57.4 542l1.5-.3 1.6-.7 1.5-1.1 1.6-1.4 1.5-1.8 1.5-2 1.6-2.2 1.5-2.4 1.5-2.6 1.6-2.7 3.1-5.6 3-6 3.1-6 3.1-6 3.1-5.9 4.6-8.7 4.6-8.2 4.6-7.7 6.2-9.3 6.1-8.4 6.2-7.4 7.7-7.9 7.7-6.6 9.2-6.5 9.2-5.2 10.8-4.7 10.8-3.6 12.3-3 12.3-2.2 13.8-1.7 13.9-1.2 13.8-.8M57.4 542l1.5 0 1.6-.1 1.5-.1 1.6-.2 1.5-.3 1.5-.2 1.6-.4 1.5-.3 1.5-.4 1.6-.5 3.1-1 3-1.1 3.1-1.2 3.1-1.4 3.1-1.4 4.6-2.4 4.6-2.5 4.6-2.7 6.2-3.7 6.1-3.8 6.2-4 7.7-5.1 7.7-5 9.2-6.1 9.2-6 10.8-6.8 10.8-6.5 12.3-7.1 12.3-6.6 13.8-7 13.9-6.3 13.8-5.7M57.4 542l1.5-.2 1.6-.7 1.5-1 1.6-1.4 1.5-1.7 1.5-1.8 1.6-2.1 1.5-2.3 1.5-2.4 1.6-2.5 3.1-5.4 3-5.5 3.1-5.7 3.1-5.7 3.1-5.6 4.6-8.2 4.6-7.9 4.6-7.3 6.2-9.1 6.1-8.2 6.2-7.2 7.7-7.9 7.7-6.8 9.2-6.7 9.2-5.5 10.8-5.1 10.8-4 12.3-3.5 12.3-2.6 13.8-2.1 13.9-1.6 13.8-1.1M57.4 542l1.5 0 1.6-.1 1.5-.2 1.6-.2 1.5-.2 1.5-.3 1.6-.3 1.5-.4 1.5-.4 1.6-.5 3.1-1 3-1.2 3.1-1.3 3.1-1.4 3.1-1.5 4.6-2.4 4.6-2.6 4.6-2.7 6.2-3.7 6.1-3.9 6.2-4 7.7-5.1 7.7-5.1 9.2-6 9.2-5.9 10.8-6.7 10.8-6.4 12.3-6.9 12.3-6.5 13.8-6.7 13.9-6.1 13.8-5.6M57.4 542l1.5-.1 1.6-.3 1.5-.5 1.6-.6 1.5-.8 1.5-1 1.6-1 1.5-1.2 1.5-1.3 1.6-1.4 3.1-3 3-3.4 3.1-3.5 3.1-3.7 3.1-3.9 4.6-5.9 4.6-6 4.6-6 6.2-7.9 6.1-7.7 6.2-7.3 7.7-8.5 7.7-7.9 9.2-8.5 9.2-7.5 10.8-7.5 10.8-6.4 12.3-6 12.3-4.8 13.8-4.3 13.9-3.4 13.8-2.5M57.4 542l1.5-.1 1.6-.2 1.5-.3 1.6-.4 1.5-.6 1.5-.6 1.6-.8 1.5-.8 1.5-.9 1.6-1 3.1-2.2 3-2.4 3.1-2.6 3.1-2.8 3.1-2.9 4.6-4.6 4.6-4.7 4.6-4.8 6.2-6.4 6.1-6.4 6.2-6.3 7.7-7.6 7.7-7.2 9.2-8.1 9.2-7.5 10.8-7.8 10.8-7 12.3-7 12.3-6 13.8-5.7 13.9-4.8 13.8-3.9M57.4 542l1.5 0 1.6-.1 1.5-.1 1.6-.1 1.5-.2 1.5-.2 1.6-.3 1.5-.3 1.5-.3 1.6-.4 3.1-.8 3-.9 3.1-1 3.1-1.1 3.1-1.2 4.6-1.9 4.6-2.1 4.6-2.2 6.2-3.2 6.1-3.2 6.2-3.4 7.7-4.4 7.7-4.5 9.2-5.4 9.2-5.4 10.8-6.2 10.8-6.1 12.3-6.6 12.3-6.4 13.8-6.8 13.9-6.3 13.8-5.8M57.4 542l1.5-.1 1.6-.3 1.5-.5 1.6-.6 1.5-.8 1.5-.9 1.6-1 1.5-1.2 1.5-1.2 1.6-1.4 3.1-2.9 3-3.3 3.1-3.4 3.1-3.7 3.1-3.7 4.6-5.8 4.6-6 4.6-5.9 6.2-7.8 6.1-7.5 6.2-7.2 7.7-8.5 7.7-7.9 9.2-8.5 9.2-7.5 10.8-7.6 10.8-6.5 12.3-6.1 12.3-4.9 13.8-4.5 13.9-3.4 13.8-2.7M57.4 542l1.5-.1 1.6-.2 1.5-.4 1.6-.5 1.5-.7 1.5-.8 1.6-.8 1.5-1 1.5-1.1 1.6-1.1 3.1-2.6 3-2.7 3.1-3.1 3.1-3.1 3.1-3.3 4.6-5.2 4.6-5.3 4.6-5.3 6.2-7.1 6.1-7 6.2-6.8 7.7-8 7.7-7.6 9.2-8.4 9.2-7.6 10.8-7.8 10.8-6.9 12.3-6.6 12.3-5.6 13.8-5.1 13.9-4.2 13.8-3.3M57.4 542l1.5-.1 1.6-.2 1.5-.4 1.6-.5 1.5-.6 1.5-.7 1.6-.9 1.5-.9 1.5-1 1.6-1.1 3.1-2.5 3-2.6 3.1-2.9 3.1-3.1 3.1-3.2 4.6-4.9 4.6-5.2 4.6-5.1 6.2-7 6.1-6.8 6.2-6.6 7.7-8 7.7-7.5 9.2-8.3 9.2-7.6 10.8-7.8 10.8-6.9 12.3-6.8 12.3-5.7 13.8-5.3 13.9-4.4 13.8-3.5M57.4 542l1.5-.1 1.6-.4 1.5-.5 1.6-.8 1.5-.9 1.5-1.1 1.6-1.3 1.5-1.3 1.5-1.5 1.6-1.6 3.1-3.5 3-3.8 3.1-4 3.1-4.1 3.1-4.3 4.6-6.6 4.6-6.5 4.6-6.5 6.2-8.5 6.1-8 6.2-7.6 7.7-8.7 7.7-7.9 9.2-8.4 9.2-7.3 10.8-7.1 10.8-5.9 12.3-5.3 12.3-4.3 13.8-3.6 13.9-2.8 13.8-2M57.4 542l1.5-.2 1.6-.7 1.5-1.1 1.6-1.5 1.5-1.7 1.5-2 1.6-2.2 1.5-2.4 1.5-2.6 1.6-2.6 3.1-5.7 3-5.8 3.1-6 3.1-6 3.1-5.9 4.6-8.6 4.6-8.2 4.6-7.7 6.2-9.4 6.1-8.3 6.2-7.4 7.7-8 7.7-6.6 9.2-6.6 9.2-5.2 10.8-4.7 10.8-3.6 12.3-3.1 12.3-2.2 13.8-1.7 13.9-1.3 13.8-.8M57.4 542l1.5-.1 1.6-.2 1.5-.4 1.6-.5 1.5-.7 1.5-.7 1.6-.9 1.5-.9 1.5-1.1 1.6-1.1 3.1-2.5 3-2.8 3.1-2.9 3.1-3.1 3.1-3.3 4.6-5.1 4.6-5.2 4.6-5.3 6.2-7 6.1-6.9 6.2-6.8 7.7-8 7.7-7.5 9.2-8.4 9.2-7.6 10.8-7.8 10.8-6.9 12.3-6.7 12.3-5.6 13.8-5.2 13.9-4.2 13.8-3.4M57.4 542l1.5-.2 1.6-.7 1.5-1.1 1.6-1.3 1.5-1.7 1.5-1.9 1.6-2.2 1.5-2.3 1.5-2.5 1.6-2.6 3.1-5.4 3-5.8 3.1-5.8 3.1-5.9 3.1-5.9 4.6-8.5 4.6-8.1 4.6-7.7 6.2-9.4 6.1-8.4 6.2-7.4 7.7-8.1 7.7-6.7 9.2-6.7 9.2-5.4 10.8-4.9 10.8-3.7 12.3-3.1 12.3-2.3 13.8-1.9 13.9-1.2 13.8-.9M57.4 542l1.5 0 1.6-.1 1.5-.2 1.6-.3 1.5-.3 1.5-.3 1.6-.4 1.5-.5 1.5-.5 1.6-.5 3.1-1.3 3-1.4 3.1-1.5 3.1-1.6 3.1-1.8 4.6-2.8 4.6-2.9 4.6-3.1 6.2-4.2 6.1-4.4 6.2-4.4 7.7-5.5 7.7-5.5 9.2-6.4 9.2-6.2 10.8-7 10.8-6.5 12.3-7 12.3-6.4 13.8-6.5 13.9-5.9 13.8-5.3M57.4 542l1.5-.3 1.6-.9 1.5-1.4 1.6-1.7 1.5-2.2 1.5-2.4 1.6-2.7 1.5-2.9 1.5-3.1 1.6-3.2 3.1-6.8 3-6.9 3.1-7 3.1-6.9 3.1-6.8 4.6-9.6 4.6-9 4.6-8.3 6.2-9.8 6.1-8.4 6.2-7.2 7.7-7.4 7.7-6 9.2-5.5 9.2-4.1 10.8-3.5 10.8-2.4 12.3-1.9 12.3-1.2 13.8-.9 13.9-.5 13.8-.3M57.4 542l1.5 0 1.6-.2 1.5-.2 1.6-.3 1.5-.3 1.5-.4 1.6-.5 1.5-.6 1.5-.6 1.6-.6 3.1-1.4 3-1.7 3.1-1.7 3.1-1.9 3.1-2 4.6-3.2 4.6-3.3 4.6-3.5 6.2-4.7 6.1-4.8 6.2-4.9 7.7-5.9 7.7-5.9 9.2-6.8 9.2-6.5 10.8-7.2 10.8-6.7 12.3-7 12.3-6.4 13.8-6.4 13.9-5.7 13.8-5.1M57.4 542l1.5-.1 1.6-.3 1.5-.4 1.6-.6 1.5-.8 1.5-.9 1.6-1 1.5-1.1 1.5-1.2 1.6-1.3 3.1-2.9 3-3.2 3.1-3.3 3.1-3.6 3.1-3.7 4.6-5.7 4.6-5.8 4.6-5.8 6.2-7.7 6.1-7.4 6.2-7.2 7.7-8.4 7.7-7.8 9.2-8.5 9.2-7.5 10.8-7.7 10.8-6.5 12.3-6.3 12.3-5 13.8-4.6 13.9-3.6 13.8-2.8M57.4 542l1.5-.3 1.6-1 1.5-1.5 1.6-1.9 1.5-2.3 1.5-2.6 1.6-2.9 1.5-3 1.5-3.3 1.6-3.4 3.1-7 3-7.2 3.1-7.3 3.1-7.1 3.1-6.9 4.6-9.8 4.6-9 4.6-8.2 6.2-9.7 6.1-8.3 6.2-7 7.7-7.1 7.7-5.7 9.2-5.2 9.2-3.8 10.8-3.2 10.8-2.2 12.3-1.7 12.3-1.1 13.8-.8 13.9-.5 13.8-.3M57.4 542l1.5-.1 1.6-.3 1.5-.5 1.6-.6 1.5-.7 1.5-1 1.6-1 1.5-1.1 1.5-1.3 1.6-1.3 3.1-3 3-3.2 3.1-3.5 3.1-3.6 3.1-3.8 4.6-5.8 4.6-5.9 4.6-5.9 6.2-7.8 6.1-7.6 6.2-7.2 7.7-8.5 7.7-7.8 9.2-8.5 9.2-7.6 10.8-7.6 10.8-6.4 12.3-6.2 12.3-4.9 13.8-4.5 13.9-3.4 13.8-2.7M57.4 542l1.5-.2 1.6-.7 1.5-.9 1.6-1.4 1.5-1.5 1.5-1.9 1.6-2 1.5-2.2 1.5-2.4 1.6-2.5 3.1-5.3 3-5.5 3.1-5.7 3.1-5.8 3.1-5.7 4.6-8.4 4.6-8.1 4.6-7.6 6.2-9.4 6.1-8.5 6.2-7.6 7.7-8.2 7.7-6.9 9.2-6.9 9.2-5.5 10.8-5.1 10.8-3.9 12.3-3.3 12.3-2.4 13.8-1.9 13.9-1.3 13.8-.9M57.4 542l1.5-.1 1.6-.4 1.5-.6 1.6-.8 1.5-.9 1.5-1.2 1.6-1.2 1.5-1.5 1.5-1.5 1.6-1.6 3.1-3.6 3-3.9 3.1-4.1 3.1-4.3 3.1-4.3 4.6-6.7 4.6-6.7 4.6-6.6 6.2-8.6 6.1-8.1 6.2-7.6 7.7-8.8 7.7-7.9 9.2-8.3 9.2-7.2 10.8-7 10.8-5.7 12.3-5.3 12.3-4.1 13.8-3.5 13.9-2.6 13.8-1.9M57.4 542l1.5-.1 1.6-.2 1.5-.5 1.6-.5 1.5-.7 1.5-.8 1.6-.9 1.5-1 1.5-1.2 1.6-1.2 3.1-2.6 3-2.9 3.1-3.2 3.1-3.3 3.1-3.4 4.6-5.3 4.6-5.5 4.6-5.5 6.2-7.2 6.1-7.2 6.2-6.9 7.7-8.2 7.7-7.6 9.2-8.4 9.2-7.6 10.8-7.7 10.8-6.8 12.3-6.5 12.3-5.4 13.8-4.9 13.9-4 13.8-3.1M57.4 542l1.5-.1 1.6-.3 1.5-.5 1.6-.6 1.5-.8 1.5-.9 1.6-1.1 1.5-1.2 1.5-1.3 1.6-1.4 3.1-3 3-3.3 3.1-3.5 3.1-3.7 3.1-3.9 4.6-5.9 4.6-6 4.6-6 6.2-7.9 6.1-7.6 6.2-7.3 7.7-8.5 7.7-7.9 9.2-8.5 9.2-7.5 10.8-7.5 10.8-6.4 12.3-6 12.3-4.9 13.8-4.3 13.9-3.4 13.8-2.5M57.4 542l1.5 0 1.6-.1 1.5-.1 1.6-.1 1.5-.1 1.5-.2 1.6-.2 1.5-.2 1.5-.3 1.6-.3 3.1-.6 3-.8 3.1-.8 3.1-.9 3.1-1 4.6-1.6 4.6-1.7 4.6-1.9 6.2-2.6 6.1-2.8 6.2-3 7.7-3.8 7.7-3.9 9.2-4.8 9.2-4.9 10.8-5.6 10.8-5.6 12.3-6.3 12.3-6.1 13.8-6.5 13.9-6.3 13.8-5.8M57.4 542l1.5-.1 1.6-.1 1.5-.2 1.6-.4 1.5-.4 1.5-.5 1.6-.5 1.5-.6 1.5-.7 1.6-.8 3.1-1.6 3-1.9 3.1-2 3.1-2.2 3.1-2.3 4.6-3.7 4.6-3.8 4.6-4 6.2-5.4 6.1-5.6 6.2-5.5 7.7-6.8 7.7-6.6 9.2-7.6 9.2-7.2 10.8-7.9 10.8-7.1 12.3-7.5 12.3-6.5 13.8-6.5 13.9-5.6 13.8-4.8M57.4 542l1.5 0 1.6-.2 1.5-.2 1.6-.2 1.5-.4 1.5-.4 1.6-.5 1.5-.5 1.5-.6 1.6-.6 3.1-1.4 3-1.5 3.1-1.7 3.1-1.9 3.1-1.9 4.6-3.1 4.6-3.2 4.6-3.3 6.2-4.5 6.1-4.6 6.2-4.7 7.7-5.7 7.7-5.7 9.2-6.5 9.2-6.3 10.8-6.9 10.8-6.5 12.3-6.8 12.3-6.2 13.8-6.3 13.9-5.7 13.8-5M57.4 542l1.5 0 1.6-.1 1.5-.1 1.6-.2 1.5-.2 1.5-.2 1.6-.3 1.5-.3 1.5-.3 1.6-.4 3.1-.9 3-.9 3.1-1.1 3.1-1.2 3.1-1.2 4.6-2 4.6-2.2 4.6-2.3 6.2-3.2 6.1-3.4 6.2-3.5 7.7-4.4 7.7-4.5 9.2-5.4 9.2-5.4 10.8-6.2 10.8-5.9 12.3-6.6 12.3-6.2 13.8-6.5 13.9-6.1 13.8-5.6M57.4 542l1.5-.2 1.6-.6 1.5-.8 1.6-1.2 1.5-1.5 1.5-1.6 1.6-1.9 1.5-2 1.5-2.2 1.6-2.3 3.1-4.9 3-5.2 3.1-5.4 3.1-5.5 3.1-5.5 4.6-8.1 4.6-7.9 4.6-7.6 6.2-9.4 6.1-8.5 6.2-7.7 7.7-8.5 7.7-7.3 9.2-7.3 9.2-5.9 10.8-5.4 10.8-4.2 12.3-3.6 12.3-2.7 13.8-2.1 13.9-1.4 13.8-1.1M57.4 542l1.5-.2 1.6-.4 1.5-.7 1.6-.9 1.5-1.1 1.5-1.4 1.6-1.4 1.5-1.6 1.5-1.8 1.6-1.8 3.1-4 3-4.2 3.1-4.5 3.1-4.5 3.1-4.6 4.6-6.9 4.6-6.8 4.6-6.6 6.2-8.4 6.1-7.9 6.2-7.3 7.7-8.2 7.7-7.4 9.2-7.7 9.2-6.5 10.8-6.5 10.8-5.2 12.3-4.9 12.3-3.9 13.8-3.4 13.9-2.6 13.8-2M57.4 542l1.5 0 1.6-.1 1.5-.1 1.6-.2 1.5-.2 1.5-.2 1.6-.3 1.5-.3 1.5-.4 1.6-.4 3.1-.9 3-1 3.1-1.1 3.1-1.2 3.1-1.3 4.6-2.1 4.6-2.3 4.6-2.4 6.2-3.3 6.1-3.5 6.2-3.7 7.7-4.6 7.7-4.8 9.2-5.6 9.2-5.7 10.8-6.4 10.8-6.2 12.3-6.9 12.3-6.4 13.8-6.8 13.9-6.3 13.8-5.8M57.4 542l1.5-.1 1.6-.1 1.5-.3 1.6-.4 1.5-.6 1.5-.6 1.6-.6 1.5-.8 1.5-.8 1.6-1 3.1-2 3-2.2 3.1-2.4 3.1-2.6 3.1-2.8 4.6-4.2 4.6-4.5 4.6-4.5 6.2-6.2 6.1-6.1 6.2-6.1 7.7-7.4 7.7-7.1 9.2-8 9.2-7.4 10.8-8 10.8-7.1 12.3-7.1 12.3-6.3 13.8-5.9 13.9-5 13.8-4.2M57.4 542l1.5-.1 1.6-.2 1.5-.3 1.6-.4 1.5-.6 1.5-.6 1.6-.8 1.5-.8 1.5-.9 1.6-1 3.1-2.2 3-2.4 3.1-2.7 3.1-2.7 3.1-2.9 4.6-4.6 4.6-4.7 4.6-4.8 6.2-6.5 6.1-6.4 6.2-6.3 7.7-7.6 7.7-7.2 9.2-8.1 9.2-7.5 10.8-7.9 10.8-7 12.3-7 12.3-6 13.8-5.7 13.9-4.7 13.8-3.9M57.4 542l1.5 0 1.6 0 1.5 0 1.6 0 1.5 0 1.5 0 1.6 0 1.5 0 1.5 0 1.6 0 3.1 0 3 0 3.1 0 3.1 0 3.1 0 4.6 0 4.6 0 4.6-.1 6.2 0 6.1 0 6.2 0 7.7 0 7.7-.1 9.2 0 9.2 0 10.8-.1 10.8-.1 12.3 0 12.3-.1 13.8-.1 13.9-.1 13.8-.1M57.4 542l1.5-.3 1.6-.8 1.5-1.2 1.6-1.6 1.5-1.9 1.5-2.2 1.6-2.4 1.5-2.6 1.5-2.7 1.6-2.9 3.1-6 3-6.2 3.1-6.3 3.1-6.2 3.1-6.1 4.6-8.8 4.6-8.3 4.6-7.7 6.2-9.2 6.1-8.2 6.2-7.2 7.7-7.6 7.7-6.4 9.2-6.2 9.2-4.9 10.8-4.4 10.8-3.3 12.3-2.8 12.3-2.1 13.8-1.6 13.9-1.1 13.8-.8M57.4 542l1.5-.1 1.6-.3 1.5-.5 1.6-.6 1.5-.8 1.5-.9 1.6-1 1.5-1.2 1.5-1.3 1.6-1.3 3.1-3 3-3.3 3.1-3.5 3.1-3.6 3.1-3.8 4.6-5.9 4.6-5.9 4.6-6 6.2-7.8 6.1-7.6 6.2-7.2 7.7-8.6 7.7-7.8 9.2-8.5 9.2-7.5 10.8-7.6 10.8-6.4 12.3-6.1 12.3-4.9 13.8-4.4 13.9-3.4 13.8-2.7M57.4 542l1.5 0 1.6-.2 1.5-.2 1.6-.2 1.5-.3 1.5-.4 1.6-.5 1.5-.5 1.5-.5 1.6-.6 3.1-1.4 3-1.5 3.1-1.6 3.1-1.8 3.1-1.8 4.6-3 4.6-3.1 4.6-3.2 6.2-4.5 6.1-4.5 6.2-4.5 7.7-5.6 7.7-5.5 9.2-6.5 9.2-6.2 10.8-6.8 10.8-6.5 12.3-6.8 12.3-6.2 13.8-6.3 13.9-5.7 13.8-5.1M57.4 542l1.5-.1 1.6-.1 1.5-.3 1.6-.4 1.5-.4 1.5-.6 1.6-.6 1.5-.7 1.5-.8 1.6-.9 3.1-1.8 3-2.1 3.1-2.3 3.1-2.4 3.1-2.6 4.6-4.1 4.6-4.2 4.6-4.3 6.2-6 6.1-5.9 6.2-5.9 7.7-7.2 7.7-7 9.2-7.9 9.2-7.4 10.8-8 10.8-7.2 12.3-7.3 12.3-6.4 13.8-6.2 13.9-5.3 13.8-4.4M57.4 542l1.5-.1 1.6-.1 1.5-.3 1.6-.4 1.5-.4 1.5-.6 1.6-.6 1.5-.7 1.5-.8 1.6-.8 3.1-1.9 3-2 3.1-2.3 3.1-2.4 3.1-2.5 4.6-3.9 4.6-4.2 4.6-4.2 6.2-5.8 6.1-5.8 6.2-5.7 7.7-7 7.7-6.8 9.2-7.7 9.2-7.2 10.8-7.7 10.8-7.1 12.3-7.2 12.3-6.3 13.8-6.2 13.9-5.2 13.8-4.5M57.4 542l1.5-.1 1.6-.3 1.5-.5 1.6-.7 1.5-.9 1.5-1 1.6-1.1 1.5-1.3 1.5-1.4 1.6-1.4 3.1-3.2 3-3.5 3.1-3.8 3.1-3.9 3.1-4 4.6-6.2 4.6-6.2 4.6-6.3 6.2-8.1 6.1-7.8 6.2-7.4 7.7-8.7 7.7-7.9 9.2-8.5 9.2-7.4 10.8-7.3 10.8-6.2 12.3-5.8 12.3-4.6 13.8-4 13.9-3.1 13.8-2.3M57.4 542l1.5 0 1.6-.2 1.5-.2 1.6-.2 1.5-.3 1.5-.4 1.6-.5 1.5-.5 1.5-.6 1.6-.6 3.1-1.3 3-1.6 3.1-1.7 3.1-1.8 3.1-1.9 4.6-3.1 4.6-3.2 4.6-3.4 6.2-4.7 6.1-4.8 6.2-4.8 7.7-6 7.7-6 9.2-7 9.2-6.6 10.8-7.4 10.8-6.9 12.3-7.3 12.3-6.7 13.8-6.7 13.9-5.9 13.8-5.2M57.4 542l1.5 0 1.6 0 1.5 0 1.6-.1 1.5 0 1.5 0 1.6-.1 1.5 0 1.5-.1 1.6 0 3.1-.1 3-.2 3.1-.2 3.1-.1 3.1-.2 4.6-.4 4.6-.3 4.6-.4 6.2-.5 6.1-.6 6.2-.6 7.7-.8 7.7-.8 9.2-1.1 9.2-1 10.8-1.3 10.8-1.3 12.3-1.5 12.3-1.5 13.8-1.7 13.9-1.7 13.8-1.7M57.4 542l1.5-.2 1.6-.7 1.5-1 1.6-1.4 1.5-1.6 1.5-1.9 1.6-2.1 1.5-2.3 1.5-2.5 1.6-2.5 3.1-5.5 3-5.7 3.1-5.8 3.1-5.8 3.1-5.9 4.6-8.5 4.6-8.1 4.6-7.7 6.2-9.4 6.1-8.4 6.2-7.5 7.7-8.1 7.7-6.9 9.2-6.7 9.2-5.4 10.8-5 10.8-3.7 12.3-3.2 12.3-2.3 13.8-1.8 13.9-1.3 13.8-.9M57.4 542l1.5-.1 1.6-.4 1.5-.7 1.6-.9 1.5-1 1.5-1.3 1.6-1.4 1.5-1.6 1.5-1.6 1.6-1.8 3.1-3.9 3-4.2 3.1-4.4 3.1-4.6 3.1-4.7 4.6-7 4.6-7.1 4.6-6.9 6.2-8.8 6.1-8.3 6.2-7.7 7.7-8.8 7.7-7.8 9.2-8.2 9.2-6.9 10.8-6.6 10.8-5.4 12.3-4.8 12.3-3.7 13.8-3.1 13.9-2.3 13.8-1.6M57.4 542l1.5-.1 1.6-.2 1.5-.3 1.6-.4 1.5-.6 1.5-.6 1.6-.7 1.5-.8 1.5-.8 1.6-.9 3.1-2 3-2.2 3.1-2.4 3.1-2.4 3.1-2.6 4.6-3.9 4.6-4.1 4.6-4 6.2-5.4 6.1-5.3 6.2-5.2 7.7-6.3 7.7-6 9.2-6.7 9.2-6.3 10.8-6.7 10.8-6.2 12.3-6.3 12.3-5.7 13.8-5.7 13.9-5 13.8-4.3M57.4 542l1.5-.2 1.6-.6 1.5-1 1.6-1.2 1.5-1.6 1.5-1.7 1.6-2 1.5-2.1 1.5-2.3 1.6-2.4 3.1-5.2 3-5.4 3.1-5.6 3.1-5.6 3.1-5.7 4.6-8.3 4.6-8 4.6-7.6 6.2-9.4 6.1-8.5 6.2-7.6 7.7-8.3 7.7-7.1 9.2-7 9.2-5.7 10.8-5.2 10.8-4 12.3-3.4 12.3-2.5 13.8-2 13.9-1.4 13.8-1M57.4 542l1.5-.1 1.6-.2 1.5-.5 1.6-.5 1.5-.7 1.5-.8 1.6-.9 1.5-1.1 1.5-1.1 1.6-1.2 3.1-2.6 3-2.9 3.1-3.1 3.1-3.3 3.1-3.4 4.6-5.2 4.6-5.3 4.6-5.4 6.2-7.1 6.1-6.9 6.2-6.7 7.7-7.9 7.7-7.4 9.2-8.1 9.2-7.4 10.8-7.5 10.8-6.6 12.3-6.4 12.3-5.4 13.8-5.1 13.9-4 13.8-3.4M57.4 542l1.5 0 1.6 0 1.5-.1 1.6 0 1.5-.1 1.5-.1 1.6-.1 1.5-.1 1.5-.1 1.6-.2 3.1-.3 3-.3 3.1-.4 3.1-.5 3.1-.5 4.6-.7 4.6-.9 4.6-.9 6.2-1.2 6.1-1.4 6.2-1.4 7.7-1.8 7.7-1.9 9.2-2.4 9.2-2.3 10.8-2.9 10.8-2.8 12.3-3.2 12.3-3.2 13.8-3.6 13.9-3.5 13.8-3.4M57.4 542l1.5 0 1.6-.1 1.5 0 1.6-.2 1.5-.1 1.5-.2 1.6-.2 1.5-.2 1.5-.2 1.6-.3 3.1-.6 3-.7 3.1-.8 3.1-.9 3.1-.9 4.6-1.6 4.6-1.7 4.6-1.8 6.2-2.5 6.1-2.7 6.2-2.8 7.7-3.7 7.7-3.8 9.2-4.7 9.2-4.7 10.8-5.5 10.8-5.5 12.3-6.1 12.3-6 13.8-6.4 13.9-6.1 13.8-5.8M57.4 542l1.5-.1 1.6-.2 1.5-.4 1.6-.4 1.5-.6 1.5-.8 1.6-.8 1.5-.9 1.5-1 1.6-1.1 3.1-2.3 3-2.7 3.1-2.8 3.1-3 3.1-3.2 4.6-4.9 4.6-5 4.6-5.1 6.2-6.9 6.1-6.8 6.2-6.6 7.7-8 7.7-7.5 9.2-8.3 9.2-7.7 10.8-7.9 10.8-7 12.3-6.8 12.3-5.8 13.8-5.4 13.9-4.4 13.8-3.6M57.4 542l1.5-.1 1.6-.1 1.5-.2 1.6-.4 1.5-.4 1.5-.5 1.6-.5 1.5-.7 1.5-.7 1.6-.7 3.1-1.7 3-1.9 3.1-2 3.1-2.2 3.1-2.4 4.6-3.7 4.6-3.9 4.6-4 6.2-5.5 6.1-5.6 6.2-5.6 7.7-6.8 7.7-6.7 9.2-7.8 9.2-7.3 10.8-7.9 10.8-7.2 12.3-7.5 12.3-6.6 13.8-6.5 13.9-5.6 13.8-4.7M57.4 542l1.5-.2 1.6-.7 1.5-1.1 1.6-1.4 1.5-1.7 1.5-1.9 1.6-2.2 1.5-2.3 1.5-2.5 1.6-2.7 3.1-5.5 3-5.8 3.1-5.8 3.1-6 3.1-5.8 4.6-8.6 4.6-8.1 4.6-7.7 6.2-9.3 6.1-8.4 6.2-7.4 7.7-8.1 7.7-6.7 9.2-6.6 9.2-5.3 10.8-4.9 10.8-3.7 12.3-3.1 12.3-2.3 13.8-1.8 13.9-1.3 13.8-.8M57.4 542l1.5-.2 1.6-.5 1.5-.7 1.6-1.1 1.5-1.2 1.5-1.5 1.6-1.6 1.5-1.8 1.5-1.9 1.6-2.1 3.1-4.3 3-4.6 3.1-4.8 3.1-4.9 3.1-4.9 4.6-7.4 4.6-7.2 4.6-6.9 6.2-8.7 6.1-8.1 6.2-7.4 7.7-8.3 7.7-7.3 9.2-7.5 9.2-6.3 10.8-6.1 10.8-4.9 12.3-4.4 12.3-3.5 13.8-2.9 13.9-2.2 13.8-1.7M57.4 542l1.5-.1 1.6-.2 1.5-.3 1.6-.4 1.5-.5 1.5-.6 1.6-.7 1.5-.7 1.5-.9 1.6-.9 3.1-2 3-2.3 3.1-2.4 3.1-2.6 3.1-2.8 4.6-4.2 4.6-4.5 4.6-4.5 6.2-6.2 6.1-6.1 6.2-6 7.7-7.4 7.7-7 9.2-7.9 9.2-7.4 10.8-7.8 10.8-7 12.3-7.1 12.3-6.2 13.8-5.9 13.9-5 13.8-4.2M57.4 542l1.5-.1 1.6-.3 1.5-.6 1.6-.7 1.5-.8 1.5-1 1.6-1.2 1.5-1.2 1.5-1.4 1.6-1.5 3.1-3.3 3-3.5 3.1-3.8 3.1-3.9 3.1-4 4.6-6.3 4.6-6.3 4.6-6.2 6.2-8.2 6.1-7.8 6.2-7.5 7.7-8.6 7.7-7.9 9.2-8.5 9.2-7.4 10.8-7.3 10.8-6.2 12.3-5.7 12.3-4.5 13.8-4 13.9-3.1 13.8-2.3M57.4 542l1.5-.5 1.6-1.5 1.5-2.1 1.6-2.9 1.5-3.3 1.5-3.7 1.6-4 1.5-4.3 1.5-4.4 1.6-4.5 3.1-9.2 3-9 3.1-8.8 3.1-8.4 3.1-7.8 4.6-10.7 4.6-9.3 4.6-8.1 6.2-8.9 6.1-7 6.2-5.6 7.7-5.2 7.7-3.7 9.2-3.1 9.2-2.1 10.8-1.4 10.8-.9 12.3-.6 12.3-.3 13.8-.2 13.9-.1 13.8-.1M57.4 542l1.5 0 1.6-.1 1.5-.2 1.6-.2 1.5-.2 1.5-.3 1.6-.4 1.5-.4 1.5-.4 1.6-.5 3.1-1.1 3-1.2 3.1-1.3 3.1-1.4 3.1-1.6 4.6-2.5 4.6-2.6 4.6-2.8 6.2-3.9 6.1-4 6.2-4 7.7-5.2 7.7-5.2 9.2-6.1 9.2-6 10.8-6.7 10.8-6.5 12.3-6.9 12.3-6.5 13.8-6.7 13.9-6.1 13.8-5.5M57.4 542l1.5-.1 1.6-.2 1.5-.4 1.6-.4 1.5-.6 1.5-.7 1.6-.8 1.5-.9 1.5-1 1.6-1.1 3.1-2.3 3-2.5 3.1-2.8 3.1-2.8 3.1-3.1 4.6-4.6 4.6-4.8 4.6-4.9 6.2-6.5 6.1-6.3 6.2-6.3 7.7-7.4 7.7-7.1 9.2-7.8 9.2-7.2 10.8-7.6 10.8-6.7 12.3-6.7 12.3-5.7 13.8-5.5 13.9-4.6 13.8-3.8M57.4 542l1.5-.1 1.6-.2 1.5-.3 1.6-.4 1.5-.5 1.5-.6 1.6-.8 1.5-.7 1.5-.9 1.6-1 3.1-2.1 3-2.3 3.1-2.5 3.1-2.7 3.1-2.9 4.6-4.4 4.6-4.7 4.6-4.7 6.2-6.4 6.1-6.4 6.2-6.3 7.7-7.7 7.7-7.3 9.2-8.2 9.2-7.6 10.8-8.1 10.8-7.2 12.3-7.2 12.3-6.2 13.8-5.8 13.9-4.9 13.8-4M57.4 542l1.5 0 1.6-.2 1.5-.1 1.6-.3 1.5-.3 1.5-.4 1.6-.4 1.5-.5 1.5-.6 1.6-.6 3.1-1.3 3-1.5 3.1-1.6 3.1-1.7 3.1-1.9 4.6-2.9 4.6-3.1 4.6-3.3 6.2-4.4 6.1-4.5 6.2-4.5 7.7-5.7 7.7-5.6 9.2-6.5 9.2-6.3 10.8-7 10.8-6.5 12.3-6.9 12.3-6.3 13.8-6.5 13.9-5.8 13.8-5.2M57.4 542l1.5-.1 1.6-.2 1.5-.3 1.6-.5 1.5-.6 1.5-.7 1.6-.8 1.5-.9 1.5-1 1.6-1.1 3.1-2.3 3-2.6 3.1-2.8 3.1-2.9 3.1-3.1 4.6-4.8 4.6-5 4.6-5 6.2-6.8 6.1-6.6 6.2-6.6 7.7-7.8 7.7-7.4 9.2-8.2 9.2-7.6 10.8-7.9 10.8-6.9 12.3-6.9 12.3-5.8 13.8-5.5 13.9-4.5 13.8-3.6M57.4 542l1.5 0 1.6 0 1.5 0 1.6 0 1.5 0 1.5 0 1.6 0 1.5 0 1.5 0 1.6 0 3.1 0 3 0 3.1 0 3.1 0 3.1 0 4.6 0 4.6 0 4.6 0 6.2 0 6.1 0 6.2 0 7.7 0 7.7 0 9.2 0 9.2 0 10.8 0 10.8 0 12.3 0 12.3 0 13.8 0 13.9 0 13.8 0M57.4 542l1.5 0 1.6-.1 1.5-.1 1.6-.1 1.5-.2 1.5-.3 1.6-.2 1.5-.3 1.5-.3 1.6-.4 3.1-.8 3-.9 3.1-1.1 3.1-1.1 3.1-1.2 4.6-1.9 4.6-2.1 4.6-2.3 6.2-3.1 6.1-3.3 6.2-3.4 7.7-4.3 7.7-4.5 9.2-5.3 9.2-5.3 10.8-6.2 10.8-5.9 12.3-6.5 12.3-6.3 13.8-6.6 13.9-6.1 13.8-5.7M57.4 542l1.5 0 1.6 0 1.5 0 1.6 0 1.5 0 1.5 0 1.6 0 1.5 0 1.5-.1 1.6 0 3.1 0 3 0 3.1-.1 3.1 0 3.1-.1 4.6-.1 4.6-.1 4.6-.1 6.2-.1 6.1-.2 6.2-.2 7.7-.2 7.7-.3 9.2-.3 9.2-.4 10.8-.5 10.8-.5 12.3-.6 12.3-.6 13.8-.8 13.9-.7 13.8-.8M57.4 542l1.5-.2 1.6-.4 1.5-.8 1.6-1 1.5-1.3 1.5-1.4 1.6-1.6 1.5-1.8 1.5-1.9 1.6-2.1 3.1-4.3 3-4.7 3.1-4.9 3.1-5 3.1-5.1 4.6-7.6 4.6-7.5 4.6-7.3 6.2-9.1 6.1-8.5 6.2-7.8 7.7-8.6 7.7-7.6 9.2-7.8 9.2-6.4 10.8-6.1 10.8-4.8 12.3-4.2 12.3-3.1 13.8-2.6 13.9-1.8 13.8-1.3M57.4 542l1.5-.1 1.6-.2 1.5-.3 1.6-.4 1.5-.5 1.5-.6 1.6-.7 1.5-.8 1.5-.9 1.6-.9 3.1-2 3-2.3 3.1-2.5 3.1-2.6 3.1-2.8 4.6-4.3 4.6-4.5 4.6-4.6 6.2-6.2 6.1-6.1 6.2-6.1 7.7-7.4 7.7-7 9.2-8 9.2-7.4 10.8-7.8 10.8-7 12.3-7.1 12.3-6.1 13.8-5.9 13.9-5 13.8-4.1M57.4 542l1.5 0 1.6-.1 1.5-.1 1.6-.1 1.5-.2 1.5-.2 1.6-.2 1.5-.3 1.5-.3 1.6-.3 3.1-.7 3-.9 3.1-.9 3.1-1 3.1-1.1 4.6-1.7 4.6-1.9 4.6-2 6.2-2.9 6.1-3 6.2-3.1 7.7-4 7.7-4 9.2-5 9.2-4.9 10.8-5.7 10.8-5.6 12.3-6.2 12.3-5.9 13.8-6.4 13.9-5.9 13.8-5.6M57.4 542l1.5-.3 1.6-.7 1.5-1.1 1.6-1.5 1.5-1.8 1.5-2 1.6-2.3 1.5-2.4 1.5-2.7 1.6-2.7 3.1-5.7 3-6 3.1-6.1 3.1-6.1 3.1-6 4.6-8.7 4.6-8.2 4.6-7.7 6.2-9.4 6.1-8.4 6.2-7.3 7.7-7.9 7.7-6.6 9.2-6.4 9.2-5.1 10.8-4.6 10.8-3.5 12.3-3 12.3-2.1 13.8-1.7 13.9-1.1 13.8-.8M57.4 542l1.5-.2 1.6-.4 1.5-.7 1.6-.9 1.5-1 1.5-1.3 1.6-1.4 1.5-1.6 1.5-1.6 1.6-1.8 3.1-3.7 3-4 3.1-4.2 3.1-4.3 3.1-4.3 4.6-6.4 4.6-6.4 4.6-6.1 6.2-7.9 6.1-7.4 6.2-6.8 7.7-7.8 7.7-7.1 9.2-7.4 9.2-6.5 10.8-6.5 10.8-5.5 12.3-5.2 12.3-4.2 13.8-3.9 13.9-3.1 13.8-2.4M57.4 542l1.5-.2 1.6-.6 1.5-1 1.6-1.2 1.5-1.6 1.5-1.7 1.6-1.9 1.5-2.2 1.5-2.2 1.6-2.4 3.1-5 3-5.2 3.1-5.4 3.1-5.4 3.1-5.4 4.6-7.9 4.6-7.6 4.6-7.2 6.2-9 6.1-8.1 6.2-7.3 7.7-8 7.7-6.9 9.2-7 9.2-5.7 10.8-5.5 10.8-4.3 12.3-3.8 12.3-2.9 13.8-2.4 13.9-1.8 13.8-1.3M57.4 542l1.5-.2 1.6-.8 1.5-1.1 1.6-1.4 1.5-1.8 1.5-2 1.6-2.2 1.5-2.4 1.5-2.6 1.6-2.7 3.1-5.7 3-5.9 3.1-6 3.1-6 3.1-6 4.6-8.7 4.6-8.2 4.6-7.7 6.2-9.4 6.1-8.4 6.2-7.4 7.7-7.9 7.7-6.6 9.2-6.5 9.2-5.2 10.8-4.7 10.8-3.5 12.3-3 12.3-2.2 13.8-1.7 13.9-1.2 13.8-.8M57.4 542l1.5 0 1.6-.1 1.5 0 1.6-.1 1.5-.1 1.5-.1 1.6-.2 1.5-.2 1.5-.2 1.6-.2 3.1-.5 3-.5 3.1-.6 3.1-.7 3.1-.8 4.6-1.2 4.6-1.3 4.6-1.4 6.2-2.1 6.1-2.1 6.2-2.3 7.7-3 7.7-3 9.2-3.8 9.2-3.9 10.8-4.5 10.8-4.5 12.3-5.2 12.3-5 13.8-5.6 13.9-5.3 13.8-5.2M57.4 542l1.5-.1 1.6-.1 1.5-.3 1.6-.4 1.5-.5 1.5-.6 1.6-.6 1.5-.8 1.5-.8 1.6-.9 3.1-2 3-2.1 3.1-2.4 3.1-2.6 3.1-2.6 4.6-4.2 4.6-4.4 4.6-4.5 6.2-6.1 6.1-6.1 6.2-6.1 7.7-7.3 7.7-7.1 9.2-8.1 9.2-7.5 10.8-7.9 10.8-7.2 12.3-7.3 12.3-6.3 13.8-6.1 13.9-5.1 13.8-4.3M57.4 542l1.5-.1 1.6-.5 1.5-.6 1.6-.9 1.5-1.1 1.5-1.3 1.6-1.5 1.5-1.5 1.5-1.8 1.6-1.8 3.1-4 3-4.3 3.1-4.5 3.1-4.6 3.1-4.8 4.6-7.1 4.6-7.2 4.6-6.9 6.2-8.9 6.1-8.4 6.2-7.7 7.7-8.8 7.7-7.8 9.2-8.1 9.2-6.8 10.8-6.5 10.8-5.3 12.3-4.7 12.3-3.6 13.8-3 13.9-2.2 13.8-1.5M57.4 542l1.5-.3 1.6-.7 1.5-1.3 1.6-1.5 1.5-1.9 1.5-2.2 1.6-2.4 1.5-2.6 1.5-2.7 1.6-2.9 3.1-5.9 3-6.2 3.1-6.3 3.1-6.2 3.1-6.1 4.6-8.9 4.6-8.3 4.6-7.7 6.2-9.4 6.1-8.2 6.2-7.2 7.7-7.7 7.7-6.4 9.2-6.2 9.2-4.9 10.8-4.4 10.8-3.3 12.3-2.8 12.3-2 13.8-1.6 13.9-1.1 13.8-.8M57.4 542l1.5 0 1.6 0 1.5 0 1.6 0 1.5 0 1.5 0 1.6 0 1.5 0 1.5 0 1.6 0 3.1-.1 3 0 3.1 0 3.1 0 3.1 0 4.6-.1 4.6 0 4.6-.1 6.2-.1 6.1-.1 6.2-.1 7.7-.1 7.7-.2 9.2-.2 9.2-.2 10.8-.3 10.8-.3 12.3-.3 12.3-.4 13.8-.5 13.9-.5 13.8-.6M57.4 542l1.5 0 1.6-.1 1.5-.1 1.6-.1 1.5-.2 1.5-.3 1.6-.2 1.5-.3 1.5-.3 1.6-.4 3.1-.8 3-.9 3.1-1.1 3.1-1.1 3.1-1.2 4.6-1.9 4.6-2.2 4.6-2.2 6.2-3.1 6.1-3.3 6.2-3.4 7.7-4.4 7.7-4.5 9.2-5.3 9.2-5.4 10.8-6.1 10.8-6 12.3-6.6 12.3-6.3 13.8-6.6 13.9-6.2 13.8-5.8M57.4 542l1.5-.1 1.6-.2 1.5-.4 1.6-.6 1.5-.7 1.5-.8 1.6-.9 1.5-1 1.5-1.1 1.6-1.2 3.1-2.7 3-2.9 3.1-3.1 3.1-3.3 3.1-3.4 4.6-5.4 4.6-5.4 4.6-5.5 6.2-7.3 6.1-7.1 6.2-7 7.7-8.2 7.7-7.6 9.2-8.5 9.2-7.6 10.8-7.8 10.8-6.7 12.3-6.5 12.3-5.5 13.8-4.9 13.9-4 13.8-3.1M57.4 542l1.5-.2 1.6-.7 1.5-1.1 1.6-1.4 1.5-1.6 1.5-2 1.6-2.1 1.5-2.4 1.5-2.4 1.6-2.7 3.1-5.5 3-5.7 3.1-5.9 3.1-5.9 3.1-5.9 4.6-8.6 4.6-8.1 4.6-7.7 6.2-9.4 6.1-8.4 6.2-7.5 7.7-8.1 7.7-6.7 9.2-6.7 9.2-5.3 10.8-4.9 10.8-3.6 12.3-3.2 12.3-2.2 13.8-1.8 13.9-1.3 13.8-.8M57.4 542l1.5-.1 1.6-.2 1.5-.3 1.6-.5 1.5-.5 1.5-.7 1.6-.7 1.5-.9 1.5-.9 1.6-1 3.1-2.2 3-2.4 3.1-2.6 3.1-2.8 3.1-3 4.6-4.5 4.6-4.8 4.6-4.8 6.2-6.5 6.1-6.4 6.2-6.3 7.7-7.6 7.7-7.3 9.2-8.1 9.2-7.5 10.8-7.9 10.8-7 12.3-7 12.3-5.9 13.8-5.7 13.9-4.7 13.8-3.9M57.4 542l1.5 0 1.6-.1 1.5-.2 1.6-.2 1.5-.3 1.5-.3 1.6-.4 1.5-.4 1.5-.5 1.6-.5 3.1-1.1 3-1.3 3.1-1.3 3.1-1.5 3.1-1.6 4.6-2.6 4.6-2.7 4.6-2.8 6.2-3.9 6.1-4 6.2-4.1 7.7-5.1 7.7-5 9.2-6 9.2-5.8 10.8-6.6 10.8-6.1 12.3-6.7 12.3-6.2 13.8-6.4 13.9-5.8 13.8-5.3M57.4 542l1.5-.1 1.6-.3 1.5-.4 1.6-.6 1.5-.7 1.5-.9 1.6-1 1.5-1.1 1.5-1.2 1.6-1.2 3.1-2.8 3-3.1 3.1-3.3 3.1-3.5 3.1-3.6 4.6-5.6 4.6-5.7 4.6-5.8 6.2-7.5 6.1-7.4 6.2-7.1 7.7-8.4 7.7-7.8 9.2-8.5 9.2-7.5 10.8-7.7 10.8-6.6 12.3-6.3 12.3-5.2 13.8-4.7 13.9-3.7 13.8-2.8M57.4 542l1.5-.1 1.6-.2 1.5-.4 1.6-.5 1.5-.6 1.5-.8 1.6-.8 1.5-.9 1.5-1.1 1.6-1.1 3.1-2.4 3-2.7 3.1-3 3.1-3 3.1-3.3 4.6-5 4.6-5.1 4.6-5.3 6.2-6.9 6.1-6.9 6.2-6.7 7.7-8 7.7-7.5 9.2-8.4 9.2-7.6 10.8-7.8 10.8-6.9 12.3-6.8 12.3-5.7 13.8-5.3 13.9-4.2 13.8-3.5M57.4 542l1.5-.1 1.6-.2 1.5-.4 1.6-.5 1.5-.6 1.5-.7 1.6-.8 1.5-1 1.5-1 1.6-1.1 3.1-2.4 3-2.7 3.1-2.9 3.1-3 3.1-3.2 4.6-5 4.6-5.2 4.6-5.2 6.2-7 6.1-6.9 6.2-6.7 7.7-8 7.7-7.6 9.2-8.5 9.2-7.6 10.8-8 10.8-7 12.3-6.8 12.3-5.8 13.8-5.3 13.9-4.3 13.8-3.4M57.4 542l1.5 0 1.6-.1 1.5-.1 1.6-.2 1.5-.3 1.5-.2 1.6-.4 1.5-.3 1.5-.4 1.6-.4 3.1-1 3-1.1 3.1-1.3 3.1-1.3 3.1-1.4 4.6-2.3 4.6-2.5 4.6-2.6 6.2-3.6 6.1-3.8 6.2-3.8 7.7-4.9 7.7-4.9 9.2-5.9 9.2-5.8 10.8-6.6 10.8-6.3 12.3-6.8 12.3-6.4 13.8-6.7 13.9-6.2 13.8-5.6M57.4 542l1.5-.2 1.6-.4 1.5-.7 1.6-.9 1.5-1.1 1.5-1.3 1.6-1.5 1.5-1.6 1.5-1.7 1.6-1.9 3.1-4 3-4.2 3.1-4.5 3.1-4.6 3.1-4.6 4.6-7 4.6-7 4.6-6.7 6.2-8.6 6.1-8 6.2-7.5 7.7-8.4 7.7-7.5 9.2-7.8 9.2-6.7 10.8-6.4 10.8-5.3 12.3-4.8 12.3-3.8 13.8-3.2 13.9-2.5 13.8-1.8M57.4 542l1.5 0 1.6 0 1.5 0 1.6 0 1.5 0 1.5 0 1.6 0 1.5 0 1.5 0 1.6-.1 3.1 0 3 0 3.1 0 3.1-.1 3.1 0 4.6-.1 4.6 0 4.6-.1 6.2-.1 6.1-.2 6.2-.1 7.7-.2 7.7-.2 9.2-.3 9.2-.3 10.8-.3 10.8-.4 12.3-.5 12.3-.5 13.8-.6 13.9-.6 13.8-.6M57.4 542l1.5-.1 1.6-.3 1.5-.4 1.6-.6 1.5-.7 1.5-.8 1.6-.9 1.5-1 1.5-1.1 1.6-1.2 3.1-2.5 3-2.7 3.1-2.9 3.1-3 3.1-3.1 4.6-4.7 4.6-4.8 4.6-4.7 6.2-6.1 6.1-6 6.2-5.8 7.7-6.7 7.7-6.4 9.2-7.1 9.2-6.4 10.8-6.8 10.8-6.1 12.3-6.1 12.3-5.4 13.8-5.2 13.9-4.5 13.8-3.9M57.4 542l1.5-.1 1.6-.1 1.5-.3 1.6-.4 1.5-.5 1.5-.5 1.6-.7 1.5-.7 1.5-.8 1.6-.9 3.1-1.9 3-2.1 3.1-2.2 3.1-2.5 3.1-2.5 4.6-4 4.6-4.2 4.6-4.2 6.2-5.8 6.1-5.7 6.2-5.7 7.7-7 7.7-6.6 9.2-7.6 9.2-7.1 10.8-7.6 10.8-6.9 12.3-7 12.3-6.2 13.8-6 13.9-5.2 13.8-4.4M57.4 542l1.5 0 1.6-.1 1.5-.1 1.6-.1 1.5-.1 1.5-.2 1.6-.2 1.5-.2 1.5-.3 1.6-.2 3.1-.7 3-.7 3.1-.8 3.1-.9 3.1-1 4.6-1.5 4.6-1.7 4.6-1.8 6.2-2.6 6.1-2.7 6.2-2.8 7.7-3.7 7.7-3.7 9.2-4.6 9.2-4.7 10.8-5.4 10.8-5.4 12.3-5.9 12.3-5.8 13.8-6.3 13.9-6 13.8-5.6M57.4 542l1.5-.1 1.6-.5 1.5-.6 1.6-.9 1.5-1.1 1.5-1.3 1.6-1.4 1.5-1.6 1.5-1.7 1.6-1.8 3.1-3.9 3-4.3 3.1-4.4 3.1-4.6 3.1-4.7 4.6-7.1 4.6-7.1 4.6-6.9 6.2-8.8 6.1-8.2 6.2-7.7 7.7-8.8 7.7-7.7 9.2-8.1 9.2-6.8 10.8-6.6 10.8-5.3 12.3-4.8 12.3-3.6 13.8-3.1 13.9-2.3 13.8-1.6M57.4 542l1.5-.1 1.6-.2 1.5-.3 1.6-.4 1.5-.5 1.5-.6 1.6-.7 1.5-.7 1.5-.9 1.6-.9 3.1-2 3-2.3 3.1-2.4 3.1-2.6 3.1-2.7 4.6-4.3 4.6-4.4 4.6-4.6 6.2-6.1 6.1-6.1 6.2-6 7.7-7.3 7.7-7 9.2-7.9 9.2-7.4 10.8-7.8 10.8-7 12.3-7.1 12.3-6.1 13.8-6 13.9-5 13.8-4.2M57.4 542l1.5-.3 1.6-.8 1.5-1.2 1.6-1.7 1.5-2 1.5-2.3 1.6-2.5 1.5-2.7 1.5-2.9 1.6-3.1 3.1-6.4 3-6.6 3.1-6.7 3.1-6.7 3.1-6.6 4.6-9.5 4.6-8.9 4.6-8.3 6.2-9.9 6.1-8.6 6.2-7.5 7.7-7.7 7.7-6.3 9.2-5.8 9.2-4.5 10.8-3.7 10.8-2.7 12.3-2 12.3-1.4 13.8-.9 13.9-.6 13.8-.4M57.4 542l1.5-.1 1.6-.3 1.5-.4 1.6-.6 1.5-.8 1.5-.9 1.6-1 1.5-1.1 1.5-1.3 1.6-1.3 3.1-2.9 3-3.2 3.1-3.3 3.1-3.6 3.1-3.7 4.6-5.7 4.6-5.9 4.6-5.8 6.2-7.7 6.1-7.5 6.2-7.2 7.7-8.4 7.7-7.8 9.2-8.5 9.2-7.6 10.8-7.6 10.8-6.5 12.3-6.2 12.3-5.1 13.8-4.5 13.9-3.6 13.8-2.7M57.4 542l1.5-.2 1.6-.4 1.5-.8 1.6-.9 1.5-1.2 1.5-1.4 1.6-1.6 1.5-1.7 1.5-1.9 1.6-2 3.1-4.2 3-4.6 3.1-4.8 3.1-4.9 3.1-5 4.6-7.5 4.6-7.4 4.6-7.2 6.2-9.1 6.1-8.4 6.2-7.8 7.7-8.8 7.7-7.6 9.2-7.9 9.2-6.5 10.8-6.2 10.8-4.9 12.3-4.4 12.3-3.2 13.8-2.7 13.9-1.9 13.8-1.4M57.4 542l1.5-.1 1.6-.2 1.5-.4 1.6-.5 1.5-.6 1.5-.8 1.6-.8 1.5-1 1.5-1 1.6-1.1 3.1-2.5 3-2.7 3.1-2.9 3.1-3.1 3.1-3.2 4.6-5.1 4.6-5.1 4.6-5.3 6.2-6.9 6.1-6.9 6.2-6.7 7.7-8 7.7-7.5 9.2-8.4 9.2-7.5 10.8-7.9 10.8-6.9 12.3-6.7 12.3-5.7 13.8-5.2 13.9-4.3 13.8-3.4M57.4 542l1.5-.1 1.6-.3 1.5-.5 1.6-.6 1.5-.8 1.5-.9 1.6-1.1 1.5-1.2 1.5-1.3 1.6-1.3 3.1-3.1 3-3.3 3.1-3.5 3.1-3.7 3.1-3.8 4.6-5.9 4.6-6 4.6-6 6.2-7.9 6.1-7.6 6.2-7.3 7.7-8.5 7.7-7.9 9.2-8.5 9.2-7.5 10.8-7.6 10.8-6.3 12.3-6.1 12.3-4.9 13.8-4.3 13.9-3.4 13.8-2.5M57.4 542l1.5-.1 1.6-.2 1.5-.3 1.6-.5 1.5-.6 1.5-.6 1.6-.8 1.5-.9 1.5-.9 1.6-1 3.1-2.3 3-2.5 3.1-2.7 3.1-2.8 3.1-3 4.6-4.7 4.6-4.8 4.6-4.9 6.2-6.6 6.1-6.5 6.2-6.4 7.7-7.7 7.7-7.3 9.2-8.2 9.2-7.5 10.8-7.9 10.8-7 12.3-7 12.3-5.9 13.8-5.6 13.9-4.6 13.8-3.8M57.4 542l1.5-.1 1.6-.2 1.5-.3 1.6-.4 1.5-.6 1.5-.6 1.6-.8 1.5-.8 1.5-.9 1.6-1 3.1-2.1 3-2.4 3.1-2.6 3.1-2.8 3.1-2.9 4.6-4.5 4.6-4.6 4.6-4.8 6.2-6.4 6.1-6.4 6.2-6.2 7.7-7.6 7.7-7.2 9.2-8.1 9.2-7.4 10.8-7.9 10.8-7 12.3-7 12.3-6.1 13.8-5.7 13.9-4.8 13.8-3.9M57.4 542l1.5-.2 1.6-.7 1.5-1.1 1.6-1.4 1.5-1.8 1.5-2 1.6-2.2 1.5-2.4 1.5-2.5 1.6-2.7 3.1-5.7 3-6 3.1-6.1 3.1-6.2 3.1-6 4.6-8.9 4.6-8.5 4.6-8 6.2-9.7 6.1-8.6 6.2-7.6 7.7-8.2 7.7-6.7 9.2-6.6 9.2-5.1 10.8-4.6 10.8-3.3 12.3-2.8 12.3-1.9 13.8-1.5 13.9-.9 13.8-.6M57.4 542l1.5 0 1.6-.1 1.5-.1 1.6-.2 1.5-.2 1.5-.2 1.6-.3 1.5-.4 1.5-.3 1.6-.4 3.1-.9 3-1 3.1-1.2 3.1-1.2 3.1-1.3 4.6-2.1 4.6-2.3 4.6-2.4 6.2-3.4 6.1-3.6 6.2-3.6 7.7-4.7 7.7-4.7 9.2-5.6 9.2-5.6 10.8-6.5 10.8-6.1 12.3-6.8 12.3-6.4 13.8-6.8 13.9-6.2 13.8-5.7M57.4 542l1.5-.2 1.6-.7 1.5-1.1 1.6-1.5 1.5-1.7 1.5-2 1.6-2.2 1.5-2.4 1.5-2.5 1.6-2.7 3.1-5.6 3-5.9 3.1-6 3.1-6 3.1-5.9 4.6-8.6 4.6-8.2 4.6-7.7 6.2-9.4 6.1-8.4 6.2-7.4 7.7-7.9 7.7-6.7 9.2-6.6 9.2-5.2 10.8-4.7 10.8-3.6 12.3-3.1 12.3-2.2 13.8-1.7 13.9-1.2 13.8-.9M57.4 542l1.5 0 1.6-.1 1.5-.2 1.6-.2 1.5-.2 1.5-.3 1.6-.4 1.5-.4 1.5-.4 1.6-.5 3.1-1.1 3-1.2 3.1-1.3 3.1-1.4 3.1-1.5 4.6-2.4 4.6-2.6 4.6-2.6 6.2-3.7 6.1-3.8 6.2-3.9 7.7-4.9 7.7-4.8 9.2-5.7 9.2-5.6 10.8-6.3 10.8-6 12.3-6.4 12.3-6 13.8-6.3 13.9-5.8 13.8-5.2M57.4 542l1.5-.3 1.6-.9 1.5-1.4 1.6-1.8 1.5-2.1 1.5-2.5 1.6-2.6 1.5-2.9 1.5-2.9 1.6-3.2 3.1-6.4 3-6.6 3.1-6.5 3.1-6.5 3.1-6.3 4.6-8.9 4.6-8.3 4.6-7.6 6.2-9.2 6.1-7.9 6.2-6.9 7.7-7.3 7.7-6 9.2-5.8 9.2-4.5 10.8-4.1 10.8-3.1 12.3-2.6 12.3-1.8 13.8-1.5 13.9-1 13.8-.7M57.4 542l1.5 0 1.6-.1 1.5-.1 1.6-.2 1.5-.2 1.5-.2 1.6-.3 1.5-.3 1.5-.3 1.6-.4 3.1-.9 3-.9 3.1-1.1 3.1-1.2 3.1-1.3 4.6-2 4.6-2.2 4.6-2.3 6.2-3.3 6.1-3.5 6.2-3.5 7.7-4.6 7.7-4.6 9.2-5.6 9.2-5.5 10.8-6.3 10.8-6.2 12.3-6.7 12.3-6.4 13.8-6.8 13.9-6.2 13.8-5.8M57.4 542l1.5-.1 1.6-.3 1.5-.4 1.6-.6 1.5-.8 1.5-.9 1.6-1 1.5-1.1 1.5-1.2 1.6-1.3 3.1-2.9 3-3.1 3.1-3.3 3.1-3.6 3.1-3.6 4.6-5.7 4.6-5.8 4.6-5.7 6.2-7.7 6.1-7.4 6.2-7.1 7.7-8.4 7.7-7.8 9.2-8.4 9.2-7.6 10.8-7.6 10.8-6.6 12.3-6.2 12.3-5.1 13.8-4.6 13.9-3.6 13.8-2.8M57.4 542l1.5-.1 1.6-.4 1.5-.6 1.6-.9 1.5-1 1.5-1.2 1.6-1.3 1.5-1.5 1.5-1.6 1.6-1.7 3.1-3.8 3-4 3.1-4.3 3.1-4.4 3.1-4.5 4.6-6.9 4.6-6.9 4.6-6.7 6.2-8.7 6.1-8.3 6.2-7.6 7.7-8.8 7.7-7.9 9.2-8.2 9.2-7.1 10.8-6.8 10.8-5.5 12.3-5.1 12.3-3.9 13.8-3.3 13.9-2.4 13.8-1.8M57.4 542l1.5-.1 1.6-.4 1.5-.6 1.6-.8 1.5-1 1.5-1.2 1.6-1.3 1.5-1.5 1.5-1.5 1.6-1.7 3.1-3.7 3-4 3.1-4.2 3.1-4.3 3.1-4.5 4.6-6.8 4.6-6.8 4.6-6.7 6.2-8.6 6.1-8.2 6.2-7.7 7.7-8.7 7.7-7.9 9.2-8.3 9.2-7.1 10.8-6.9 10.8-5.6 12.3-5.1 12.3-4 13.8-3.4 13.9-2.5 13.8-1.8M57.4 542l1.5-.2 1.6-.6 1.5-.9 1.6-1.1 1.5-1.5 1.5-1.7 1.6-1.8 1.5-2.1 1.5-2.2 1.6-2.3 3.1-5 3-5.2 3.1-5.5 3.1-5.5 3.1-5.6 4.6-8.2 4.6-8 4.6-7.6 6.2-9.5 6.1-8.7 6.2-7.8 7.7-8.5 7.7-7.3 9.2-7.2 9.2-5.9 10.8-5.4 10.8-4.1 12.3-3.5 12.3-2.5 13.8-2.1 13.9-1.3 13.8-1M57.4 542l1.5 0 1.6 0 1.5 0 1.6 0 1.5 0 1.5 0 1.6 0 1.5 0 1.5 0 1.6-.1 3.1 0 3 0 3.1 0 3.1-.1 3.1 0 4.6-.1 4.6-.1 4.6-.1 6.2-.1 6.1-.1 6.2-.2 7.7-.2 7.7-.2 9.2-.3 9.2-.3 10.8-.4 10.8-.5 12.3-.5 12.3-.5 13.8-.7 13.9-.6 13.8-.7M57.4 542l1.5 0 1.6-.2 1.5-.2 1.6-.3 1.5-.4 1.5-.5 1.6-.5 1.5-.6 1.5-.7 1.6-.7 3.1-1.6 3-1.8 3.1-2 3.1-2 3.1-2.2 4.6-3.5 4.6-3.7 4.6-3.7 6.2-5.2 6.1-5.2 6.2-5.1 7.7-6.4 7.7-6.3 9.2-7.2 9.2-6.8 10.8-7.4 10.8-6.8 12.3-7.2 12.3-6.3 13.8-6.4 13.9-5.6 13.8-4.8M57.4 542l1.5 0 1.6-.1 1.5 0 1.6-.1 1.5-.2 1.5-.1 1.6-.2 1.5-.2 1.5-.3 1.6-.3 3.1-.6 3-.6 3.1-.8 3.1-.8 3.1-1 4.6-1.5 4.6-1.6 4.6-1.7 6.2-2.5 6.1-2.7 6.2-2.8 7.7-3.6 7.7-3.7 9.2-4.6 9.2-4.7 10.8-5.5 10.8-5.5 12.3-6.1 12.3-6 13.8-6.5 13.9-6.1 13.8-5.9M57.4 542l1.5 0 1.6 0 1.5 0 1.6 0 1.5 0 1.5-.1 1.6 0 1.5 0 1.5 0 1.6 0 3.1-.1 3-.1 3.1 0 3.1-.1 3.1-.1 4.6-.1 4.6-.1 4.6-.1 6.2-.2 6.1-.1 6.2-.2 7.7-.2 7.7-.2 9.2-.2 9.2-.3 10.8-.3 10.8-.3 12.3-.3 12.3-.3 13.8-.4 13.9-.4 13.8-.4M57.4 542l1.5-.3 1.6-.8 1.5-1.3 1.6-1.7 1.5-2 1.5-2.3 1.6-2.5 1.5-2.7 1.5-2.9 1.6-3.1 3.1-6.3 3-6.6 3.1-6.6 3.1-6.6 3.1-6.4 4.6-9.2 4.6-8.7 4.6-8 6.2-9.6 6.1-8.4 6.2-7.3 7.7-7.6 7.7-6.2 9.2-5.9 9.2-4.5 10.8-4 10.8-2.9 12.3-2.3 12.3-1.6 13.8-1.2 13.9-.8 13.8-.5M57.4 542l1.5-.2 1.6-.5 1.5-.7 1.6-1 1.5-1.3 1.5-1.5 1.6-1.6 1.5-1.8 1.5-1.9 1.6-2.1 3.1-4.4 3-4.7 3.1-4.9 3.1-5.1 3.1-5.1 4.6-7.6 4.6-7.5 4.6-7.3 6.2-9.1 6.1-8.5 6.2-7.8 7.7-8.6 7.7-7.6 9.2-7.7 9.2-6.4 10.8-6 10.8-4.8 12.3-4.1 12.3-3.2 13.8-2.5 13.9-1.9 13.8-1.3M57.4 542l1.5-.2 1.6-.5 1.5-.8 1.6-1 1.5-1.3 1.5-1.5 1.6-1.7 1.5-1.8 1.5-2 1.6-2.1 3.1-4.5 3-4.8 3.1-5 3.1-5.1 3.1-5.2 4.6-7.8 4.6-7.6 4.6-7.3 6.2-9.2 6.1-8.5 6.2-7.7 7.7-8.7 7.7-7.5 9.2-7.6 9.2-6.3 10.8-6 10.8-4.6 12.3-4.1 12.3-3 13.8-2.4 13.9-1.8 13.8-1.2M57.4 542l1.5 0 1.6-.1 1.5 0 1.6-.1 1.5-.1 1.5-.1 1.6-.2 1.5-.2 1.5-.2 1.6-.2 3.1-.5 3-.6 3.1-.6 3.1-.7 3.1-.8 4.6-1.2 4.6-1.4 4.6-1.5 6.2-2.1 6.1-2.3 6.2-2.4 7.7-3.2 7.7-3.2 9.2-4.1 9.2-4.1 10.8-5 10.8-4.9 12.3-5.6 12.3-5.6 13.8-6 13.9-5.9 13.8-5.6M57.4 542l1.5-.1 1.6-.2 1.5-.4 1.6-.5 1.5-.7 1.5-.7 1.6-.8 1.5-.9 1.5-1 1.6-1 3.1-2.3 3-2.5 3.1-2.5 3.1-2.7 3.1-2.8 4.6-4.2 4.6-4.2 4.6-4.2 6.2-5.6 6.1-5.4 6.2-5.2 7.7-6.2 7.7-5.9 9.2-6.6 9.2-6.1 10.8-6.5 10.8-5.9 12.3-6.1 12.3-5.4 13.8-5.4 13.9-4.8 13.8-4.2M57.4 542l1.5-.2 1.6-.6 1.5-1 1.6-1.3 1.5-1.6 1.5-1.8 1.6-2 1.5-2.1 1.5-2.4 1.6-2.4 3.1-5.2 3-5.5 3.1-5.7 3.1-5.7 3.1-5.7 4.6-8.3 4.6-8 4.6-7.6 6.2-9.4 6.1-8.5 6.2-7.6 7.7-8.2 7.7-7 9.2-7 9.2-5.6 10.8-5.1 10.8-4 12.3-3.3 12.3-2.5 13.8-2 13.9-1.3 13.8-1M57.4 542l1.5-.1 1.6-.3 1.5-.5 1.6-.7 1.5-.8 1.5-.9 1.6-1.1 1.5-1.2 1.5-1.3 1.6-1.4 3.1-3.1 3-3.4 3.1-3.6 3.1-3.7 3.1-3.9 4.6-5.9 4.6-6.1 4.6-6 6.2-7.9 6.1-7.6 6.2-7.2 7.7-8.5 7.7-7.7 9.2-8.4 9.2-7.4 10.8-7.5 10.8-6.3 12.3-5.9 12.3-4.8 13.8-4.3 13.9-3.3 13.8-2.6M57.4 542l1.5 0 1.6 0 1.5 0 1.6 0 1.5 0 1.5 0 1.6 0 1.5-.1 1.5 0 1.6 0 3.1 0 3-.1 3.1 0 3.1-.1 3.1 0 4.6-.2 4.6-.1 4.6-.1 6.2-.2 6.1-.2 6.2-.2 7.7-.4 7.7-.3 9.2-.5 9.2-.5 10.8-.6 10.8-.6 12.3-.8 12.3-.9 13.8-1 13.9-1 13.8-1.1M57.4 542l1.5 0 1.6-.2 1.5-.2 1.6-.3 1.5-.3 1.5-.4 1.6-.5 1.5-.5 1.5-.6 1.6-.7 3.1-1.4 3-1.6 3.1-1.8 3.1-1.9 3.1-2.1 4.6-3.2 4.6-3.4 4.6-3.6 6.2-4.9 6.1-4.9 6.2-5.1 7.7-6.2 7.7-6.2 9.2-7.2 9.2-6.8 10.8-7.6 10.8-7 12.3-7.4 12.3-6.7 13.8-6.7 13.9-5.8 13.8-5.2M57.4 542l1.5 0 1.6-.2 1.5-.2 1.6-.3 1.5-.3 1.5-.5 1.6-.5 1.5-.5 1.5-.6 1.6-.7 3.1-1.5 3-1.7 3.1-1.8 3.1-2 3.1-2.1 4.6-3.3 4.6-3.6 4.6-3.6 6.2-5.1 6.1-5.2 6.2-5.1 7.7-6.5 7.7-6.3 9.2-7.4 9.2-7.1 10.8-7.7 10.8-7.2 12.3-7.4 12.3-6.8 13.8-6.7 13.9-5.9 13.8-5M57.4 542l1.5 0 1.6-.1 1.5-.1 1.6-.2 1.5-.2 1.5-.2 1.6-.3 1.5-.3 1.5-.3 1.6-.4 3.1-.9 3-1 3.1-1 3.1-1.2 3.1-1.3 4.6-2 4.6-2.2 4.6-2.4 6.2-3.2 6.1-3.5 6.2-3.5 7.7-4.5 7.7-4.6 9.2-5.5 9.2-5.4 10.8-6.3 10.8-6 12.3-6.7 12.3-6.3 13.8-6.6 13.9-6.2 13.8-5.6M57.4 542l1.5 0 1.6-.1 1.5-.2 1.6-.2 1.5-.2 1.5-.3 1.6-.3 1.5-.4 1.5-.4 1.6-.4 3.1-1 3-1.1 3.1-1.2 3.1-1.3 3.1-1.3 4.6-2.2 4.6-2.2 4.6-2.4 6.2-3.2 6.1-3.2 6.2-3.3 7.7-4.1 7.7-4.1 9.2-4.7 9.2-4.7 10.8-5.3 10.8-5 12.3-5.5 12.3-5.1 13.8-5.5 13.9-5 13.8-4.8M57.4 542l1.5 0 1.6-.2 1.5-.2 1.6-.2 1.5-.4 1.5-.4 1.6-.5 1.5-.5 1.5-.6 1.6-.6 3.1-1.4 3-1.6 3.1-1.8 3.1-1.9 3.1-2 4.6-3.2 4.6-3.4 4.6-3.6 6.2-4.9 6.1-5.1 6.2-5 7.7-6.4 7.7-6.3 9.2-7.3 9.2-7 10.8-7.7 10.8-7.3 12.3-7.5 12.3-6.9 13.8-6.8 13.9-6 13.8-5.3M57.4 542l1.5-.1 1.6-.3 1.5-.5 1.6-.7 1.5-.8 1.5-.9 1.6-1 1.5-1.2 1.5-1.2 1.6-1.2 3.1-2.7 3-2.9 3.1-3 3.1-3.1 3.1-3.1 4.6-4.6 4.6-4.7 4.6-4.5 6.2-5.9 6.1-5.7 6.2-5.4 7.7-6.3 7.7-5.9 9.2-6.6 9.2-6 10.8-6.4 10.8-5.7 12.3-5.8 12.3-5.2 13.8-5.2 13.9-4.4 13.8-4M57.4 542l1.5-.1 1.6-.1 1.5-.3 1.6-.3 1.5-.5 1.5-.5 1.6-.6 1.5-.6 1.5-.8 1.6-.7 3.1-1.8 3-2 3.1-2.1 3.1-2.3 3.1-2.4 4.6-3.8 4.6-3.9 4.6-4.1 6.2-5.6 6.1-5.6 6.2-5.5 7.7-6.9 7.7-6.6 9.2-7.6 9.2-7.1 10.8-7.7 10.8-7 12.3-7.3 12.3-6.4 13.8-6.2 13.9-5.4 13.8-4.7M57.4 542l1.5-.1 1.6-.4 1.5-.5 1.6-.8 1.5-.9 1.5-1.1 1.6-1.2 1.5-1.4 1.5-1.4 1.6-1.6 3.1-3.5 3-3.7 3.1-4 3.1-4.1 3.1-4.2 4.6-6.5 4.6-6.6 4.6-6.4 6.2-8.4 6.1-8.1 6.2-7.5 7.7-8.8 7.7-7.9 9.2-8.4 9.2-7.2 10.8-7.2 10.8-5.9 12.3-5.4 12.3-4.3 13.8-3.7 13.9-2.8 13.8-2.1M57.4 542l1.5 0 1.6-.1 1.5-.1 1.6-.1 1.5-.1 1.5-.2 1.6-.2 1.5-.2 1.5-.3 1.6-.2 3.1-.7 3-.7 3.1-.8 3.1-.9 3.1-.9 4.6-1.5 4.6-1.7 4.6-1.8 6.2-2.5 6.1-2.6 6.2-2.8 7.7-3.5 7.7-3.7 9.2-4.4 9.2-4.5 10.8-5.2 10.8-5.2 12.3-5.8 12.3-5.5 13.8-6 13.9-5.8 13.8-5.4M57.4 542l1.5 0 1.6-.1 1.5-.1 1.6-.2 1.5-.3 1.5-.2 1.6-.4 1.5-.3 1.5-.4 1.6-.5 3.1-1 3-1.1 3.1-1.3 3.1-1.3 3.1-1.5 4.6-2.4 4.6-2.5 4.6-2.6 6.2-3.8 6.1-3.8 6.2-4 7.7-5.1 7.7-5.1 9.2-6 9.2-6 10.8-6.8 10.8-6.5 12.3-7.1 12.3-6.6 13.8-6.9 13.9-6.3 13.8-5.7M57.4 542l1.5-.1 1.6-.2 1.5-.4 1.6-.5 1.5-.6 1.5-.8 1.6-.8 1.5-1 1.5-1 1.6-1.1 3.1-2.5 3-2.7 3.1-2.9 3.1-3.1 3.1-3.2 4.6-5 4.6-5.2 4.6-5.2 6.2-7 6.1-6.9 6.2-6.6 7.7-8 7.7-7.6 9.2-8.3 9.2-7.6 10.8-7.9 10.8-6.8 12.3-6.8 12.3-5.6 13.8-5.3 13.9-4.3 13.8-3.4M57.4 542l1.5-.2 1.6-.5 1.5-.9 1.6-1.2 1.5-1.4 1.5-1.6 1.6-1.8 1.5-2 1.5-2.1 1.6-2.3 3.1-4.8 3-5.1 3.1-5.3 3.1-5.4 3.1-5.4 4.6-8.1 4.6-7.8 4.6-7.5 6.2-9.3 6.1-8.6 6.2-7.7 7.7-8.5 7.7-7.3 9.2-7.4 9.2-6 10.8-5.5 10.8-4.3 12.3-3.7 12.3-2.8 13.8-2.2 13.9-1.5 13.8-1.1M57.4 542l1.5-.1 1.6-.2 1.5-.3 1.6-.4 1.5-.6 1.5-.7 1.6-.7 1.5-.8 1.5-1 1.6-1 3.1-2.2 3-2.4 3.1-2.6 3.1-2.8 3.1-2.9 4.6-4.6 4.6-4.7 4.6-4.9 6.2-6.4 6.1-6.5 6.2-6.3 7.7-7.6 7.7-7.3 9.2-8.1 9.2-7.5 10.8-7.9 10.8-7 12.3-7 12.3-6 13.8-5.7 13.9-4.7 13.8-3.9M57.4 542l1.5 0 1.6-.1 1.5-.2 1.6-.1 1.5-.3 1.5-.3 1.6-.3 1.5-.4 1.5-.4 1.6-.5 3.1-1 3-1.1 3.1-1.3 3.1-1.3 3.1-1.5 4.6-2.4 4.6-2.4 4.6-2.7 6.2-3.6 6.1-3.8 6.2-3.8 7.7-4.9 7.7-4.9 9.2-5.8 9.2-5.7 10.8-6.4 10.8-6.2 12.3-6.6 12.3-6.2 13.8-6.5 13.9-6 13.8-5.4M57.4 542l1.5-.1 1.6-.2 1.5-.4 1.6-.6 1.5-.6 1.5-.8 1.6-.9 1.5-1 1.5-1.1 1.6-1.2 3.1-2.6 3-2.9 3.1-3 3.1-3.3 3.1-3.4 4.6-5.2 4.6-5.4 4.6-5.4 6.2-7.3 6.1-7.1 6.2-6.8 7.7-8.2 7.7-7.7 9.2-8.4 9.2-7.6 10.8-7.8 10.8-6.8 12.3-6.6 12.3-5.5 13.8-5 13.9-4.1 13.8-3.2M57.4 542l1.5-.2 1.6-.8 1.5-1.1 1.6-1.4 1.5-1.8 1.5-2 1.6-2.2 1.5-2.4 1.5-2.6 1.6-2.7 3.1-5.7 3-5.9 3.1-6 3.1-6 3.1-6 4.6-8.7 4.6-8.2 4.6-7.7 6.2-9.4 6.1-8.4 6.2-7.4 7.7-8 7.7-6.6 9.2-6.5 9.2-5.2 10.8-4.7 10.8-3.5 12.3-3 12.3-2.1 13.8-1.7 13.9-1.2 13.8-.8M57.4 542l1.5-.2 1.6-.5 1.5-.8 1.6-1.1 1.5-1.3 1.5-1.5 1.6-1.7 1.5-1.9 1.5-2 1.6-2.2 3.1-4.5 3-4.9 3.1-5.1 3.1-5.2 3.1-5.3 4.6-7.8 4.6-7.6 4.6-7.4 6.2-9.3 6.1-8.5 6.2-7.7 7.7-8.6 7.7-7.5 9.2-7.6 9.2-6.2 10.8-5.8 10.8-4.6 12.3-4 12.3-2.9 13.8-2.4 13.9-1.7 13.8-1.2M57.4 542l1.5-.2 1.6-.6 1.5-.9 1.6-1.3 1.5-1.5 1.5-1.7 1.6-1.9 1.5-2.1 1.5-2.2 1.6-2.3 3.1-5 3-5.2 3.1-5.3 3.1-5.5 3.1-5.4 4.6-7.9 4.6-7.7 4.6-7.3 6.2-9 6.1-8.2 6.2-7.4 7.7-8.2 7.7-7 9.2-7 9.2-5.8 10.8-5.5 10.8-4.3 12.3-3.7 12.3-2.9 13.8-2.4 13.9-1.7 13.8-1.3M57.4 542l1.5-.1 1.6-.1 1.5-.3 1.6-.4 1.5-.6 1.5-.5 1.6-.7 1.5-.8 1.5-.8 1.6-1 3.1-2 3-2.2 3.1-2.4 3.1-2.6 3.1-2.8 4.6-4.2 4.6-4.5 4.6-4.6 6.2-6.1 6.1-6.2 6.2-6.1 7.7-7.4 7.7-7.1 9.2-8.1 9.2-7.4 10.8-8 10.8-7.1 12.3-7.2 12.3-6.2 13.8-6 13.9-5 13.8-4.2M57.4 542l1.5-.7 1.6-2.1 1.5-3 1.6-3.9 1.5-4.4 1.5-4.9 1.6-5.2 1.5-5.4 1.5-5.5 1.6-5.6 3.1-10.9 3-10.4 3.1-9.8 3.1-8.9 3.1-8.1 4.6-10.5 4.6-8.7 4.6-7.1 6.2-7.4 6.1-5.5 6.2-3.9 7.7-3.5 7.7-2.3 9.2-1.7 9.2-.9 10.8-.7 10.8-.3 12.3-.2 12.3-.1 13.8-.1 13.9 0 13.8 0M57.4 542l1.5-.7 1.6-2 1.5-3 1.6-3.7 1.5-4.3 1.5-4.8 1.6-5.1 1.5-5.3 1.5-5.4 1.6-5.4 3.1-10.8 3-10.3 3.1-9.6 3.1-8.9 3.1-8.1 4.6-10.5 4.6-8.8 4.6-7.2 6.2-7.6 6.1-5.6 6.2-4.1 7.7-3.6 7.7-2.4 9.2-1.9 9.2-1.1 10.8-.7 10.8-.4 12.3-.2 12.3-.1 13.8-.1 13.9 0 13.8 0M57.4 542l1.5-.7 1.6-1.8 1.5-2.8 1.6-3.6 1.5-4.1 1.5-4.6 1.6-4.8 1.5-5.1 1.5-5.2 1.6-5.3 3.1-10.4 3-10.1 3.1-9.5 3.1-8.8 3.1-8 4.6-10.6 4.6-9 4.6-7.4 6.2-7.8 6.1-5.9 6.2-4.5 7.7-3.9 7.7-2.6 9.2-2.1 9.2-1.2 10.8-.9 10.8-.4 12.3-.3 12.3-.2 13.8 0 13.9-.1 13.8 0M57.4 542l1.5-.6 1.6-1.7 1.5-2.5 1.6-3.3 1.5-3.8 1.5-4.2 1.6-4.5 1.5-4.7 1.5-4.9 1.6-5 3.1-9.9 3-9.7 3.1-9.3 3.1-8.6 3.1-8 4.6-10.7 4.6-9.2 4.6-7.7 6.2-8.3 6.1-6.4 6.2-4.8 7.7-4.5 7.7-3 9.2-2.5 9.2-1.5 10.8-1 10.8-.6 12.3-.4 12.3-.2 13.8-.1 13.9-.1 13.8 0M57.4 542l1.5-.6 1.6-1.7 1.5-2.6 1.6-3.2 1.5-3.8 1.5-4.3 1.6-4.5 1.5-4.8 1.5-4.9 1.6-5 3.1-10 3-9.7 3.1-9.3 3.1-8.6 3.1-8 4.6-10.7 4.6-9.1 4.6-7.7 6.2-8.3 6.1-6.4 6.2-4.8 7.7-4.4 7.7-3 9.2-2.4 9.2-1.5 10.8-1.1 10.8-.6 12.3-.3 12.3-.2 13.8-.1 13.9-.1 13.8 0M57.4 542l1.5-.7 1.6-2 1.5-2.9 1.6-3.7 1.5-4.3 1.5-4.8 1.6-5 1.5-5.3 1.5-5.4 1.6-5.4 3.1-10.7 3-10.2 3.1-9.7 3.1-8.8 3.1-8.1 4.6-10.5 4.6-8.9 4.6-7.2 6.2-7.6 6.1-5.7 6.2-4.1 7.7-3.7 7.7-2.4 9.2-1.9 9.2-1.1 10.8-.8 10.8-.3 12.3-.3 12.3-.1 13.8-.1 13.9 0 13.8 0M57.4 542l1.5-.6 1.6-1.7 1.5-2.6 1.6-3.3 1.5-3.8 1.5-4.3 1.6-4.5 1.5-4.8 1.5-4.9 1.6-5 3.1-10.1 3-9.7 3.1-9.3 3.1-8.7 3.1-8 4.6-10.7 4.6-9.1 4.6-7.7 6.2-8.3 6.1-6.3 6.2-4.8 7.7-4.3 7.7-3 9.2-2.4 9.2-1.5 10.8-1 10.8-.6 12.3-.3 12.3-.2 13.8-.1 13.9-.1 13.8 0M57.4 542l1.5-.7 1.6-2 1.5-3 1.6-3.8 1.5-4.3 1.5-4.9 1.6-5.1 1.5-5.3 1.5-5.4 1.6-5.5 3.1-10.8 3-10.3 3.1-9.7 3.1-8.9 3.1-8.1 4.6-10.5 4.6-8.8 4.6-7.2 6.2-7.5 6.1-5.6 6.2-4 7.7-3.6 7.7-2.4 9.2-1.8 9.2-1 10.8-.7 10.8-.4 12.3-.2 12.3-.1 13.8-.1 13.9 0 13.8 0" class="gr"/>
<path d="M57.4 542l2.3-1 2.3-1.7 2.3-2 2.3-2.3 2.3-2.5 2.3-2.6 2.4-2.7 2.3-2.9 2.3-2.9 2.3-2.9 2.3-3 2.3-3.1 2.3-3 2.3-3 2.3-3.1 2.3-3 2.3-3 2.3-2.9 2.3-3 2.4-2.9 2.3-2.8 2.3-2.8 2.3-2.7 2.3-2.7 2.3-2.6 2.3-2.6 2.3-2.5 2.3-2.5 2.3-2.4 2.3-2.3 2.3-2.2 2.3-2.2 2.3-2.2 2.4-2 2.3-2 2.3-1.9 2.3-1.9 2.3-1.8 2.3-1.8 2.3-1.6 2.3-1.7 2.3-1.5 2.3-1.5 2.3-1.5 2.3-1.4 2.3-1.3 2.4-1.3 2.3-1.2 2.3-1.2 2.3-1.1 2.3-1.1 2.3-1 2.3-1 2.3-1 2.3-.9 2.3-.9 2.3-.8 2.3-.8 2.3-.7 2.3-.7 2.4-.7 2.3-.7 2.3-.6 2.3-.6 2.3-.6 2.3-.5 2.3-.5 2.3-.5 2.3-.5 2.3-.4 2.3-.4 2.3-.4 2.3-.4 2.4-.3 2.3-.4 2.3-.3 2.3-.3 2.3-.3 2.3-.2 2.3-.3" class="bk"/>
<path d="M57.4 542l3.1-1.9 3.1-3.3 3-4.1 3.1-4.6 3.1-5 3.1-5.2 3-5.4 3.1-5.5 3.1-5.6 3.1-5.5 3-5.4 3.1-5.4 3.1-5.2 3.1-5 3.1-4.8 3-4.7 3.1-4.5 3.1-4.2 3.1-4 3-3.9 3.1-3.6 3.1-3.3 3.1-3.2 3-3 3.1-2.7 3.1-2.6 3.1-2.4 3-2.2 3.1-2 3.1-1.9 3.1-1.7 3.1-1.6 3-1.4 3.1-1.4 3.1-1.2 3.1-1.1 3-1 3.1-.9 3.1-.8 3.1-.8 3-.6 3.1-.6 3.1-.6 3.1-.5 3-.4 3.1-.4 3.1-.4 3.1-.3 3.1-.3 3-.2 3.1-.2 3.1-.2 3.1-.2 3-.2 3.1-.1 3.1-.1 3.1-.1 3-.1 3.1-.1 3.1-.1" class="cg"/>
<path d="M57.4 542l3.1-.2 3.1-.3 3-.5 3.1-.5 3.1-.7 3.1-.8 3-.9 3.1-.9 3.1-1 3.1-1.1 3-1.1 3.1-1.2 3.1-1.2 3.1-1.3 3.1-1.3 3-1.4 3.1-1.3 3.1-1.4 3.1-1.5 3-1.4 3.1-1.5 3.1-1.5 3.1-1.5 3-1.5 3.1-1.5 3.1-1.5 3.1-1.5 3-1.5 3.1-1.5 3.1-1.5 3.1-1.5 3.1-1.5 3-1.4 3.1-1.5 3.1-1.4 3.1-1.4 3-1.4 3.1-1.4 3.1-1.4 3.1-1.3 3-1.3 3.1-1.3 3.1-1.2 3.1-1.3 3-1.2 3.1-1.2 3.1-1.1 3.1-1.2 3.1-1.1 3-1 3.1-1.1 3.1-1 3.1-1 3-.9 3.1-1 3.1-.9 3.1-.9 3-.8 3.1-.8 3.1-.8" class="cg"/>
<path d="M57.4 542l3.1-2.4 3.1-4.1 3-5 3.1-5.6 3.1-6 3.1-6.2 3-6.3 3.1-6.3 3.1-6.3 3.1-6.2 3-6 3.1-5.8 3.1-5.6 3.1-5.3 3.1-5 3-4.8 3.1-4.5 3.1-4.2 3.1-4 3-3.6 3.1-3.4 3.1-3.1 3.1-2.9 3-2.7 3.1-2.4 3.1-2.2 3.1-2 3-1.8 3.1-1.7 3.1-1.5 3.1-1.4 3.1-1.2 3-1.1 3.1-1 3.1-.8 3.1-.8 3-.7 3.1-.6 3.1-.6 3.1-.5 3-.4 3.1-.4 3.1-.3 3.1-.3 3-.3 3.1-.2 3.1-.2 3.1-.2 3.1-.1 3-.2 3.1-.1 3.1-.1 3.1-.1 3 0 3.1-.1 3.1-.1 3.1 0 3 0 3.1-.1 3.1 0" class="cr"/>
<path d="M57.4 542l3.1-.1 3.1-.1 3-.1 3.1-.2 3.1-.2 3.1-.2 3-.2 3.1-.2 3.1-.3 3.1-.3 3-.2 3.1-.3 3.1-.4 3.1-.3 3.1-.3 3-.3 3.1-.4 3.1-.3 3.1-.4 3-.4 3.1-.4 3.1-.3 3.1-.4 3-.4 3.1-.4 3.1-.4 3.1-.5 3-.4 3.1-.4 3.1-.4 3.1-.5 3.1-.4 3-.4 3.1-.5 3.1-.4 3.1-.5 3-.4 3.1-.5 3.1-.4 3.1-.5 3-.4 3.1-.5 3.1-.5 3.1-.4 3-.5 3.1-.5 3.1-.4 3.1-.5 3.1-.5 3-.4 3.1-.5 3.1-.5 3.1-.4 3-.5 3.1-.4 3.1-.5 3.1-.5 3-.4 3.1-.5 3.1-.5" class="cr"/>
<path d="M57.4 542l3.1-3.8 3.1-6 3-7 3.1-7.6 3.1-7.9 3.1-7.9 3-7.9 3.1-7.6 3.1-7.4 3.1-7 3-6.7 3.1-6.2 3.1-5.8 3.1-5.4 3.1-4.9 3-4.6 3.1-4.1 3.1-3.8 3.1-3.4 3-3 3.1-2.8 3.1-2.5 3.1-2.2 3-1.9 3.1-1.7 3.1-1.6 3.1-1.3 3-1.2 3.1-1 3.1-.9 3.1-.8 3.1-.7 3-.6 3.1-.5 3.1-.5 3.1-.3 3-.4 3.1-.3 3.1-.2 3.1-.2 3-.2 3.1-.1 3.1-.2 3.1-.1 3-.1 3.1 0 3.1-.1 3.1-.1 3.1 0 3 0 3.1-.1 3.1 0 3.1 0 3 0 3.1-.1 3.1 0 3.1 0 3 0 3.1 0 3.1 0" class="cb"/>
<path d="M57.4 542l3.1 0 3.1 0 3 0 3.1 0 3.1 0 3.1 0 3 0 3.1 0 3.1 0 3.1 0 3 0 3.1 0 3.1 0 3.1 0 3.1 0 3 0 3.1 0 3.1 0 3.1 0 3 0 3.1 0 3.1 0 3.1 0 3 0 3.1 0 3.1 0 3.1 0 3 0 3.1 0 3.1 0 3.1 0 3.1 0 3 0 3.1 0 3.1 0 3.1 0 3 0 3.1 0 3.1 0 3.1 0 3 0 3.1 0 3.1 0 3.1 0 3 0 3.1 0 3.1 0 3.1 0 3.1 0 3 0 3.1 0 3.1 0 3.1 0 3 0 3.1 0 3.1 0 3.1 0 3 0 3.1 0 3.1 0" class="cb"/>
</g>
<rect x="564.3" y="175.4" width="90.8" height="61.7" fill="#fff" stroke="#222" stroke-width="1"/>
<path d="M568.2 183.7h24.5" stroke="#000" stroke-width="1.3"/>
<path d="M568.2 194.8h24.5" stroke="#bdbdbd" stroke-width="1.3"/>
<path d="M568.2 207h24.5" class="cg"/>
<path d="M568.2 218.4h24.5" class="cr" stroke-dasharray="2 1"/>
<path d="M568.2 229.3h24.5" stroke="#3b6fd8" stroke-width="1.5" stroke-dasharray="4 2 1.5 2"/>
<text x="600.8" y="186.7" class="lg">Solved Value</text>
<text x="600.8" y="197.8" class="lg">Realizations</text>
<text x="600.8" y="210.0" class="lg">80% CI</text>
<text x="600.8" y="221.4" class="lg">90% CI</text>
<text x="600.8" y="232.3" class="lg">95% CI</text>
<rect x="355.3" y="400.2" width="190.5" height="141.7" fill="none" stroke="#b4b4b4" stroke-width="1"/>
<path d="M355.3 541.9h1.8M545.8 541.9h-1.8M355.3 513.6h1.8M545.8 513.6h-1.8M355.3 485.2h1.8M545.8 485.2h-1.8M355.3 456.9h1.8M545.8 456.9h-1.8M355.3 428.5h1.8M545.8 428.5h-1.8M355.3 400.2h1.8M545.8 400.2h-1.8M434.7 541.9v-1.8M434.7 400.2v1.8M514.0 541.9v-1.8M514.0 400.2v1.8" stroke="#b4b4b4" stroke-width=".8" fill="none"/>
<text x="350.9" y="546.0" class="tk" text-anchor="end">0</text>
<text x="350.9" y="517.7" class="tk" text-anchor="end">20</text>
<text x="350.9" y="489.3" class="tk" text-anchor="end">40</text>
<text x="350.9" y="461.0" class="tk" text-anchor="end">60</text>
<text x="350.9" y="432.6" class="tk" text-anchor="end">80</text>
<text x="350.9" y="404.3" class="tk" text-anchor="end">100</text>
<text x="434.7" y="558.3" class="tk" text-anchor="middle">50</text>
<text x="514.0" y="558.3" class="tk" text-anchor="middle">100</text>
<text x="451.0" y="575.9" class="al" text-anchor="middle">Time (hrs)</text>
<text transform="translate(325.6 471.0) rotate(-90)" class="yl" text-anchor="middle">LTR (%)</text>
<g clip-path="url(#clipf)">
<path d="M355.3 400.2l11.1 59.1 8 26.4 7.9 18 9.5 14.2 11.1 10 12.7 6.4 14.3 3.8 15.9 2.1 17.4 1 19.1.4 20.6.2 20.7.1 22.2 0M355.3 400.2l11.1 66.4 8 27.3 7.9 17.5 9.5 12.7 11.1 8.4 12.7 4.8 14.3 2.6 15.9 1.2 17.4.5 19.1.2 20.6.1 20.7 0 22.2 0M355.3 400.2l11.1 34.5 8 19.4 7.9 15.8 9.5 15.3 11.1 13.8 12.7 11.7 14.3 9.4 15.9 7.2 17.4 5.2 19.1 3.6 20.6 2.3 20.7 1.4 22.2.9M355.3 400.2l11.1 7.5 8 5.2 7.9 4.9 9.5 5.7 11.1 6.3 12.7 6.7 14.3 7.2 15.9 7.3 17.4 7.5 19.1 7.5 20.6 7.3 20.7 6.6 22.2 6.4M355.3 400.2l11.1 51.3 8 24.8 7.9 18 9.5 15.2 11.1 11.7 12.7 8.3 14.3 5.5 15.9 3.2 17.4 1.9 19.1 1 20.6.4 20.7.2 22.2.1M355.3 400.2l11.1 17.3 8 11.1 7.9 10.1 9.5 10.9 11.1 11.3 12.7 11.2 14.3 10.8 15.9 10.1 17.4 9 19.1 8 20.6 6.9 20.7 5.4 22.2 4.5M355.3 400.2l11.1 60.7 8 26.7 7.9 17.9 9.5 13.8 11.1 9.7 12.7 6.1 14.3 3.5 15.9 1.8 17.4.9 19.1.4 20.6.1 20.7.1 22.2 0M355.3 400.2l11.1 34.6 8 19.4 7.9 15.9 9.5 15.3 11.1 13.8 12.7 11.7 14.3 9.3 15.9 7.2 17.4 5.1 19.1 3.6 20.6 2.4 20.7 1.3 22.2.9M355.3 400.2l11.1 43.2 8 22.5 7.9 17.4 9.5 15.7 11.1 13 12.7 10.2 14.3 7.3 15.9 5 17.4 3.2 19.1 2 20.6 1.1 20.7.5 22.2.3M355.3 400.2l11.1 74.9 8 27.8 7.9 16.2 9.5 10.8 11.1 6.4 12.7 3.2 14.3 1.5 15.9.6 17.4.2 19.1.1 20.6 0 20.7 0 22.2 0M355.3 400.2l11.1 64.4 8 27.2 7.9 17.6 9.5 13.2 11.1 8.8 12.7 5.2 14.3 2.9 15.9 1.4 17.4.6 19.1.3 20.6.1 20.7 0 22.2 0M355.3 400.2l11.1 67.9 8 27.5 7.9 17.3 9.5 12.4 11.1 8 12.7 4.5 14.3 2.3 15.9 1.1 17.4.5 19.1.1 20.6.1 20.7 0 22.2 0M355.3 400.2l11.1 50.1 8 24.6 7.9 17.9 9.5 15.4 11.1 11.9 12.7 8.6 14.3 5.7 15.9 3.5 17.4 2 19.1 1 20.6.6 20.7.2 22.2.1M355.3 400.2l11.1 73.2 8 27.7 7.9 16.5 9.5 11.3 11.1 6.7 12.7 3.6 14.3 1.6 15.9.7 17.4.3 19.1.1 20.6 0 20.7 0 22.2 0M355.3 400.2l11.1 4.8 8 3.4 7.9 3.3 9.5 3.8 11.1 4.3 12.7 4.7 14.3 5.2 15.9 5.4 17.4 5.7 19.1 5.8 20.6 6 20.7 5.5 22.2 5.7M355.3 400.2l11.1 70.4 8 27.7 7.9 16.9 9.5 11.9 11.1 7.3 12.7 4.1 14.3 2 15.9.9 17.4.3 19.1.1 20.6.1 20.7 0 22.2 0M355.3 400.2l11.1 38.1 8 20.7 7.9 16.6 9.5 15.6 11.1 13.6 12.7 11.2 14.3 8.6 15.9 6.2 17.4 4.3 19.1 2.8 20.6 1.8 20.7 1 22.2.5M355.3 400.2l11.1 25.1 8 15.1 7.9 13.2 9.5 13.5 11.1 13.3 12.7 12.2 14.3 10.9 15.9 9.3 17.4 7.7 19.1 6.1 20.6 4.6 20.7 3.3 22.2 2.4M355.3 400.2l11.1 48.7 8 24.2 7.9 17.9 9.5 15.4 11.1 12.2 12.7 8.9 14.3 6 15.9 3.8 17.4 2.2 19.1 1.3 20.6.6 20.7.3 22.2.1M355.3 400.2l11.1 73.3 8 27.8 7.9 16.4 9.5 11.3 11.1 6.7 12.7 3.5 14.3 1.6 15.9.7 17.4.3 19.1.1 20.6 0 20.7 0 22.2 0M355.3 400.2l11.1 33.4 8 18.9 7.9 15.7 9.5 15.1 11.1 13.8 12.7 11.9 14.3 9.6 15.9 7.4 17.4 5.5 19.1 3.8 20.6 2.6 20.7 1.6 22.2 1M355.3 400.2l11.1 71.4 8 27.7 7.9 16.8 9.5 11.7 11.1 7.1 12.7 3.9 14.3 1.8 15.9.8 17.4.3 19.1.2 20.6 0 20.7 0 22.2 0M355.3 400.2l11.1 43.9 8 22.8 7.9 17.5 9.5 15.6 11.1 13 12.7 10 14.3 7.2 15.9 4.8 17.4 3 19.1 1.9 20.6 1 20.7.5 22.2.3M355.3 400.2l11.1 74.5 8 27.7 7.9 16.3 9.5 11 11.1 6.4 12.7 3.3 14.3 1.6 15.9.6 17.4.2 19.1.1 20.6 0 20.7 0 22.2 0M355.3 400.2l11.1 63.4 8 27.1 7.9 17.7 9.5 13.3 11.1 9.1 12.7 5.4 14.3 3.1 15.9 1.5 17.4.7 19.1.2 20.6.1 20.7.1 22.2 0M355.3 400.2l11.1 64.5 8 27.2 7.9 17.6 9.5 13.2 11.1 8.7 12.7 5.3 14.3 2.8 15.9 1.4 17.4.6 19.1.3 20.6.1 20.7 0 22.2 0M355.3 400.2l11.1 35.9 8 19.9 7.9 16.1 9.5 15.5 11.1 13.7 12.7 11.5 14.3 9.1 15.9 6.8 17.4 4.9 19.1 3.3 20.6 2.1 20.7 1.2 22.2.7M355.3 400.2l11.1 52.4 8 25 7.9 18.1 9.5 15.1 11.1 11.5 12.7 8 14.3 5.2 15.9 3.1 17.4 1.7 19.1.9 20.6.4 20.7.2 22.2 0M355.3 400.2l11.1 26.5 8 15.9 7.9 13.6 9.5 14 11.1 13.4 12.7 12.3 14.3 10.7 15.9 9.1 17.4 7.3 19.1 5.6 20.6 4.3 20.7 2.8 22.2 2.1M355.3 400.2l11.1 65.5 8 27.3 7.9 17.5 9.5 12.9 11.1 8.6 12.7 5 14.3 2.7 15.9 1.3 17.4.6 19.1.2 20.6.1 20.7 0 22.2 0M355.3 400.2l11.1 27.4 8 16.2 7.9 14 9.5 14.1 11.1 13.5 12.7 12.3 14.3 10.7 15.9 8.8 17.4 7.1 19.1 5.4 20.6 4 20.7 2.7 22.2 1.9M355.3 400.2l11.1 57.9 8 26.2 7.9 18 9.5 14.3 11.1 10.4 12.7 6.7 14.3 4 15.9 2.2 17.4 1.1 19.1.5 20.6.3 20.7 0 22.2.1M355.3 400.2l11.1 10.6 8 7 7.9 6.7 9.5 7.5 11.1 8.2 12.7 8.6 14.3 8.8 15.9 8.9 17.4 8.6 19.1 8.3 20.6 7.8 20.7 6.8 22.2 6.3M355.3 400.2l11.1 26.4 8 15.7 7.9 13.7 9.5 13.9 11.1 13.4 12.7 12.3 14.3 10.7 15.9 9.1 17.4 7.3 19.1 5.7 20.6 4.3 20.7 2.9 22.2 2.1M355.3 400.2l11.1 35.6 8 19.8 7.9 16.1 9.5 15.4 11.1 13.8 12.7 11.5 14.3 9.2 15.9 6.9 17.4 4.9 19.1 3.3 20.6 2.2 20.7 1.2 22.2.8M355.3 400.2l11.1 19.7 8 12.4 7.9 11.1 9.5 11.9 11.1 12.1 12.7 11.7 14.3 11 15.9 10 17.4 8.8 19.1 7.4 20.6 6.3 20.7 4.7 22.2 3.7M355.3 400.2l11.1 27.5 8 16.3 7.9 14 9.5 14.2 11.1 13.5 12.7 12.3 14.3 10.7 15.9 8.8 17.4 7 19.1 5.4 20.6 4 20.7 2.6 22.2 1.9M355.3 400.2l11.1 22.4 8 13.8 7.9 12.2 9.5 12.8 11.1 12.7 12.7 12.1 14.3 11.1 15.9 9.7 17.4 8.3 19.1 6.8 20.6 5.4 20.7 3.9 22.2 3.1M355.3 400.2l11.1 7 8 4.8 7.9 4.6 9.5 5.4 11.1 5.9 12.7 6.4 14.3 6.8 15.9 7.1 17.4 7.2 19.1 7.2 20.6 7.1 20.7 6.5 22.2 6.4M355.3 400.2l11.1 34.4 8 19.3 7.9 15.8 9.5 15.3 11.1 13.8 12.7 11.7 14.3 9.5 15.9 7.1 17.4 5.3 19.1 3.6 20.6 2.4 20.7 1.4 22.2.9M355.3 400.2l11.1 44 8 22.8 7.9 17.4 9.5 15.7 11.1 13 12.7 10 14.3 7.1 15.9 4.8 17.4 3.1 19.1 1.8 20.6 1 20.7.5 22.2.3M355.3 400.2l11.1 40.2 8 21.5 7.9 17 9.5 15.6 11.1 13.5 12.7 10.7 14.3 8.1 15.9 5.7 17.4 3.9 19.1 2.4 20.6 1.4 20.7.8 22.2.4M355.3 400.2l11.1 71 8 27.6 7.9 16.9 9.5 11.7 11.1 7.3 12.7 3.9 14.3 2 15.9.8 17.4.3 19.1.1 20.6.1 20.7 0 22.2 0M355.3 400.2l11.1 11.9 8 7.9 7.9 7.3 9.5 8.3 11.1 8.9 12.7 9.3 14.3 9.4 15.9 9.2 17.4 9 19.1 8.4 20.6 7.8 20.7 6.7 22.2 6M355.3 400.2l11.1 54.7 8 25.7 7.9 18 9.5 14.8 11.1 11 12.7 7.5 14.3 4.7 15.9 2.6 17.4 1.5 19.1.7 20.6.3 20.7.1 22.2.1M355.3 400.2l11.1 34.8 8 19.5 7.9 16 9.5 15.3 11.1 13.8 12.7 11.7 14.3 9.3 15.9 7.1 17.4 5.1 19.1 3.5 20.6 2.3 20.7 1.3 22.2.9M355.3 400.2l11.1 5.6 8 3.9 7.9 3.8 9.5 4.3 11.1 5 12.7 5.3 14.3 5.8 15.9 6.1 17.4 6.2 19.1 6.5 20.6 6.4 20.7 6 22.2 6M355.3 400.2l11.1 63.9 8 27.1 7.9 17.7 9.5 13.3 11.1 8.9 12.7 5.3 14.3 3 15.9 1.4 17.4.7 19.1.3 20.6.1 20.7 0 22.2 0M355.3 400.2l11.1 40.5 8 21.7 7.9 17 9.5 15.7 11.1 13.4 12.7 10.7 14.3 8 15.9 5.6 17.4 3.7 19.1 2.4 20.6 1.4 20.7.7 22.2.5M355.3 400.2l11.1 74.9 8 27.8 7.9 16.2 9.5 10.8 11.1 6.4 12.7 3.2 14.3 1.5 15.9.6 17.4.2 19.1.1 20.6 0 20.7 0 22.2 0M355.3 400.2l11.1 64 8 27.1 7.9 17.7 9.5 13.2 11.1 8.9 12.7 5.4 14.3 2.9 15.9 1.4 17.4.7 19.1.3 20.6.1 20.7 0 22.2 0M355.3 400.2l11.1 69.3 8 27.6 7.9 17.1 9.5 12.1 11.1 7.6 12.7 4.3 14.3 2.1 15.9 1 17.4.4 19.1.1 20.6.1 20.7 0 22.2 0M355.3 400.2l11.1 50.9 8 24.7 7.9 18 9.5 15.3 11.1 11.8 12.7 8.3 14.3 5.6 15.9 3.3 17.4 1.9 19.1 1 20.6.5 20.7.2 22.2.1M355.3 400.2l11.1 34.1 8 19.2 7.9 15.8 9.5 15.3 11.1 13.8 12.7 11.7 14.3 9.5 15.9 7.2 17.4 5.3 19.1 3.7 20.6 2.4 20.7 1.5 22.2.9M355.3 400.2l11.1 68.5 8 27.6 7.9 17.1 9.5 12.3 11.1 7.9 12.7 4.4 14.3 2.2 15.9 1 17.4.5 19.1.1 20.6.1 20.7 0 22.2 0M355.3 400.2l11.1 39.9 8 21.4 7.9 16.9 9.5 15.7 11.1 13.4 12.7 10.8 14.3 8.2 15.9 5.8 17.4 3.9 19.1 2.5 20.6 1.4 20.7.8 22.2.5M355.3 400.2l11.1 69.5 8 27.5 7.9 17.1 9.5 12.1 11.1 7.6 12.7 4.2 14.3 2.2 15.9.9 17.4.4 19.1.1 20.6.1 20.7 0 22.2 0M355.3 400.2l11.1 71.7 8 27.7 7.9 16.7 9.5 11.6 11.1 7.1 12.7 3.8 14.3 1.9 15.9.7 17.4.3 19.1.2 20.6 0 20.7 0 22.2 0M355.3 400.2l11.1 35.3 8 19.7 7.9 16 9.5 15.4 11.1 13.7 12.7 11.6 14.3 9.3 15.9 6.9 17.4 5 19.1 3.4 20.6 2.2 20.7 1.3 22.2.9M355.3 400.2l11.1 61.1 8 26.7 7.9 17.9 9.5 13.8 11.1 9.6 12.7 6 14.3 3.4 15.9 1.8 17.4.8 19.1.4 20.6.1 20.7.1 22.2 0M355.3 400.2l11.1 66.3 8 27.3 7.9 17.5 9.5 12.7 11.1 8.4 12.7 4.9 14.3 2.5 15.9 1.3 17.4.5 19.1.2 20.6.1 20.7 0 22.2 0M355.3 400.2l11.1 76 8 27.7 7.9 16.1 9.5 10.6 11.1 6 12.7 3.1 14.3 1.4 15.9.5 17.4.2 19.1.1 20.6 0 20.7 0 22.2 0M355.3 400.2l11.1 43.2 8 22.5 7.9 17.4 9.5 15.7 11.1 13.1 12.7 10.1 14.3 7.4 15.9 5 17.4 3.2 19.1 1.9 20.6 1.1 20.7.5 22.2.3M355.3 400.2l11.1 22.3 8 13.8 7.9 12.1 9.5 12.8 11.1 12.7 12.7 12.1 14.3 11 15.9 9.8 17.4 8.3 19.1 6.8 20.6 5.5 20.7 3.9 22.2 3.1M355.3 400.2l11.1 27.3 8 16.3 7.9 13.9 9.5 14.2 11.1 13.5 12.7 12.3 14.3 10.6 15.9 8.9 17.4 7 19.1 5.5 20.6 4 20.7 2.7 22.2 1.9M355.3 400.2l11.1 37.4 8 20.6 7.9 16.4 9.5 15.6 11.1 13.7 12.7 11.2 14.3 8.7 15.9 6.5 17.4 4.4 19.1 3 20.6 1.8 20.7 1 22.2.7M355.3 400.2l11.1 10.2 8 6.8 7.9 6.4 9.5 7.4 11.1 7.9 12.7 8.4 14.3 8.7 15.9 8.6 17.4 8.6 19.1 8.2 20.6 7.8 20.7 6.8 22.2 6.4M355.3 400.2l11.1 59.1 8 26.5 7.9 17.9 9.5 14.2 11.1 10 12.7 6.4 14.3 3.8 15.9 2.1 17.4 1 19.1.4 20.6.2 20.7.1 22.2 0M355.3 400.2l11.1 8.7 8 5.9 7.9 5.7 9.5 6.4 11.1 7.1 12.7 7.6 14.3 7.8 15.9 8.1 17.4 8 19.1 7.9 20.6 7.6 20.7 6.8 22.2 6.5M355.3 400.2l11.1 43.7 8 22.8 7.9 17.4 9.5 15.7 11.1 13 12.7 10 14.3 7.2 15.9 4.9 17.4 3.1 19.1 1.8 20.6 1.1 20.7.5 22.2.2M355.3 400.2l11.1 76 8 27.7 7.9 16.1 9.5 10.6 11.1 6 12.7 3.1 14.3 1.4 15.9.5 17.4.2 19.1.1 20.6 0 20.7 0 22.2 0M355.3 400.2l11.1 39.1 8 21.2 7.9 16.7 9.5 15.7 11.1 13.5 12.7 11 14.3 8.3 15.9 6 17.4 4.1 19.1 2.6 20.6 1.6 20.7.8 22.2.5M355.3 400.2l11.1 23.2 8 14.2 7.9 12.5 9.5 13 11.1 12.9 12.7 12.2 14.3 11 15.9 9.6 17.4 8.1 19.1 6.6 20.6 5.2 20.7 3.7 22.2 2.9M355.3 400.2l11.1 39.5 8 21.3 7.9 16.9 9.5 15.6 11.1 13.5 12.7 10.9 14.3 8.2 15.9 5.9 17.4 4 19.1 2.5 20.6 1.6 20.7.8 22.2.5M355.3 400.2l11.1 27.6 8 16.4 7.9 14 9.5 14.2 11.1 13.5 12.7 12.3 14.3 10.6 15.9 8.8 17.4 7 19.1 5.4 20.6 3.9 20.7 2.7 22.2 1.8M355.3 400.2l11.1 22.4 8 13.8 7.9 12.3 9.5 12.8 11.1 12.7 12.7 12.1 14.3 11.1 15.9 9.7 17.4 8.2 19.1 6.8 20.6 5.4 20.7 4 22.2 3M355.3 400.2l11.1 27.6 8 16.3 7.9 14 9.5 14.2 11.1 13.5 12.7 12.3 14.3 10.7 15.9 8.8 17.4 7 19.1 5.4 20.6 3.9 20.7 2.7 22.2 1.8M355.3 400.2l11.1 31.4 8 18.1 7.9 15.1 9.5 14.9 11.1 13.8 12.7 12 14.3 10 15.9 8 17.4 6 19.1 4.3 20.6 3 20.7 1.9 22.2 1.3M355.3 400.2l11.1 43.2 8 22.5 7.9 17.4 9.5 15.7 11.1 13.1 12.7 10.1 14.3 7.4 15.9 5 17.4 3.2 19.1 1.9 20.6 1.1 20.7.5 22.2.3M355.3 400.2l11.1 29.5 8 17.2 7.9 14.5 9.5 14.6 11.1 13.7 12.7 12.2 14.3 10.4 15.9 8.3 17.4 6.6 19.1 4.8 20.6 3.5 20.7 2.2 22.2 1.6M355.3 400.2l11.1 55.7 8 25.8 7.9 18.1 9.5 14.6 11.1 10.8 12.7 7.3 14.3 4.4 15.9 2.6 17.4 1.3 19.1.6 20.6.3 20.7.1 22.2.1M355.3 400.2l11.1 68.7 8 27.5 7.9 17.2 9.5 12.3 11.1 7.7 12.7 4.4 14.3 2.2 15.9 1.1 17.4.4 19.1.1 20.6.1 20.7 0 22.2 0M355.3 400.2l11.1 5.4 8 3.8 7.9 3.6 9.5 4.3 11.1 4.8 12.7 5.2 14.3 5.6 15.9 6 17.4 6.1 19.1 6.3 20.6 6.3 20.7 5.9 22.2 5.9M355.3 400.2l11.1 43.8 8 22.7 7.9 17.4 9.5 15.7 11.1 13 12.7 10 14.3 7.2 15.9 4.9 17.4 3.1 19.1 1.8 20.6 1.1 20.7.5 22.2.2M355.3 400.2l11.1 54.3 8 25.5 7.9 18 9.5 14.9 11.1 11.1 12.7 7.6 14.3 4.8 15.9 2.7 17.4 1.5 19.1.7 20.6.4 20.7.1 22.2.1M355.3 400.2l11.1 44.5 8 22.9 7.9 17.5 9.5 15.7 11.1 12.9 12.7 9.9 14.3 7 15.9 4.7 17.4 3 19.1 1.7 20.6 1 20.7.4 22.2.3M355.3 400.2l11.1 57.1 8 26.1 7.9 18 9.5 14.5 11.1 10.5 12.7 6.9 14.3 4.2 15.9 2.3 17.4 1.2 19.1.5 20.6.3 20.7 0 22.2.1M355.3 400.2l11.1 22.7 8 14 7.9 12.3 9.5 12.9 11.1 12.8 12.7 12.1 14.3 11.1 15.9 9.6 17.4 8.2 19.1 6.8 20.6 5.3 20.7 3.8 22.2 3M355.3 400.2l11.1 72.8 8 27.8 7.9 16.5 9.5 11.4 11.1 6.8 12.7 3.6 14.3 1.7 15.9.7 17.4.3 19.1.1 20.6 0 20.7 0 22.2 0M355.3 400.2l11.1 75.9 8 27.7 7.9 16.1 9.5 10.6 11.1 6.1 12.7 3.1 14.3 1.4 15.9.5 17.4.2 19.1.1 20.6 0 20.7 0 22.2 0M355.3 400.2l11.1 67.1 8 27.4 7.9 17.4 9.5 12.6 11.1 8.1 12.7 4.8 14.3 2.4 15.9 1.1 17.4.5 19.1.2 20.6.1 20.7 0 22.2 0M355.3 400.2l11.1 52.1 8 25.1 7.9 18 9.5 15.1 11.1 11.6 12.7 8.1 14.3 5.2 15.9 3.1 17.4 1.8 19.1.9 20.6.4 20.7.2 22.2 0M355.3 400.2l11.1 67.4 8 27.4 7.9 17.3 9.5 12.6 11.1 8.1 12.7 4.6 14.3 2.4 15.9 1.2 17.4.4 19.1.2 20.6.1 20.7 0 22.2 0M355.3 400.2l11.1 57.9 8 26.2 7.9 18 9.5 14.4 11.1 10.3 12.7 6.7 14.3 4 15.9 2.2 17.4 1.1 19.1.5 20.6.3 20.7.1 22.2 0M355.3 400.2l11.1 69.1 8 27.6 7.9 17.1 9.5 12.2 11.1 7.7 12.7 4.3 14.3 2.1 15.9 1 17.4.4 19.1.1 20.6.1 20.7 0 22.2 0M355.3 400.2l11.1 46.2 8 23.5 7.9 17.7 9.5 15.6 11.1 12.6 12.7 9.5 14.3 6.6 15.9 4.3 17.4 2.6 19.1 1.5 20.6.9 20.7.3 22.2.2M355.3 400.2l11.1 29.4 8 17.2 7.9 14.5 9.5 14.6 11.1 13.7 12.7 12.2 14.3 10.3 15.9 8.4 17.4 6.6 19.1 4.8 20.6 3.5 20.7 2.3 22.2 1.6M355.3 400.2l11.1 50.3 8 24.6 7.9 18 9.5 15.3 11.1 11.9 12.7 8.5 14.3 5.7 15.9 3.4 17.4 2 19.1 1.1 20.6.5 20.7.2 22.2.1M355.3 400.2l11.1 46 8 23.4 7.9 17.6 9.5 15.6 11.1 12.7 12.7 9.5 14.3 6.7 15.9 4.4 17.4 2.7 19.1 1.5 20.6.8 20.7.4 22.2.2M355.3 400.2l11.1 23.1 8 14.2 7.9 12.4 9.5 13.1 11.1 12.8 12.7 12.2 14.3 11 15.9 9.7 17.4 8.1 19.1 6.6 20.6 5.2 20.7 3.7 22.2 2.9M355.3 400.2l11.1 57.9 8 26.2 7.9 18 9.5 14.4 11.1 10.3 12.7 6.7 14.3 4 15.9 2.2 17.4 1.1 19.1.5 20.6.3 20.7.1 22.2 0M355.3 400.2l11.1 61.4 8 26.8 7.9 17.9 9.5 13.7 11.1 9.5 12.7 5.9 14.3 3.4 15.9 1.7 17.4.8 19.1.4 20.6.1 20.7.1 22.2 0M355.3 400.2l11.1 27.8 8 16.5 7.9 14.1 9.5 14.2 11.1 13.6 12.7 12.3 14.3 10.6 15.9 8.7 17.4 7 19.1 5.3 20.6 3.8 20.7 2.6 22.2 1.9M355.3 400.2l11.1 19 8 11.9 7.9 10.8 9.5 11.6 11.1 11.8 12.7 11.6 14.3 11 15.9 10 17.4 8.9 19.1 7.6 20.6 6.5 20.7 4.9 22.2 4M355.3 400.2l11.1 51.9 8 25 7.9 18 9.5 15.2 11.1 11.6 12.7 8.1 14.3 5.3 15.9 3.2 17.4 1.7 19.1.9 20.6.5 20.7.2 22.2 0M355.3 400.2l11.1 43.3 8 22.6 7.9 17.4 9.5 15.7 11.1 13 12.7 10.1 14.3 7.4 15.9 4.9 17.4 3.2 19.1 1.9 20.6 1.1 20.7.5 22.2.3M355.3 400.2l11.1 61.1 8 26.7 7.9 17.9 9.5 13.8 11.1 9.6 12.7 6 14.3 3.4 15.9 1.8 17.4.8 19.1.4 20.6.1 20.7.1 22.2 0M355.3 400.2l11.1 62.2 8 26.9 7.9 17.8 9.5 13.6 11.1 9.3 12.7 5.8 14.3 3.2 15.9 1.6 17.4.8 19.1.3 20.6.1 20.7.1 22.2 0M355.3 400.2l11.1 4.9 8 3.5 7.9 3.3 9.5 3.9 11.1 4.4 12.7 4.8 14.3 5.2 15.9 5.5 17.4 5.8 19.1 5.9 20.6 6 20.7 5.7 22.2 5.6M355.3 400.2l11.1 23.2 8 14.2 7.9 12.5 9.5 13 11.1 12.9 12.7 12.2 14.3 11 15.9 9.6 17.4 8.1 19.1 6.6 20.6 5.2 20.7 3.7 22.2 2.9M355.3 400.2l11.1 69.2 8 27.6 7.9 17.1 9.5 12.1 11.1 7.7 12.7 4.3 14.3 2.1 15.9 1 17.4.4 19.1.1 20.6.1 20.7 0 22.2 0M355.3 400.2l11.1 57.8 8 26.2 7.9 18.1 9.5 14.3 11.1 10.3 12.7 6.8 14.3 4 15.9 2.2 17.4 1.1 19.1.5 20.6.3 20.7 0 22.2.1M355.3 400.2l11.1 64.9 8 27.2 7.9 17.6 9.5 13.1 11.1 8.6 12.7 5.2 14.3 2.8 15.9 1.3 17.4.6 19.1.3 20.6.1 20.7 0 22.2 0M355.3 400.2l11.1 62.2 8 26.9 7.9 17.8 9.5 13.6 11.1 9.3 12.7 5.8 14.3 3.2 15.9 1.6 17.4.8 19.1.3 20.6.1 20.7.1 22.2 0M355.3 400.2l11.1 52.8 8 25.1 7.9 18.1 9.5 15 11.1 11.5 12.7 7.9 14.3 5.1 15.9 3 17.4 1.7 19.1.8 20.6.4 20.7.2 22.2.1M355.3 400.2l11.1 32.8 8 18.7 7.9 15.4 9.5 15.2 11.1 13.8 12.7 11.9 14.3 9.7 15.9 7.6 17.4 5.6 19.1 4 20.6 2.7 20.7 1.7 22.2 1M355.3 400.2l11.1 29.7 8 17.3 7.9 14.6 9.5 14.6 11.1 13.8 12.7 12.1 14.3 10.4 15.9 8.3 17.4 6.5 19.1 4.7 20.6 3.5 20.7 2.2 22.2 1.5M355.3 400.2l11.1 54.5 8 25.6 7.9 18.1 9.5 14.8 11.1 11 12.7 7.6 14.3 4.7 15.9 2.7 17.4 1.4 19.1.8 20.6.3 20.7.1 22.2.1M355.3 400.2l11.1 54.3 8 25.6 7.9 18 9.5 14.9 11.1 11.1 12.7 7.5 14.3 4.8 15.9 2.7 17.4 1.5 19.1.7 20.6.4 20.7.1 22.2.1M355.3 400.2l11.1 72 8 27.7 7.9 16.7 9.5 11.5 11.1 7 12.7 3.8 14.3 1.8 15.9.8 17.4.3 19.1.1 20.6 0 20.7 0 22.2 0M355.3 400.2l11.1 54.9 8 25.6 7.9 18.1 9.5 14.7 11.1 11 12.7 7.5 14.3 4.6 15.9 2.7 17.4 1.4 19.1.7 20.6.3 20.7.1 22.2.1M355.3 400.2l11.1 50.9 8 24.8 7.9 18 9.5 15.2 11.1 11.8 12.7 8.4 14.3 5.5 15.9 3.3 17.4 1.9 19.1 1 20.6.5 20.7.2 22.2.1M355.3 400.2l11.1 4.7 8 3.2 7.9 3.2 9.5 3.7 11.1 4.2 12.7 4.6 14.3 5 15.9 5.3 17.4 5.6 19.1 5.7 20.6 5.8 20.7 5.5 22.2 5.6M355.3 400.2l11.1 57.1 8 26 7.9 18.1 9.5 14.5 11.1 10.4 12.7 7 14.3 4.2 15.9 2.3 17.4 1.2 19.1.5 20.6.2 20.7.1 22.2.1M355.3 400.2l11.1 69.9 8 27.6 7.9 17 9.5 12 11.1 7.5 12.7 4.2 14.3 2 15.9.9 17.4.4 19.1.1 20.6.1 20.7 0 22.2 0M355.3 400.2l11.1 55.8 8 25.8 7.9 18.1 9.5 14.7 11.1 10.7 12.7 7.2 14.3 4.5 15.9 2.5 17.4 1.3 19.1.6 20.6.3 20.7.1 22.2.1M355.3 400.2l11.1 47.7 8 23.9 7.9 17.8 9.5 15.5 11.1 12.4 12.7 9.1 14.3 6.3 15.9 4 17.4 2.4 19.1 1.3 20.6.7 20.7.3 22.2.2M355.3 400.2l11.1 34 8 19.2 7.9 15.7 9.5 15.3 11.1 13.8 12.7 11.7 14.3 9.5 15.9 7.3 17.4 5.3 19.1 3.7 20.6 2.5 20.7 1.5 22.2.9M355.3 400.2l11.1 75.8 8 27.7 7.9 16.1 9.5 10.6 11.1 6.2 12.7 3.1 14.3 1.4 15.9.5 17.4.2 19.1.1 20.6 0 20.7 0 22.2 0M355.3 400.2l11.1 30.3 8 17.6 7.9 14.9 9.5 14.7 11.1 13.7 12.7 12.2 14.3 10.2 15.9 8.2 17.4 6.3 19.1 4.6 20.6 3.2 20.7 2.1 22.2 1.4M355.3 400.2l11.1 64.4 8 27.2 7.9 17.6 9.5 13.2 11.1 8.8 12.7 5.2 14.3 2.9 15.9 1.4 17.4.6 19.1.3 20.6.1 20.7 0 22.2 0M355.3 400.2l11.1 45.9 8 23.3 7.9 17.7 9.5 15.6 11.1 12.7 12.7 9.6 14.3 6.7 15.9 4.3 17.4 2.7 19.1 1.6 20.6.8 20.7.4 22.2.2M355.3 400.2l11.1 51 8 24.7 7.9 18 9.5 15.2 11.1 11.8 12.7 8.4 14.3 5.5 15.9 3.3 17.4 1.9 19.1 1 20.6.5 20.7.2 22.2.1M355.3 400.2l11.1 5.5 8 3.9 7.9 3.7 9.5 4.3 11.1 4.9 12.7 5.3 14.3 5.7 15.9 6 17.4 6.2 19.1 6.4 20.6 6.4 20.7 6 22.2 5.9M355.3 400.2l11.1 65.7 8 27.3 7.9 17.5 9.5 12.9 11.1 8.5 12.7 5 14.3 2.6 15.9 1.3 17.4.6 19.1.2 20.6.1 20.7 0 22.2 0M355.3 400.2l11.1 42.5 8 22.3 7.9 17.3 9.5 15.7 11.1 13.2 12.7 10.3 14.3 7.5 15.9 5.1 17.4 3.4 19.1 2 20.6 1.2 20.7.6 22.2.3M355.3 400.2l11.1 73 8 27.7 7.9 16.6 9.5 11.2 11.1 6.8 12.7 3.6 14.3 1.7 15.9.7 17.4.3 19.1.1 20.6 0 20.7 0 22.2 0M355.3 400.2l11.1 73.9 8 27.8 7.9 16.4 9.5 11 11.1 6.6 12.7 3.4 14.3 1.6 15.9.7 17.4.2 19.1.1 20.6 0 20.7 0 22.2 0M355.3 400.2l11.1 71.1 8 27.7 7.9 16.8 9.5 11.7 11.1 7.2 12.7 4 14.3 1.9 15.9.8 17.4.3 19.1.2 20.6 0 20.7 0 22.2 0M355.3 400.2l11.1 58.7 8 26.3 7.9 18 9.5 14.2 11.1 10.2 12.7 6.5 14.3 3.9 15.9 2.1 17.4 1 19.1.5 20.6.2 20.7.1 22.2 0M355.3 400.2l11.1 20.2 8 12.6 7.9 11.3 9.5 12.1 11.1 12.2 12.7 11.8 14.3 11 15.9 9.9 17.4 8.7 19.1 7.4 20.6 6.1 20.7 4.6 22.2 3.6M355.3 400.2l11.1 22.2 8 13.6 7.9 12.2 9.5 12.7 11.1 12.7 12.7 12 14.3 11.1 15.9 9.7 17.4 8.4 19.1 6.8 20.6 5.5 20.7 4 22.2 3.1M355.3 400.2l11.1 37.1 8 20.4 7.9 16.4 9.5 15.5 11.1 13.7 12.7 11.3 14.3 8.8 15.9 6.5 17.4 4.6 19.1 3 20.6 1.9 20.7 1.1 22.2.6M355.3 400.2l11.1 20 8 12.5 7.9 11.3 9.5 12 11.1 12.1 12.7 11.8 14.3 11 15.9 10 17.4 8.7 19.1 7.4 20.6 6.1 20.7 4.7 22.2 3.7M355.3 400.2l11.1 73.5 8 27.7 7.9 16.5 9.5 11.2 11.1 6.6 12.7 3.5 14.3 1.7 15.9.6 17.4.3 19.1.1 20.6 0 20.7 0 22.2 0M355.3 400.2l11.1 42.1 8 22.1 7.9 17.3 9.5 15.7 11.1 13.2 12.7 10.4 14.3 7.6 15.9 5.3 17.4 3.4 19.1 2.1 20.6 1.2 20.7.6 22.2.4M355.3 400.2l11.1 60 8 26.5 7.9 18 9.5 14 11.1 9.8 12.7 6.3 14.3 3.6 15.9 1.9 17.4.9 19.1.4 20.6.2 20.7.1 22.2 0M355.3 400.2l11.1 18.8 8 11.9 7.9 10.7 9.5 11.5 11.1 11.8 12.7 11.5 14.3 11 15.9 10 17.4 8.9 19.1 7.7 20.6 6.5 20.7 5 22.2 4M355.3 400.2l11.1 51.4 8 24.9 7.9 18 9.5 15.2 11.1 11.7 12.7 8.2 14.3 5.4 15.9 3.3 17.4 1.8 19.1 1 20.6.4 20.7.2 22.2.1M355.3 400.2l11.1 12.4 8 8.3 7.9 7.7 9.5 8.6 11.1 9.2 12.7 9.5 14.3 9.6 15.9 9.4 17.4 9 19.1 8.5 20.6 7.7 20.7 6.6 22.2 5.9M355.3 400.2l11.1 27 8 16 7.9 13.8 9.5 14.1 11.1 13.4 12.7 12.3 14.3 10.7 15.9 9 17.4 7.2 19.1 5.5 20.6 4.1 20.7 2.8 22.2 2M355.3 400.2l11.1 66.4 8 27.3 7.9 17.4 9.5 12.8 11.1 8.3 12.7 4.9 14.3 2.6 15.9 1.2 17.4.5 19.1.2 20.6.1 20.7 0 22.2 0M355.3 400.2l11.1 41.2 8 21.9 7.9 17.2 9.5 15.6 11.1 13.4 12.7 10.5 14.3 7.8 15.9 5.5 17.4 3.6 19.1 2.2 20.6 1.3 20.7.7 22.2.4M355.3 400.2l11.1 66.1 8 27.3 7.9 17.5 9.5 12.8 11.1 8.4 12.7 4.9 14.3 2.6 15.9 1.2 17.4.6 19.1.2 20.6.1 20.7 0 22.2 0M355.3 400.2l11.1 47.6 8 23.9 7.9 17.8 9.5 15.5 11.1 12.4 12.7 9.1 14.3 6.3 15.9 4 17.4 2.4 19.1 1.4 20.6.7 20.7.3 22.2.2M355.3 400.2l11.1 46.2 8 23.4 7.9 17.7 9.5 15.6 11.1 12.7 12.7 9.4 14.3 6.7 15.9 4.3 17.4 2.6 19.1 1.5 20.6.8 20.7.4 22.2.2M355.3 400.2l11.1 43 8 22.4 7.9 17.4 9.5 15.7 11.1 13.1 12.7 10.2 14.3 7.4 15.9 5 17.4 3.3 19.1 1.9 20.6 1.1 20.7.6 22.2.3M355.3 400.2l11.1 36.8 8 20.3 7.9 16.4 9.5 15.5 11.1 13.7 12.7 11.4 14.3 8.8 15.9 6.6 17.4 4.6 19.1 3.1 20.6 1.9 20.7 1.1 22.2.7M355.3 400.2l11.1 49.1 8 24.2 7.9 17.9 9.5 15.5 11.1 12.1 12.7 8.8 14.3 5.9 15.9 3.8 17.4 2.1 19.1 1.2 20.6.6 20.7.3 22.2.1M355.3 400.2l11.1 29.8 8 17.3 7.9 14.7 9.5 14.6 11.1 13.7 12.7 12.2 14.3 10.3 15.9 8.3 17.4 6.5 19.1 4.7 20.6 3.4 20.7 2.2 22.2 1.5M355.3 400.2l11.1 67.8 8 27.4 7.9 17.3 9.5 12.5 11.1 8 12.7 4.6 14.3 2.3 15.9 1.1 17.4.4 19.1.2 20.6.1 20.7 0 22.2 0M355.3 400.2l11.1 25.8 8 15.5 7.9 13.4 9.5 13.7 11.1 13.4 12.7 12.2 14.3 10.9 15.9 9.2 17.4 7.4 19.1 5.9 20.6 4.5 20.7 3 22.2 2.3M355.3 400.2l11.1 61.3 8 26.8 7.9 17.8 9.5 13.8 11.1 9.5 12.7 6 14.3 3.4 15.9 1.7 17.4.8 19.1.4 20.6.1 20.7.1 22.2 0M355.3 400.2l11.1 36.8 8 20.3 7.9 16.3 9.5 15.5 11.1 13.7 12.7 11.4 14.3 8.9 15.9 6.5 17.4 4.7 19.1 3 20.6 2 20.7 1.1 22.2.7M355.3 400.2l11.1 49.4 8 24.4 7.9 17.9 9.5 15.4 11.1 12 12.7 8.8 14.3 5.8 15.9 3.7 17.4 2.1 19.1 1.1 20.6.6 20.7.3 22.2.1M355.3 400.2l11.1 17.5 8 11.2 7.9 10.1 9.5 11 11.1 11.4 12.7 11.2 14.3 10.8 15.9 10.1 17.4 9 19.1 8 20.6 6.8 20.7 5.4 22.2 4.4M355.3 400.2l11.1 72.4 8 27.7 7.9 16.7 9.5 11.4 11.1 6.9 12.7 3.7 14.3 1.7 15.9.8 17.4.3 19.1.1 20.6 0 20.7 0 22.2 0M355.3 400.2l11.1 33.6 8 19 7.9 15.6 9.5 15.2 11.1 13.9 12.7 11.8 14.3 9.6 15.9 7.3 17.4 5.5 19.1 3.8 20.6 2.5 20.7 1.5 22.2 1M355.3 400.2l11.1 74.2 8 27.7 7.9 16.4 9.5 11 11.1 6.5 12.7 3.4 14.3 1.5 15.9.7 17.4.2 19.1.1 20.6 0 20.7 0 22.2 0M355.3 400.2l11.1 19 8 12.1 7.9 10.8 9.5 11.6 11.1 11.9 12.7 11.6 14.3 10.9 15.9 10.1 17.4 8.8 19.1 7.7 20.6 6.4 20.7 4.9 22.2 4M355.3 400.2l11.1 32.9 8 18.6 7.9 15.5 9.5 15.1 11.1 13.8 12.7 12 14.3 9.7 15.9 7.6 17.4 5.6 19.1 3.9 20.6 2.7 20.7 1.7 22.2 1.1M355.3 400.2l11.1 55 8 25.6 7.9 18.1 9.5 14.8 11.1 10.9 12.7 7.4 14.3 4.7 15.9 2.6 17.4 1.4 19.1.7 20.6.3 20.7.1 22.2.1M355.3 400.2l11.1 50.3 8 24.6 7.9 18 9.5 15.3 11.1 11.9 12.7 8.5 14.3 5.7 15.9 3.4 17.4 2 19.1 1.1 20.6.5 20.7.2 22.2.1M355.3 400.2l11.1 68.6 8 27.6 7.9 17.1 9.5 12.3 11.1 7.8 12.7 4.4 14.3 2.2 15.9 1.1 17.4.4 19.1.1 20.6.1 20.7 0 22.2 0M355.3 400.2l11.1 9.8 8 6.7 7.9 6.2 9.5 7.2 11.1 7.7 12.7 8.2 14.3 8.5 15.9 8.6 17.4 8.4 19.1 8.2 20.6 7.8 20.7 6.8 22.2 6.4M355.3 400.2l11.1 41.9 8 22.2 7.9 17.2 9.5 15.7 11.1 13.2 12.7 10.4 14.3 7.7 15.9 5.3 17.4 3.4 19.1 2.1 20.6 1.3 20.7.6 22.2.4M355.3 400.2l11.1 49.5 8 24.4 7.9 17.9 9.5 15.4 11.1 12 12.7 8.7 14.3 5.9 15.9 3.6 17.4 2.1 19.1 1.2 20.6.5 20.7.3 22.2.1M355.3 400.2l11.1 48.4 8 24 7.9 17.9 9.5 15.5 11.1 12.2 12.7 9 14.3 6.1 15.9 3.9 17.4 2.2 19.1 1.3 20.6.6 20.7.3 22.2.2M355.3 400.2l11.1 50.4 8 24.6 7.9 17.9 9.5 15.3 11.1 11.9 12.7 8.5 14.3 5.7 15.9 3.4 17.4 2 19.1 1.1 20.6.5 20.7.2 22.2.1M355.3 400.2l11.1 38.6 8 21 7.9 16.7 9.5 15.6 11.1 13.6 12.7 11 14.3 8.5 15.9 6.1 17.4 4.2 19.1 2.7 20.6 1.6 20.7 1 22.2.5M355.3 400.2l11.1 75.5 8 27.7 7.9 16.1 9.5 10.7 11.1 6.3 12.7 3.1 14.3 1.4 15.9.6 17.4.2 19.1.1 20.6 0 20.7 0 22.2 0M355.3 400.2l11.1 21.5 8 13.4 7.9 11.8 9.5 12.6 11.1 12.5 12.7 12 14.3 11.1 15.9 9.8 17.4 8.4 19.1 7.1 20.6 5.6 20.7 4.2 22.2 3.3M355.3 400.2l11.1 32.1 8 18.4 7.9 15.3 9.5 15 11.1 13.8 12.7 12 14.3 9.9 15.9 7.7 17.4 5.9 19.1 4.1 20.6 2.9 20.7 1.7 22.2 1.2M355.3 400.2l11.1 42.7 8 22.4 7.9 17.3 9.5 15.7 11.1 13.2 12.7 10.2 14.3 7.5 15.9 5.1 17.4 3.3 19.1 2 20.6 1.1 20.7.6 22.2.3M355.3 400.2l11.1 74.1 8 27.8 7.9 16.4 9.5 11 11.1 6.5 12.7 3.4 14.3 1.5 15.9.7 17.4.2 19.1.1 20.6 0 20.7 0 22.2 0M355.3 400.2l11.1 26.6 8 15.9 7.9 13.7 9.5 14 11.1 13.4 12.7 12.3 14.3 10.8 15.9 9 17.4 7.2 19.1 5.7 20.6 4.2 20.7 2.8 22.2 2.1M355.3 400.2l11.1 24.8 8 15 7.9 13 9.5 13.5 11.1 13.2 12.7 12.3 14.3 10.9 15.9 9.4 17.4 7.7 19.1 6.1 20.6 4.8 20.7 3.3 22.2 2.4M355.3 400.2l11.1 48.7 8 24.2 7.9 17.9 9.5 15.4 11.1 12.2 12.7 8.9 14.3 6 15.9 3.8 17.4 2.2 19.1 1.3 20.6.6 20.7.3 22.2.1M355.3 400.2l11.1 48.4 8 24.1 7.9 17.9 9.5 15.4 11.1 12.3 12.7 9 14.3 6.1 15.9 3.8 17.4 2.3 19.1 1.2 20.6.7 20.7.2 22.2.2M355.3 400.2l11.1 44.8 8 23 7.9 17.6 9.5 15.6 11.1 12.9 12.7 9.8 14.3 6.9 15.9 4.7 17.4 2.9 19.1 1.7 20.6.9 20.7.4 22.2.3M355.3 400.2l11.1 48.1 8 24 7.9 17.8 9.5 15.5 11.1 12.3 12.7 9.1 14.3 6.1 15.9 4 17.4 2.3 19.1 1.3 20.6.6 20.7.3 22.2.2M355.3 400.2l11.1 64.8 8 27.2 7.9 17.6 9.5 13.1 11.1 8.7 12.7 5.2 14.3 2.8 15.9 1.3 17.4.6 19.1.3 20.6.1 20.7 0 22.2 0M355.3 400.2l11.1 65 8 27.2 7.9 17.5 9.5 13.1 11.1 8.7 12.7 5.1 14.3 2.8 15.9 1.3 17.4.6 19.1.3 20.6.1 20.7 0 22.2 0M355.3 400.2l11.1 69.7 8 27.7 7.9 17 9.5 12 11.1 7.5 12.7 4.2 14.3 2.1 15.9.9 17.4.4 19.1.1 20.6.1 20.7 0 22.2 0M355.3 400.2l11.1 36.6 8 20.1 7.9 16.4 9.5 15.5 11.1 13.7 12.7 11.4 14.3 8.9 15.9 6.6 17.4 4.7 19.1 3.1 20.6 2 20.7 1.2 22.2.7M355.3 400.2l11.1 57.9 8 26.2 7.9 18 9.5 14.4 11.1 10.3 12.7 6.7 14.3 4 15.9 2.2 17.4 1.1 19.1.6 20.6.2 20.7.1 22.2 0M355.3 400.2l11.1 54.3 8 25.5 7.9 18.1 9.5 14.8 11.1 11.1 12.7 7.6 14.3 4.8 15.9 2.7 17.4 1.5 19.1.7 20.6.4 20.7.1 22.2.1M355.3 400.2l11.1 23.8 8 14.5 7.9 12.7 9.5 13.3 11.1 13 12.7 12.2 14.3 11 15.9 9.5 17.4 8 19.1 6.4 20.6 5 20.7 3.5 22.2 2.7M355.3 400.2l11.1 46.4 8 23.6 7.9 17.7 9.5 15.6 11.1 12.6 12.7 9.4 14.3 6.5 15.9 4.3 17.4 2.6 19.1 1.5 20.6.8 20.7.4 22.2.1M355.3 400.2l11.1 41.1 8 21.8 7.9 17.1 9.5 15.7 11.1 13.3 12.7 10.6 14.3 7.9 15.9 5.5 17.4 3.6 19.1 2.3 20.6 1.3 20.7.7 22.2.4" class="fr" fill="none" stroke-width="0.7"/>
<path d="M355.3 541.9l11.1-47.6 8-10.7 7.9-.6 9.5 5.6 11.1 9.8 12.7 11.2 14.3 10.4 15.9 8.2 17.4 5.8 19.1 3.7 20.6 2.1 20.7 1.1 22.2.5M355.3 541.9l11.1-58 8-15.5 7.9-3.9 9.5 3.4 11.1 9 12.7 11.9 14.3 12.3 15.9 11.2 17.4 9.1 19.1 7 20.6 4.9 20.7 3.2 22.2 2.1M355.3 541.9l11.1-29 8-10.8 7.9-5.4 9.5-1.7 11.1 2 12.7 4.9 14.3 6.7 15.9 7.3 17.4 6.9 19.1 5.8 20.6 4.6 20.7 3.1 22.2 2.1M355.3 541.9l11.1-6.8 8-4 7.9-3.2 9.5-3.1 11.1-2.7 12.7-2.2 14.3-1.5 15.9-.7 17.4-.1 19.1.5 20.6 1 20.7 1.3 22.2 1.6M355.3 541.9l11.1-42.7 8-12.3 7.9-3.6 9.5 2.2 11.1 7 12.7 9.6 14.3 10.2 15.9 9.2 17.4 7.3 19.1 5.2 20.6 3.5 20.7 1.9 22.2 1.2M355.3 541.9l11.1-14.4 8-6.2 7.9-3.9 9.5-2.5 11.1-.8 12.7.8 14.3 2 15.9 2.8 17.4 3.3 19.1 3.3 20.6 3.1 20.7 2.5 22.2 2.2M355.3 541.9l11.1-58.6 8-23.4 7.9-13.8 9.5-8.3 11.1-2.8 12.7 1.8 14.3 5 15.9 7.1 17.4 8.2 19.1 8.5 20.6 8.5 20.7 7.6 22.2 7.3M355.3 541.9l11.1-30.3 8-12.7 7.9-7.3 9.5-3.9 11.1.1 12.7 3.6 14.3 6.1 15.9 7.6 17.4 7.9 19.1 7.4 20.6 6.3 20.7 4.6 22.2 3.6M355.3 541.9l11.1-37.6 8-13.9 7.9-6.9 9.5-2.1 11.1 2.7 12.7 6.5 14.3 8.7 15.9 9.3 17.4 8.8 19.1 7.5 20.6 5.8 20.7 3.9 22.2 2.8M355.3 541.9l11.1-66.2 8-15.7 7.9-2.8 9.5 5 11.1 10.4 12.7 12.8 14.3 12.9 15.9 11.4 17.4 9.4 19.1 7.2 20.6 5.3 20.7 3.5 22.2 2.4M355.3 541.9l11.1-53.2 8-11.7 7.9-.7 9.5 6.1 11.1 10.7 12.7 12.2 14.3 11.3 15.9 9.1 17.4 6.5 19.1 4.3 20.6 2.5 20.7 1.4 22.2.8M355.3 541.9l11.1-61.6 8-18.4 7.9-6.5 9.5.8 11.1 6.7 12.7 10.5 14.3 12 15.9 11.7 17.4 10.6 19.1 8.8 20.6 7.1 20.7 5.2 22.2 3.9M355.3 541.9l11.1-41.5 8-11.9 7.9-3.4 9.5 2.2 11.1 6.8 12.7 9.4 14.3 10 15.9 8.9 17.4 7 19.1 5.1 20.6 3.2 20.7 1.9 22.2 1.1M355.3 541.9l11.1-60.8 8-11.3 7.9 1 9.5 8.3 11.1 12.4 12.7 13.3 14.3 11.8 15.9 9.2 17.4 6.4 19.1 4.2 20.6 2.6 20.7 1.3 22.2.8M355.3 541.9l11.1-4.2 8-2.3 7.9-1.7 9.5-1.7 11.1-1.3 12.7-.9 14.3-.6 15.9-.2 17.4 0 19.1.4 20.6.5 20.7.6 22.2.6M355.3 541.9l11.1-67.2 8-22.9 7.9-11.2 9.5-4.5 11.1 1.4 12.7 5.7 14.3 8.1 15.9 9.3 17.4 9.7 19.1 9.4 20.6 8.9 20.7 7.6 22.2 7M355.3 541.9l11.1-35.4 8-16.4 7.9-10.9 9.5-7.6 11.1-3.6 12.7.6 14.3 4.2 15.9 6.8 17.4 8.3 19.1 9 20.6 8.7 20.7 7.4 22.2 6.5M355.3 541.9l11.1-23.2 8-12 7.9-8.9 9.5-7.4 11.1-5.1 12.7-2.4 14.3.4 15.9 2.9 17.4 4.9 19.1 6.2 20.6 6.8 20.7 6.3 22.2 6.1M355.3 541.9l11.1-39.6 8-11 7.9-2.9 9.5 2.6 11.1 6.8 12.7 9.1 14.3 9.5 15.9 8.3 17.4 6.4 19.1 4.5 20.6 2.9 20.7 1.6 22.2.9M355.3 541.9l11.1-60 8-10.2 7.9 1.9 9.5 9.1 11.1 12.8 12.7 13.1 14.3 11.3 15.9 8.5 17.4 5.8 19.1 3.5 20.6 2.1 20.7 1 22.2.6M355.3 541.9l11.1-33.4 8-18.8 7.9-15.4 9.5-15 11.1-13.5 12.7-11.4 14.3-9.1 15.9-6.8 17.4-4.8 19.1-3.1 20.6-1.7 20.7-.6 22.2-.1M355.3 541.9l11.1-57.6 8-9.6 7.9 2.2 9.5 9.1 11.1 12.6 12.7 12.8 14.3 10.8 15.9 8 17.4 5.2 19.1 3.1 20.6 1.8 20.7.8 22.2.4M355.3 541.9l11.1-38.3 8-14.1 7.9-6.9 9.5-2 11.1 2.8 12.7 6.6 14.3 8.9 15.9 9.5 17.4 8.8 19.1 7.6 20.6 5.8 20.7 4 22.2 2.8M355.3 541.9l11.1-60.2 8-9.3 7.9 2.9 9.5 9.8 11.1 13.2 12.7 13.1 14.3 10.9 15.9 7.9 17.4 5.2 19.1 3.1 20.6 1.8 20.7.8 22.2.4M355.3 541.9l11.1-58.6 8-19.8 7.9-8.9 9.5-2.3 11.1 3.9 12.7 8.2 14.3 10.5 15.9 11.3 17.4 10.8 19.1 9.7 20.6 8.3 20.7 6.4 22.2 5.2M355.3 541.9l11.1-61.7 8-22.9 7.9-12.2 9.5-6.1 11.1-.3 12.7 4.2 14.3 7.2 15.9 8.8 17.4 9.4 19.1 9.4 20.6 9 20.7 7.7 22.2 7.2M355.3 541.9l11.1-32.1 8-13.8 7.9-8.3 9.5-4.8 11.1-.8 12.7 3 14.3 6 15.9 7.7 17.4 8.4 19.1 8.1 20.6 7.1 20.7 5.5 22.2 4.3M355.3 541.9l11.1-43.1 8-11.8 7.9-2.9 9.5 3.1 11.1 7.5 12.7 10 14.3 10.1 15.9 8.9 17.4 6.8 19.1 4.8 20.6 3 20.7 1.7 22.2.9M355.3 541.9l11.1-23.9 8-11.4 7.9-7.9 9.5-5.8 11.1-3 12.7 0 14.3 2.6 15.9 4.8 17.4 6.1 19.1 6.7 20.6 6.6 20.7 5.6 22.2 4.9M355.3 541.9l11.1-58 8-16.4 7.9-5.1 9.5 2.3 11.1 8 12.7 11.3 14.3 12.3 15.9 11.4 17.4 9.7 19.1 7.7 20.6 5.7 20.7 3.7 22.2 2.7M355.3 541.9l11.1-27 8-15.6 7.9-13 9.5-12.8 11.1-11.6 12.7-9.7 14.3-7.6 15.9-5.1 17.4-2.8 19.1-.7 20.6 1 20.7 2.4 22.2 3.3M355.3 541.9l11.1-53.3 8-19.2 7.9-9.5 9.5-3.3 11.1 2.6 12.7 7.2 14.3 9.8 15.9 11 17.4 10.7 19.1 9.7 20.6 8.3 20.7 6.4 22.2 5.1M355.3 541.9l11.1-9.3 8-4.8 7.9-3.7 9.5-3.2 11.1-2.3 12.7-1.4 14.3-.4 15.9.5 17.4 1.2 19.1 1.8 20.6 2.2 20.7 2.1 22.2 2.2M355.3 541.9l11.1-23.9 8-11.6 7.9-8 9.5-6.1 11.1-3.4 12.7-.3 14.3 2.3 15.9 4.6 17.4 6 19.1 6.7 20.6 6.7 20.7 5.8 22.2 5.1M355.3 541.9l11.1-31.5 8-13.4 7.9-7.8 9.5-4.4 11.1-.2 12.7 3.4 14.3 6.2 15.9 7.8 17.4 8.2 19.1 7.8 20.6 6.7 20.7 5.1 22.2 3.9M355.3 541.9l11.1-16.7 8-7.4 7.9-4.8 9.5-3.1 11.1-1.1 12.7.9 14.3 2.4 15.9 3.4 17.4 4.1 19.1 4.1 20.6 3.9 20.7 3.2 22.2 2.7M355.3 541.9l11.1-23.1 8-9.4 7.9-5.3 9.5-2.5 11.1.4 12.7 2.9 14.3 4.8 15.9 5.7 17.4 5.7 19.1 5.3 20.6 4.5 20.7 3.3 22.2 2.5M355.3 541.9l11.1-21.8 8-12.8 7.9-10.7 9.5-10.6 11.1-9.6 12.7-8 14.3-6 15.9-3.8 17.4-1.5 19.1.6 20.6 2.5 20.7 3.6 22.2 4.7M355.3 541.9l11.1-6.6 8-4 7.9-3.5 9.5-3.6 11.1-3.4 12.7-3.1 14.3-2.6 15.9-2 17.4-1.3 19.1-.5 20.6.1 20.7.7 22.2 1.1M355.3 541.9l11.1-33.4 8-17.6 7.9-13.5 9.5-11.9 11.1-9.2 12.7-6 14.3-2.7 15.9.4 17.4 2.9 19.1 4.9 20.6 6.3 20.7 6.6 22.2 6.9M355.3 541.9l11.1-37.7 8-13.3 7.9-6 9.5-1 11.1 3.8 12.7 7.2 14.3 9 15.9 9.2 17.4 8.3 19.1 6.8 20.6 5 20.7 3.3 22.2 2.2M355.3 541.9l11.1-35.3 8-13.9 7.9-7.5 9.5-3.2 11.1 1.4 12.7 5.2 14.3 7.8 15.9 8.8 17.4 8.8 19.1 7.8 20.6 6.3 20.7 4.5 22.2 3.3M355.3 541.9l11.1-64.3 8-18 7.9-5.8 9.5 1.8 11.1 7.6 12.7 11.2 14.3 12.2 15.9 11.8 17.4 10.5 19.1 8.7 20.6 6.8 20.7 5 22.2 3.8M355.3 541.9l11.1-9.9 8-4.7 7.9-3.2 9.5-2.3 11.1-1.4 12.7-.3 14.3.7 15.9 1.3 17.4 1.8 19.1 2.1 20.6 2.2 20.7 1.9 22.2 1.8M355.3 541.9l11.1-44.2 8-10.8 7.9-1.6 9.5 4.5 11.1 8.6 12.7 10.4 14.3 10 15.9 8.3 17.4 6 19.1 4 20.6 2.3 20.7 1.3 22.2.6M355.3 541.9l11.1-31.4 8-13.8 7.9-8.7 9.5-5.4 11.1-1.5 12.7 2.2 14.3 5.4 15.9 7.3 17.4 8.3 19.1 8.1 20.6 7.4 20.7 5.8 22.2 4.8M355.3 541.9l11.1-4.9 8-2.6 7.9-2 9.5-1.8 11.1-1.5 12.7-1 14.3-.5 15.9-.2 17.4.2 19.1.5 20.6.7 20.7.8 22.2.8M355.3 541.9l11.1-54 8-13.2 7.9-2.1 9.5 4.9 11.1 9.9 12.7 12.1 14.3 11.8 15.9 10 17.4 7.5 19.1 5.3 20.6 3.4 20.7 1.9 22.2 1.2M355.3 541.9l11.1-34.7 8-12.7 7.9-6.1 9.5-1.6 11.1 2.8 12.7 6.3 14.3 8.2 15.9 8.7 17.4 8 19.1 6.7 20.6 5.1 20.7 3.4 22.2 2.4M355.3 541.9l11.1-69.5 8-19.9 7.9-7.1 9.5.4 11.1 6.4 12.7 9.9 14.3 11.5 15.9 11.5 17.4 10.7 19.1 9.5 20.6 8.2 20.7 6.3 22.2 5.3M355.3 541.9l11.1-51.3 8-10 7.9.6 9.5 7.2 11.1 11.1 12.7 11.9 14.3 10.4 15.9 8 17.4 5.3 19.1 3.3 20.6 1.8 20.7.9 22.2.4M355.3 541.9l11.1-66.4 8-23.1 7.9-11.7 9.5-5.2 11.1.7 12.7 5 14.3 7.6 15.9 8.9 17.4 9.4 19.1 9.3 20.6 8.8 20.7 7.6 22.2 7.1M355.3 541.9l11.1-46.7 8-18.2 7.9-9.9 9.5-4.5 11.1.9 12.7 5.6 14.3 8.7 15.9 10.2 17.4 10.4 19.1 9.6 20.6 8.4 20.7 6.4 22.2 5.2M355.3 541.9l11.1-27.9 8-9.8 7.9-4.4 9.5-.8 11.1 2.7 12.7 5.3 14.3 6.6 15.9 6.8 17.4 6.1 19.1 5 20.6 3.7 20.7 2.5 22.2 1.7M355.3 541.9l11.1-62.9 8-19.4 7.9-7.5 9.5-.2 11.1 5.8 12.7 9.7 14.3 11.5 15.9 11.6 17.4 10.8 19.1 9.4 20.6 7.8 20.7 5.8 22.2 4.7M355.3 541.9l11.1-33.6 8-11.8 7.9-5.3 9.5-.9 11.1 3.3 12.7 6.5 14.3 8.1 15.9 8.3 17.4 7.4 19.1 6 20.6 4.5 20.7 2.9 22.2 1.9M355.3 541.9l11.1-62.8 8-18.1 7.9-6 9.5 1.5 11.1 7.4 12.7 10.9 14.3 12.2 15.9 11.8 17.4 10.4 19.1 8.7 20.6 6.9 20.7 4.9 22.2 3.7M355.3 541.9l11.1-64.5 8-17.4 7.9-5 9.5 2.7 11.1 8.4 12.7 11.6 14.3 12.5 15.9 11.8 17.4 10.2 19.1 8.3 20.6 6.4 20.7 4.5 22.2 3.4M355.3 541.9l11.1-29.6 8-10.9 7.9-5.3 9.5-1.5 11.1 2.3 12.7 5.2 14.3 6.9 15.9 7.4 17.4 6.9 19.1 5.8 20.6 4.5 20.7 3 22.2 2.1M355.3 541.9l11.1-57 8-20.5 7.9-10.2 9.5-3.9 11.1 2 12.7 6.7 14.3 9.5 15.9 10.6 17.4 10.7 19.1 10 20.6 8.7 20.7 7.1 22.2 5.9M355.3 541.9l11.1-60.3 8-18.5 7.9-7.2 9.5.1 11.1 6.1 12.7 10 14.3 11.7 15.9 11.7 17.4 10.7 19.1 9 20.6 7.3 20.7 5.3 22.2 4.2M355.3 541.9l11.1-63.9 8-11.8 7.9 1 9.5 8.4 11.1 12.8 12.7 13.6 14.3 12.1 15.9 9.6 17.4 7 19.1 4.6 20.6 2.9 20.7 1.6 22.2 1M355.3 541.9l11.1-43.1 8-22.3 7.9-17.1 9.5-15.2 11.1-12.5 12.7-9.4 14.3-6.5 15.9-4 17.4-2 19.1-.7 20.6.3 20.7.8 22.2 1.2M355.3 541.9l11.1-20.8 8-11 7.9-8.5 9.5-7.4 11.1-5.5 12.7-3.1 14.3-.7 15.9 1.7 17.4 3.7 19.1 5.1 20.6 6.1 20.7 5.9 22.2 5.9M355.3 541.9l11.1-24.1 8-10.9 7.9-7 9.5-4.6 11.1-1.6 12.7 1.3 14.3 3.8 15.9 5.5 17.4 6.4 19.1 6.5 20.6 6 20.7 4.8 22.2 4M355.3 541.9l11.1-35.6 8-17.3 7.9-12.3 9.5-9.5 11.1-5.9 12.7-1.9 14.3 1.7 15.9 4.8 17.4 6.9 19.1 8.2 20.6 8.6 20.7 7.9 22.2 7.4M355.3 541.9l11.1-8.9 8-4.7 7.9-3.6 9.5-3.1 11.1-2.3 12.7-1.5 14.3-.4 15.9.4 17.4 1.1 19.1 1.7 20.6 2 20.7 2.1 22.2 2.1M355.3 541.9l11.1-51.4 8-15.1 7.9-4.9 9.5 1.9 11.1 7.4 12.7 10.7 14.3 11.6 15.9 10.9 17.4 9 19.1 6.9 20.6 4.9 20.7 3.1 22.2 2M355.3 541.9l11.1-7.5 8-3.8 7.9-2.8 9.5-2.4 11.1-1.7 12.7-.9 14.3-.2 15.9.4 17.4.9 19.1 1.3 20.6 1.5 20.7 1.5 22.2 1.6M355.3 541.9l11.1-37.6 8-13.3 7.9-6.1 9.5-1.2 11.1 3.5 12.7 7.1 14.3 8.9 15.9 9.3 17.4 8.4 19.1 6.8 20.6 5.2 20.7 3.4 22.2 2.3M355.3 541.9l11.1-65.9 8-14 7.9-1.1 9.5 6.8 11.1 11.6 12.7 13.4 14.3 12.8 15.9 10.8 17.4 8.4 19.1 6.1 20.6 4.2 20.7 2.6 22.2 1.8M355.3 541.9l11.1-37 8-17.7 7.9-12.2 9.5-9.1 11.1-5.3 12.7-1 14.3 2.6 15.9 5.6 17.4 7.6 19.1 8.6 20.6 8.8 20.7 7.9 22.2 7.4M355.3 541.9l11.1-21.3 8-10.9 7.9-8.1 9.5-6.7 11.1-4.5 12.7-2 14.3.6 15.9 2.8 17.4 4.7 19.1 5.7 20.6 6.3 20.7 5.8 22.2 5.5M355.3 541.9l11.1-38.2 8-19 7.9-13.8 9.5-11.3 11.1-7.7 12.7-3.9 14.3-.3 15.9 2.9 17.4 5.3 19.1 6.8 20.6 7.8 20.7 7.4 22.2 7.5M355.3 541.9l11.1-26 8-13.5 7.9-10.3 9.5-8.6 11.1-6.3 12.7-3.2 14.3-.3 15.9 2.6 17.4 4.7 19.1 6.4 20.6 7.2 20.7 7 22.2 6.8M355.3 541.9l11.1-18.4 8-7.4 7.9-4.2 9.5-2.1 11.1.2 12.7 2.1 14.3 3.4 15.9 4.2 17.4 4.3 19.1 4.1 20.6 3.5 20.7 2.7 22.2 2.1M355.3 541.9l11.1-27.4 8-16.1 7.9-13.6 9.5-13.6 11.1-12.7 12.7-11.2 14.3-9.3 15.9-7.2 17.4-5.1 19.1-3.2 20.6-1.6 20.7-.2 22.2.7M355.3 541.9l11.1-27.4 8-11.8 7.9-7 9.5-3.9 11.1-.5 12.7 2.8 14.3 5.3 15.9 6.8 17.4 7.3 19.1 6.9 20.6 6 20.7 4.5 22.2 3.5M355.3 541.9l11.1-39.3 8-16.4 7.9-9.6 9.5-5.2 11.1-.4 12.7 4 14.3 7.2 15.9 9.1 17.4 9.6 19.1 9.2 20.6 8.1 20.7 6.2 22.2 5M355.3 541.9l11.1-24.2 8-9 7.9-4.5 9.5-1.4 11.1 1.5 12.7 3.9 14.3 5.4 15.9 5.9 17.4 5.6 19.1 4.8 20.6 3.8 20.7 2.7 22.2 2M355.3 541.9l11.1-51.1 8-18.6 7.9-9.3 9.5-3.3 11.1 2.5 12.7 7 14.3 9.8 15.9 10.9 17.4 10.6 19.1 9.6 20.6 8.1 20.7 6.1 22.2 4.9M355.3 541.9l11.1-64.2 8-20.8 7.9-9.1 9.5-2.1 11.1 4 12.7 8.1 14.3 10.4 15.9 11 17.4 10.8 19.1 9.8 20.6 8.6 20.7 6.9 22.2 5.8M355.3 541.9l11.1-5 8-3 7.9-2.6 9.5-2.7 11.1-2.4 12.7-2.2 14.3-1.8 15.9-1.3 17.4-.9 19.1-.3 20.6.2 20.7.4 22.2.8M355.3 541.9l11.1-38 8-13.9 7.9-6.7 9.5-1.8 11.1 3.1 12.7 6.7 14.3 8.9 15.9 9.4 17.4 8.7 19.1 7.3 20.6 5.7 20.7 3.8 22.2 2.6M355.3 541.9l11.1-43.7 8-10.7 7.9-1.6 9.5 4.3 11.1 8.6 12.7 10.3 14.3 9.9 15.9 8.2 17.4 6 19.1 3.9 20.6 2.4 20.7 1.2 22.2.6M355.3 541.9l11.1-43.1 8-20.6 7.9-14.4 9.5-11.2 11.1-7.2 12.7-3 14.3.8 15.9 3.7 17.4 5.9 19.1 7.3 20.6 7.8 20.7 7.5 22.2 7.4M355.3 541.9l11.1-53.5 8-20.4 7.9-11 9.5-5.2 11.1.6 12.7 5.3 14.3 8.4 15.9 10.1 17.4 10.5 19.1 9.9 20.6 9.1 20.7 7.3 22.2 6.2M355.3 541.9l11.1-19.5 8-8.8 7.9-5.6 9.5-3.6 11.1-1.2 12.7 1 14.3 3 15.9 4.4 17.4 4.9 19.1 5.1 20.6 4.7 20.7 3.8 22.2 3.1M355.3 541.9l11.1-59.1 8-9.8 7.9 2.2 9.5 9.3 11.1 12.8 12.7 13 14.3 11 15.9 8.2 17.4 5.4 19.1 3.3 20.6 1.9 20.7.9 22.2.5M355.3 541.9l11.1-63.9 8-11.8 7.9 1 9.5 8.4 11.1 12.7 12.7 13.6 14.3 12.2 15.9 9.6 17.4 6.9 19.1 4.7 20.6 2.9 20.7 1.6 22.2 1M355.3 541.9l11.1-58.2 8-15 7.9-3.2 9.5 4.1 11.1 9.6 12.7 12.2 14.3 12.4 15.9 10.9 17.4 8.8 19.1 6.5 20.6 4.5 20.7 2.8 22.2 1.9M355.3 541.9l11.1-50.9 8-22.9 7.9-15.3 9.5-11.4 11.1-6.7 12.7-2.3 14.3 1.2 15.9 3.9 17.4 5.7 19.1 6.7 20.6 7.1 20.7 6.8 22.2 6.9M355.3 541.9l11.1-67.2 8-27.2 7.9-17 9.5-12.1 11.1-7.6 12.7-4 14.3-1.7 15.9-.3 17.4.4 19.1.8 20.6 1 20.7 1.1 22.2 1.1M355.3 541.9l11.1-48.8 8-13.3 7.9-3.3 9.5 3.3 11.1 8.3 12.7 11 14.3 11.2 15.9 9.9 17.4 7.7 19.1 5.6 20.6 3.6 20.7 2.1 22.2 1.2M355.3 541.9l11.1-61.8 8-17 7.9-5 9.5 2.5 11.1 8.3 12.7 11.6 14.3 12.4 15.9 11.7 17.4 10 19.1 8 20.6 6.1 20.7 4.2 22.2 3M355.3 541.9l11.1-44.5 8-20.5 7.9-13.9 9.5-10.2 11.1-5.8 12.7-1.4 14.3 2.4 15.9 5.3 17.4 7.3 19.1 8.2 20.6 8.6 20.7 7.9 22.2 7.6M355.3 541.9l11.1-24.1 8-9 7.9-4.5 9.5-1.4 11.1 1.5 12.7 3.9 14.3 5.4 15.9 5.8 17.4 5.6 19.1 4.8 20.6 3.8 20.7 2.7 22.2 2M355.3 541.9l11.1-47.6 8-20.1 7.9-12.3 9.5-7.6 11.1-2.5 12.7 2.4 14.3 5.9 15.9 8.4 17.4 9.5 19.1 9.7 20.6 9.2 20.7 7.9 22.2 7M355.3 541.9l11.1-37.6 8-11.1 7.9-3.4 9.5 1.7 11.1 6 12.7 8.4 14.3 9.1 15.9 8.3 17.4 6.6 19.1 4.8 20.6 3.2 20.7 1.8 22.2 1M355.3 541.9l11.1-20.4 8-9.6 7.9-6.4 9.5-4.7 11.1-2.2 12.7.3 14.3 2.5 15.9 4.1 17.4 5.2 19.1 5.6 20.6 5.4 20.7 4.6 22.2 3.9M355.3 541.9l11.1-52.2 8-17.8 7.9-7.8 9.5-1.4 11.1 4.5 12.7 8.6 14.3 10.9 15.9 11.3 17.4 10.5 19.1 8.9 20.6 7.1 20.7 5.1 22.2 3.9M355.3 541.9l11.1-53.8 8-15.6 7.9-5 9.5 2 11.1 7.6 12.7 10.9 14.3 11.9 15.9 11.2 17.4 9.3 19.1 7.2 20.6 5.1 20.7 3.4 22.2 2.3M355.3 541.9l11.1-22.9 8-8.7 7.9-4.6 9.5-1.7 11.1 1.1 12.7 3.5 14.3 4.9 15.9 5.5 17.4 5.4 19.1 4.8 20.6 3.9 20.7 2.7 22.2 2.1M355.3 541.9l11.1-17.6 8-9.6 7.9-7.6 9.5-6.7 11.1-5.4 12.7-3.4 14.3-1.3 15.9.7 17.4 2.6 19.1 3.9 20.6 5 20.7 5.1 22.2 5.2M355.3 541.9l11.1-43.2 8-12.3 7.9-3.4 9.5 2.4 11.1 7.2 12.7 9.8 14.3 10.2 15.9 9.2 17.4 7.3 19.1 5.1 20.6 3.4 20.7 1.9 22.2 1.2M355.3 541.9l11.1-36.5 8-12.3 7.9-5.1 9.5-.1 11.1 4.2 12.7 7.5 14.3 8.8 15.9 8.8 17.4 7.7 19.1 6 20.6 4.3 20.7 2.7 22.2 1.7M355.3 541.9l11.1-53.2 8-15.3 7.9-4.6 9.5 2.2 11.1 7.8 12.7 11.1 14.3 11.8 15.9 11 17.4 9.1 19.1 6.9 20.6 4.9 20.7 3.1 22.2 2.1M355.3 541.9l11.1-58.5 8-21.3 7.9-10.8 9.5-4.6 11.1 1.4 12.7 6 14.3 8.9 15.9 10.2 17.4 10.5 19.1 9.9 20.6 9 20.7 7.4 22.2 6.4M355.3 541.9l11.1-4.4 8-2.4 7.9-2 9.5-1.8 11.1-1.6 12.7-1.2 14.3-.8 15.9-.4 17.4-.1 19.1.2 20.6.5 20.7.6 22.2.8M355.3 541.9l11.1-20.6 8-9.9 7.9-6.8 9.5-5.1 11.1-2.7 12.7-.1 14.3 2.2 15.9 4 17.4 5.2 19.1 5.7 20.6 5.7 20.7 4.9 22.2 4.2M355.3 541.9l11.1-66.8 8-23.9 7.9-12.6 9.5-6.3 11.1-.5 12.7 3.7 14.3 6.4 15.9 7.8 17.4 8.5 19.1 8.6 20.6 8.4 20.7 7.5 22.2 7.1M355.3 541.9l11.1-48.4 8-12.9 7.9-2.9 9.5 3.7 11.1 8.6 12.7 11 14.3 11.1 15.9 9.6 17.4 7.4 19.1 5.2 20.6 3.4 20.7 1.9 22.2 1.1M355.3 541.9l11.1-58 8-17.2 7.9-5.9 9.5 1.3 11.1 7.2 12.7 10.8 14.3 12.1 15.9 11.6 17.4 10.1 19.1 8.2 20.6 6.2 20.7 4.3 22.2 3.2M355.3 541.9l11.1-62 8-26.6 7.9-17.3 9.5-13 11.1-8.5 12.7-4.7 14.3-2.1 15.9-.4 17.4.6 19.1 1.1 20.6 1.5 20.7 1.5 22.2 1.7M355.3 541.9l11.1-46.8 8-16.2 7.9-7.3 9.5-1.2 11.1 4.3 12.7 8.3 14.3 10.5 15.9 10.7 17.4 9.9 19.1 8.2 20.6 6.4 20.7 4.4 22.2 3.1M355.3 541.9l11.1-31.3 8-16.2 7.9-12.1 9.5-10.1 11.1-7.3 12.7-3.9 14.3-.5 15.9 2.5 17.4 5 19.1 6.7 20.6 7.7 20.7 7.5 22.2 7.5M355.3 541.9l11.1-28.7 8-15.5 7.9-12.2 9.5-11 11.1-8.8 12.7-6 14.3-3 15.9 0 17.4 2.5 19.1 4.6 20.6 6 20.7 6.5 22.2 6.9M355.3 541.9l11.1-44.4 8-11.2 7.9-2 9.5 4.1 11.1 8.4 12.7 10.4 14.3 10.2 15.9 8.5 17.4 6.4 19.1 4.2 20.6 2.6 20.7 1.4 22.2.7M355.3 541.9l11.1-52 8-21.8 7.9-13.3 9.5-8.4 11.1-3 12.7 1.6 14.3 5.2 15.9 7.6 17.4 8.8 19.1 9.3 20.6 9 20.7 8 22.2 7.3M355.3 541.9l11.1-70.2 8-25 7.9-13.4 9.5-7.2 11.1-1.7 12.7 2.2 14.3 4.7 15.9 6.2 17.4 6.8 19.1 7.2 20.6 7.2 20.7 6.7 22.2 6.5M355.3 541.9l11.1-50.1 8-18.3 7.9-9.1 9.5-3.1 11.1 2.6 12.7 7.1 14.3 9.9 15.9 10.8 17.4 10.6 19.1 9.5 20.6 7.9 20.7 5.9 22.2 4.7M355.3 541.9l11.1-49.5 8-22.5 7.9-15 9.5-11.1 11.1-6.4 12.7-2.1 14.3 1.6 15.9 4.4 17.4 6.1 19.1 7.1 20.6 7.7 20.7 7.1 22.2 7.1M355.3 541.9l11.1-4.4 8-2.7 7.9-2.4 9.5-2.4 11.1-2.5 12.7-2.2 14.3-2 15.9-1.6 17.4-1.1 19.1-.8 20.6-.3 20.7.1 22.2.4M355.3 541.9l11.1-54.8 8-22.4 7.9-13.5 9.5-8.3 11.1-2.9 12.7 1.9 14.3 5.3 15.9 7.5 17.4 8.6 19.1 9.1 20.6 8.9 20.7 7.8 22.2 7.4M355.3 541.9l11.1-58.7 8-12.5 7.9-.5 9.5 6.8 11.1 11.4 12.7 13 14.3 12 15.9 9.7 17.4 7.2 19.1 4.8 20.6 3 20.7 1.7 22.2 1M355.3 541.9l11.1-51.1 8-18.6 7.9-9.2 9.5-3.2 11.1 2.6 12.7 7.2 14.3 9.8 15.9 10.9 17.4 10.7 19.1 9.5 20.6 8.1 20.7 6 22.2 4.9M355.3 541.9l11.1-45.6 8-20.6 7.9-13.5 9.5-9.6 11.1-4.8 12.7-.3 14.3 3.6 15.9 6.3 17.4 8 19.1 8.8 20.6 8.9 20.7 8 22.2 7.5M355.3 541.9l11.1-33.3 8-17.9 7.9-14.1 9.5-12.8 11.1-10.5 12.7-7.5 14.3-4.5 15.9-1.5 17.4 1.1 19.1 3.1 20.6 4.7 20.7 5.2 22.2 5.8M355.3 541.9l11.1-64.5 8-12.6 7.9.2 9.5 7.8 11.1 12.4 12.7 13.5 14.3 12.5 15.9 10 17.4 7.5 19.1 5.2 20.6 3.3 20.7 2 22.2 1.2M355.3 541.9l11.1-24.6 8-8.8 7.9-4.1 9.5-1 11.1 2.1 12.7 4.3 14.3 5.6 15.9 5.9 17.4 5.4 19.1 4.6 20.6 3.5 20.7 2.5 22.2 1.7M355.3 541.9l11.1-56.5 8-15.9 7.9-4.6 9.5 2.5 11.1 8.3 12.7 11.4 14.3 12.2 15.9 11.2 17.4 9.4 19.1 7.3 20.6 5.2 20.7 3.4 22.2 2.3M355.3 541.9l11.1-43.8 8-20 7.9-13.2 9.5-9.5 11.1-4.9 12.7-.3 14.3 3.4 15.9 6.2 17.4 8.1 19.1 8.8 20.6 9 20.7 8.1 22.2 7.5M355.3 541.9l11.1-44.5 8-15 7.9-6.4 9.5-.5 11.1 4.8 12.7 8.6 14.3 10.3 15.9 10.4 17.4 9.3 19.1 7.4 20.6 5.6 20.7 3.6 22.2 2.5M355.3 541.9l11.1-4.6 8-2.1 7.9-1.6 9.5-1.2 11.1-.8 12.7-.5 14.3 0 15.9.2 17.4.4 19.1.5 20.6.6 20.7.7 22.2.6M355.3 541.9l11.1-63.3 8-23.5 7.9-12.9 9.5-6.7 11.1-1.1 12.7 3.5 14.3 6.3 15.9 8 17.4 8.7 19.1 8.9 20.6 8.6 20.7 7.7 22.2 7.2M355.3 541.9l11.1-38.7 8-16.2 7.9-9.6 9.5-5.3 11.1-.5 12.7 3.8 14.3 7.1 15.9 9 17.4 9.5 19.1 9.1 20.6 8.1 20.7 6.2 22.2 5M355.3 541.9l11.1-68.6 8-21.3 7.9-9 9.5-1.7 11.1 4.2 12.7 8.2 14.3 10.2 15.9 10.9 17.4 10.5 19.1 9.8 20.6 8.7 20.7 7.1 22.2 6.2M355.3 541.9l11.1-71.4 8-23.9 7.9-11.8 9.5-5.1 11.1.5 12.7 4.5 14.3 6.9 15.9 8 17.4 8.5 19.1 8.5 20.6 8.3 20.7 7.4 22.2 7.1M355.3 541.9l11.1-61.4 8-14.3 7.9-2.1 9.5 5.6 11.1 10.7 12.7 12.9 14.3 12.6 15.9 10.8 17.4 8.4 19.1 6.1 20.6 4.2 20.7 2.5 22.2 1.7M355.3 541.9l11.1-50.9 8-15 7.9-4.8 9.5 1.9 11.1 7.4 12.7 10.6 14.3 11.5 15.9 10.8 17.4 9 19.1 6.8 20.6 4.8 20.7 3 22.2 2M355.3 541.9l11.1-20.1 8-12.5 7.9-11.2 9.5-11.8 11.1-11.8 12.7-11.4 14.3-10.4 15.9-9.1 17.4-7.8 19.1-6.3 20.6-4.8 20.7-3.3 22.2-2.3M355.3 541.9l11.1-18.4 8-7.6 7.9-4.4 9.5-2.5 11.1-.1 12.7 1.8 14.3 3.3 15.9 4.2 17.4 4.4 19.1 4.2 20.6 3.7 20.7 2.9 22.2 2.4M355.3 541.9l11.1-31 8-11.1 7.9-5.2 9.5-1 11.1 2.8 12.7 5.8 14.3 7.4 15.9 7.7 17.4 7 19.1 5.7 20.6 4.3 20.7 2.9 22.2 1.9M355.3 541.9l11.1-18.1 8-9.3 7.9-6.9 9.5-5.7 11.1-3.9 12.7-1.7 14.3.4 15.9 2.4 17.4 3.9 19.1 4.8 20.6 5.3 20.7 5 22.2 4.6M355.3 541.9l11.1-64 8-14.7 7.9-2 9.5 5.6 11.1 10.9 12.7 13 14.3 12.8 15.9 11 17.4 8.7 19.1 6.5 20.6 4.5 20.7 2.9 22.2 1.9M355.3 541.9l11.1-37.3 8-14.7 7.9-7.9 9.5-3.4 11.1 1.3 12.7 5.4 14.3 8 15.9 9.3 17.4 9.1 19.1 8.2 20.6 6.7 20.7 4.9 22.2 3.5M355.3 541.9l11.1-54.3 8-18.1 7.9-7.8 9.5-1.1 11.1 4.8 12.7 8.9 14.3 11.1 15.9 11.4 17.4 10.6 19.1 9 20.6 7.2 20.7 5.3 22.2 4M355.3 541.9l11.1-18.1 8-10.7 7.9-9.1 9.5-8.9 11.1-8.2 12.7-6.9 14.3-5.1 15.9-3.2 17.4-1.1 19.1.8 20.6 2.5 20.7 3.7 22.2 4.6M355.3 541.9l11.1-42.5 8-11.9 7.9-3.3 9.5 2.6 11.1 7.2 12.7 9.7 14.3 10.1 15.9 9 17.4 7 19.1 4.9 20.6 3.2 20.7 1.8 22.2 1.1M355.3 541.9l11.1-11.1 8-5.8 7.9-4.4 9.5-3.9 11.1-2.8 12.7-1.7 14.3-.5 15.9.8 17.4 1.6 19.1 2.4 20.6 2.8 20.7 2.8 22.2 2.8M355.3 541.9l11.1-26.8 8-15.7 7.9-13.3 9.5-13.3 11.1-12.4 12.7-10.9 14.3-9 15.9-6.8 17.4-4.7 19.1-2.8 20.6-1.1 20.7.2 22.2 1.3M355.3 541.9l11.1-65.6 8-26.1 7.9-15.8 9.5-10.6 11.1-5.7 12.7-1.7 14.3 1 15.9 2.7 17.4 3.6 19.1 4.2 20.6 4.5 20.7 4.4 22.2 4.5M355.3 541.9l11.1-36 8-13.6 7.9-7 9.5-2.4 11.1 2.1 12.7 5.9 14.3 8.2 15.9 9 17.4 8.7 19.1 7.4 20.6 5.9 20.7 4 22.2 2.9M355.3 541.9l11.1-60.4 8-18.9 7.9-7.6 9.5-.4 11.1 5.6 12.7 9.6 14.3 11.5 15.9 11.7 17.4 10.7 19.1 9.2 20.6 7.6 20.7 5.7 22.2 4.4M355.3 541.9l11.1-41.5 8-14.7 7.9-6.6 9.5-1.3 11.1 3.8 12.7 7.7 14.3 9.7 15.9 10 17.4 9.1 19.1 7.5 20.6 5.7 20.7 3.8 22.2 2.6M355.3 541.9l11.1-43.6 8-19.2 7.9-12.3 9.5-8.1 11.1-3.2 12.7 1.3 14.3 5 15.9 7.7 17.4 9.1 19.1 9.5 20.6 9.2 20.7 7.9 22.2 7M355.3 541.9l11.1-40.4 8-18.3 7.9-11.9 9.5-8.2 11.1-3.7 12.7.8 14.3 4.6 15.9 7.2 17.4 8.8 19.1 9.3 20.6 9.1 20.7 7.8 22.2 7M355.3 541.9l11.1-36.1 8-19.1 7.9-14.7 9.5-13.1 11.1-10.5 12.7-7.3 14.3-4 15.9-1 17.4 1.4 19.1 3.4 20.6 4.8 20.7 5.2 22.2 5.8M355.3 541.9l11.1-41 8-12.3 7.9-4.1 9.5 1.6 11.1 6.2 12.7 9.1 14.3 9.9 15.9 9.1 17.4 7.4 19.1 5.5 20.6 3.6 20.7 2.2 22.2 1.3M355.3 541.9l11.1-29.1 8-16.2 7.9-13.1 9.5-12.3 11.1-10.4 12.7-8 14.3-5.3 15.9-2.4 17.4 0 19.1 2.3 20.6 3.9 20.7 4.9 22.2 5.6M355.3 541.9l11.1-57.6 8-13.4 7.9-1.7 9.5 5.6 11.1 10.6 12.7 12.6 14.3 12.2 15.9 10.2 17.4 7.7 19.1 5.4 20.6 3.6 20.7 2 22.2 1.3M355.3 541.9l11.1-25.1 8-14.3 7.9-11.8 9.5-11.3 11.1-9.9 12.7-7.9 14.3-5.5 15.9-2.9 17.4-.4 19.1 1.7 20.6 3.6 20.7 4.5 22.2 5.5M355.3 541.9l11.1-58.3 8-22 7.9-12 9.5-6 11.1-.1 12.7 4.4 14.3 7.6 15.9 9.3 17.4 9.9 19.1 9.7 20.6 9.2 20.7 7.7 22.2 7M355.3 541.9l11.1-36.4 8-19.5 7.9-15.3 9.5-14 11.1-11.7 12.7-8.8 14.3-5.7 15.9-3 17.4-.6 19.1 1.3 20.6 2.7 20.7 3.4 22.2 4.1M355.3 541.9l11.1-46.7 8-19.9 7.9-12.3 9.5-7.7 11.1-2.6 12.7 2.1 14.3 5.8 15.9 8.2 17.4 9.4 19.1 9.7 20.6 9.2 20.7 7.9 22.2 7M355.3 541.9l11.1-17.5 8-11.1 7.9-10.1 9.5-10.9 11.1-11.3 12.7-11.1 14.3-10.6 15.9-9.7 17.4-8.8 19.1-7.6 20.6-6.3 20.7-4.9 22.2-3.9M355.3 541.9l11.1-71.8 8-26.7 7.9-15.4 9.5-9.8 11.1-4.8 12.7-1.3 14.3.9 15.9 2.2 17.4 2.9 19.1 3.3 20.6 3.6 20.7 3.4 22.2 3.6M355.3 541.9l11.1-29.1 8-11.8 7.9-6.7 9.5-3.2 11.1.6 12.7 3.8 14.3 6.2 15.9 7.3 17.4 7.5 19.1 6.8 20.6 5.7 20.7 4.1 22.2 3.1M355.3 541.9l11.1-64.8 8-14.9 7.9-2.2 9.5 5.6 11.1 10.9 12.7 13 14.3 12.8 15.9 11.1 17.4 8.9 19.1 6.6 20.6 4.7 20.7 3 22.2 2.1M355.3 541.9l11.1-18.2 8-10.5 7.9-8.7 9.5-8.4 11.1-7.3 12.7-5.8 14.3-3.9 15.9-1.8 17.4.3 19.1 2.2 20.6 3.7 20.7 4.6 22.2 5.2M355.3 541.9l11.1-28.7 8-12.1 7.9-7.1 9.5-3.8 11.1-.2 12.7 3.3 14.3 5.7 15.9 7.2 17.4 7.5 19.1 7.1 20.6 6 20.7 4.6 22.2 3.5M355.3 541.9l11.1-45.3 8-12 7.9-2.6 9.5 3.6 11.1 8.2 12.7 10.5 14.3 10.5 15.9 9.1 17.4 6.8 19.1 4.8 20.6 2.9 20.7 1.7 22.2.9M355.3 541.9l11.1-44.4 8-15.5 7.9-7 9.5-1.3 11.1 4.1 12.7 8 14.3 10.1 15.9 10.5 17.4 9.5 19.1 7.9 20.6 6.1 20.7 4.1 22.2 3M355.3 541.9l11.1-59.7 8-15 7.9-3 9.5 4.4 11.1 9.9 12.7 12.4 14.3 12.5 15.9 11 17.4 8.8 19.1 6.5 20.6 4.6 20.7 2.9 22.2 1.9M355.3 541.9l11.1-8.7 8-4.5 7.9-3.5 9.5-3.1 11.1-2.3 12.7-1.5 14.3-.5 15.9.3 17.4 1 19.1 1.6 20.6 1.9 20.7 2 22.2 2M355.3 541.9l11.1-37.1 8-14.4 7.9-7.8 9.5-3.2 11.1 1.6 12.7 5.5 14.3 8 15.9 9.3 17.4 9 19.1 8.1 20.6 6.5 20.7 4.7 22.2 3.4M355.3 541.9l11.1-43 8-14.6 7.9-6.2 9.5-.5 11.1 4.6 12.7 8.4 14.3 10.1 15.9 10.1 17.4 9 19.1 7.3 20.6 5.4 20.7 3.5 22.2 2.3M355.3 541.9l11.1-40.7 8-12.8 7.9-4.6 9.5.9 11.1 5.7 12.7 8.8 14.3 9.9 15.9 9.3 17.4 7.8 19.1 5.8 20.6 4.1 20.7 2.4 22.2 1.6M355.3 541.9l11.1-43 8-13.7 7.9-5.1 9.5.7 11.1 5.8 12.7 9 14.3 10.3 15.9 9.9 17.4 8.3 19.1 6.4 20.6 4.5 20.7 2.8 22.2 1.8M355.3 541.9l11.1-32.9 8-12 7.9-5.8 9.5-1.6 11.1 2.7 12.7 5.9 14.3 7.7 15.9 8.3 17.4 7.6 19.1 6.4 20.6 4.9 20.7 3.2 22.2 2.2M355.3 541.9l11.1-60.6 8-8.8 7.9 3.5 9.5 10.2 11.1 13.4 12.7 13.1 14.3 10.7 15.9 7.6 17.4 5 19.1 2.9 20.6 1.6 20.7.7 22.2.4M355.3 541.9l11.1-17.9 8-7.4 7.9-4.4 9.5-2.5 11.1-.3 12.7 1.7 14.3 3.1 15.9 4 17.4 4.3 19.1 4.1 20.6 3.7 20.7 2.9 22.2 2.3M355.3 541.9l11.1-29.1 8-13.3 7.9-8.7 9.5-5.9 11.1-2.3 12.7 1.2 14.3 4.3 15.9 6.5 17.4 7.6 19.1 7.8 20.6 7.4 20.7 6 22.2 5.1M355.3 541.9l11.1-39.1 8-16.6 7.9-9.9 9.5-5.6 11.1-.9 12.7 3.4 14.3 6.9 15.9 8.8 17.4 9.6 19.1 9.2 20.6 8.3 20.7 6.5 22.2 5.3M355.3 541.9l11.1-59.9 8-9.2 7.9 2.8 9.5 9.7 11.1 13.1 12.7 13.1 14.3 10.9 15.9 7.9 17.4 5.2 19.1 3.1 20.6 1.7 20.7.8 22.2.4M355.3 541.9l11.1-23.9 8-11.3 7.9-7.6 9.5-5.5 11.1-2.7 12.7.3 14.3 3 15.9 4.9 17.4 6.2 19.1 6.7 20.6 6.4 20.7 5.4 22.2 4.7M355.3 541.9l11.1-22 8-10.3 7.9-6.9 9.5-4.9 11.1-2.3 12.7.4 14.3 2.8 15.9 4.6 17.4 5.7 19.1 6.1 20.6 5.8 20.7 4.9 22.2 4.2M355.3 541.9l11.1-44.7 8-17.8 7.9-9.9 9.5-4.9 11.1.5 12.7 5.1 14.3 8.2 15.9 9.9 17.4 10.3 19.1 9.5 20.6 8.4 20.7 6.4 22.2 5.2M355.3 541.9l11.1-40.8 8-12.9 7.9-4.6 9.5.9 11.1 5.7 12.7 8.8 14.3 9.9 15.9 9.3 17.4 7.8 19.1 5.9 20.6 4.1 20.7 2.5 22.2 1.5M355.3 541.9l11.1-40.4 8-16.1 7.9-8.8 9.5-4.2 11.1.9 12.7 5.2 14.3 8.1 15.9 9.7 17.4 9.7 19.1 8.9 20.6 7.6 20.7 5.6 22.2 4.3M355.3 541.9l11.1-47.5 8-23.1 7.9-16.5 9.5-13.7 11.1-9.9 12.7-6.1 14.3-2.8 15.9 0 17.4 1.8 19.1 3.2 20.6 4.1 20.7 4.2 22.2 4.5M355.3 541.9l11.1-63.2 8-24.8 7.9-14.6 9.5-9.1 11.1-3.7 12.7.6 14.3 3.6 15.9 5.4 17.4 6.5 19.1 6.9 20.6 7.2 20.7 6.6 22.2 6.6M355.3 541.9l11.1-61.2 8-21.5 7.9-10.7 9.5-4.1 11.1 1.9 12.7 6.4 14.3 9.1 15.9 10.4 17.4 10.4 19.1 9.9 20.6 9 20.7 7.4 22.2 6.4M355.3 541.9l11.1-55.7 8-9.2 7.9 2.3 9.5 8.9 11.1 12.4 12.7 12.5 14.3 10.4 15.9 7.6 17.4 5 19.1 2.9 20.6 1.5 20.7.8 22.2.3M355.3 541.9l11.1-34.6 8-16.9 7.9-12 9.5-9.3 11.1-5.7 12.7-1.8 14.3 1.8 15.9 4.8 17.4 7 19.1 8.1 20.6 8.6 20.7 7.9 22.2 7.3M355.3 541.9l11.1-53.8 8-19.8 7.9-10.3 9.5-4.1 11.1 1.7 12.7 6.4 14.3 9.3 15.9 10.6 17.4 10.7 19.1 9.9 20.6 8.7 20.7 6.9 22.2 5.7M355.3 541.9l11.1-44.5 8-11.6 7.9-2.3 9.5 3.7 11.1 8.2 12.7 10.4 14.3 10.3 15.9 8.7 17.4 6.6 19.1 4.5 20.6 2.8 20.7 1.5 22.2.9M355.3 541.9l11.1-21.7 8-11 7.9-8 9.5-6.4 11.1-4.2 12.7-1.5 14.3 1.1 15.9 3.3 17.4 5 19.1 6 20.6 6.4 20.7 5.7 22.2 5.4M355.3 541.9l11.1-43.8 8-19.1 7.9-12.1 9.5-7.9 11.1-3.1 12.7 1.6 14.3 5.4 15.9 7.8 17.4 9.2 19.1 9.6 20.6 9.2 20.7 7.8 22.2 7M355.3 541.9l11.1-36.1 8-14 7.9-7.4 9.5-3 11.1 1.6 12.7 5.5 14.3 8 15.9 9.1 17.4 8.8 19.1 7.8 20.6 6.3 20.7 4.4 22.2 3.2" class="fb" fill="none" stroke-width="0.7"/>
<path d="M355.3 541.9l11.1-11.5 8-15.8 7.9-17.3 9.5-19.8 11.1-19.8 12.7-17.7 14.3-14.1 15.9-10.2 17.4-6.8 19.1-4.2 20.6-2.3 20.7-1.1 22.2-.6M355.3 541.9l11.1-8.4 8-11.8 7.9-13.5 9.5-16.2 11.1-17.3 12.7-16.8 14.3-14.9 15.9-12.4 17.4-9.6 19.1-7.2 20.6-5 20.7-3.2 22.2-2.1M355.3 541.9l11.1-5.5 8-8.5 7.9-10.5 9.5-13.6 11.1-15.8 12.7-16.7 14.3-16.1 15.9-14.4 17.4-12.1 19.1-9.4 20.6-6.9 20.7-4.5 22.2-3M355.3 541.9l11.1-.7 8-1.2 7.9-1.7 9.5-2.6 11.1-3.6 12.7-4.6 14.3-5.6 15.9-6.6 17.4-7.4 19.1-7.9 20.6-8.4 20.7-7.9 22.2-8M355.3 541.9l11.1-8.6 8-12.5 7.9-14.4 9.5-17.4 11.1-18.7 12.7-17.9 14.3-15.7 15.9-12.4 17.4-9.2 19.1-6.2 20.6-3.9 20.7-2.2 22.2-1.3M355.3 541.9l11.1-3 8-4.8 7.9-6.2 9.5-8.5 11.1-10.5 12.7-11.9 14.3-12.8 15.9-12.9 17.4-12.3 19.1-11.3 20.6-9.9 20.7-8 22.2-6.7M355.3 541.9l11.1-2.1 8-3.3 7.9-4.1 9.5-5.6 11.1-6.8 12.7-7.9 14.3-8.5 15.9-8.9 17.4-9.1 19.1-8.9 20.6-8.6 20.7-7.7 22.2-7.3M355.3 541.9l11.1-4.2 8-6.8 7.9-8.5 9.5-11.5 11.1-13.8 12.7-15.3 14.3-15.6 15.9-14.7 17.4-13.1 19.1-10.9 20.6-8.6 20.7-6.1 22.2-4.4M355.3 541.9l11.1-5.6 8-8.5 7.9-10.6 9.5-13.6 11.1-15.8 12.7-16.6 14.3-16 15.9-14.4 17.4-12 19.1-9.3 20.6-6.9 20.7-4.5 22.2-3.1M355.3 541.9l11.1-8.7 8-12.1 7.9-13.4 9.5-15.8 11.1-16.7 12.7-16.1 14.3-14.3 15.9-12.1 17.4-9.6 19.1-7.2 20.6-5.4 20.7-3.5 22.2-2.4M355.3 541.9l11.1-11.2 8-15.5 7.9-16.9 9.5-19.3 11.1-19.4 12.7-17.5 14.3-14.2 15.9-10.4 17.4-7.2 19.1-4.5 20.6-2.7 20.7-1.4 22.2-.8M355.3 541.9l11.1-6.3 8-9.2 7.9-10.6 9.5-13.3 11.1-14.7 12.7-15 14.3-14.3 15.9-12.9 17.4-10.9 19.1-9.1 20.6-7.1 20.7-5.2 22.2-3.9M355.3 541.9l11.1-8.7 8-12.6 7.9-14.5 9.5-17.6 11.1-18.7 12.7-18 14.3-15.6 15.9-12.4 17.4-9.1 19.1-6.1 20.6-3.8 20.7-2.1 22.2-1.3M355.3 541.9l11.1-12.4 8-16.4 7.9-17.5 9.5-19.5 11.1-19.2 12.7-16.9 14.3-13.4 15.9-9.9 17.4-6.7 19.1-4.3 20.6-2.6 20.7-1.3 22.2-.8M355.3 541.9l11.1-.6 8-1.1 7.9-1.5 9.5-2.2 11.1-3 12.7-3.8 14.3-4.5 15.9-5.3 17.4-5.7 19.1-6.2 20.6-6.4 20.7-6.2 22.2-6.3M355.3 541.9l11.1-3.2 8-4.7 7.9-5.8 9.5-7.4 11.1-8.8 12.7-9.7 14.3-10.1 15.9-10.2 17.4-10 19.1-9.5 20.6-9 20.7-7.6 22.2-7M355.3 541.9l11.1-2.7 8-4.3 7.9-5.7 9.5-8 11.1-10.1 12.7-11.7 14.3-12.7 15.9-13.1 17.4-12.7 19.1-11.7 20.6-10.5 20.7-8.3 22.2-7.1M355.3 541.9l11.1-1.8 8-3.2 7.9-4.2 9.5-6.2 11.1-8.1 12.7-9.9 14.3-11.4 15.9-12.2 17.4-12.5 19.1-12.2 20.6-11.5 20.7-9.6 22.2-8.4M355.3 541.9l11.1-9.1 8-13.1 7.9-15 9.5-18 11.1-19.1 12.7-18.1 14.3-15.4 15.9-12.1 17.4-8.6 19.1-5.8 20.6-3.5 20.7-1.8 22.2-1.1M355.3 541.9l11.1-13.3 8-17.6 7.9-18.4 9.5-20.2 11.1-19.5 12.7-16.7 14.3-13 15.9-9.1 17.4-6 19.1-3.7 20.6-2.1 20.7-1 22.2-.6M355.3 541.9l11.1-.1 8-.1 7.9-.1 9.5-.3 11.1-.3 12.7-.4 14.3-.5 15.9-.6 17.4-.7 19.1-.8 20.6-.9 20.7-.8 22.2-1M355.3 541.9l11.1-13.8 8-18.2 7.9-18.9 9.5-20.7 11.1-19.8 12.7-16.7 14.3-12.6 15.9-8.8 17.4-5.5 19.1-3.3 20.6-1.8 20.7-.8 22.2-.4M355.3 541.9l11.1-5.6 8-8.6 7.9-10.6 9.5-13.7 11.1-15.8 12.7-16.6 14.3-16 15.9-14.4 17.4-11.9 19.1-9.3 20.6-6.9 20.7-4.4 22.2-3.1M355.3 541.9l11.1-14.3 8-18.5 7.9-19.1 9.5-20.8 11.1-19.6 12.7-16.4 14.3-12.4 15.9-8.6 17.4-5.4 19.1-3.2 20.6-1.7 20.7-.9 22.2-.4M355.3 541.9l11.1-4.8 8-7.3 7.9-8.7 9.5-11.2 11.1-12.8 12.7-13.7 14.3-13.6 15.9-12.8 17.4-11.5 19.1-10 20.6-8.3 20.7-6.4 22.2-5.2M355.3 541.9l11.1-2.8 8-4.4 7.9-5.3 9.5-7 11.1-8.5 12.7-9.5 14.3-10 15.9-10.2 17.4-10.1 19.1-9.6 20.6-9 20.7-7.8 22.2-7.2M355.3 541.9l11.1-3.8 8-6.1 7.9-7.8 9.5-10.6 11.1-13 12.7-14.5 14.3-15.1 15.9-14.6 17.4-13.2 19.1-11.4 20.6-9.2 20.7-6.7 22.2-5.1M355.3 541.9l11.1-9.3 8-13.3 7.9-15.1 9.5-18.1 11.1-19.1 12.7-18 14.3-15.3 15.9-12 17.4-8.5 19.1-5.6 20.6-3.5 20.7-1.8 22.2-1.1M355.3 541.9l11.1-2.6 8-4.4 7.9-5.8 9.5-8.2 11.1-10.4 12.7-12.2 14.3-13.5 15.9-13.8 17.4-13.4 19.1-12.3 20.6-10.9 20.7-8.5 22.2-7M355.3 541.9l11.1-7.5 8-10.9 7.9-12.4 9.5-15.2 11.1-16.6 12.7-16.3 14.3-15 15.9-12.7 17.4-10.3 19.1-7.9 20.6-5.7 20.7-3.8 22.2-2.7M355.3 541.9l11.1-.4 8-.6 7.9-.9 9.5-1.4 11.1-1.9 12.7-2.6 14.3-3.1 15.9-3.7 17.4-4.3 19.1-4.7 20.6-5.1 20.7-5 22.2-5.2M355.3 541.9l11.1-4.6 8-7 7.9-8.5 9.5-11 11.1-13 12.7-13.9 14.3-13.9 15.9-13.1 17.4-11.9 19.1-10.2 20.6-8.5 20.7-6.4 22.2-5.2M355.3 541.9l11.1-1.3 8-2.2 7.9-3 9.5-4.4 11.1-5.8 12.7-7.2 14.3-8.4 15.9-9.3 17.4-9.9 19.1-10.1 20.6-10 20.7-8.9 22.2-8.5M355.3 541.9l11.1-2.5 8-4.2 7.9-5.5 9.5-7.9 11.1-10 12.7-11.9 14.3-13.1 15.9-13.7 17.4-13.3 19.1-12.4 20.6-11 20.7-8.7 22.2-7.2M355.3 541.9l11.1-4 8-6.5 7.9-8.3 9.5-11.1 11.1-13.4 12.7-15 14.3-15.4 15.9-14.6 17.4-13.2 19.1-11.1 20.6-8.9 20.7-6.3 22.2-4.7M355.3 541.9l11.1-3 8-5 7.9-6.4 9.5-8.8 11.1-10.9 12.7-12.5 14.3-13.5 15.9-13.4 17.4-12.8 19.1-11.6 20.6-10.1 20.7-7.9 22.2-6.5M355.3 541.9l11.1-4.4 8-7 7.9-8.7 9.5-11.6 11.1-13.9 12.7-15.3 14.3-15.3 15.9-14.5 17.4-12.8 19.1-10.7 20.6-8.4 20.7-6 22.2-4.4M355.3 541.9l11.1-.6 8-1 7.9-1.5 9.5-2.2 11.1-3.1 12.7-4.1 14.3-5 15.9-6 17.4-6.8 19.1-7.4 20.6-7.9 20.7-7.6 22.2-7.7M355.3 541.9l11.1-.4 8-.8 7.9-1.2 9.5-1.7 11.1-2.5 12.7-3.3 14.3-4.2 15.9-5.1 17.4-5.9 19.1-6.7 20.6-7.2 20.7-7.2 22.2-7.5M355.3 541.9l11.1-1 8-1.7 7.9-2.3 9.5-3.4 11.1-4.6 12.7-5.7 14.3-6.7 15.9-7.6 17.4-8.2 19.1-8.5 20.6-8.7 20.7-7.9 22.2-7.9M355.3 541.9l11.1-6.3 8-9.5 7.9-11.5 9.5-14.7 11.1-16.6 12.7-17.2 14.3-16.2 15.9-14.1 17.4-11.3 19.1-8.6 20.6-6 20.7-3.8 22.2-2.5M355.3 541.9l11.1-4.9 8-7.6 7.9-9.5 9.5-12.5 11.1-14.8 12.7-15.9 14.3-15.9 15.9-14.6 17.4-12.5 19.1-10.2 20.6-7.8 20.7-5.3 22.2-3.7M355.3 541.9l11.1-6.7 8-9.6 7.9-11.1 9.5-13.5 11.1-14.9 12.7-15.1 14.3-14.2 15.9-12.6 17.4-10.8 19.1-8.8 20.6-6.9 20.7-5 22.2-3.8M355.3 541.9l11.1-1.9 8-3.3 7.9-4.2 9.5-5.9 11.1-7.6 12.7-8.9 14.3-10.1 15.9-10.6 17.4-10.7 19.1-10.5 20.6-10 20.7-8.6 22.2-7.8M355.3 541.9l11.1-10.6 8-14.8 7.9-16.5 9.5-19.2 11.1-19.6 12.7-17.9 14.3-14.7 15.9-10.9 17.4-7.5 19.1-4.6 20.6-2.7 20.7-1.4 22.2-.7M355.3 541.9l11.1-3.5 8-5.6 7.9-7.3 9.5-9.9 11.1-12.3 12.7-13.9 14.3-14.7 15.9-14.4 17.4-13.3 19.1-11.7 20.6-9.7 20.7-7.2 22.2-5.6M355.3 541.9l11.1-.7 8-1.3 7.9-1.8 9.5-2.5 11.1-3.5 12.7-4.4 14.3-5.2 15.9-5.9 17.4-6.5 19.1-6.9 20.6-7.1 20.7-6.8 22.2-6.8M355.3 541.9l11.1-10 8-13.9 7.9-15.5 9.5-18.2 11.1-18.8 12.7-17.4 14.3-14.8 15.9-11.4 17.4-8.2 19.1-5.5 20.6-3.5 20.7-2 22.2-1.2M355.3 541.9l11.1-5.8 8-9 7.9-10.9 9.5-14.1 11.1-16.2 12.7-16.9 14.3-16.2 15.9-14.4 17.4-11.7 19.1-9.1 20.6-6.5 20.7-4.2 22.2-2.7M355.3 541.9l11.1-5.5 8-7.8 7.9-9.1 9.5-11.3 11.1-12.6 12.7-13.2 14.3-12.9 15.9-12.2 17.4-10.9 19.1-9.6 20.6-8.2 20.7-6.3 22.2-5.3M355.3 541.9l11.1-12.7 8-17.1 7.9-18.3 9.5-20.5 11.1-19.9 12.7-17.3 14.3-13.3 15.9-9.4 17.4-6 19.1-3.6 20.6-1.9 20.7-.9 22.2-.4M355.3 541.9l11.1-2.9 8-4.5 7.9-5.3 9.5-7 11.1-8.4 12.7-9.2 14.3-9.7 15.9-10 17.4-9.7 19.1-9.4 20.6-8.9 20.7-7.6 22.2-7.1M355.3 541.9l11.1-4.2 8-6.5 7.9-8.1 9.5-10.7 11.1-12.8 12.7-13.9 14.3-14.2 15.9-13.6 17.4-12.3 19.1-10.7 20.6-8.8 20.7-6.6 22.2-5.3M355.3 541.9l11.1-6.2 8-9.4 7.9-11.4 9.5-14.5 11.1-16.5 12.7-17 14.3-16.1 15.9-14 17.4-11.4 19.1-8.7 20.6-6.2 20.7-3.9 22.2-2.6M355.3 541.9l11.1-5.6 8-8.2 7.9-9.7 9.5-12 11.1-13.6 12.7-14.2 14.3-13.7 15.9-12.7 17.4-11.2 19.1-9.5 20.6-7.9 20.7-5.8 22.2-4.7M355.3 541.9l11.1-6.3 8-9.6 7.9-11.6 9.5-14.8 11.1-16.8 12.7-17.2 14.3-16.3 15.9-14.1 17.4-11.3 19.1-8.5 20.6-5.9 20.7-3.7 22.2-2.4M355.3 541.9l11.1-6.6 8-9.6 7.9-11 9.5-13.6 11.1-15 12.7-15.1 14.3-14.3 15.9-12.8 17.4-10.8 19.1-8.8 20.6-6.9 20.7-5 22.2-3.7M355.3 541.9l11.1-7.2 8-10.3 7.9-11.7 9.5-14.3 11.1-15.5 12.7-15.4 14.3-14.4 15.9-12.5 17.4-10.5 19.1-8.4 20.6-6.5 20.7-4.5 22.2-3.4M355.3 541.9l11.1-5.7 8-8.8 7.9-10.7 9.5-13.9 11.1-16 12.7-16.9 14.3-16.1 15.9-14.4 17.4-11.9 19.1-9.2 20.6-6.6 20.7-4.3 22.2-2.9M355.3 541.9l11.1-4.1 8-6.2 7.9-7.7 9.5-9.9 11.1-11.6 12.7-12.7 14.3-12.8 15.9-12.5 17.4-11.5 19.1-10.3 20.6-9 20.7-7 22.2-6M355.3 541.9l11.1-6 8-8.8 7.9-10.3 9.5-12.9 11.1-14.4 12.7-14.9 14.3-14.3 15.9-12.9 17.4-11.1 19.1-9.3 20.6-7.4 20.7-5.3 22.2-4.1M355.3 541.9l11.1-12.1 8-15.9 7.9-17 9.5-19.1 11.1-18.8 12.7-16.7 14.3-13.5 15.9-10.2 17.4-7.1 19.1-4.7 20.6-2.9 20.7-1.6 22.2-1M355.3 541.9l11.1-.1 8-.2 7.9-.3 9.5-.5 11.1-.6 12.7-.7 14.3-.9 15.9-1 17.4-1.1 19.1-1.3 20.6-1.4 20.7-1.3 22.2-1.5M355.3 541.9l11.1-1.6 8-2.6 7.9-3.7 9.5-5.4 11.1-7.2 12.7-9 14.3-10.4 15.9-11.4 17.4-12 19.1-11.9 20.6-11.5 20.7-9.9 22.2-9M355.3 541.9l11.1-3.3 8-5.3 7.9-6.9 9.5-9.5 11.1-11.9 12.7-13.7 14.3-14.4 15.9-14.4 17.4-13.5 19.1-11.9 20.6-10 20.7-7.5 22.2-5.9M355.3 541.9l11.1-1.9 8-3.2 7.9-4.2 9.5-6 11.1-7.8 12.7-9.3 14.3-10.5 15.9-11.2 17.4-11.3 19.1-11.1 20.6-10.5 20.7-8.9 22.2-8.1M355.3 541.9l11.1-1.2 8-2.2 7.9-2.8 9.5-4.3 11.1-5.6 12.7-7 14.3-8.1 15.9-9.1 17.4-9.7 19.1-9.9 20.6-9.8 20.7-8.9 22.2-8.4M355.3 541.9l11.1-7.8 8-11.3 7.9-13.1 9.5-16 11.1-17.4 12.7-17.1 14.3-15.5 15.9-12.8 17.4-10 19.1-7.4 20.6-5.1 20.7-3.1 22.2-2.1M355.3 541.9l11.1-1.2 8-2.1 7.9-2.9 9.5-4 11.1-5.4 12.7-6.6 14.3-7.7 15.9-8.5 17.4-8.9 19.1-9.2 20.6-9.2 20.7-8.2 22.2-8M355.3 541.9l11.1-6.1 8-9.4 7.9-11.4 9.5-14.5 11.1-16.5 12.7-17.1 14.3-16.2 15.9-14.1 17.4-11.5 19.1-8.7 20.6-6.1 20.7-3.9 22.2-2.6M355.3 541.9l11.1-10.1 8-13.7 7.9-15 9.5-17.3 11.1-17.7 12.7-16.5 14.3-14.2 15.9-11.3 17.4-8.6 19.1-6.2 20.6-4.2 20.7-2.6 22.2-1.8M355.3 541.9l11.1-2.1 8-3.5 7.9-4.6 9.5-6.4 11.1-8.4 12.7-9.8 14.3-11 15.9-11.6 17.4-11.6 19.1-11.2 20.6-10.5 20.7-8.8 22.2-7.8M355.3 541.9l11.1-1.9 8-3.3 7.9-4.4 9.5-6.3 11.1-8.4 12.7-10.2 14.3-11.6 15.9-12.5 17.4-12.7 19.1-12.3 20.6-11.5 20.7-9.6 22.2-8.3M355.3 541.9l11.1-1.3 8-2.3 7.9-3.1 9.5-4.3 11.1-5.8 12.7-7 14.3-8 15.9-8.8 17.4-9.2 19.1-9.4 20.6-9.2 20.7-8.3 22.2-8M355.3 541.9l11.1-1.6 8-2.8 7.9-3.8 9.5-5.5 11.1-7.4 12.7-9 14.3-10.3 15.9-11.4 17.4-11.8 19.1-11.7 20.6-11.2 20.7-9.6 22.2-8.7M355.3 541.9l11.1-4.1 8-6.4 7.9-8 9.5-10.7 11.1-12.9 12.7-14.2 14.3-14.5 15.9-13.9 17.4-12.6 19.1-10.8 20.6-8.9 20.7-6.7 22.2-5.1M355.3 541.9l11.1-.2 8-.2 7.9-.4 9.5-.6 11.1-.8 12.7-1.1 14.3-1.4 15.9-1.6 17.4-1.9 19.1-2.2 20.6-2.4 20.7-2.4 22.2-2.5M355.3 541.9l11.1-3.9 8-6.4 7.9-8.1 9.5-10.9 11.1-13.4 12.7-14.8 14.3-15.4 15.9-14.7 17.4-13.2 19.1-11.3 20.6-9 20.7-6.4 22.2-4.8M355.3 541.9l11.1-3.8 8-6.2 7.9-7.8 9.5-10.4 11.1-12.7 12.7-14.2 14.3-14.5 15.9-14.1 17.4-12.9 19.1-11.1 20.6-9.1 20.7-6.8 22.2-5.3M355.3 541.9l11.1-5.3 8-8.2 7.9-10.1 9.5-13 11.1-15.3 12.7-16.1 14.3-15.7 15.9-14.3 17.4-12.1 19.1-9.7 20.6-7.3 20.7-5 22.2-3.5M355.3 541.9l11.1-4.7 8-7.1 7.9-8.7 9.5-11.4 11.1-13.3 12.7-14.3 14.3-14.2 15.9-13.5 17.4-11.9 19.1-10.2 20.6-8.4 20.7-6.3 22.2-4.9M355.3 541.9l11.1-4.5 8-6.8 7.9-8 9.5-10.1 11.1-11.8 12.7-12.5 14.3-12.6 15.9-12.1 17.4-11.1 19.1-10 20.6-8.7 20.7-6.9 22.2-5.8M355.3 541.9l11.1-.4 8-.7 7.9-1.1 9.5-1.6 11.1-2.3 12.7-3.1 14.3-3.8 15.9-4.6 17.4-5.3 19.1-6 20.6-6.5 20.7-6.4 22.2-6.7M355.3 541.9l11.1-5.7 8-8.9 7.9-10.8 9.5-13.9 11.1-16 12.7-16.7 14.3-16.1 15.9-14.3 17.4-11.8 19.1-9.2 20.6-6.6 20.7-4.4 22.2-2.9M355.3 541.9l11.1-10.5 8-14.8 7.9-16.5 9.5-19.2 11.1-19.7 12.7-17.9 14.3-14.7 15.9-10.9 17.4-7.5 19.1-4.6 20.6-2.7 20.7-1.4 22.2-.7M355.3 541.9l11.1-1.4 8-2.4 7.9-3.1 9.5-4.4 11.1-5.7 12.7-6.9 14.3-7.8 15.9-8.5 17.4-8.8 19.1-9 20.6-8.8 20.7-8 22.2-7.6M355.3 541.9l11.1-3.6 8-5.7 7.9-7 9.5-9.3 11.1-11 12.7-12.3 14.3-12.6 15.9-12.4 17.4-11.6 19.1-10.6 20.6-9.2 20.7-7.4 22.2-6.3M355.3 541.9l11.1-3.2 8-5.2 7.9-6.7 9.5-9.3 11.1-11.6 12.7-13.2 14.3-14 15.9-14 17.4-13.2 19.1-11.8 20.6-10 20.7-7.6 22.2-6.1M355.3 541.9l11.1-13.7 8-18 7.9-18.8 9.5-20.5 11.1-19.6 12.7-16.7 14.3-12.7 15.9-8.9 17.4-5.7 19.1-3.4 20.6-1.9 20.7-.9 22.2-.5M355.3 541.9l11.1-12 8-16 7.9-17 9.5-19 11.1-18.8 12.7-16.7 14.3-13.6 15.9-10.1 17.4-7.1 19.1-4.7 20.6-3 20.7-1.6 22.2-1M355.3 541.9l11.1-8.9 8-12.5 7.9-14.1 9.5-16.7 11.1-17.7 12.7-16.9 14.3-14.9 15.9-12.1 17.4-9.2 19.1-6.7 20.6-4.6 20.7-2.8 22.2-1.9M355.3 541.9l11.1-1.3 8-2.1 7.9-2.7 9.5-3.8 11.1-4.8 12.7-5.7 14.3-6.5 15.9-7.1 17.4-7.3 19.1-7.6 20.6-7.6 20.7-7 22.2-6.9M355.3 541.9l11.1-.2 8-.2 7.9-.3 9.5-.4 11.1-.6 12.7-.6 14.3-.7 15.9-.9 17.4-.9 19.1-1 20.6-1 20.7-1.1 22.2-1.1M355.3 541.9l11.1-9 8-13 7.9-14.7 9.5-17.6 11.1-18.7 12.7-17.7 14.3-15.2 15.9-12.1 17.4-8.9 19.1-6 20.6-3.9 20.7-2.1 22.2-1.3M355.3 541.9l11.1-7.4 8-10.5 7.9-12.1 9.5-14.7 11.1-16 12.7-15.8 14.3-14.7 15.9-12.6 17.4-10.4 19.1-8.2 20.6-6.1 20.7-4.2 22.2-3M355.3 541.9l11.1-1.8 8-2.9 7.9-3.8 9.5-5.4 11.1-6.8 12.7-8.1 14.3-9 15.9-9.6 17.4-9.9 19.1-9.8 20.6-9.4 20.7-8.3 22.2-7.8M355.3 541.9l11.1-5.3 8-8.2 7.9-10.1 9.5-13 11.1-15.3 12.7-16.1 14.3-15.7 15.9-14.3 17.4-12.1 19.1-9.7 20.6-7.3 20.7-4.9 22.2-3.5M355.3 541.9l11.1-2.8 8-4.4 7.9-5.7 9.5-7.6 11.1-9.5 12.7-10.9 14.3-11.6 15.9-11.8 17.4-11.5 19.1-10.7 20.6-9.8 20.7-8.1 22.2-7.1M355.3 541.9l11.1-8.4 8-12.3 7.9-14.2 9.5-17.3 11.1-18.7 12.7-18 14.3-15.7 15.9-12.7 17.4-9.3 19.1-6.3 20.6-4 20.7-2.2 22.2-1.3M355.3 541.9l11.1-2.7 8-4.6 7.9-6 9.5-8.4 11.1-10.6 12.7-12.5 14.3-13.5 15.9-13.8 17.4-13.3 19.1-12.2 20.6-10.6 20.7-8.3 22.2-6.8M355.3 541.9l11.1-5.6 8-8.5 7.9-10.2 9.5-12.9 11.1-14.8 12.7-15.4 14.3-14.9 15.9-13.5 17.4-11.6 19.1-9.4 20.6-7.4 20.7-5.2 22.2-3.9M355.3 541.9l11.1-7.7 8-11.1 7.9-12.9 9.5-15.7 11.1-17.1 12.7-16.9 14.3-15.2 15.9-12.9 17.4-10.1 19.1-7.5 20.6-5.4 20.7-3.4 22.2-2.2M355.3 541.9l11.1-5 8-7.7 7.9-9.5 9.5-12.5 11.1-14.7 12.7-15.7 14.3-15.6 15.9-14.3 17.4-12.3 19.1-10.1 20.6-7.7 20.7-5.4 22.2-3.9M355.3 541.9l11.1-1.4 8-2.3 7.9-3.3 9.5-4.8 11.1-6.5 12.7-8.1 14.3-9.7 15.9-10.7 17.4-11.4 19.1-11.7 20.6-11.4 20.7-10 22.2-9.3M355.3 541.9l11.1-8.8 8-12.6 7.9-14.6 9.5-17.6 11.1-18.7 12.7-18 14.3-15.5 15.9-12.4 17.4-9 19.1-6.1 20.6-3.8 20.7-2.1 22.2-1.2M355.3 541.9l11.1-6.8 8-10.3 7.9-12.3 9.5-15.5 11.1-17.4 12.7-17.5 14.3-16.2 15.9-13.8 17.4-10.8 19.1-7.9 20.6-5.4 20.7-3.2 22.2-2.1M355.3 541.9l11.1-7.9 8-11.4 7.9-13.2 9.5-16.1 11.1-17.4 12.7-17 14.3-15.3 15.9-12.7 17.4-10 19.1-7.3 20.6-5 20.7-3.2 22.2-2.1M355.3 541.9l11.1-3.7 8-5.7 7.9-6.9 9.5-9 11.1-10.7 12.7-11.7 14.3-12.1 15.9-11.9 17.4-11.3 19.1-10.2 20.6-9.2 20.7-7.4 22.2-6.4M355.3 541.9l11.1-.6 8-1 7.9-1.3 9.5-2.1 11.1-2.8 12.7-3.6 14.3-4.4 15.9-5.1 17.4-5.7 19.1-6.2 20.6-6.5 20.7-6.2 22.2-6.4M355.3 541.9l11.1-2.6 8-4.3 7.9-5.6 9.5-8 11.1-10.2 12.7-12.1 14.3-13.2 15.9-13.7 17.4-13.2 19.1-12.4 20.6-10.8 20.7-8.6 22.2-7.1M355.3 541.9l11.1-2.4 8-3.7 7.9-4.5 9.5-5.9 11.1-7.1 12.7-7.9 14.3-8.6 15.9-8.8 17.4-8.9 19.1-8.7 20.6-8.5 20.7-7.5 22.2-7.1M355.3 541.9l11.1-9.4 8-13.4 7.9-15.1 9.5-18 11.1-18.9 12.7-17.8 14.3-15.1 15.9-11.8 17.4-8.6 19.1-5.7 20.6-3.5 20.7-2 22.2-1.2M355.3 541.9l11.1-6.9 8-10 7.9-11.7 9.5-14.4 11.1-15.9 12.7-15.9 14.3-14.8 15.9-13 17.4-10.7 19.1-8.4 20.6-6.4 20.7-4.3 22.2-3.2M355.3 541.9l11.1-.2 8-.4 7.9-.4 9.5-.7 11.1-.8 12.7-.9 14.3-1.1 15.9-1.3 17.4-1.4 19.1-1.4 20.6-1.6 20.7-1.6 22.2-1.7M355.3 541.9l11.1-5.9 8-9 7.9-10.8 9.5-13.8 11.1-15.7 12.7-16.3 14.3-15.5 15.9-13.9 17.4-11.5 19.1-9 20.6-6.8 20.7-4.6 22.2-3.2M355.3 541.9l11.1-1.5 8-2.5 7.9-3.4 9.5-4.9 11.1-6.5 12.7-8 14.3-9.3 15.9-10.1 17.4-10.7 19.1-10.7 20.6-10.3 20.7-9.2 22.2-8.5M355.3 541.9l11.1-1 8-1.8 7.9-2.5 9.5-3.6 11.1-4.9 12.7-6.1 14.3-7.4 15.9-8.3 17.4-8.9 19.1-9.4 20.6-9.5 20.7-8.7 22.2-8.4M355.3 541.9l11.1-10.2 8-14.3 7.9-16.1 9.5-18.9 11.1-19.5 12.7-17.9 14.3-14.9 15.9-11.2 17.4-7.8 19.1-5 20.6-2.9 20.7-1.5 22.2-.8M355.3 541.9l11.1-2.3 8-3.8 7.9-4.7 9.5-6.5 11.1-8 12.7-9.2 14.3-10 15.9-10.4 17.4-10.3 19.1-9.9 20.6-9.4 20.7-8.1 22.2-7.4M355.3 541.9l11.1-1.8 8-2.7 7.9-3.3 9.5-4.3 11.1-5.3 12.7-6 14.3-6.5 15.9-6.9 17.4-7.2 19.1-7.2 20.6-7.3 20.7-6.6 22.2-6.6M355.3 541.9l11.1-4.8 8-7.3 7.9-9 9.5-11.6 11.1-13.6 12.7-14.6 14.3-14.5 15.9-13.5 17.4-12 19.1-10.1 20.6-8.3 20.7-6 22.2-4.7M355.3 541.9l11.1-1.4 8-2.3 7.9-3 9.5-4.2 11.1-5.3 12.7-6.3 14.3-7.1 15.9-7.7 17.4-8 19.1-8.2 20.6-8.1 20.7-7.4 22.2-7.2M355.3 541.9l11.1-.3 8-.6 7.9-.7 9.5-1.3 11.1-1.7 12.7-2.4 14.3-3.1 15.9-3.7 17.4-4.3 19.1-5 20.6-5.6 20.7-5.5 22.2-6M355.3 541.9l11.1-2.3 8-3.6 7.9-4.6 9.5-6.2 11.1-7.6 12.7-8.7 14.3-9.5 15.9-9.9 17.4-9.8 19.1-9.6 20.6-9.1 20.7-8 22.2-7.4M355.3 541.9l11.1-11.1 8-15.2 7.9-16.4 9.5-18.9 11.1-18.9 12.7-17.2 14.3-14 15.9-10.7 17.4-7.5 19.1-4.9 20.6-3.1 20.7-1.7 22.2-1M355.3 541.9l11.1-4.7 8-7.2 7.9-8.9 9.5-11.4 11.1-13.4 12.7-14.4 14.3-14.3 15.9-13.4 17.4-12 19.1-10.2 20.6-8.3 20.7-6.2 22.2-4.8M355.3 541.9l11.1-2 8-3.3 7.9-4.4 9.5-5.9 11.1-7.6 12.7-8.9 14.3-9.7 15.9-10.3 17.4-10.4 19.1-10.2 20.6-9.6 20.7-8.3 22.2-7.7M355.3 541.9l11.1-.7 8-1.2 7.9-1.7 9.5-2.5 11.1-3.3 12.7-4.2 14.3-5.1 15.9-5.8 17.4-6.3 19.1-6.9 20.6-7 20.7-6.8 22.2-6.8M355.3 541.9l11.1-11.3 8-15.1 7.9-16.3 9.5-18.5 11.1-18.4 12.7-16.7 14.3-13.8 15.9-10.7 17.4-7.6 19.1-5.3 20.6-3.3 20.7-2 22.2-1.2M355.3 541.9l11.1-5.8 8-8.8 7.9-10.7 9.5-13.7 11.1-15.8 12.7-16.5 14.3-15.8 15.9-14.1 17.4-11.7 19.1-9.2 20.6-6.8 20.7-4.5 22.2-3.1M355.3 541.9l11.1-7.9 8-11.3 7.9-13 9.5-15.7 11.1-17 12.7-16.7 14.3-15.1 15.9-12.6 17.4-10 19.1-7.5 20.6-5.4 20.7-3.4 22.2-2.3M355.3 541.9l11.1-2.1 8-3.4 7.9-4.4 9.5-6.1 11.1-7.8 12.7-9.2 14.3-10.1 15.9-10.7 17.4-10.7 19.1-10.4 20.6-9.8 20.7-8.5 22.2-7.7M355.3 541.9l11.1-6.5 8-9.7 7.9-11.6 9.5-14.8 11.1-16.5 12.7-17 14.3-15.8 15.9-13.8 17.4-11.1 19.1-8.4 20.6-6.1 20.7-3.8 22.2-2.6M355.3 541.9l11.1-1 8-1.6 7.9-2.2 9.5-3.1 11.1-4 12.7-4.9 14.3-5.7 15.9-6.2 17.4-6.6 19.1-6.9 20.6-7 20.7-6.6 22.2-6.6M355.3 541.9l11.1-2.5 8-3.7 7.9-4.7 9.5-6.1 11.1-7.5 12.7-8.3 14.3-9 15.9-9.3 17.4-9.3 19.1-9.1 20.6-8.7 20.7-7.7 22.2-7.2M355.3 541.9l11.1-3.8 8-6.1 7.9-7.7 9.5-10.5 11.1-12.6 12.7-14.1 14.3-14.6 15.9-14.1 17.4-12.9 19.1-11.1 20.6-9.3 20.7-6.8 22.2-5.3M355.3 541.9l11.1-4.4 8-6.4 7.9-7.6 9.5-9.5 11.1-11.1 12.7-11.7 14.3-11.9 15.9-11.6 17.4-10.8 19.1-9.8 20.6-8.8 20.7-7.1 22.2-6.2M355.3 541.9l11.1-2.6 8-3.8 7.9-4.6 9.5-5.9 11.1-7.1 12.7-7.9 14.3-8.5 15.9-8.7 17.4-8.7 19.1-8.6 20.6-8.3 20.7-7.4 22.2-7.1M355.3 541.9l11.1-9.7 8-13.3 7.9-14.9 9.5-17.3 11.1-17.9 12.7-16.8 14.3-14.5 15.9-11.6 17.4-8.7 19.1-6.2 20.6-4.2 20.7-2.6 22.2-1.7M355.3 541.9l11.1-7.8 8-11.3 7.9-13.2 9.5-16.1 11.1-17.5 12.7-17.2 14.3-15.4 15.9-12.9 17.4-10 19.1-7.3 20.6-5 20.7-3.1 22.2-2M355.3 541.9l11.1-.1 8-.1 7.9-.1 9.5-.3 11.1-.3 12.7-.5 14.3-.6 15.9-.8 17.4-.9 19.1-1.1 20.6-1.3 20.7-1.2 22.2-1.4M355.3 541.9l11.1-3.8 8-6.1 7.9-7.6 9.5-10.3 11.1-12.5 12.7-13.9 14.3-14.4 15.9-13.9 17.4-12.7 19.1-11.1 20.6-9.2 20.7-7 22.2-5.4M355.3 541.9l11.1-6.1 8-9.3 7.9-11.2 9.5-14.5 11.1-16.5 12.7-17.1 14.3-16.2 15.9-14.2 17.4-11.5 19.1-8.8 20.6-6.2 20.7-4 22.2-2.5M355.3 541.9l11.1-1.9 8-3.2 7.9-4.3 9.5-6.3 11.1-8.3 12.7-10.1 14.3-11.4 15.9-12.4 17.4-12.6 19.1-12.2 20.6-11.5 20.7-9.5 22.2-8.4M355.3 541.9l11.1-9.5 8-13 7.9-14.5 9.5-16.8 11.1-17.5 12.7-16.6 14.3-14.3 15.9-11.7 17.4-9 19.1-6.6 20.6-4.5 20.7-2.9 22.2-1.9M355.3 541.9l11.1-4.8 8-7.4 7.9-9.4 9.5-12.3 11.1-14.5 12.7-15.7 14.3-15.7 15.9-14.5 17.4-12.6 19.1-10.3 20.6-7.9 20.7-5.5 22.2-3.9M355.3 541.9l11.1-5.7 8-8.4 7.9-10.2 9.5-12.8 11.1-14.7 12.7-15.2 14.3-14.7 15.9-13.3 17.4-11.5 19.1-9.4 20.6-7.5 20.7-5.3 22.2-4M355.3 541.9l11.1-.7 8-1.1 7.9-1.7 9.5-2.6 11.1-3.5 12.7-4.7 14.3-5.8 15.9-6.9 17.4-7.8 19.1-8.5 20.6-9 20.7-8.6 22.2-8.7M355.3 541.9l11.1-8.9 8-12.9 7.9-14.8 9.5-17.8 11.1-18.9 12.7-17.9 14.3-15.5 15.9-12.2 17.4-8.9 19.1-5.9 20.6-3.7 20.7-2 22.2-1.1M355.3 541.9l11.1-1.4 8-2.4 7.9-3.2 9.5-4.8 11.1-6.3 12.7-7.9 14.3-9.1 15.9-10.1 17.4-10.7 19.1-10.8 20.6-10.6 20.7-9.4 22.2-8.7M355.3 541.9l11.1-.2 8-.3 7.9-.5 9.5-.8 11.1-1 12.7-1.4 14.3-1.8 15.9-2.1 17.4-2.4 19.1-2.8 20.6-3 20.7-3 22.2-3.3M355.3 541.9l11.1-.8 8-1.3 7.9-1.5 9.5-2.2 11.1-2.7 12.7-3.1 14.3-3.6 15.9-3.9 17.4-4.1 19.1-4.4 20.6-4.6 20.7-4.4 22.2-4.5M355.3 541.9l11.1-5.3 8-8.2 7.9-10.2 9.5-13.2 11.1-15.5 12.7-16.4 14.3-16 15.9-14.5 17.4-12.2 19.1-9.7 20.6-7.2 20.7-4.8 22.2-3.3M355.3 541.9l11.1-5.7 8-8.4 7.9-9.9 9.5-12.4 11.1-14 12.7-14.5 14.3-14.1 15.9-12.9 17.4-11.3 19.1-9.4 20.6-7.7 20.7-5.6 22.2-4.5M355.3 541.9l11.1-6.1 8-9.2 7.9-11.1 9.5-14.3 11.1-16.2 12.7-16.8 14.3-16 15.9-14 17.4-11.5 19.1-8.9 20.6-6.4 20.7-4.1 22.2-2.8M355.3 541.9l11.1-2.6 8-4.2 7.9-5.5 9.5-7.5 11.1-9.3 12.7-10.8 14.3-11.7 15.9-12 17.4-11.7 19.1-11 20.6-10 20.7-8.3 22.2-7.3M355.3 541.9l11.1-2.6 8-4.1 7.9-5.5 9.5-7.5 11.1-9.4 12.7-11 14.3-12 15.9-12.2 17.4-12 19.1-11.3 20.6-10.2 20.7-8.4 22.2-7.3M355.3 541.9l11.1-.7 8-1.2 7.9-1.6 9.5-2.5 11.1-3.2 12.7-4.1 14.3-4.8 15.9-5.6 17.4-6 19.1-6.5 20.6-6.7 20.7-6.3 22.2-6.5M355.3 541.9l11.1-8.1 8-11.9 7.9-13.9 9.5-16.9 11.1-18.4 12.7-17.9 14.3-15.8 15.9-12.9 17.4-9.5 19.1-6.7 20.6-4.2 20.7-2.5 22.2-1.4M355.3 541.9l11.1-.7 8-1.1 7.9-1.6 9.5-2.4 11.1-3.2 12.7-4.2 14.3-5 15.9-5.9 17.4-6.5 19.1-7 20.6-7.4 20.7-7 22.2-7.1M355.3 541.9l11.1-10.2 8-14 7.9-15.6 9.5-18.1 11.1-18.6 12.7-17.2 14.3-14.5 15.9-11.3 17.4-8.2 19.1-5.5 20.6-3.6 20.7-2.1 22.2-1.3M355.3 541.9l11.1-.7 8-1.1 7.9-1.7 9.5-2.4 11.1-3.4 12.7-4.4 14.3-5.4 15.9-6.3 17.4-7 19.1-7.6 20.6-8 20.7-7.6 22.2-7.7M355.3 541.9l11.1-3.1 8-4.7 7.9-5.9 9.5-7.8 11.1-9.3 12.7-10.4 14.3-11 15.9-11 17.4-10.7 19.1-10.1 20.6-9.3 20.7-7.8 22.2-7M355.3 541.9l11.1-.4 8-.8 7.9-1 9.5-1.5 11.1-2 12.7-2.6 14.3-3.1 15.9-3.7 17.4-4 19.1-4.4 20.6-4.6 20.7-4.6 22.2-4.7M355.3 541.9l11.1-2.7 8-4.4 7.9-5.7 9.5-7.6 11.1-9.5 12.7-10.9 14.3-11.6 15.9-11.9 17.4-11.5 19.1-10.8 20.6-9.8 20.7-8.2 22.2-7.1M355.3 541.9l11.1 0 8-.1 7.9 0 9.5-.1 11.1-.1 12.7-.2 14.3-.2 15.9-.2 17.4-.4 19.1-.4 20.6-.4 20.7-.5 22.2-.5M355.3 541.9l11.1-.7 8-.9 7.9-1.3 9.5-1.6 11.1-2.1 12.7-2.4 14.3-2.7 15.9-2.9 17.4-3.2 19.1-3.4 20.6-3.6 20.7-3.4 22.2-3.6M355.3 541.9l11.1-4.5 8-7.2 7.9-9 9.5-12 11.1-14.3 12.7-15.7 14.3-15.8 15.9-14.7 17.4-12.9 19.1-10.6 20.6-8.2 20.7-5.6 22.2-4.1M355.3 541.9l11.1-9.3 8-12.9 7.9-14.2 9.5-16.6 11.1-17.3 12.7-16.4 14.3-14.4 15.9-11.8 17.4-9.1 19.1-6.7 20.6-4.7 20.7-3 22.2-2.1M355.3 541.9l11.1-.9 8-1.5 7.9-2.1 9.5-3.3 11.1-4.4 12.7-5.9 14.3-7.1 15.9-8.2 17.4-9.2 19.1-9.8 20.6-10.1 20.7-9.4 22.2-9.3M355.3 541.9l11.1-4.1 8-6.6 7.9-8.4 9.5-11.3 11.1-13.7 12.7-15.1 14.3-15.5 15.9-14.7 17.4-13.2 19.1-11 20.6-8.8 20.7-6.2 22.2-4.5M355.3 541.9l11.1-9.6 8-13.7 7.9-15.5 9.5-18.4 11.1-19.2 12.7-17.9 14.3-15.1 15.9-11.7 17.4-8.2 19.1-5.4 20.6-3.3 20.7-1.8 22.2-.9M355.3 541.9l11.1-6 8-9.1 7.9-10.9 9.5-14 11.1-16 12.7-16.5 14.3-15.7 15.9-14 17.4-11.5 19.1-9 20.6-6.6 20.7-4.4 22.2-3M355.3 541.9l11.1-9 8-12.5 7.9-14.1 9.5-16.8 11.1-17.6 12.7-16.8 14.3-14.7 15.9-12 17.4-9.3 19.1-6.7 20.6-4.6 20.7-2.9 22.2-1.9M355.3 541.9l11.1-1.2 8-2 7.9-2.8 9.5-4.1 11.1-5.4 12.7-6.8 14.3-7.9 15.9-8.9 17.4-9.4 19.1-9.8 20.6-9.7 20.7-8.7 22.2-8.5M355.3 541.9l11.1-4.9 8-7.6 7.9-9.5 9.5-12.5 11.1-14.8 12.7-15.9 14.3-15.7 15.9-14.5 17.4-12.5 19.1-10.2 20.6-7.8 20.7-5.3 22.2-3.8M355.3 541.9l11.1-6.5 8-9.8 7.9-11.7 9.5-14.9 11.1-16.7 12.7-17 14.3-16 15.9-13.8 17.4-11.1 19.1-8.3 20.6-6 20.7-3.8 22.2-2.4M355.3 541.9l11.1-7.6 8-11.3 7.9-13.3 9.5-16.4 11.1-18 12.7-17.7 14.3-16 15.9-13.1 17.4-10.1 19.1-7.1 20.6-4.7 20.7-2.8 22.2-1.6M355.3 541.9l11.1-7.4 8-10.9 7.9-12.9 9.5-16 11.1-17.6 12.7-17.6 14.3-15.9 15.9-13.3 17.4-10.3 19.1-7.5 20.6-5 20.7-3 22.2-1.9M355.3 541.9l11.1-5.8 8-8.9 7.9-10.9 9.5-14.1 11.1-16.2 12.7-16.9 14.3-16.2 15.9-14.4 17.4-11.8 19.1-9.1 20.6-6.5 20.7-4.2 22.2-2.7M355.3 541.9l11.1-14.8 8-19.1 7.9-19.5 9.5-21 11.1-19.6 12.7-16.2 14.3-12.1 15.9-8.3 17.4-5.1 19.1-3 20.6-1.5 20.7-.8 22.2-.4M355.3 541.9l11.1-3.7 8-5.9 7.9-7.4 9.5-10.1 11.1-12.2 12.7-13.7 14.3-14.2 15.9-13.8 17.4-12.7 19.1-11.2 20.6-9.3 20.7-7.1 22.2-5.6M355.3 541.9l11.1-3.1 8-5 7.9-6.6 9.5-9.2 11.1-11.4 12.7-13.3 14.3-14.1 15.9-14.2 17.4-13.4 19.1-12 20.6-10.3 20.7-7.7 22.2-6.3M355.3 541.9l11.1-3.6 8-5.9 7.9-7.4 9.5-10 11.1-12.2 12.7-13.7 14.3-14.3 15.9-14 17.4-12.8 19.1-11.3 20.6-9.4 20.7-7.1 22.2-5.6M355.3 541.9l11.1-14.3 8-18.5 7.9-19.1 9.5-20.8 11.1-19.6 12.7-16.5 14.3-12.4 15.9-8.5 17.4-5.5 19.1-3.1 20.6-1.8 20.7-.8 22.2-.4M355.3 541.9l11.1-2.8 8-4.6 7.9-6 9.5-8.5 11.1-10.7 12.7-12.6 14.3-13.7 15.9-14 17.4-13.5 19.1-12.2 20.6-10.7 20.7-8.3 22.2-6.7M355.3 541.9l11.1-2.8 8-4.7 7.9-6.1 9.5-8.6 11.1-10.9 12.7-12.7 14.3-13.7 15.9-14 17.4-13.4 19.1-12.2 20.6-10.6 20.7-8.2 22.2-6.6M355.3 541.9l11.1-4 8-6.4 7.9-8 9.5-10.5 11.1-12.7 12.7-14 14.3-14.3 15.9-13.7 17.4-12.4 19.1-10.8 20.6-8.9 20.7-6.8 22.2-5.3M355.3 541.9l11.1-7.6 8-11.3 7.9-13.2 9.5-16.4 11.1-17.9 12.7-17.8 14.3-15.9 15.9-13.2 17.4-10.1 19.1-7.1 20.6-4.8 20.7-2.7 22.2-1.7M355.3 541.9l11.1-4.4 8-6.9 7.9-8.7 9.5-11.5 11.1-13.8 12.7-15 14.3-15.1 15.9-14.2 17.4-12.7 19.1-10.6 20.6-8.4 20.7-6.1 22.2-4.6M355.3 541.9l11.1-.6 8-.9 7.9-1.3 9.5-1.8 11.1-2.4 12.7-3 14.3-3.4 15.9-3.8 17.4-4.2 19.1-4.5 20.6-4.7 20.7-4.5 22.2-4.7M355.3 541.9l11.1-1.5 8-2.4 7.9-3 9.5-4.1 11.1-5 12.7-5.8 14.3-6.3 15.9-6.8 17.4-7.1 19.1-7.2 20.6-7.2 20.7-6.7 22.2-6.6M355.3 541.9l11.1-3.8 8-5.7 7.9-6.9 9.5-8.9 11.1-10.6 12.7-11.6 14.3-11.8 15.9-11.7 17.4-11 19.1-10.2 20.6-9 20.7-7.4 22.2-6.5M355.3 541.9l11.1-14.1 8-18.4 7.9-19.2 9.5-21 11.1-19.9 12.7-16.7 14.3-12.5 15.9-8.6 17.4-5.3 19.1-3 20.6-1.6 20.7-.8 22.2-.3M355.3 541.9l11.1-1.9 8-3.3 7.9-4.4 9.5-6.1 11.1-8 12.7-9.6 14.3-10.8 15.9-11.5 17.4-11.6 19.1-11.3 20.6-10.6 20.7-8.9 22.2-8.1M355.3 541.9l11.1-4.1 8-6.4 7.9-7.8 9.5-10.2 11.1-12 12.7-13.1 14.3-13.3 15.9-12.9 17.4-11.7 19.1-10.5 20.6-8.9 20.7-6.9 22.2-5.7M355.3 541.9l11.1-9.8 8-13.9 7.9-15.8 9.5-18.5 11.1-19.3 12.7-18 14.3-15 15.9-11.6 17.4-8 19.1-5.3 20.6-3.1 20.7-1.6 22.2-1M355.3 541.9l11.1-2.1 8-3.5 7.9-4.7 9.5-6.8 11.1-8.9 12.7-10.7 14.3-12.1 15.9-12.8 17.4-13 19.1-12.4 20.6-11.3 20.7-9.4 22.2-8.1M355.3 541.9l11.1-2.7 8-4.3 7.9-5.6 9.5-7.7 11.1-9.6 12.7-11 14.3-11.9 15.9-12.1 17.4-11.8 19.1-11.1 20.6-10 20.7-8.2 22.2-7.2M355.3 541.9l11.1-5 8-7.8 7.9-9.7 9.5-12.7 11.1-15 12.7-16 14.3-15.9 15.9-14.6 17.4-12.4 19.1-10 20.6-7.7 20.7-5.1 22.2-3.6" class="fg" fill="none" stroke-width="0.7"/>
<path d="M355.3 400.4H545.8" stroke="#e00" stroke-width=".9"/>
</g>
<rect x="566.4" y="389.5" width="52.7" height="38.3" fill="#fff" stroke="#222" stroke-width="1"/>
<path d="M571.2 398.5h20.8" stroke="#e07060" stroke-width="1"/>
<text x="598.6" y="401.1" class="lg2">LTR<tspan font-size="5" dy="1.8">R</tspan></text>
<path d="M571.2 408.4h20.8" stroke="#4070c0" stroke-width="1"/>
<text x="598.6" y="411.0" class="lg2">LTR<tspan font-size="5" dy="1.8">I</tspan></text>
<path d="M571.2 418h20.8" stroke="#90e090" stroke-width="1.4"/>
<text x="598.6" y="420.6" class="lg2">LTR<tspan font-size="5" dy="1.8">A</tspan></text>
</svg>
</body></html>
